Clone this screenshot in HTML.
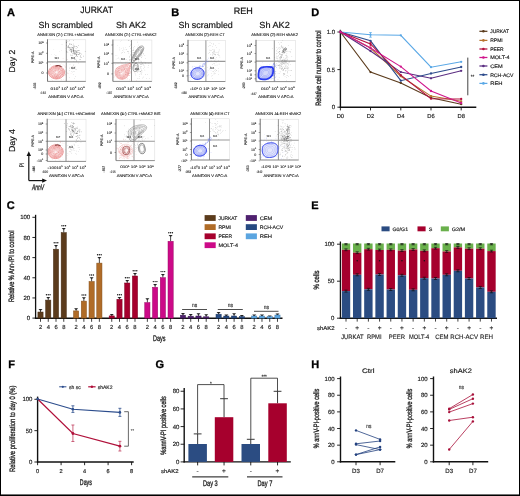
<!DOCTYPE html>
<html><head><meta charset="utf-8"><style>
html,body{margin:0;padding:0;background:#fff;}
svg{display:block;font-family:"Liberation Sans",sans-serif;will-change:transform;text-rendering:geometricPrecision;}
</style></head><body>
<svg width="520" height="496" viewBox="0 0 520 496">
<rect x="0" y="0" width="520" height="496" fill="#fff"/>
<text x="7.10" y="15.60" font-size="11" text-anchor="start" font-weight="bold" fill="#000" stroke="#000" stroke-width="0.3">A</text>
<text x="171.20" y="15.80" font-size="11" text-anchor="start" font-weight="bold" fill="#000" stroke="#000" stroke-width="0.3">B</text>
<text x="6.70" y="208.80" font-size="11" text-anchor="start" font-weight="bold" fill="#000" stroke="#000" stroke-width="0.3">C</text>
<text x="311.20" y="16.10" font-size="11" text-anchor="start" font-weight="bold" fill="#000" stroke="#000" stroke-width="0.3">D</text>
<text x="311.30" y="209.20" font-size="11" text-anchor="start" font-weight="bold" fill="#000" stroke="#000" stroke-width="0.3">E</text>
<text x="8.30" y="367.80" font-size="11" text-anchor="start" font-weight="bold" fill="#000" stroke="#000" stroke-width="0.3">F</text>
<text x="155.50" y="367.80" font-size="11" text-anchor="start" font-weight="bold" fill="#000" stroke="#000" stroke-width="0.3">G</text>
<text x="311.20" y="367.80" font-size="11" text-anchor="start" font-weight="bold" fill="#000" stroke="#000" stroke-width="0.3">H</text>
<text x="80.20" y="13.40" font-size="9.2" text-anchor="start" font-weight="normal" fill="#111" textLength="32.70" lengthAdjust="spacingAndGlyphs" stroke="#111" stroke-width="0.184">JURKAT</text>
<text x="233.80" y="13.60" font-size="9.2" text-anchor="start" font-weight="normal" fill="#111" textLength="19.00" lengthAdjust="spacingAndGlyphs" stroke="#111" stroke-width="0.184">REH</text>
<text x="38.50" y="27.60" font-size="8.8" text-anchor="start" font-weight="normal" fill="#111" textLength="54.30" lengthAdjust="spacingAndGlyphs" stroke="#111" stroke-width="0.176">Sh scrambled</text>
<text x="115.90" y="27.60" font-size="8.8" text-anchor="start" font-weight="normal" fill="#111" textLength="30.00" lengthAdjust="spacingAndGlyphs" stroke="#111" stroke-width="0.176">Sh AK2</text>
<text x="178.50" y="27.60" font-size="8.8" text-anchor="start" font-weight="normal" fill="#111" textLength="54.30" lengthAdjust="spacingAndGlyphs" stroke="#111" stroke-width="0.176">Sh scrambled</text>
<text x="259.30" y="27.60" font-size="8.8" text-anchor="start" font-weight="normal" fill="#111" textLength="30.50" lengthAdjust="spacingAndGlyphs" stroke="#111" stroke-width="0.176">Sh AK2</text>
<text transform="translate(15.20,61.10) rotate(-90)" font-size="8.7" text-anchor="middle" font-weight="normal" fill="#111" textLength="22.60" lengthAdjust="spacingAndGlyphs" stroke="#111" stroke-width="0.174">Day 2</text>
<text transform="translate(15.20,140.50) rotate(-90)" font-size="8.7" text-anchor="middle" font-weight="normal" fill="#111" textLength="23.00" lengthAdjust="spacingAndGlyphs" stroke="#111" stroke-width="0.174">Day 4</text>
<text transform="translate(24.30,165.00) rotate(-90)" font-size="6.6" text-anchor="middle" font-weight="normal" fill="#111" textLength="5.00" lengthAdjust="spacingAndGlyphs" stroke="#111" stroke-width="0.132">PI</text>
<line x1="28.80" y1="154.00" x2="28.80" y2="180.60" stroke="#111" stroke-width="1.2"/>
<polygon points="28.8,151.2 26.6,156 31.0,156" fill="#111"/>
<line x1="28.80" y1="180.60" x2="44.00" y2="180.60" stroke="#111" stroke-width="1.2"/>
<polygon points="47,180.6 42.2,178.4 42.2,182.8" fill="#111"/>
<text x="31.90" y="189.80" font-size="8.2" text-anchor="start" font-weight="normal" fill="#111" textLength="12.20" lengthAdjust="spacingAndGlyphs" font-style="italic" stroke="#111" stroke-width="0.25">AnnV</text>
<text x="37.20" y="35.90" font-size="4.0" text-anchor="start" font-weight="normal" fill="#1a1a1a" textLength="56.80" lengthAdjust="spacingAndGlyphs" stroke="#1a1a1a" stroke-width="0.1">ANNEXIN (2-) CTRL+shControl</text>
<rect x="47.50" y="39.80" width="38.30" height="41.60" fill="#fff" stroke="#d8d8d8" stroke-width="0.5"/>
<line x1="66.30" y1="39.80" x2="66.30" y2="81.40" stroke="#888" stroke-width="0.9"/>
<line x1="47.50" y1="61.90" x2="85.80" y2="61.90" stroke="#999" stroke-width="1.1"/>
<circle cx="54.96" cy="74.56" r="0.3" fill="#e07070" opacity="0.45"/>
<circle cx="55.14" cy="70.42" r="0.3" fill="#e07070" opacity="0.45"/>
<circle cx="50.92" cy="70.93" r="0.3" fill="#e07070" opacity="0.45"/>
<circle cx="63.17" cy="74.12" r="0.3" fill="#e07070" opacity="0.45"/>
<circle cx="62.72" cy="73.24" r="0.3" fill="#e07070" opacity="0.45"/>
<circle cx="58.87" cy="72.93" r="0.3" fill="#e07070" opacity="0.45"/>
<circle cx="59.54" cy="74.49" r="0.3" fill="#e07070" opacity="0.45"/>
<circle cx="51.16" cy="69.66" r="0.3" fill="#e07070" opacity="0.45"/>
<circle cx="58.33" cy="71.77" r="0.3" fill="#e07070" opacity="0.45"/>
<circle cx="59.63" cy="68.79" r="0.3" fill="#e07070" opacity="0.45"/>
<circle cx="58.35" cy="73.97" r="0.3" fill="#e07070" opacity="0.45"/>
<circle cx="52.53" cy="80.59" r="0.3" fill="#e07070" opacity="0.45"/>
<circle cx="59.84" cy="77.99" r="0.3" fill="#e07070" opacity="0.45"/>
<circle cx="52.78" cy="68.30" r="0.3" fill="#e07070" opacity="0.45"/>
<circle cx="54.44" cy="71.47" r="0.3" fill="#e07070" opacity="0.45"/>
<circle cx="60.29" cy="73.24" r="0.3" fill="#e07070" opacity="0.45"/>
<circle cx="53.82" cy="67.22" r="0.3" fill="#e07070" opacity="0.45"/>
<circle cx="53.38" cy="78.10" r="0.3" fill="#e07070" opacity="0.45"/>
<circle cx="51.65" cy="73.22" r="0.3" fill="#e07070" opacity="0.45"/>
<circle cx="59.06" cy="64.55" r="0.3" fill="#e07070" opacity="0.45"/>
<circle cx="56.79" cy="78.53" r="0.3" fill="#e07070" opacity="0.45"/>
<circle cx="55.86" cy="67.91" r="0.3" fill="#e07070" opacity="0.45"/>
<circle cx="59.48" cy="71.69" r="0.3" fill="#e07070" opacity="0.45"/>
<circle cx="47.71" cy="76.14" r="0.3" fill="#e07070" opacity="0.45"/>
<circle cx="60.52" cy="76.73" r="0.3" fill="#e07070" opacity="0.45"/>
<circle cx="65.14" cy="73.81" r="0.3" fill="#e07070" opacity="0.45"/>
<circle cx="57.22" cy="65.50" r="0.3" fill="#e07070" opacity="0.45"/>
<circle cx="60.19" cy="68.94" r="0.3" fill="#e07070" opacity="0.45"/>
<circle cx="53.78" cy="65.68" r="0.3" fill="#e07070" opacity="0.45"/>
<circle cx="50.69" cy="69.34" r="0.3" fill="#e07070" opacity="0.45"/>
<circle cx="64.23" cy="61.84" r="0.3" fill="#e07070" opacity="0.45"/>
<circle cx="47.75" cy="73.20" r="0.3" fill="#e07070" opacity="0.45"/>
<circle cx="65.16" cy="74.89" r="0.3" fill="#e07070" opacity="0.45"/>
<circle cx="58.64" cy="68.32" r="0.3" fill="#e07070" opacity="0.45"/>
<circle cx="49.78" cy="76.89" r="0.3" fill="#e07070" opacity="0.45"/>
<circle cx="63.11" cy="72.79" r="0.3" fill="#e07070" opacity="0.45"/>
<circle cx="57.97" cy="74.17" r="0.3" fill="#e07070" opacity="0.45"/>
<circle cx="66.06" cy="75.10" r="0.3" fill="#e07070" opacity="0.45"/>
<circle cx="59.61" cy="74.74" r="0.3" fill="#e07070" opacity="0.45"/>
<circle cx="62.23" cy="74.65" r="0.3" fill="#e07070" opacity="0.45"/>
<circle cx="61.55" cy="62.94" r="0.3" fill="#e07070" opacity="0.45"/>
<circle cx="55.40" cy="77.10" r="0.3" fill="#e07070" opacity="0.45"/>
<circle cx="48.63" cy="80.05" r="0.3" fill="#e07070" opacity="0.45"/>
<circle cx="59.81" cy="71.25" r="0.3" fill="#e07070" opacity="0.45"/>
<circle cx="58.45" cy="75.25" r="0.3" fill="#e07070" opacity="0.45"/>
<circle cx="57.22" cy="77.73" r="0.3" fill="#e07070" opacity="0.45"/>
<circle cx="52.53" cy="69.93" r="0.3" fill="#e07070" opacity="0.45"/>
<circle cx="62.75" cy="72.13" r="0.3" fill="#e07070" opacity="0.45"/>
<circle cx="51.22" cy="76.73" r="0.3" fill="#e07070" opacity="0.45"/>
<circle cx="65.29" cy="69.78" r="0.3" fill="#e07070" opacity="0.45"/>
<circle cx="48.22" cy="71.33" r="0.3" fill="#e07070" opacity="0.45"/>
<circle cx="55.61" cy="70.51" r="0.3" fill="#e07070" opacity="0.45"/>
<circle cx="64.93" cy="66.87" r="0.3" fill="#e07070" opacity="0.45"/>
<circle cx="64.06" cy="65.66" r="0.3" fill="#e07070" opacity="0.45"/>
<circle cx="51.78" cy="75.16" r="0.3" fill="#e07070" opacity="0.45"/>
<circle cx="63.27" cy="76.30" r="0.3" fill="#e07070" opacity="0.45"/>
<circle cx="58.57" cy="72.71" r="0.3" fill="#e07070" opacity="0.45"/>
<circle cx="57.41" cy="74.88" r="0.3" fill="#e07070" opacity="0.45"/>
<circle cx="55.44" cy="73.39" r="0.3" fill="#e07070" opacity="0.45"/>
<circle cx="59.94" cy="72.00" r="0.3" fill="#e07070" opacity="0.45"/>
<circle cx="61.08" cy="74.83" r="0.3" fill="#e07070" opacity="0.45"/>
<circle cx="68.56" cy="73.62" r="0.3" fill="#e07070" opacity="0.45"/>
<circle cx="53.93" cy="70.14" r="0.3" fill="#e07070" opacity="0.45"/>
<circle cx="56.42" cy="76.62" r="0.3" fill="#e07070" opacity="0.45"/>
<circle cx="54.48" cy="73.93" r="0.3" fill="#e07070" opacity="0.45"/>
<circle cx="67.52" cy="59.18" r="0.3" fill="#e07070" opacity="0.45"/>
<circle cx="49.76" cy="73.22" r="0.3" fill="#e07070" opacity="0.45"/>
<circle cx="58.89" cy="73.19" r="0.3" fill="#e07070" opacity="0.45"/>
<circle cx="53.91" cy="75.28" r="0.3" fill="#e07070" opacity="0.45"/>
<circle cx="58.19" cy="69.39" r="0.3" fill="#e07070" opacity="0.45"/>
<circle cx="71.08" cy="73.78" r="0.3" fill="#e07070" opacity="0.45"/>
<circle cx="53.17" cy="71.50" r="0.3" fill="#e07070" opacity="0.45"/>
<circle cx="55.15" cy="71.69" r="0.3" fill="#e07070" opacity="0.45"/>
<circle cx="62.55" cy="66.16" r="0.3" fill="#e07070" opacity="0.45"/>
<circle cx="56.10" cy="76.77" r="0.3" fill="#e07070" opacity="0.45"/>
<circle cx="61.64" cy="79.46" r="0.3" fill="#e07070" opacity="0.45"/>
<circle cx="54.45" cy="75.12" r="0.3" fill="#e07070" opacity="0.45"/>
<circle cx="63.05" cy="58.59" r="0.3" fill="#e07070" opacity="0.45"/>
<circle cx="63.03" cy="64.76" r="0.3" fill="#e07070" opacity="0.45"/>
<circle cx="60.60" cy="64.54" r="0.3" fill="#e07070" opacity="0.45"/>
<circle cx="57.56" cy="77.97" r="0.3" fill="#e07070" opacity="0.45"/>
<circle cx="55.60" cy="72.96" r="0.3" fill="#e07070" opacity="0.45"/>
<circle cx="61.28" cy="72.71" r="0.3" fill="#e07070" opacity="0.45"/>
<circle cx="55.97" cy="79.67" r="0.3" fill="#e07070" opacity="0.45"/>
<circle cx="62.79" cy="70.53" r="0.3" fill="#e07070" opacity="0.45"/>
<circle cx="72.97" cy="66.27" r="0.3" fill="#e07070" opacity="0.45"/>
<circle cx="61.99" cy="70.67" r="0.3" fill="#e07070" opacity="0.45"/>
<circle cx="57.29" cy="75.53" r="0.3" fill="#e07070" opacity="0.45"/>
<circle cx="57.83" cy="75.19" r="0.3" fill="#e07070" opacity="0.45"/>
<circle cx="60.19" cy="67.18" r="0.3" fill="#e07070" opacity="0.45"/>
<circle cx="50.34" cy="64.65" r="0.3" fill="#e07070" opacity="0.45"/>
<circle cx="64.10" cy="75.73" r="0.3" fill="#e07070" opacity="0.45"/>
<circle cx="65.34" cy="67.31" r="0.3" fill="#e07070" opacity="0.45"/>
<circle cx="56.51" cy="66.30" r="0.3" fill="#e07070" opacity="0.45"/>
<circle cx="61.10" cy="79.95" r="0.3" fill="#e07070" opacity="0.45"/>
<circle cx="51.16" cy="79.80" r="0.3" fill="#e07070" opacity="0.45"/>
<circle cx="62.43" cy="71.11" r="0.3" fill="#e07070" opacity="0.45"/>
<circle cx="55.92" cy="68.99" r="0.3" fill="#e07070" opacity="0.45"/>
<circle cx="58.90" cy="74.05" r="0.3" fill="#e07070" opacity="0.45"/>
<circle cx="65.49" cy="66.90" r="0.3" fill="#e07070" opacity="0.45"/>
<circle cx="63.32" cy="79.44" r="0.3" fill="#e07070" opacity="0.45"/>
<circle cx="65.21" cy="71.10" r="0.3" fill="#e07070" opacity="0.45"/>
<circle cx="52.04" cy="77.09" r="0.3" fill="#e07070" opacity="0.45"/>
<circle cx="57.19" cy="72.62" r="0.3" fill="#e07070" opacity="0.45"/>
<circle cx="65.05" cy="70.68" r="0.3" fill="#e07070" opacity="0.45"/>
<circle cx="58.40" cy="68.94" r="0.3" fill="#e07070" opacity="0.45"/>
<circle cx="56.44" cy="76.16" r="0.3" fill="#e07070" opacity="0.45"/>
<circle cx="56.97" cy="78.63" r="0.3" fill="#e07070" opacity="0.45"/>
<circle cx="56.13" cy="77.20" r="0.3" fill="#e07070" opacity="0.45"/>
<circle cx="65.45" cy="80.05" r="0.3" fill="#e07070" opacity="0.45"/>
<circle cx="52.47" cy="76.40" r="0.3" fill="#e07070" opacity="0.45"/>
<circle cx="49.11" cy="71.94" r="0.3" fill="#e07070" opacity="0.45"/>
<circle cx="55.35" cy="71.86" r="0.3" fill="#e07070" opacity="0.45"/>
<circle cx="52.95" cy="73.17" r="0.3" fill="#e07070" opacity="0.45"/>
<circle cx="67.25" cy="72.22" r="0.3" fill="#e07070" opacity="0.45"/>
<circle cx="59.69" cy="77.00" r="0.3" fill="#e07070" opacity="0.45"/>
<circle cx="55.31" cy="65.70" r="0.3" fill="#e07070" opacity="0.45"/>
<circle cx="53.17" cy="77.37" r="0.3" fill="#e07070" opacity="0.45"/>
<circle cx="62.54" cy="75.96" r="0.3" fill="#e07070" opacity="0.45"/>
<circle cx="56.55" cy="76.03" r="0.3" fill="#e07070" opacity="0.45"/>
<circle cx="57.50" cy="66.11" r="0.3" fill="#e07070" opacity="0.45"/>
<circle cx="62.04" cy="69.17" r="0.3" fill="#e07070" opacity="0.45"/>
<circle cx="51.09" cy="68.15" r="0.3" fill="#e07070" opacity="0.45"/>
<circle cx="49.42" cy="73.82" r="0.3" fill="#e07070" opacity="0.45"/>
<circle cx="52.65" cy="62.29" r="0.3" fill="#e07070" opacity="0.45"/>
<circle cx="60.85" cy="70.62" r="0.3" fill="#e07070" opacity="0.45"/>
<circle cx="58.25" cy="69.71" r="0.3" fill="#e07070" opacity="0.45"/>
<circle cx="61.18" cy="75.74" r="0.3" fill="#e07070" opacity="0.45"/>
<circle cx="60.50" cy="73.63" r="0.3" fill="#e07070" opacity="0.45"/>
<circle cx="64.50" cy="75.30" r="0.3" fill="#e07070" opacity="0.45"/>
<circle cx="59.21" cy="61.58" r="0.3" fill="#e07070" opacity="0.45"/>
<path d="M64.50,72.30 C64.50,73.40 64.09,74.65 63.43,75.60 C62.76,76.55 61.65,77.47 60.50,78.02 C59.35,78.57 57.83,78.90 56.50,78.90 C55.17,78.90 53.65,78.57 52.50,78.02 C51.35,77.47 50.24,76.55 49.57,75.60 C48.91,74.65 48.50,73.40 48.50,72.30 C48.50,71.20 48.91,69.95 49.57,69.00 C50.24,68.05 51.35,67.13 52.50,66.58 C53.65,66.03 55.17,65.70 56.50,65.70 C57.83,65.70 59.35,66.03 60.50,66.58 C61.65,67.13 62.76,68.05 63.43,69.00 C64.09,69.95 64.50,71.20 64.50,72.30Z" fill="#f2a8a8" fill-opacity="0.12"/>
<path d="M64.50,72.30 C64.50,73.40 64.09,74.65 63.43,75.60 C62.76,76.55 61.65,77.47 60.50,78.02 C59.35,78.57 57.83,78.90 56.50,78.90 C55.17,78.90 53.65,78.57 52.50,78.02 C51.35,77.47 50.24,76.55 49.57,75.60 C48.91,74.65 48.50,73.40 48.50,72.30 C48.50,71.20 48.91,69.95 49.57,69.00 C50.24,68.05 51.35,67.13 52.50,66.58 C53.65,66.03 55.17,65.70 56.50,65.70 C57.83,65.70 59.35,66.03 60.50,66.58 C61.65,67.13 62.76,68.05 63.43,69.00 C64.09,69.95 64.50,71.20 64.50,72.30Z" fill="none" stroke="#dd3c3c" stroke-width="0.5" stroke-opacity="0.95"/>
<path d="M63.30,72.30 C63.30,73.23 62.96,74.30 62.39,75.10 C61.82,75.91 60.88,76.69 59.90,77.16 C58.92,77.63 57.63,77.91 56.50,77.91 C55.37,77.91 54.08,77.63 53.10,77.16 C52.12,76.69 51.18,75.91 50.61,75.10 C50.04,74.30 49.70,73.23 49.70,72.30 C49.70,71.36 50.04,70.30 50.61,69.50 C51.18,68.69 52.12,67.91 53.10,67.44 C54.08,66.97 55.37,66.69 56.50,66.69 C57.63,66.69 58.92,66.97 59.90,67.44 C60.88,67.91 61.82,68.69 62.39,69.50 C62.96,70.30 63.30,71.36 63.30,72.30Z" fill="none" stroke="#dd3c3c" stroke-width="0.5" stroke-opacity="0.85"/>
<path d="M62.10,72.30 C62.10,73.07 61.82,73.94 61.35,74.61 C60.88,75.28 60.11,75.92 59.30,76.30 C58.49,76.69 57.43,76.92 56.50,76.92 C55.57,76.92 54.51,76.69 53.70,76.30 C52.89,75.92 52.12,75.28 51.65,74.61 C51.18,73.94 50.90,73.07 50.90,72.30 C50.90,71.53 51.18,70.66 51.65,69.99 C52.12,69.32 52.89,68.68 53.70,68.30 C54.51,67.91 55.57,67.68 56.50,67.68 C57.43,67.68 58.49,67.91 59.30,68.30 C60.11,68.68 60.88,69.32 61.35,69.99 C61.82,70.66 62.10,71.53 62.10,72.30Z" fill="none" stroke="#dd3c3c" stroke-width="0.5" stroke-opacity="0.75"/>
<path d="M60.90,72.30 C60.90,72.91 60.68,73.59 60.31,74.11 C59.94,74.64 59.34,75.14 58.70,75.44 C58.06,75.75 57.23,75.93 56.50,75.93 C55.77,75.93 54.94,75.75 54.30,75.44 C53.66,75.14 53.06,74.64 52.69,74.11 C52.32,73.59 52.10,72.91 52.10,72.30 C52.10,71.69 52.32,71.01 52.69,70.48 C53.06,69.96 53.66,69.46 54.30,69.16 C54.94,68.85 55.77,68.67 56.50,68.67 C57.23,68.67 58.06,68.85 58.70,69.16 C59.34,69.46 59.94,69.96 60.31,70.48 C60.68,71.01 60.90,71.69 60.90,72.30Z" fill="none" stroke="#dd3c3c" stroke-width="0.5" stroke-opacity="0.65"/>
<path d="M59.70,72.30 C59.70,72.74 59.54,73.24 59.27,73.62 C59.00,74.00 58.56,74.37 58.10,74.59 C57.64,74.81 57.03,74.94 56.50,74.94 C55.97,74.94 55.36,74.81 54.90,74.59 C54.44,74.37 54.00,74.00 53.73,73.62 C53.46,73.24 53.30,72.74 53.30,72.30 C53.30,71.86 53.46,71.36 53.73,70.98 C54.00,70.60 54.44,70.23 54.90,70.01 C55.36,69.79 55.97,69.66 56.50,69.66 C57.03,69.66 57.64,69.79 58.10,70.01 C58.56,70.23 59.00,70.60 59.27,70.98 C59.54,71.36 59.70,71.86 59.70,72.30Z" fill="none" stroke="#dd3c3c" stroke-width="0.5" stroke-opacity="0.55"/>
<path d="M58.50,72.30 C58.50,72.58 58.40,72.89 58.23,73.12 C58.07,73.36 57.79,73.59 57.50,73.73 C57.21,73.87 56.83,73.95 56.50,73.95 C56.17,73.95 55.79,73.87 55.50,73.73 C55.21,73.59 54.93,73.36 54.77,73.12 C54.60,72.89 54.50,72.58 54.50,72.30 C54.50,72.02 54.60,71.71 54.77,71.47 C54.93,71.24 55.21,71.01 55.50,70.87 C55.79,70.73 56.17,70.65 56.50,70.65 C56.83,70.65 57.21,70.73 57.50,70.87 C57.79,71.01 58.07,71.24 58.23,71.47 C58.40,71.71 58.50,72.02 58.50,72.30Z" fill="none" stroke="#dd3c3c" stroke-width="0.5" stroke-opacity="0.45"/>
<path d="M55.5,66 q3,-1.2 6,0.5" stroke="#5a0d0d" stroke-width="0.9" fill="none"/>
<circle cx="76.27" cy="52.33" r="0.3" fill="#333" opacity="0.8"/>
<circle cx="73.07" cy="45.27" r="0.3" fill="#333" opacity="0.8"/>
<circle cx="81.31" cy="57.79" r="0.3" fill="#333" opacity="0.8"/>
<circle cx="78.37" cy="50.78" r="0.3" fill="#333" opacity="0.8"/>
<circle cx="73.26" cy="43.95" r="0.3" fill="#333" opacity="0.8"/>
<circle cx="77.12" cy="56.47" r="0.3" fill="#333" opacity="0.8"/>
<circle cx="66.41" cy="45.69" r="0.3" fill="#333" opacity="0.8"/>
<circle cx="76.52" cy="46.36" r="0.3" fill="#333" opacity="0.8"/>
<circle cx="66.70" cy="42.24" r="0.3" fill="#333" opacity="0.8"/>
<circle cx="71.48" cy="44.25" r="0.3" fill="#333" opacity="0.8"/>
<circle cx="74.13" cy="51.98" r="0.3" fill="#333" opacity="0.8"/>
<circle cx="76.54" cy="55.24" r="0.3" fill="#333" opacity="0.8"/>
<circle cx="80.01" cy="59.25" r="0.3" fill="#333" opacity="0.8"/>
<circle cx="68.75" cy="45.64" r="0.3" fill="#333" opacity="0.8"/>
<circle cx="69.76" cy="44.26" r="0.3" fill="#333" opacity="0.8"/>
<circle cx="73.67" cy="50.80" r="0.3" fill="#333" opacity="0.8"/>
<circle cx="75.96" cy="46.61" r="0.3" fill="#333" opacity="0.8"/>
<circle cx="69.05" cy="47.58" r="0.3" fill="#333" opacity="0.8"/>
<circle cx="73.20" cy="49.34" r="0.3" fill="#333" opacity="0.8"/>
<circle cx="73.75" cy="48.09" r="0.3" fill="#333" opacity="0.8"/>
<circle cx="76.81" cy="54.17" r="0.3" fill="#333" opacity="0.8"/>
<circle cx="73.65" cy="48.34" r="0.3" fill="#333" opacity="0.8"/>
<circle cx="73.30" cy="40.73" r="0.3" fill="#333" opacity="0.8"/>
<circle cx="70.07" cy="48.48" r="0.3" fill="#333" opacity="0.8"/>
<circle cx="67.98" cy="47.66" r="0.3" fill="#333" opacity="0.8"/>
<circle cx="74.59" cy="46.44" r="0.3" fill="#333" opacity="0.8"/>
<circle cx="73.00" cy="49.19" r="0.3" fill="#333" opacity="0.8"/>
<circle cx="75.84" cy="54.44" r="0.3" fill="#333" opacity="0.8"/>
<circle cx="73.85" cy="47.84" r="0.3" fill="#333" opacity="0.8"/>
<circle cx="73.42" cy="50.37" r="0.3" fill="#333" opacity="0.8"/>
<circle cx="76.94" cy="54.04" r="0.3" fill="#333" opacity="0.8"/>
<circle cx="71.11" cy="44.17" r="0.3" fill="#333" opacity="0.8"/>
<circle cx="72.51" cy="47.33" r="0.3" fill="#333" opacity="0.8"/>
<circle cx="69.55" cy="47.58" r="0.3" fill="#333" opacity="0.8"/>
<circle cx="72.04" cy="50.05" r="0.3" fill="#333" opacity="0.8"/>
<circle cx="76.09" cy="50.93" r="0.3" fill="#333" opacity="0.8"/>
<circle cx="83.30" cy="56.12" r="0.3" fill="#333" opacity="0.8"/>
<circle cx="78.41" cy="54.41" r="0.3" fill="#333" opacity="0.8"/>
<circle cx="78.46" cy="45.46" r="0.3" fill="#333" opacity="0.8"/>
<circle cx="70.99" cy="49.86" r="0.3" fill="#333" opacity="0.8"/>
<circle cx="76.41" cy="61.04" r="0.3" fill="#333" opacity="0.8"/>
<circle cx="75.29" cy="56.48" r="0.3" fill="#333" opacity="0.8"/>
<circle cx="77.07" cy="56.48" r="0.3" fill="#333" opacity="0.8"/>
<circle cx="76.04" cy="51.82" r="0.3" fill="#333" opacity="0.8"/>
<circle cx="76.04" cy="48.49" r="0.3" fill="#333" opacity="0.8"/>
<circle cx="78.73" cy="50.53" r="0.3" fill="#333" opacity="0.8"/>
<circle cx="75.00" cy="59.31" r="0.3" fill="#333" opacity="0.8"/>
<circle cx="73.11" cy="50.47" r="0.3" fill="#333" opacity="0.8"/>
<circle cx="78.65" cy="54.23" r="0.3" fill="#333" opacity="0.8"/>
<circle cx="70.77" cy="49.75" r="0.3" fill="#333" opacity="0.8"/>
<circle cx="76.33" cy="55.13" r="0.3" fill="#333" opacity="0.8"/>
<circle cx="70.91" cy="55.22" r="0.3" fill="#333" opacity="0.8"/>
<circle cx="80.67" cy="55.57" r="0.3" fill="#333" opacity="0.8"/>
<circle cx="75.07" cy="50.18" r="0.3" fill="#333" opacity="0.8"/>
<circle cx="79.66" cy="52.28" r="0.3" fill="#333" opacity="0.8"/>
<circle cx="76.70" cy="51.09" r="0.3" fill="#333" opacity="0.8"/>
<circle cx="71.22" cy="51.71" r="0.3" fill="#333" opacity="0.8"/>
<circle cx="79.34" cy="54.56" r="0.3" fill="#333" opacity="0.8"/>
<circle cx="71.29" cy="52.09" r="0.3" fill="#333" opacity="0.8"/>
<circle cx="73.80" cy="51.98" r="0.3" fill="#333" opacity="0.8"/>
<circle cx="80.09" cy="59.19" r="0.3" fill="#333" opacity="0.8"/>
<circle cx="71.92" cy="57.82" r="0.3" fill="#333" opacity="0.8"/>
<circle cx="74.01" cy="53.84" r="0.3" fill="#333" opacity="0.8"/>
<circle cx="71.41" cy="49.09" r="0.3" fill="#333" opacity="0.8"/>
<circle cx="67.00" cy="52.71" r="0.3" fill="#333" opacity="0.8"/>
<circle cx="79.46" cy="50.31" r="0.3" fill="#333" opacity="0.8"/>
<circle cx="67.98" cy="41.10" r="0.3" fill="#333" opacity="0.8"/>
<circle cx="78.70" cy="52.52" r="0.3" fill="#333" opacity="0.8"/>
<circle cx="73.76" cy="49.71" r="0.3" fill="#333" opacity="0.8"/>
<circle cx="73.52" cy="46.76" r="0.3" fill="#333" opacity="0.8"/>
<circle cx="74.10" cy="45.89" r="0.3" fill="#333" opacity="0.8"/>
<circle cx="73.71" cy="51.92" r="0.3" fill="#333" opacity="0.8"/>
<circle cx="75.87" cy="51.43" r="0.3" fill="#333" opacity="0.8"/>
<circle cx="70.39" cy="49.13" r="0.3" fill="#333" opacity="0.8"/>
<circle cx="72.06" cy="55.33" r="0.3" fill="#333" opacity="0.8"/>
<circle cx="77.07" cy="52.66" r="0.3" fill="#333" opacity="0.8"/>
<circle cx="72.12" cy="47.20" r="0.3" fill="#333" opacity="0.8"/>
<circle cx="70.25" cy="47.20" r="0.3" fill="#333" opacity="0.8"/>
<circle cx="75.18" cy="53.65" r="0.3" fill="#333" opacity="0.8"/>
<circle cx="76.28" cy="60.09" r="0.3" fill="#333" opacity="0.8"/>
<circle cx="71.18" cy="49.14" r="0.3" fill="#333" opacity="0.8"/>
<circle cx="85.18" cy="51.82" r="0.3" fill="#333" opacity="0.8"/>
<circle cx="71.91" cy="50.20" r="0.3" fill="#333" opacity="0.8"/>
<circle cx="74.62" cy="52.89" r="0.3" fill="#333" opacity="0.8"/>
<circle cx="73.05" cy="51.67" r="0.3" fill="#333" opacity="0.8"/>
<circle cx="74.21" cy="53.92" r="0.3" fill="#333" opacity="0.8"/>
<circle cx="66.43" cy="42.70" r="0.3" fill="#333" opacity="0.8"/>
<circle cx="73.99" cy="47.28" r="0.3" fill="#333" opacity="0.8"/>
<circle cx="69.82" cy="50.44" r="0.3" fill="#333" opacity="0.8"/>
<circle cx="71.40" cy="51.53" r="0.3" fill="#333" opacity="0.8"/>
<circle cx="76.98" cy="54.12" r="0.3" fill="#333" opacity="0.8"/>
<circle cx="76.03" cy="52.00" r="0.3" fill="#333" opacity="0.8"/>
<circle cx="68.36" cy="47.09" r="0.3" fill="#333" opacity="0.8"/>
<circle cx="75.82" cy="50.32" r="0.3" fill="#333" opacity="0.8"/>
<circle cx="73.60" cy="53.43" r="0.3" fill="#333" opacity="0.8"/>
<circle cx="70.49" cy="50.93" r="0.3" fill="#333" opacity="0.8"/>
<circle cx="81.45" cy="54.03" r="0.3" fill="#333" opacity="0.8"/>
<circle cx="74.59" cy="50.85" r="0.3" fill="#333" opacity="0.8"/>
<circle cx="80.16" cy="56.30" r="0.3" fill="#333" opacity="0.8"/>
<circle cx="77.59" cy="50.94" r="0.3" fill="#333" opacity="0.8"/>
<circle cx="73.94" cy="50.92" r="0.3" fill="#333" opacity="0.8"/>
<circle cx="66.90" cy="51.39" r="0.3" fill="#333" opacity="0.8"/>
<circle cx="77.60" cy="47.13" r="0.3" fill="#333" opacity="0.8"/>
<circle cx="76.98" cy="52.54" r="0.3" fill="#333" opacity="0.8"/>
<circle cx="75.79" cy="53.53" r="0.3" fill="#333" opacity="0.8"/>
<circle cx="68.00" cy="46.19" r="0.3" fill="#333" opacity="0.8"/>
<circle cx="79.97" cy="52.96" r="0.3" fill="#333" opacity="0.8"/>
<circle cx="69.91" cy="43.34" r="0.3" fill="#333" opacity="0.8"/>
<circle cx="69.12" cy="48.91" r="0.3" fill="#333" opacity="0.8"/>
<circle cx="80.77" cy="57.12" r="0.3" fill="#333" opacity="0.8"/>
<circle cx="74.98" cy="59.70" r="0.3" fill="#333" opacity="0.8"/>
<circle cx="71.92" cy="47.17" r="0.3" fill="#333" opacity="0.8"/>
<circle cx="76.11" cy="54.40" r="0.3" fill="#333" opacity="0.8"/>
<circle cx="69.94" cy="44.05" r="0.3" fill="#333" opacity="0.8"/>
<circle cx="75.16" cy="52.68" r="0.3" fill="#333" opacity="0.8"/>
<circle cx="68.77" cy="46.74" r="0.3" fill="#333" opacity="0.8"/>
<circle cx="71.83" cy="51.19" r="0.3" fill="#333" opacity="0.8"/>
<circle cx="73.53" cy="50.38" r="0.3" fill="#333" opacity="0.8"/>
<circle cx="72.59" cy="53.84" r="0.3" fill="#333" opacity="0.8"/>
<circle cx="79.56" cy="53.43" r="0.3" fill="#333" opacity="0.8"/>
<circle cx="77.38" cy="50.56" r="0.3" fill="#333" opacity="0.8"/>
<circle cx="74.29" cy="53.89" r="0.3" fill="#333" opacity="0.8"/>
<circle cx="80.06" cy="53.71" r="0.3" fill="#333" opacity="0.8"/>
<circle cx="73.70" cy="51.51" r="0.3" fill="#333" opacity="0.8"/>
<circle cx="68.01" cy="47.01" r="0.3" fill="#333" opacity="0.8"/>
<circle cx="71.30" cy="50.51" r="0.3" fill="#333" opacity="0.8"/>
<circle cx="69.48" cy="40.83" r="0.3" fill="#333" opacity="0.8"/>
<circle cx="74.15" cy="52.04" r="0.3" fill="#333" opacity="0.8"/>
<circle cx="71.80" cy="52.72" r="0.3" fill="#333" opacity="0.8"/>
<circle cx="72.91" cy="48.08" r="0.3" fill="#333" opacity="0.8"/>
<circle cx="73.91" cy="61.73" r="0.27" fill="#666" opacity="0.6"/>
<circle cx="69.29" cy="67.92" r="0.27" fill="#666" opacity="0.6"/>
<circle cx="75.40" cy="67.35" r="0.27" fill="#666" opacity="0.6"/>
<circle cx="73.23" cy="65.38" r="0.27" fill="#666" opacity="0.6"/>
<circle cx="73.21" cy="74.65" r="0.27" fill="#666" opacity="0.6"/>
<circle cx="69.25" cy="77.46" r="0.27" fill="#666" opacity="0.6"/>
<circle cx="69.42" cy="68.07" r="0.27" fill="#666" opacity="0.6"/>
<circle cx="72.69" cy="72.10" r="0.27" fill="#666" opacity="0.6"/>
<circle cx="67.05" cy="59.60" r="0.27" fill="#666" opacity="0.6"/>
<circle cx="74.42" cy="71.18" r="0.27" fill="#666" opacity="0.6"/>
<circle cx="74.49" cy="78.52" r="0.27" fill="#666" opacity="0.6"/>
<circle cx="72.82" cy="69.02" r="0.27" fill="#666" opacity="0.6"/>
<circle cx="75.72" cy="69.48" r="0.27" fill="#666" opacity="0.6"/>
<circle cx="78.65" cy="63.05" r="0.27" fill="#666" opacity="0.6"/>
<circle cx="70.50" cy="54.22" r="0.27" fill="#666" opacity="0.6"/>
<circle cx="75.25" cy="66.51" r="0.27" fill="#666" opacity="0.6"/>
<circle cx="75.70" cy="76.62" r="0.27" fill="#666" opacity="0.6"/>
<circle cx="71.98" cy="66.98" r="0.27" fill="#666" opacity="0.6"/>
<circle cx="70.00" cy="64.65" r="0.27" fill="#666" opacity="0.6"/>
<circle cx="69.48" cy="70.56" r="0.27" fill="#666" opacity="0.6"/>
<circle cx="72.15" cy="68.27" r="0.27" fill="#666" opacity="0.6"/>
<circle cx="71.31" cy="71.66" r="0.27" fill="#666" opacity="0.6"/>
<circle cx="73.98" cy="67.43" r="0.27" fill="#666" opacity="0.6"/>
<circle cx="74.66" cy="67.39" r="0.27" fill="#666" opacity="0.6"/>
<circle cx="67.39" cy="73.82" r="0.27" fill="#666" opacity="0.6"/>
<circle cx="73.86" cy="64.17" r="0.27" fill="#666" opacity="0.6"/>
<circle cx="76.32" cy="69.38" r="0.27" fill="#666" opacity="0.6"/>
<circle cx="65.74" cy="74.44" r="0.27" fill="#666" opacity="0.6"/>
<circle cx="73.33" cy="71.57" r="0.27" fill="#666" opacity="0.6"/>
<circle cx="72.79" cy="67.40" r="0.27" fill="#666" opacity="0.6"/>
<circle cx="65.81" cy="71.89" r="0.27" fill="#666" opacity="0.6"/>
<circle cx="72.12" cy="66.85" r="0.27" fill="#666" opacity="0.6"/>
<circle cx="73.40" cy="68.31" r="0.27" fill="#666" opacity="0.6"/>
<circle cx="74.70" cy="66.52" r="0.27" fill="#666" opacity="0.6"/>
<circle cx="71.85" cy="59.44" r="0.27" fill="#666" opacity="0.6"/>
<circle cx="55.46" cy="55.38" r="0.25" fill="#888" opacity="0.5"/>
<circle cx="66.02" cy="50.18" r="0.25" fill="#888" opacity="0.5"/>
<circle cx="57.27" cy="59.92" r="0.25" fill="#888" opacity="0.5"/>
<circle cx="56.05" cy="55.67" r="0.25" fill="#888" opacity="0.5"/>
<circle cx="68.07" cy="52.20" r="0.25" fill="#888" opacity="0.5"/>
<circle cx="65.36" cy="48.45" r="0.25" fill="#888" opacity="0.5"/>
<circle cx="59.25" cy="51.61" r="0.25" fill="#888" opacity="0.5"/>
<circle cx="58.69" cy="57.65" r="0.25" fill="#888" opacity="0.5"/>
<circle cx="72.34" cy="48.67" r="0.25" fill="#888" opacity="0.5"/>
<circle cx="54.55" cy="54.49" r="0.25" fill="#888" opacity="0.5"/>
<circle cx="51.67" cy="54.49" r="0.25" fill="#888" opacity="0.5"/>
<circle cx="61.43" cy="50.61" r="0.25" fill="#888" opacity="0.5"/>
<circle cx="61.19" cy="44.25" r="0.25" fill="#888" opacity="0.5"/>
<circle cx="62.56" cy="44.28" r="0.25" fill="#888" opacity="0.5"/>
<circle cx="53.82" cy="49.22" r="0.25" fill="#888" opacity="0.5"/>
<text x="54.50" y="58.60" font-size="2.8" text-anchor="start" font-weight="normal" fill="#222" textLength="4.20" lengthAdjust="spacingAndGlyphs" stroke="#222" stroke-width="0.1">10.1</text>
<text x="71.00" y="58.60" font-size="2.8" text-anchor="start" font-weight="normal" fill="#222" textLength="4.20" lengthAdjust="spacingAndGlyphs" stroke="#222" stroke-width="0.1">10.1</text>
<text x="71.00" y="68.80" font-size="2.8" text-anchor="start" font-weight="normal" fill="#222" textLength="4.20" lengthAdjust="spacingAndGlyphs" stroke="#222" stroke-width="0.1">10.1</text>
<line x1="47.50" y1="39.30" x2="47.50" y2="81.40" stroke="#555" stroke-width="0.8"/>
<line x1="47.50" y1="81.40" x2="85.80" y2="81.40" stroke="#777" stroke-width="0.8"/>
<line x1="46.00" y1="43.00" x2="47.50" y2="43.00" stroke="#444" stroke-width="0.5"/>
<text x="43.50" y="44.30" font-size="3.6" text-anchor="end" font-weight="normal" fill="#222" stroke="#222" stroke-width="0.1">10<tspan dy="-1.44" font-size="2.16">3</tspan><tspan dy="1.44"></tspan></text>
<line x1="46.00" y1="53.30" x2="47.50" y2="53.30" stroke="#444" stroke-width="0.5"/>
<text x="43.50" y="54.60" font-size="3.6" text-anchor="end" font-weight="normal" fill="#222" stroke="#222" stroke-width="0.1">10<tspan dy="-1.44" font-size="2.16">2</tspan><tspan dy="1.44"></tspan></text>
<line x1="46.00" y1="63.00" x2="47.50" y2="63.00" stroke="#444" stroke-width="0.5"/>
<text x="43.50" y="64.30" font-size="3.6" text-anchor="end" font-weight="normal" fill="#222" stroke="#222" stroke-width="0.1">10<tspan dy="-1.44" font-size="2.16">1</tspan><tspan dy="1.44"></tspan></text>
<line x1="46.00" y1="73.00" x2="47.50" y2="73.00" stroke="#444" stroke-width="0.5"/>
<text x="43.50" y="74.30" font-size="3.6" text-anchor="end" font-weight="normal" fill="#222" stroke="#222" stroke-width="0.1">0</text>
<text x="50.50" y="89.80" font-size="3.7" text-anchor="start" font-weight="normal" fill="#222" textLength="34.00" lengthAdjust="spacingAndGlyphs" stroke="#222" stroke-width="0.1">010<tspan dy="-1.48" font-size="2.22">1</tspan><tspan dy="1.48"> 10</tspan><tspan dy="-1.48" font-size="2.22">1</tspan><tspan dy="1.48"> 10</tspan><tspan dy="-1.48" font-size="2.22">2</tspan><tspan dy="1.48"> 10</tspan><tspan dy="-1.48" font-size="2.22">3</tspan><tspan dy="1.48"></tspan></text>
<text transform="translate(33.90,57.50) rotate(-90)" font-size="3.6" text-anchor="middle" font-weight="normal" fill="#222" textLength="11.50" lengthAdjust="spacingAndGlyphs" stroke="#222" stroke-width="0.1">PIPE-A</text>
<text transform="translate(35.90,86.00) rotate(-90)" font-size="3.6" text-anchor="middle" font-weight="normal" fill="#222" textLength="6.60" lengthAdjust="spacingAndGlyphs" stroke="#222" stroke-width="0.1">-503</text>
<text x="40.10" y="94.10" font-size="3.6" text-anchor="start" font-weight="normal" fill="#222" textLength="6.00" lengthAdjust="spacingAndGlyphs" stroke="#222" stroke-width="0.1">-162</text>
<text x="48.20" y="97.90" font-size="3.8" text-anchor="start" font-weight="normal" fill="#1a1a1a" textLength="35.20" lengthAdjust="spacingAndGlyphs" stroke="#1a1a1a" stroke-width="0.1">ANNEXIN V APC-A</text>
<text x="105.00" y="35.70" font-size="4.0" text-anchor="start" font-weight="normal" fill="#1a1a1a" textLength="51.50" lengthAdjust="spacingAndGlyphs" stroke="#1a1a1a" stroke-width="0.1">ANNEXIN (2-) CTRL+shAK2</text>
<rect x="112.90" y="40.00" width="39.00" height="41.40" fill="#fff" stroke="#d8d8d8" stroke-width="0.5"/>
<line x1="131.50" y1="40.00" x2="131.50" y2="81.40" stroke="#888" stroke-width="0.9"/>
<line x1="112.90" y1="62.90" x2="151.90" y2="62.90" stroke="#999" stroke-width="1.1"/>
<circle cx="120.79" cy="75.86" r="0.3" fill="#e07070" opacity="0.5"/>
<circle cx="123.45" cy="70.21" r="0.3" fill="#e07070" opacity="0.5"/>
<circle cx="125.99" cy="79.12" r="0.3" fill="#e07070" opacity="0.5"/>
<circle cx="123.03" cy="73.65" r="0.3" fill="#e07070" opacity="0.5"/>
<circle cx="129.82" cy="73.21" r="0.3" fill="#e07070" opacity="0.5"/>
<circle cx="135.15" cy="63.07" r="0.3" fill="#e07070" opacity="0.5"/>
<circle cx="122.78" cy="73.88" r="0.3" fill="#e07070" opacity="0.5"/>
<circle cx="128.31" cy="75.01" r="0.3" fill="#e07070" opacity="0.5"/>
<circle cx="121.50" cy="67.26" r="0.3" fill="#e07070" opacity="0.5"/>
<circle cx="123.57" cy="76.65" r="0.3" fill="#e07070" opacity="0.5"/>
<circle cx="117.01" cy="67.38" r="0.3" fill="#e07070" opacity="0.5"/>
<circle cx="122.86" cy="63.28" r="0.3" fill="#e07070" opacity="0.5"/>
<circle cx="121.57" cy="70.04" r="0.3" fill="#e07070" opacity="0.5"/>
<circle cx="125.48" cy="68.84" r="0.3" fill="#e07070" opacity="0.5"/>
<circle cx="118.15" cy="70.23" r="0.3" fill="#e07070" opacity="0.5"/>
<circle cx="122.73" cy="69.01" r="0.3" fill="#e07070" opacity="0.5"/>
<circle cx="123.07" cy="75.38" r="0.3" fill="#e07070" opacity="0.5"/>
<circle cx="129.52" cy="79.67" r="0.3" fill="#e07070" opacity="0.5"/>
<circle cx="118.69" cy="70.11" r="0.3" fill="#e07070" opacity="0.5"/>
<circle cx="119.01" cy="71.85" r="0.3" fill="#e07070" opacity="0.5"/>
<circle cx="125.87" cy="65.89" r="0.3" fill="#e07070" opacity="0.5"/>
<circle cx="125.55" cy="71.88" r="0.3" fill="#e07070" opacity="0.5"/>
<circle cx="112.96" cy="73.31" r="0.3" fill="#e07070" opacity="0.5"/>
<circle cx="129.57" cy="63.59" r="0.3" fill="#e07070" opacity="0.5"/>
<circle cx="127.44" cy="72.94" r="0.3" fill="#e07070" opacity="0.5"/>
<circle cx="125.61" cy="73.99" r="0.3" fill="#e07070" opacity="0.5"/>
<circle cx="130.17" cy="70.99" r="0.3" fill="#e07070" opacity="0.5"/>
<circle cx="127.80" cy="70.16" r="0.3" fill="#e07070" opacity="0.5"/>
<circle cx="127.00" cy="68.34" r="0.3" fill="#e07070" opacity="0.5"/>
<circle cx="122.40" cy="79.79" r="0.3" fill="#e07070" opacity="0.5"/>
<circle cx="125.45" cy="71.29" r="0.3" fill="#e07070" opacity="0.5"/>
<circle cx="116.70" cy="68.44" r="0.3" fill="#e07070" opacity="0.5"/>
<circle cx="124.07" cy="76.23" r="0.3" fill="#e07070" opacity="0.5"/>
<circle cx="125.34" cy="74.36" r="0.3" fill="#e07070" opacity="0.5"/>
<circle cx="122.77" cy="78.08" r="0.3" fill="#e07070" opacity="0.5"/>
<circle cx="120.85" cy="69.53" r="0.3" fill="#e07070" opacity="0.5"/>
<circle cx="127.88" cy="72.29" r="0.3" fill="#e07070" opacity="0.5"/>
<circle cx="121.47" cy="69.41" r="0.3" fill="#e07070" opacity="0.5"/>
<circle cx="121.59" cy="74.81" r="0.3" fill="#e07070" opacity="0.5"/>
<circle cx="124.95" cy="66.56" r="0.3" fill="#e07070" opacity="0.5"/>
<circle cx="125.34" cy="72.81" r="0.3" fill="#e07070" opacity="0.5"/>
<circle cx="117.50" cy="75.48" r="0.3" fill="#e07070" opacity="0.5"/>
<circle cx="121.46" cy="70.49" r="0.3" fill="#e07070" opacity="0.5"/>
<circle cx="127.38" cy="77.94" r="0.3" fill="#e07070" opacity="0.5"/>
<circle cx="119.21" cy="73.97" r="0.3" fill="#e07070" opacity="0.5"/>
<circle cx="120.28" cy="77.38" r="0.3" fill="#e07070" opacity="0.5"/>
<circle cx="119.44" cy="75.65" r="0.3" fill="#e07070" opacity="0.5"/>
<circle cx="135.20" cy="60.57" r="0.3" fill="#e07070" opacity="0.5"/>
<circle cx="120.61" cy="74.25" r="0.3" fill="#e07070" opacity="0.5"/>
<circle cx="122.49" cy="68.99" r="0.3" fill="#e07070" opacity="0.5"/>
<circle cx="134.84" cy="72.36" r="0.3" fill="#e07070" opacity="0.5"/>
<circle cx="113.96" cy="75.84" r="0.3" fill="#e07070" opacity="0.5"/>
<circle cx="113.53" cy="77.18" r="0.3" fill="#e07070" opacity="0.5"/>
<circle cx="119.82" cy="72.65" r="0.3" fill="#e07070" opacity="0.5"/>
<circle cx="129.94" cy="72.53" r="0.3" fill="#e07070" opacity="0.5"/>
<circle cx="115.35" cy="64.37" r="0.3" fill="#e07070" opacity="0.5"/>
<circle cx="129.50" cy="75.33" r="0.3" fill="#e07070" opacity="0.5"/>
<circle cx="118.51" cy="75.87" r="0.3" fill="#e07070" opacity="0.5"/>
<circle cx="125.73" cy="74.91" r="0.3" fill="#e07070" opacity="0.5"/>
<circle cx="127.95" cy="75.30" r="0.3" fill="#e07070" opacity="0.5"/>
<circle cx="127.85" cy="60.94" r="0.3" fill="#e07070" opacity="0.5"/>
<circle cx="123.93" cy="74.21" r="0.3" fill="#e07070" opacity="0.5"/>
<circle cx="137.04" cy="67.71" r="0.3" fill="#e07070" opacity="0.5"/>
<circle cx="121.19" cy="72.16" r="0.3" fill="#e07070" opacity="0.5"/>
<circle cx="127.87" cy="70.01" r="0.3" fill="#e07070" opacity="0.5"/>
<circle cx="129.31" cy="68.45" r="0.3" fill="#e07070" opacity="0.5"/>
<circle cx="124.47" cy="69.63" r="0.3" fill="#e07070" opacity="0.5"/>
<circle cx="123.87" cy="68.89" r="0.3" fill="#e07070" opacity="0.5"/>
<circle cx="114.21" cy="76.92" r="0.3" fill="#e07070" opacity="0.5"/>
<circle cx="124.67" cy="69.49" r="0.3" fill="#e07070" opacity="0.5"/>
<circle cx="124.11" cy="76.46" r="0.3" fill="#e07070" opacity="0.5"/>
<circle cx="117.62" cy="71.50" r="0.3" fill="#e07070" opacity="0.5"/>
<circle cx="125.97" cy="74.37" r="0.3" fill="#e07070" opacity="0.5"/>
<circle cx="121.16" cy="62.52" r="0.3" fill="#e07070" opacity="0.5"/>
<circle cx="129.84" cy="73.48" r="0.3" fill="#e07070" opacity="0.5"/>
<circle cx="123.07" cy="70.75" r="0.3" fill="#e07070" opacity="0.5"/>
<circle cx="124.45" cy="70.08" r="0.3" fill="#e07070" opacity="0.5"/>
<circle cx="117.36" cy="68.67" r="0.3" fill="#e07070" opacity="0.5"/>
<circle cx="119.72" cy="69.24" r="0.3" fill="#e07070" opacity="0.5"/>
<circle cx="116.63" cy="74.86" r="0.3" fill="#e07070" opacity="0.5"/>
<circle cx="115.80" cy="74.97" r="0.3" fill="#e07070" opacity="0.5"/>
<circle cx="117.42" cy="73.59" r="0.3" fill="#e07070" opacity="0.5"/>
<circle cx="130.56" cy="72.91" r="0.3" fill="#e07070" opacity="0.5"/>
<circle cx="118.98" cy="72.22" r="0.3" fill="#e07070" opacity="0.5"/>
<circle cx="123.81" cy="64.20" r="0.3" fill="#e07070" opacity="0.5"/>
<circle cx="119.66" cy="72.73" r="0.3" fill="#e07070" opacity="0.5"/>
<circle cx="120.42" cy="72.36" r="0.3" fill="#e07070" opacity="0.5"/>
<circle cx="127.04" cy="75.45" r="0.3" fill="#e07070" opacity="0.5"/>
<circle cx="127.98" cy="74.65" r="0.3" fill="#e07070" opacity="0.5"/>
<circle cx="121.42" cy="71.92" r="0.3" fill="#e07070" opacity="0.5"/>
<circle cx="121.51" cy="70.59" r="0.3" fill="#e07070" opacity="0.5"/>
<circle cx="122.01" cy="64.24" r="0.3" fill="#e07070" opacity="0.5"/>
<circle cx="121.17" cy="71.89" r="0.3" fill="#e07070" opacity="0.5"/>
<circle cx="117.64" cy="71.89" r="0.3" fill="#e07070" opacity="0.5"/>
<circle cx="125.84" cy="71.26" r="0.3" fill="#e07070" opacity="0.5"/>
<circle cx="134.42" cy="60.27" r="0.3" fill="#e07070" opacity="0.5"/>
<circle cx="121.87" cy="63.79" r="0.3" fill="#e07070" opacity="0.5"/>
<circle cx="125.85" cy="70.64" r="0.3" fill="#e07070" opacity="0.5"/>
<circle cx="126.03" cy="61.91" r="0.3" fill="#e07070" opacity="0.5"/>
<circle cx="127.69" cy="73.67" r="0.3" fill="#e07070" opacity="0.5"/>
<circle cx="123.13" cy="69.36" r="0.3" fill="#e07070" opacity="0.5"/>
<circle cx="126.51" cy="69.82" r="0.3" fill="#e07070" opacity="0.5"/>
<circle cx="124.23" cy="69.70" r="0.3" fill="#e07070" opacity="0.5"/>
<circle cx="124.11" cy="75.39" r="0.3" fill="#e07070" opacity="0.5"/>
<circle cx="118.18" cy="71.85" r="0.3" fill="#e07070" opacity="0.5"/>
<circle cx="126.39" cy="72.65" r="0.3" fill="#e07070" opacity="0.5"/>
<circle cx="129.83" cy="80.96" r="0.3" fill="#e07070" opacity="0.5"/>
<circle cx="118.00" cy="63.36" r="0.3" fill="#e07070" opacity="0.5"/>
<circle cx="127.71" cy="78.88" r="0.3" fill="#e07070" opacity="0.5"/>
<circle cx="128.07" cy="75.66" r="0.3" fill="#e07070" opacity="0.5"/>
<circle cx="119.60" cy="68.79" r="0.3" fill="#e07070" opacity="0.5"/>
<circle cx="127.89" cy="67.90" r="0.3" fill="#e07070" opacity="0.5"/>
<circle cx="113.03" cy="67.51" r="0.3" fill="#e07070" opacity="0.5"/>
<circle cx="136.71" cy="80.66" r="0.3" fill="#e07070" opacity="0.5"/>
<circle cx="119.22" cy="68.72" r="0.3" fill="#e07070" opacity="0.5"/>
<circle cx="124.27" cy="68.63" r="0.3" fill="#e07070" opacity="0.5"/>
<circle cx="130.21" cy="71.65" r="0.3" fill="#e07070" opacity="0.5"/>
<circle cx="117.03" cy="77.89" r="0.3" fill="#e07070" opacity="0.5"/>
<circle cx="119.79" cy="73.00" r="0.3" fill="#e07070" opacity="0.5"/>
<circle cx="122.93" cy="70.59" r="0.3" fill="#e07070" opacity="0.5"/>
<circle cx="124.79" cy="68.88" r="0.3" fill="#e07070" opacity="0.5"/>
<circle cx="116.03" cy="68.59" r="0.3" fill="#e07070" opacity="0.5"/>
<circle cx="122.87" cy="72.25" r="0.3" fill="#e07070" opacity="0.5"/>
<circle cx="126.06" cy="72.54" r="0.3" fill="#e07070" opacity="0.5"/>
<circle cx="118.64" cy="68.81" r="0.3" fill="#e07070" opacity="0.5"/>
<circle cx="125.67" cy="74.38" r="0.3" fill="#e07070" opacity="0.5"/>
<circle cx="122.33" cy="71.22" r="0.3" fill="#e07070" opacity="0.5"/>
<circle cx="128.15" cy="72.07" r="0.3" fill="#e07070" opacity="0.5"/>
<circle cx="127.06" cy="74.62" r="0.3" fill="#e07070" opacity="0.5"/>
<circle cx="124.17" cy="77.88" r="0.3" fill="#e07070" opacity="0.5"/>
<circle cx="119.85" cy="70.39" r="0.3" fill="#e07070" opacity="0.5"/>
<circle cx="118.56" cy="68.41" r="0.3" fill="#e07070" opacity="0.5"/>
<circle cx="131.56" cy="79.92" r="0.3" fill="#e07070" opacity="0.5"/>
<circle cx="123.13" cy="74.56" r="0.3" fill="#e07070" opacity="0.5"/>
<circle cx="129.46" cy="75.63" r="0.3" fill="#e07070" opacity="0.5"/>
<circle cx="129.63" cy="66.32" r="0.3" fill="#e07070" opacity="0.5"/>
<circle cx="119.48" cy="74.04" r="0.3" fill="#e07070" opacity="0.5"/>
<circle cx="130.89" cy="72.47" r="0.3" fill="#e07070" opacity="0.5"/>
<circle cx="118.28" cy="70.40" r="0.3" fill="#e07070" opacity="0.5"/>
<circle cx="119.37" cy="68.14" r="0.3" fill="#e07070" opacity="0.5"/>
<circle cx="131.26" cy="69.18" r="0.3" fill="#e07070" opacity="0.5"/>
<path d="M130.60,63.60 C131.30,64.17 130.30,66.43 130.00,68.00 C129.70,69.57 129.33,71.45 128.80,73.00 C128.27,74.55 127.93,76.25 126.80,77.30 C125.67,78.35 123.60,79.25 122.00,79.30 C120.40,79.35 118.33,78.62 117.20,77.60 C116.07,76.58 115.33,74.70 115.20,73.20 C115.07,71.70 115.50,69.80 116.40,68.60 C117.30,67.40 119.03,66.67 120.60,66.00 C122.17,65.33 124.13,65.00 125.80,64.60 C127.47,64.20 129.90,63.03 130.60,63.60Z" fill="#f2b0b0" fill-opacity="0.1"/>
<path d="M130.60,63.60 C131.30,64.17 130.30,66.43 130.00,68.00 C129.70,69.57 129.33,71.45 128.80,73.00 C128.27,74.55 127.93,76.25 126.80,77.30 C125.67,78.35 123.60,79.25 122.00,79.30 C120.40,79.35 118.33,78.62 117.20,77.60 C116.07,76.58 115.33,74.70 115.20,73.20 C115.07,71.70 115.50,69.80 116.40,68.60 C117.30,67.40 119.03,66.67 120.60,66.00 C122.17,65.33 124.13,65.00 125.80,64.60 C127.47,64.20 129.90,63.03 130.60,63.60Z" fill="none" stroke="#dd4848" stroke-width="0.45" stroke-opacity="0.90"/>
<path d="M129.31,65.13 C129.91,65.61 129.06,67.54 128.80,68.87 C128.55,70.20 128.23,71.80 127.78,73.12 C127.33,74.44 127.04,75.88 126.08,76.77 C125.12,77.67 123.36,78.43 122.00,78.47 C120.64,78.52 118.88,77.89 117.92,77.03 C116.96,76.17 116.33,74.57 116.22,73.29 C116.11,72.02 116.48,70.40 117.24,69.38 C118.01,68.36 119.48,67.74 120.81,67.17 C122.14,66.60 123.81,66.32 125.23,65.98 C126.65,65.64 128.72,64.65 129.31,65.13Z" fill="none" stroke="#dd4848" stroke-width="0.45" stroke-opacity="0.80"/>
<path d="M128.02,66.66 C128.51,67.06 127.81,68.64 127.60,69.74 C127.39,70.84 127.13,72.16 126.76,73.24 C126.39,74.32 126.15,75.52 125.36,76.25 C124.57,76.98 123.12,77.61 122.00,77.65 C120.88,77.68 119.43,77.17 118.64,76.46 C117.85,75.75 117.33,74.43 117.24,73.38 C117.15,72.33 117.45,71.00 118.08,70.16 C118.71,69.32 119.92,68.81 121.02,68.34 C122.12,67.87 123.49,67.64 124.66,67.36 C125.83,67.08 127.53,66.26 128.02,66.66Z" fill="none" stroke="#dd4848" stroke-width="0.45" stroke-opacity="0.70"/>
<path d="M126.73,68.19 C127.11,68.50 126.56,69.75 126.40,70.61 C126.24,71.47 126.03,72.51 125.74,73.36 C125.45,74.21 125.26,75.15 124.64,75.72 C124.02,76.30 122.88,76.80 122.00,76.83 C121.12,76.85 119.98,76.45 119.36,75.89 C118.74,75.33 118.33,74.30 118.26,73.47 C118.19,72.64 118.42,71.60 118.92,70.94 C119.42,70.28 120.37,69.88 121.23,69.51 C122.09,69.14 123.17,68.96 124.09,68.74 C125.01,68.52 126.34,67.88 126.73,68.19Z" fill="none" stroke="#dd4848" stroke-width="0.45" stroke-opacity="0.60"/>
<path d="M125.44,69.72 C125.72,69.95 125.32,70.85 125.20,71.48 C125.08,72.11 124.93,72.86 124.72,73.48 C124.51,74.10 124.37,74.78 123.92,75.20 C123.47,75.62 122.64,75.98 122.00,76.00 C121.36,76.02 120.53,75.73 120.08,75.32 C119.63,74.91 119.33,74.16 119.28,73.56 C119.23,72.96 119.40,72.20 119.76,71.72 C120.12,71.24 120.81,70.95 121.44,70.68 C122.07,70.41 122.85,70.28 123.52,70.12 C124.19,69.96 125.16,69.49 125.44,69.72Z" fill="none" stroke="#dd4848" stroke-width="0.45" stroke-opacity="0.50"/>
<path d="M124.15,71.25 C124.32,71.39 124.08,71.96 124.00,72.35 C123.92,72.74 123.83,73.21 123.70,73.60 C123.57,73.99 123.48,74.41 123.20,74.67 C122.92,74.94 122.40,75.16 122.00,75.17 C121.60,75.19 121.08,75.00 120.80,74.75 C120.52,74.50 120.33,74.03 120.30,73.65 C120.27,73.28 120.38,72.80 120.60,72.50 C120.83,72.20 121.26,72.02 121.65,71.85 C122.04,71.68 122.53,71.60 122.95,71.50 C123.37,71.40 123.97,71.11 124.15,71.25Z" fill="none" stroke="#dd4848" stroke-width="0.45" stroke-opacity="0.40"/>
<path d="M131.40,61.20 C131.57,60.02 132.40,57.33 133.20,55.50 C134.00,53.67 135.10,51.68 136.20,50.20 C137.30,48.72 138.67,47.25 139.80,46.60 C140.93,45.95 142.37,45.87 143.00,46.30 C143.63,46.73 143.90,47.88 143.60,49.20 C143.30,50.52 142.27,52.63 141.20,54.20 C140.13,55.77 138.37,57.37 137.20,58.60 C136.03,59.83 135.03,60.93 134.20,61.60 C133.37,62.27 132.67,62.67 132.20,62.60 C131.73,62.53 131.23,62.38 131.40,61.20Z" fill="none" stroke="#444" stroke-width="0.5" stroke-opacity="0.95"/>
<path d="M132.82,59.56 C132.95,58.61 133.62,56.47 134.26,55.00 C134.90,53.53 135.78,51.95 136.66,50.76 C137.54,49.57 138.63,48.40 139.54,47.88 C140.45,47.36 141.59,47.29 142.10,47.64 C142.61,47.99 142.82,48.91 142.58,49.96 C142.34,51.01 141.51,52.71 140.66,53.96 C139.81,55.21 138.39,56.49 137.46,57.48 C136.53,58.47 135.73,59.35 135.06,59.88 C134.39,60.41 133.83,60.73 133.46,60.68 C133.09,60.63 132.69,60.51 132.82,59.56Z" fill="none" stroke="#444" stroke-width="0.5" stroke-opacity="0.83"/>
<path d="M134.24,57.92 C134.34,57.21 134.84,55.60 135.32,54.50 C135.80,53.40 136.46,52.21 137.12,51.32 C137.78,50.43 138.60,49.55 139.28,49.16 C139.96,48.77 140.82,48.72 141.20,48.98 C141.58,49.24 141.74,49.93 141.56,50.72 C141.38,51.51 140.76,52.78 140.12,53.72 C139.48,54.66 138.42,55.62 137.72,56.36 C137.02,57.10 136.42,57.76 135.92,58.16 C135.42,58.56 135.00,58.80 134.72,58.76 C134.44,58.72 134.14,58.63 134.24,57.92Z" fill="none" stroke="#444" stroke-width="0.5" stroke-opacity="0.72"/>
<path d="M135.66,56.28 C135.73,55.81 136.06,54.73 136.38,54.00 C136.70,53.27 137.14,52.47 137.58,51.88 C138.02,51.29 138.57,50.70 139.02,50.44 C139.47,50.18 140.05,50.15 140.30,50.32 C140.55,50.49 140.66,50.95 140.54,51.48 C140.42,52.01 140.01,52.85 139.58,53.48 C139.15,54.11 138.45,54.75 137.98,55.24 C137.51,55.73 137.11,56.17 136.78,56.44 C136.45,56.71 136.17,56.87 135.98,56.84 C135.79,56.81 135.59,56.75 135.66,56.28Z" fill="none" stroke="#444" stroke-width="0.5" stroke-opacity="0.60"/>
<path d="M138.16,67.85 C138.04,68.54 137.77,69.30 137.45,69.86 C137.13,70.42 136.68,70.93 136.25,71.21 C135.82,71.49 135.30,71.61 134.87,71.54 C134.44,71.46 134.00,71.17 133.69,70.76 C133.38,70.35 133.13,69.71 133.02,69.08 C132.91,68.44 132.92,67.64 133.04,66.95 C133.16,66.26 133.43,65.50 133.75,64.94 C134.07,64.38 134.52,63.87 134.95,63.59 C135.38,63.31 135.90,63.19 136.33,63.26 C136.76,63.34 137.20,63.63 137.51,64.04 C137.82,64.45 138.07,65.09 138.18,65.72 C138.29,66.36 138.28,67.16 138.16,67.85Z" fill="none" stroke="#444" stroke-width="0.5" stroke-opacity="0.95"/>
<path d="M137.14,67.67 C137.06,68.08 136.90,68.54 136.71,68.88 C136.52,69.21 136.25,69.52 135.99,69.68 C135.73,69.85 135.42,69.93 135.16,69.88 C134.91,69.84 134.64,69.66 134.45,69.41 C134.27,69.17 134.12,68.79 134.05,68.41 C133.99,68.03 133.99,67.54 134.06,67.13 C134.14,66.72 134.30,66.26 134.49,65.92 C134.68,65.59 134.95,65.28 135.21,65.12 C135.47,64.95 135.78,64.87 136.04,64.92 C136.29,64.96 136.56,65.14 136.75,65.39 C136.93,65.63 137.08,66.01 137.15,66.39 C137.21,66.77 137.21,67.26 137.14,67.67Z" fill="none" stroke="#444" stroke-width="0.5" stroke-opacity="0.45"/>
<circle cx="140.26" cy="64.64" r="0.27" fill="#555" opacity="0.65"/>
<circle cx="137.60" cy="46.95" r="0.27" fill="#555" opacity="0.65"/>
<circle cx="133.40" cy="52.54" r="0.27" fill="#555" opacity="0.65"/>
<circle cx="131.11" cy="59.54" r="0.27" fill="#555" opacity="0.65"/>
<circle cx="132.29" cy="50.80" r="0.27" fill="#555" opacity="0.65"/>
<circle cx="138.98" cy="69.58" r="0.27" fill="#555" opacity="0.65"/>
<circle cx="136.87" cy="50.97" r="0.27" fill="#555" opacity="0.65"/>
<circle cx="122.47" cy="52.83" r="0.27" fill="#555" opacity="0.65"/>
<circle cx="142.08" cy="63.19" r="0.27" fill="#555" opacity="0.65"/>
<circle cx="140.64" cy="71.51" r="0.27" fill="#555" opacity="0.65"/>
<circle cx="141.63" cy="57.34" r="0.27" fill="#555" opacity="0.65"/>
<circle cx="141.26" cy="66.45" r="0.27" fill="#555" opacity="0.65"/>
<circle cx="128.31" cy="51.22" r="0.27" fill="#555" opacity="0.65"/>
<circle cx="128.88" cy="53.75" r="0.27" fill="#555" opacity="0.65"/>
<circle cx="138.89" cy="51.24" r="0.27" fill="#555" opacity="0.65"/>
<circle cx="125.72" cy="62.97" r="0.27" fill="#555" opacity="0.65"/>
<circle cx="137.88" cy="70.13" r="0.27" fill="#555" opacity="0.65"/>
<circle cx="129.38" cy="62.92" r="0.27" fill="#555" opacity="0.65"/>
<circle cx="146.37" cy="78.29" r="0.27" fill="#555" opacity="0.65"/>
<circle cx="134.95" cy="59.55" r="0.27" fill="#555" opacity="0.65"/>
<circle cx="135.23" cy="65.25" r="0.27" fill="#555" opacity="0.65"/>
<circle cx="141.19" cy="61.15" r="0.27" fill="#555" opacity="0.65"/>
<circle cx="129.20" cy="60.39" r="0.27" fill="#555" opacity="0.65"/>
<circle cx="133.65" cy="61.67" r="0.27" fill="#555" opacity="0.65"/>
<circle cx="137.32" cy="71.02" r="0.27" fill="#555" opacity="0.65"/>
<circle cx="141.69" cy="57.29" r="0.27" fill="#555" opacity="0.65"/>
<circle cx="137.75" cy="72.30" r="0.27" fill="#555" opacity="0.65"/>
<circle cx="133.31" cy="60.02" r="0.27" fill="#555" opacity="0.65"/>
<circle cx="141.95" cy="70.45" r="0.27" fill="#555" opacity="0.65"/>
<circle cx="138.59" cy="49.17" r="0.27" fill="#555" opacity="0.65"/>
<circle cx="129.70" cy="56.86" r="0.27" fill="#555" opacity="0.65"/>
<circle cx="137.94" cy="78.37" r="0.27" fill="#555" opacity="0.65"/>
<circle cx="131.69" cy="64.62" r="0.27" fill="#555" opacity="0.65"/>
<circle cx="139.85" cy="47.09" r="0.27" fill="#555" opacity="0.65"/>
<circle cx="131.91" cy="57.30" r="0.27" fill="#555" opacity="0.65"/>
<circle cx="133.53" cy="55.64" r="0.27" fill="#555" opacity="0.65"/>
<circle cx="138.35" cy="52.95" r="0.27" fill="#555" opacity="0.65"/>
<circle cx="138.33" cy="54.26" r="0.27" fill="#555" opacity="0.65"/>
<circle cx="133.28" cy="60.79" r="0.27" fill="#555" opacity="0.65"/>
<circle cx="133.13" cy="58.82" r="0.27" fill="#555" opacity="0.65"/>
<circle cx="144.00" cy="62.05" r="0.27" fill="#555" opacity="0.65"/>
<circle cx="135.27" cy="63.26" r="0.27" fill="#555" opacity="0.65"/>
<circle cx="134.17" cy="65.39" r="0.27" fill="#555" opacity="0.65"/>
<circle cx="129.59" cy="59.64" r="0.27" fill="#555" opacity="0.65"/>
<circle cx="133.44" cy="50.68" r="0.27" fill="#555" opacity="0.65"/>
<circle cx="144.85" cy="55.76" r="0.27" fill="#555" opacity="0.65"/>
<circle cx="144.78" cy="67.24" r="0.27" fill="#555" opacity="0.65"/>
<circle cx="143.27" cy="54.03" r="0.27" fill="#555" opacity="0.65"/>
<circle cx="141.99" cy="71.99" r="0.27" fill="#555" opacity="0.65"/>
<circle cx="135.42" cy="56.74" r="0.27" fill="#555" opacity="0.65"/>
<circle cx="148.28" cy="65.25" r="0.27" fill="#555" opacity="0.65"/>
<circle cx="133.89" cy="52.18" r="0.27" fill="#555" opacity="0.65"/>
<circle cx="138.23" cy="61.59" r="0.27" fill="#555" opacity="0.65"/>
<circle cx="136.89" cy="71.56" r="0.27" fill="#555" opacity="0.65"/>
<circle cx="134.36" cy="60.82" r="0.27" fill="#555" opacity="0.65"/>
<circle cx="143.30" cy="53.84" r="0.27" fill="#555" opacity="0.65"/>
<circle cx="141.19" cy="74.47" r="0.27" fill="#555" opacity="0.65"/>
<circle cx="129.23" cy="46.37" r="0.27" fill="#555" opacity="0.65"/>
<circle cx="130.81" cy="41.42" r="0.27" fill="#555" opacity="0.65"/>
<circle cx="138.26" cy="44.92" r="0.27" fill="#555" opacity="0.65"/>
<circle cx="138.49" cy="70.29" r="0.27" fill="#555" opacity="0.65"/>
<circle cx="127.92" cy="51.71" r="0.27" fill="#555" opacity="0.65"/>
<circle cx="126.41" cy="59.34" r="0.27" fill="#555" opacity="0.65"/>
<circle cx="132.31" cy="54.20" r="0.27" fill="#555" opacity="0.65"/>
<circle cx="136.27" cy="62.29" r="0.27" fill="#555" opacity="0.65"/>
<circle cx="134.27" cy="57.28" r="0.27" fill="#555" opacity="0.65"/>
<circle cx="133.27" cy="57.56" r="0.27" fill="#555" opacity="0.65"/>
<circle cx="130.14" cy="55.67" r="0.27" fill="#555" opacity="0.65"/>
<circle cx="126.34" cy="49.62" r="0.27" fill="#555" opacity="0.65"/>
<circle cx="145.58" cy="63.20" r="0.27" fill="#555" opacity="0.65"/>
<circle cx="129.70" cy="56.94" r="0.27" fill="#555" opacity="0.65"/>
<circle cx="131.14" cy="43.06" r="0.27" fill="#555" opacity="0.65"/>
<circle cx="132.32" cy="61.86" r="0.27" fill="#555" opacity="0.65"/>
<circle cx="137.92" cy="58.18" r="0.27" fill="#555" opacity="0.65"/>
<circle cx="131.37" cy="47.55" r="0.27" fill="#555" opacity="0.65"/>
<circle cx="142.75" cy="63.11" r="0.27" fill="#555" opacity="0.65"/>
<circle cx="129.15" cy="73.60" r="0.27" fill="#555" opacity="0.65"/>
<circle cx="130.26" cy="54.66" r="0.27" fill="#555" opacity="0.65"/>
<circle cx="137.05" cy="57.30" r="0.27" fill="#555" opacity="0.65"/>
<circle cx="134.61" cy="46.85" r="0.27" fill="#555" opacity="0.65"/>
<circle cx="130.74" cy="68.36" r="0.27" fill="#555" opacity="0.65"/>
<circle cx="132.22" cy="62.64" r="0.27" fill="#555" opacity="0.65"/>
<circle cx="127.53" cy="51.84" r="0.27" fill="#555" opacity="0.65"/>
<circle cx="137.31" cy="66.54" r="0.27" fill="#555" opacity="0.65"/>
<circle cx="130.39" cy="59.85" r="0.27" fill="#555" opacity="0.65"/>
<circle cx="137.93" cy="53.30" r="0.27" fill="#555" opacity="0.65"/>
<circle cx="138.39" cy="52.29" r="0.27" fill="#555" opacity="0.65"/>
<circle cx="132.02" cy="55.95" r="0.27" fill="#555" opacity="0.65"/>
<circle cx="122.43" cy="50.65" r="0.27" fill="#555" opacity="0.65"/>
<circle cx="131.00" cy="44.44" r="0.27" fill="#555" opacity="0.65"/>
<circle cx="133.87" cy="62.80" r="0.27" fill="#555" opacity="0.65"/>
<circle cx="133.98" cy="66.69" r="0.27" fill="#555" opacity="0.65"/>
<circle cx="130.20" cy="45.20" r="0.27" fill="#555" opacity="0.65"/>
<circle cx="143.76" cy="64.77" r="0.27" fill="#555" opacity="0.65"/>
<circle cx="140.73" cy="53.96" r="0.27" fill="#555" opacity="0.65"/>
<circle cx="140.02" cy="61.91" r="0.27" fill="#555" opacity="0.65"/>
<circle cx="139.24" cy="59.75" r="0.27" fill="#555" opacity="0.65"/>
<circle cx="142.03" cy="55.94" r="0.27" fill="#555" opacity="0.65"/>
<circle cx="131.18" cy="44.41" r="0.27" fill="#555" opacity="0.65"/>
<circle cx="141.80" cy="55.15" r="0.27" fill="#555" opacity="0.65"/>
<circle cx="130.78" cy="48.32" r="0.27" fill="#555" opacity="0.65"/>
<circle cx="133.77" cy="47.23" r="0.27" fill="#555" opacity="0.65"/>
<circle cx="134.55" cy="52.52" r="0.27" fill="#555" opacity="0.65"/>
<circle cx="133.24" cy="49.35" r="0.27" fill="#555" opacity="0.65"/>
<circle cx="136.18" cy="54.57" r="0.27" fill="#555" opacity="0.65"/>
<circle cx="136.57" cy="60.18" r="0.27" fill="#555" opacity="0.65"/>
<circle cx="137.70" cy="42.11" r="0.27" fill="#555" opacity="0.65"/>
<circle cx="133.32" cy="50.64" r="0.27" fill="#555" opacity="0.65"/>
<circle cx="139.87" cy="47.82" r="0.27" fill="#555" opacity="0.65"/>
<circle cx="132.43" cy="54.04" r="0.27" fill="#555" opacity="0.65"/>
<circle cx="134.32" cy="64.76" r="0.27" fill="#555" opacity="0.65"/>
<circle cx="133.79" cy="64.30" r="0.27" fill="#555" opacity="0.65"/>
<circle cx="128.67" cy="40.65" r="0.27" fill="#555" opacity="0.65"/>
<circle cx="142.10" cy="64.25" r="0.27" fill="#555" opacity="0.65"/>
<circle cx="138.44" cy="60.11" r="0.27" fill="#555" opacity="0.65"/>
<circle cx="138.42" cy="49.88" r="0.27" fill="#555" opacity="0.65"/>
<circle cx="140.74" cy="56.22" r="0.27" fill="#555" opacity="0.65"/>
<circle cx="140.93" cy="61.04" r="0.27" fill="#555" opacity="0.65"/>
<circle cx="130.77" cy="51.18" r="0.25" fill="#777" opacity="0.55"/>
<circle cx="121.63" cy="53.46" r="0.25" fill="#777" opacity="0.55"/>
<circle cx="121.45" cy="48.73" r="0.25" fill="#777" opacity="0.55"/>
<circle cx="124.61" cy="52.87" r="0.25" fill="#777" opacity="0.55"/>
<circle cx="133.10" cy="52.27" r="0.25" fill="#777" opacity="0.55"/>
<circle cx="135.28" cy="62.82" r="0.25" fill="#777" opacity="0.55"/>
<circle cx="134.30" cy="58.37" r="0.25" fill="#777" opacity="0.55"/>
<circle cx="124.78" cy="52.82" r="0.25" fill="#777" opacity="0.55"/>
<circle cx="123.14" cy="47.61" r="0.25" fill="#777" opacity="0.55"/>
<circle cx="123.60" cy="48.16" r="0.25" fill="#777" opacity="0.55"/>
<circle cx="133.84" cy="55.21" r="0.25" fill="#777" opacity="0.55"/>
<circle cx="121.32" cy="40.51" r="0.25" fill="#777" opacity="0.55"/>
<circle cx="123.68" cy="49.50" r="0.25" fill="#777" opacity="0.55"/>
<circle cx="117.49" cy="45.18" r="0.25" fill="#777" opacity="0.55"/>
<circle cx="123.61" cy="67.49" r="0.25" fill="#777" opacity="0.55"/>
<circle cx="123.81" cy="51.11" r="0.25" fill="#777" opacity="0.55"/>
<circle cx="132.67" cy="52.80" r="0.25" fill="#777" opacity="0.55"/>
<circle cx="125.00" cy="49.77" r="0.25" fill="#777" opacity="0.55"/>
<circle cx="120.37" cy="61.00" r="0.25" fill="#777" opacity="0.55"/>
<circle cx="130.00" cy="62.30" r="0.25" fill="#777" opacity="0.55"/>
<circle cx="121.90" cy="52.18" r="0.25" fill="#777" opacity="0.55"/>
<circle cx="118.72" cy="57.80" r="0.25" fill="#777" opacity="0.55"/>
<circle cx="115.64" cy="55.39" r="0.25" fill="#777" opacity="0.55"/>
<circle cx="130.58" cy="60.47" r="0.25" fill="#777" opacity="0.55"/>
<circle cx="118.36" cy="58.54" r="0.25" fill="#777" opacity="0.55"/>
<circle cx="119.72" cy="47.46" r="0.25" fill="#777" opacity="0.55"/>
<circle cx="116.06" cy="58.93" r="0.25" fill="#777" opacity="0.55"/>
<circle cx="133.89" cy="48.43" r="0.25" fill="#777" opacity="0.55"/>
<circle cx="119.44" cy="49.97" r="0.25" fill="#777" opacity="0.55"/>
<circle cx="139.04" cy="58.03" r="0.25" fill="#777" opacity="0.55"/>
<circle cx="120.74" cy="41.23" r="0.25" fill="#777" opacity="0.55"/>
<circle cx="119.96" cy="59.12" r="0.25" fill="#777" opacity="0.55"/>
<circle cx="135.21" cy="50.40" r="0.25" fill="#777" opacity="0.55"/>
<circle cx="119.85" cy="48.94" r="0.25" fill="#777" opacity="0.55"/>
<circle cx="117.49" cy="58.38" r="0.25" fill="#777" opacity="0.55"/>
<circle cx="113.75" cy="44.38" r="0.25" fill="#777" opacity="0.55"/>
<circle cx="125.73" cy="47.42" r="0.25" fill="#777" opacity="0.55"/>
<circle cx="128.69" cy="52.05" r="0.25" fill="#777" opacity="0.55"/>
<circle cx="116.95" cy="55.73" r="0.25" fill="#777" opacity="0.55"/>
<circle cx="129.05" cy="40.52" r="0.25" fill="#777" opacity="0.55"/>
<circle cx="134.96" cy="54.98" r="0.25" fill="#777" opacity="0.55"/>
<circle cx="128.56" cy="40.84" r="0.25" fill="#777" opacity="0.55"/>
<circle cx="136.40" cy="68.25" r="0.27" fill="#555" opacity="0.6"/>
<circle cx="145.39" cy="62.70" r="0.27" fill="#555" opacity="0.6"/>
<circle cx="135.58" cy="59.85" r="0.27" fill="#555" opacity="0.6"/>
<circle cx="138.79" cy="71.73" r="0.27" fill="#555" opacity="0.6"/>
<circle cx="131.57" cy="67.04" r="0.27" fill="#555" opacity="0.6"/>
<circle cx="142.55" cy="77.93" r="0.27" fill="#555" opacity="0.6"/>
<circle cx="143.32" cy="68.48" r="0.27" fill="#555" opacity="0.6"/>
<circle cx="134.11" cy="65.32" r="0.27" fill="#555" opacity="0.6"/>
<circle cx="136.68" cy="70.74" r="0.27" fill="#555" opacity="0.6"/>
<circle cx="139.75" cy="78.34" r="0.27" fill="#555" opacity="0.6"/>
<circle cx="141.44" cy="64.64" r="0.27" fill="#555" opacity="0.6"/>
<circle cx="147.72" cy="74.75" r="0.27" fill="#555" opacity="0.6"/>
<circle cx="140.51" cy="66.39" r="0.27" fill="#555" opacity="0.6"/>
<circle cx="130.65" cy="64.89" r="0.27" fill="#555" opacity="0.6"/>
<circle cx="144.56" cy="65.99" r="0.27" fill="#555" opacity="0.6"/>
<circle cx="133.40" cy="70.98" r="0.27" fill="#555" opacity="0.6"/>
<circle cx="141.22" cy="73.03" r="0.27" fill="#555" opacity="0.6"/>
<circle cx="143.28" cy="77.05" r="0.27" fill="#555" opacity="0.6"/>
<circle cx="135.80" cy="74.89" r="0.27" fill="#555" opacity="0.6"/>
<circle cx="135.06" cy="73.47" r="0.27" fill="#555" opacity="0.6"/>
<circle cx="140.90" cy="71.22" r="0.27" fill="#555" opacity="0.6"/>
<circle cx="144.84" cy="69.91" r="0.27" fill="#555" opacity="0.6"/>
<circle cx="145.56" cy="74.38" r="0.27" fill="#555" opacity="0.6"/>
<circle cx="140.68" cy="67.17" r="0.27" fill="#555" opacity="0.6"/>
<circle cx="136.23" cy="67.36" r="0.27" fill="#555" opacity="0.6"/>
<circle cx="138.99" cy="69.88" r="0.27" fill="#555" opacity="0.6"/>
<circle cx="143.85" cy="65.70" r="0.27" fill="#555" opacity="0.6"/>
<circle cx="136.45" cy="68.40" r="0.27" fill="#555" opacity="0.6"/>
<circle cx="140.96" cy="64.82" r="0.27" fill="#555" opacity="0.6"/>
<circle cx="148.06" cy="67.18" r="0.27" fill="#555" opacity="0.6"/>
<circle cx="145.39" cy="58.32" r="0.27" fill="#555" opacity="0.6"/>
<circle cx="139.97" cy="71.39" r="0.27" fill="#555" opacity="0.6"/>
<circle cx="140.96" cy="73.01" r="0.27" fill="#555" opacity="0.6"/>
<circle cx="141.40" cy="70.81" r="0.27" fill="#555" opacity="0.6"/>
<circle cx="130.54" cy="66.43" r="0.27" fill="#555" opacity="0.6"/>
<circle cx="128.29" cy="73.14" r="0.27" fill="#555" opacity="0.6"/>
<circle cx="141.54" cy="69.02" r="0.27" fill="#555" opacity="0.6"/>
<circle cx="135.89" cy="67.09" r="0.27" fill="#555" opacity="0.6"/>
<circle cx="149.23" cy="78.66" r="0.27" fill="#555" opacity="0.6"/>
<circle cx="139.71" cy="76.44" r="0.27" fill="#555" opacity="0.6"/>
<circle cx="132.06" cy="60.32" r="0.27" fill="#555" opacity="0.6"/>
<circle cx="137.58" cy="65.63" r="0.27" fill="#555" opacity="0.6"/>
<circle cx="137.20" cy="70.94" r="0.27" fill="#555" opacity="0.6"/>
<circle cx="140.25" cy="71.38" r="0.27" fill="#555" opacity="0.6"/>
<circle cx="139.83" cy="74.65" r="0.27" fill="#555" opacity="0.6"/>
<circle cx="148.88" cy="63.78" r="0.27" fill="#555" opacity="0.6"/>
<circle cx="140.81" cy="68.68" r="0.27" fill="#555" opacity="0.6"/>
<circle cx="141.78" cy="62.34" r="0.27" fill="#555" opacity="0.6"/>
<text x="121.00" y="59.50" font-size="2.8" text-anchor="start" font-weight="normal" fill="#222" textLength="4.20" lengthAdjust="spacingAndGlyphs" stroke="#222" stroke-width="0.1">10.1</text>
<text x="135.00" y="59.50" font-size="2.8" text-anchor="start" font-weight="normal" fill="#222" textLength="4.20" lengthAdjust="spacingAndGlyphs" stroke="#222" stroke-width="0.1">10.1</text>
<text x="135.00" y="70.00" font-size="2.8" text-anchor="start" font-weight="normal" fill="#222" textLength="4.20" lengthAdjust="spacingAndGlyphs" stroke="#222" stroke-width="0.1">10.1</text>
<line x1="112.90" y1="39.50" x2="112.90" y2="81.40" stroke="#555" stroke-width="0.8"/>
<line x1="112.90" y1="81.40" x2="151.90" y2="81.40" stroke="#777" stroke-width="0.8"/>
<line x1="111.40" y1="45.00" x2="112.90" y2="45.00" stroke="#444" stroke-width="0.5"/>
<text x="108.90" y="46.30" font-size="3.6" text-anchor="end" font-weight="normal" fill="#222" stroke="#222" stroke-width="0.1">10<tspan dy="-1.44" font-size="2.16">3</tspan><tspan dy="1.44"></tspan></text>
<line x1="111.40" y1="53.90" x2="112.90" y2="53.90" stroke="#444" stroke-width="0.5"/>
<text x="108.90" y="55.20" font-size="3.6" text-anchor="end" font-weight="normal" fill="#222" stroke="#222" stroke-width="0.1">10<tspan dy="-1.44" font-size="2.16">2</tspan><tspan dy="1.44"></tspan></text>
<line x1="111.40" y1="63.30" x2="112.90" y2="63.30" stroke="#444" stroke-width="0.5"/>
<text x="108.90" y="64.60" font-size="3.6" text-anchor="end" font-weight="normal" fill="#222" stroke="#222" stroke-width="0.1">10<tspan dy="-1.44" font-size="2.16">1</tspan><tspan dy="1.44"></tspan></text>
<line x1="111.40" y1="73.90" x2="112.90" y2="73.90" stroke="#444" stroke-width="0.5"/>
<text x="108.90" y="75.20" font-size="3.6" text-anchor="end" font-weight="normal" fill="#222" stroke="#222" stroke-width="0.1">0</text>
<text x="116.20" y="89.80" font-size="3.7" text-anchor="start" font-weight="normal" fill="#222" textLength="34.60" lengthAdjust="spacingAndGlyphs" stroke="#222" stroke-width="0.1">010<tspan dy="-1.48" font-size="2.22">1</tspan><tspan dy="1.48"> 10</tspan><tspan dy="-1.48" font-size="2.22">1</tspan><tspan dy="1.48"> 10</tspan><tspan dy="-1.48" font-size="2.22">2</tspan><tspan dy="1.48"> 10</tspan><tspan dy="-1.48" font-size="2.22">3</tspan><tspan dy="1.48"></tspan></text>
<text transform="translate(100.00,62.50) rotate(-90)" font-size="3.6" text-anchor="middle" font-weight="normal" fill="#222" textLength="11.50" lengthAdjust="spacingAndGlyphs" stroke="#222" stroke-width="0.1">PIPE-A</text>
<text transform="translate(100.60,85.60) rotate(-90)" font-size="3.6" text-anchor="middle" font-weight="normal" fill="#222" textLength="6.60" lengthAdjust="spacingAndGlyphs" stroke="#222" stroke-width="0.1">-892</text>
<text x="106.30" y="94.10" font-size="3.6" text-anchor="start" font-weight="normal" fill="#222" textLength="6.00" lengthAdjust="spacingAndGlyphs" stroke="#222" stroke-width="0.1">-137</text>
<text x="113.60" y="97.90" font-size="3.8" text-anchor="start" font-weight="normal" fill="#1a1a1a" textLength="35.20" lengthAdjust="spacingAndGlyphs" stroke="#1a1a1a" stroke-width="0.1">ANNEXIN V APC-A</text>
<text x="37.50" y="115.10" font-size="4.0" text-anchor="start" font-weight="normal" fill="#1a1a1a" textLength="57.50" lengthAdjust="spacingAndGlyphs" stroke="#1a1a1a" stroke-width="0.1">ANNEXIN (4-) CTRL+shControl</text>
<rect x="47.20" y="119.20" width="38.80" height="42.20" fill="#fff" stroke="#d8d8d8" stroke-width="0.5"/>
<line x1="66.00" y1="119.20" x2="66.00" y2="161.40" stroke="#888" stroke-width="0.9"/>
<line x1="47.20" y1="141.20" x2="86.00" y2="141.20" stroke="#999" stroke-width="1.1"/>
<circle cx="58.75" cy="152.46" r="0.3" fill="#e07070" opacity="0.45"/>
<circle cx="56.04" cy="139.67" r="0.3" fill="#e07070" opacity="0.45"/>
<circle cx="53.36" cy="147.72" r="0.3" fill="#e07070" opacity="0.45"/>
<circle cx="59.79" cy="154.22" r="0.3" fill="#e07070" opacity="0.45"/>
<circle cx="55.46" cy="154.07" r="0.3" fill="#e07070" opacity="0.45"/>
<circle cx="51.98" cy="151.86" r="0.3" fill="#e07070" opacity="0.45"/>
<circle cx="55.84" cy="154.27" r="0.3" fill="#e07070" opacity="0.45"/>
<circle cx="55.18" cy="150.78" r="0.3" fill="#e07070" opacity="0.45"/>
<circle cx="54.79" cy="148.28" r="0.3" fill="#e07070" opacity="0.45"/>
<circle cx="69.00" cy="154.07" r="0.3" fill="#e07070" opacity="0.45"/>
<circle cx="64.02" cy="143.72" r="0.3" fill="#e07070" opacity="0.45"/>
<circle cx="59.77" cy="155.69" r="0.3" fill="#e07070" opacity="0.45"/>
<circle cx="66.91" cy="158.08" r="0.3" fill="#e07070" opacity="0.45"/>
<circle cx="60.22" cy="145.61" r="0.3" fill="#e07070" opacity="0.45"/>
<circle cx="50.38" cy="152.84" r="0.3" fill="#e07070" opacity="0.45"/>
<circle cx="58.63" cy="146.39" r="0.3" fill="#e07070" opacity="0.45"/>
<circle cx="53.29" cy="149.50" r="0.3" fill="#e07070" opacity="0.45"/>
<circle cx="55.96" cy="153.18" r="0.3" fill="#e07070" opacity="0.45"/>
<circle cx="53.88" cy="145.32" r="0.3" fill="#e07070" opacity="0.45"/>
<circle cx="63.06" cy="159.48" r="0.3" fill="#e07070" opacity="0.45"/>
<circle cx="54.96" cy="156.62" r="0.3" fill="#e07070" opacity="0.45"/>
<circle cx="58.27" cy="154.80" r="0.3" fill="#e07070" opacity="0.45"/>
<circle cx="58.49" cy="147.68" r="0.3" fill="#e07070" opacity="0.45"/>
<circle cx="59.04" cy="156.55" r="0.3" fill="#e07070" opacity="0.45"/>
<circle cx="50.22" cy="161.33" r="0.3" fill="#e07070" opacity="0.45"/>
<circle cx="68.14" cy="160.62" r="0.3" fill="#e07070" opacity="0.45"/>
<circle cx="67.54" cy="155.21" r="0.3" fill="#e07070" opacity="0.45"/>
<circle cx="53.57" cy="148.50" r="0.3" fill="#e07070" opacity="0.45"/>
<circle cx="50.72" cy="152.08" r="0.3" fill="#e07070" opacity="0.45"/>
<circle cx="55.40" cy="154.85" r="0.3" fill="#e07070" opacity="0.45"/>
<circle cx="69.26" cy="151.36" r="0.3" fill="#e07070" opacity="0.45"/>
<circle cx="59.66" cy="153.88" r="0.3" fill="#e07070" opacity="0.45"/>
<circle cx="57.24" cy="150.46" r="0.3" fill="#e07070" opacity="0.45"/>
<circle cx="54.86" cy="147.38" r="0.3" fill="#e07070" opacity="0.45"/>
<circle cx="56.67" cy="151.38" r="0.3" fill="#e07070" opacity="0.45"/>
<circle cx="57.52" cy="147.22" r="0.3" fill="#e07070" opacity="0.45"/>
<circle cx="55.84" cy="151.74" r="0.3" fill="#e07070" opacity="0.45"/>
<circle cx="59.23" cy="146.18" r="0.3" fill="#e07070" opacity="0.45"/>
<circle cx="58.12" cy="156.42" r="0.3" fill="#e07070" opacity="0.45"/>
<circle cx="59.18" cy="149.66" r="0.3" fill="#e07070" opacity="0.45"/>
<circle cx="52.65" cy="150.32" r="0.3" fill="#e07070" opacity="0.45"/>
<circle cx="59.98" cy="159.26" r="0.3" fill="#e07070" opacity="0.45"/>
<circle cx="54.65" cy="148.29" r="0.3" fill="#e07070" opacity="0.45"/>
<circle cx="57.85" cy="152.52" r="0.3" fill="#e07070" opacity="0.45"/>
<circle cx="50.15" cy="147.81" r="0.3" fill="#e07070" opacity="0.45"/>
<circle cx="54.99" cy="154.86" r="0.3" fill="#e07070" opacity="0.45"/>
<circle cx="48.44" cy="146.41" r="0.3" fill="#e07070" opacity="0.45"/>
<circle cx="58.59" cy="145.38" r="0.3" fill="#e07070" opacity="0.45"/>
<circle cx="56.25" cy="153.26" r="0.3" fill="#e07070" opacity="0.45"/>
<circle cx="54.93" cy="146.41" r="0.3" fill="#e07070" opacity="0.45"/>
<circle cx="55.24" cy="149.84" r="0.3" fill="#e07070" opacity="0.45"/>
<circle cx="57.62" cy="147.31" r="0.3" fill="#e07070" opacity="0.45"/>
<circle cx="62.15" cy="143.12" r="0.3" fill="#e07070" opacity="0.45"/>
<circle cx="54.54" cy="151.54" r="0.3" fill="#e07070" opacity="0.45"/>
<circle cx="61.37" cy="148.46" r="0.3" fill="#e07070" opacity="0.45"/>
<circle cx="58.88" cy="148.67" r="0.3" fill="#e07070" opacity="0.45"/>
<circle cx="60.03" cy="160.19" r="0.3" fill="#e07070" opacity="0.45"/>
<circle cx="53.19" cy="153.71" r="0.3" fill="#e07070" opacity="0.45"/>
<circle cx="50.04" cy="156.37" r="0.3" fill="#e07070" opacity="0.45"/>
<circle cx="62.86" cy="151.68" r="0.3" fill="#e07070" opacity="0.45"/>
<circle cx="48.79" cy="153.51" r="0.3" fill="#e07070" opacity="0.45"/>
<circle cx="62.49" cy="156.95" r="0.3" fill="#e07070" opacity="0.45"/>
<circle cx="60.48" cy="142.35" r="0.3" fill="#e07070" opacity="0.45"/>
<circle cx="51.52" cy="158.61" r="0.3" fill="#e07070" opacity="0.45"/>
<circle cx="48.24" cy="157.16" r="0.3" fill="#e07070" opacity="0.45"/>
<circle cx="66.89" cy="155.31" r="0.3" fill="#e07070" opacity="0.45"/>
<circle cx="62.32" cy="149.84" r="0.3" fill="#e07070" opacity="0.45"/>
<circle cx="48.25" cy="150.99" r="0.3" fill="#e07070" opacity="0.45"/>
<circle cx="54.41" cy="151.26" r="0.3" fill="#e07070" opacity="0.45"/>
<circle cx="59.78" cy="150.78" r="0.3" fill="#e07070" opacity="0.45"/>
<circle cx="56.75" cy="153.62" r="0.3" fill="#e07070" opacity="0.45"/>
<circle cx="55.57" cy="160.72" r="0.3" fill="#e07070" opacity="0.45"/>
<circle cx="58.25" cy="151.92" r="0.3" fill="#e07070" opacity="0.45"/>
<circle cx="54.35" cy="148.37" r="0.3" fill="#e07070" opacity="0.45"/>
<circle cx="63.67" cy="152.25" r="0.3" fill="#e07070" opacity="0.45"/>
<circle cx="49.13" cy="148.69" r="0.3" fill="#e07070" opacity="0.45"/>
<circle cx="54.78" cy="149.27" r="0.3" fill="#e07070" opacity="0.45"/>
<circle cx="62.11" cy="145.69" r="0.3" fill="#e07070" opacity="0.45"/>
<circle cx="58.55" cy="152.22" r="0.3" fill="#e07070" opacity="0.45"/>
<circle cx="48.53" cy="151.74" r="0.3" fill="#e07070" opacity="0.45"/>
<circle cx="55.03" cy="154.01" r="0.3" fill="#e07070" opacity="0.45"/>
<circle cx="52.90" cy="153.02" r="0.3" fill="#e07070" opacity="0.45"/>
<circle cx="60.31" cy="156.71" r="0.3" fill="#e07070" opacity="0.45"/>
<circle cx="55.52" cy="148.50" r="0.3" fill="#e07070" opacity="0.45"/>
<circle cx="62.10" cy="141.04" r="0.3" fill="#e07070" opacity="0.45"/>
<circle cx="50.80" cy="154.86" r="0.3" fill="#e07070" opacity="0.45"/>
<circle cx="59.52" cy="146.34" r="0.3" fill="#e07070" opacity="0.45"/>
<circle cx="56.52" cy="147.02" r="0.3" fill="#e07070" opacity="0.45"/>
<circle cx="55.93" cy="156.01" r="0.3" fill="#e07070" opacity="0.45"/>
<circle cx="60.04" cy="141.09" r="0.3" fill="#e07070" opacity="0.45"/>
<circle cx="60.23" cy="142.60" r="0.3" fill="#e07070" opacity="0.45"/>
<circle cx="62.44" cy="153.49" r="0.3" fill="#e07070" opacity="0.45"/>
<circle cx="69.11" cy="148.45" r="0.3" fill="#e07070" opacity="0.45"/>
<circle cx="55.63" cy="156.74" r="0.3" fill="#e07070" opacity="0.45"/>
<circle cx="51.76" cy="147.98" r="0.3" fill="#e07070" opacity="0.45"/>
<circle cx="53.37" cy="151.14" r="0.3" fill="#e07070" opacity="0.45"/>
<circle cx="49.11" cy="153.92" r="0.3" fill="#e07070" opacity="0.45"/>
<circle cx="58.86" cy="151.86" r="0.3" fill="#e07070" opacity="0.45"/>
<circle cx="65.80" cy="149.86" r="0.3" fill="#e07070" opacity="0.45"/>
<circle cx="63.44" cy="148.77" r="0.3" fill="#e07070" opacity="0.45"/>
<circle cx="60.13" cy="141.83" r="0.3" fill="#e07070" opacity="0.45"/>
<circle cx="56.79" cy="150.62" r="0.3" fill="#e07070" opacity="0.45"/>
<circle cx="52.63" cy="148.45" r="0.3" fill="#e07070" opacity="0.45"/>
<circle cx="53.52" cy="147.90" r="0.3" fill="#e07070" opacity="0.45"/>
<circle cx="52.30" cy="148.88" r="0.3" fill="#e07070" opacity="0.45"/>
<circle cx="49.25" cy="150.82" r="0.3" fill="#e07070" opacity="0.45"/>
<circle cx="60.31" cy="150.25" r="0.3" fill="#e07070" opacity="0.45"/>
<circle cx="52.64" cy="158.29" r="0.3" fill="#e07070" opacity="0.45"/>
<circle cx="61.46" cy="156.11" r="0.3" fill="#e07070" opacity="0.45"/>
<circle cx="62.53" cy="149.86" r="0.3" fill="#e07070" opacity="0.45"/>
<circle cx="54.82" cy="157.07" r="0.3" fill="#e07070" opacity="0.45"/>
<circle cx="52.28" cy="150.90" r="0.3" fill="#e07070" opacity="0.45"/>
<circle cx="57.87" cy="153.36" r="0.3" fill="#e07070" opacity="0.45"/>
<circle cx="53.94" cy="156.42" r="0.3" fill="#e07070" opacity="0.45"/>
<circle cx="54.53" cy="155.13" r="0.3" fill="#e07070" opacity="0.45"/>
<circle cx="62.02" cy="154.80" r="0.3" fill="#e07070" opacity="0.45"/>
<circle cx="60.00" cy="145.70" r="0.3" fill="#e07070" opacity="0.45"/>
<circle cx="47.73" cy="148.41" r="0.3" fill="#e07070" opacity="0.45"/>
<circle cx="58.45" cy="159.00" r="0.3" fill="#e07070" opacity="0.45"/>
<circle cx="48.27" cy="153.03" r="0.3" fill="#e07070" opacity="0.45"/>
<circle cx="50.48" cy="147.84" r="0.3" fill="#e07070" opacity="0.45"/>
<circle cx="53.94" cy="154.96" r="0.3" fill="#e07070" opacity="0.45"/>
<circle cx="56.88" cy="157.40" r="0.3" fill="#e07070" opacity="0.45"/>
<circle cx="49.69" cy="155.95" r="0.3" fill="#e07070" opacity="0.45"/>
<circle cx="61.18" cy="151.85" r="0.3" fill="#e07070" opacity="0.45"/>
<circle cx="58.46" cy="148.68" r="0.3" fill="#e07070" opacity="0.45"/>
<circle cx="49.06" cy="149.47" r="0.3" fill="#e07070" opacity="0.45"/>
<circle cx="52.69" cy="159.75" r="0.3" fill="#e07070" opacity="0.45"/>
<circle cx="56.81" cy="153.06" r="0.3" fill="#e07070" opacity="0.45"/>
<circle cx="60.06" cy="147.60" r="0.3" fill="#e07070" opacity="0.45"/>
<circle cx="61.10" cy="153.38" r="0.3" fill="#e07070" opacity="0.45"/>
<circle cx="58.92" cy="153.76" r="0.3" fill="#e07070" opacity="0.45"/>
<circle cx="65.11" cy="149.43" r="0.3" fill="#e07070" opacity="0.45"/>
<circle cx="58.67" cy="155.24" r="0.3" fill="#e07070" opacity="0.45"/>
<circle cx="50.20" cy="157.50" r="0.3" fill="#e07070" opacity="0.45"/>
<circle cx="58.73" cy="146.06" r="0.3" fill="#e07070" opacity="0.45"/>
<circle cx="54.90" cy="143.28" r="0.3" fill="#e07070" opacity="0.45"/>
<circle cx="56.01" cy="145.83" r="0.3" fill="#e07070" opacity="0.45"/>
<circle cx="57.65" cy="143.84" r="0.3" fill="#e07070" opacity="0.45"/>
<path d="M63.20,151.70 C63.20,152.85 62.82,154.15 62.18,155.15 C61.55,156.15 60.50,157.10 59.40,157.68 C58.30,158.25 56.87,158.60 55.60,158.60 C54.33,158.60 52.90,158.25 51.80,157.68 C50.70,157.10 49.65,156.15 49.02,155.15 C48.38,154.15 48.00,152.85 48.00,151.70 C48.00,150.55 48.38,149.25 49.02,148.25 C49.65,147.25 50.70,146.30 51.80,145.72 C52.90,145.15 54.33,144.80 55.60,144.80 C56.87,144.80 58.30,145.15 59.40,145.72 C60.50,146.30 61.55,147.25 62.18,148.25 C62.82,149.25 63.20,150.55 63.20,151.70Z" fill="#f2a8a8" fill-opacity="0.12"/>
<path d="M63.20,151.70 C63.20,152.85 62.82,154.15 62.18,155.15 C61.55,156.15 60.50,157.10 59.40,157.68 C58.30,158.25 56.87,158.60 55.60,158.60 C54.33,158.60 52.90,158.25 51.80,157.68 C50.70,157.10 49.65,156.15 49.02,155.15 C48.38,154.15 48.00,152.85 48.00,151.70 C48.00,150.55 48.38,149.25 49.02,148.25 C49.65,147.25 50.70,146.30 51.80,145.72 C52.90,145.15 54.33,144.80 55.60,144.80 C56.87,144.80 58.30,145.15 59.40,145.72 C60.50,146.30 61.55,147.25 62.18,148.25 C62.82,149.25 63.20,150.55 63.20,151.70Z" fill="none" stroke="#dd3c3c" stroke-width="0.5" stroke-opacity="0.95"/>
<path d="M62.06,151.70 C62.06,152.68 61.73,153.79 61.19,154.63 C60.66,155.48 59.76,156.29 58.83,156.78 C57.90,157.27 56.68,157.56 55.60,157.56 C54.52,157.56 53.30,157.27 52.37,156.78 C51.44,156.29 50.54,155.48 50.01,154.63 C49.47,153.79 49.14,152.68 49.14,151.70 C49.14,150.72 49.47,149.61 50.01,148.77 C50.54,147.92 51.44,147.11 52.37,146.62 C53.30,146.13 54.52,145.83 55.60,145.83 C56.68,145.83 57.90,146.13 58.83,146.62 C59.76,147.11 60.66,147.92 61.19,148.77 C61.73,149.61 62.06,150.72 62.06,151.70Z" fill="none" stroke="#dd3c3c" stroke-width="0.5" stroke-opacity="0.85"/>
<path d="M60.92,151.70 C60.92,152.50 60.65,153.42 60.21,154.11 C59.76,154.81 59.03,155.48 58.26,155.88 C57.49,156.29 56.49,156.53 55.60,156.53 C54.71,156.53 53.71,156.29 52.94,155.88 C52.17,155.48 51.44,154.81 50.99,154.11 C50.55,153.42 50.28,152.50 50.28,151.70 C50.28,150.89 50.55,149.98 50.99,149.28 C51.44,148.59 52.17,147.92 52.94,147.52 C53.71,147.11 54.71,146.87 55.60,146.87 C56.49,146.87 57.49,147.11 58.26,147.52 C59.03,147.92 59.76,148.59 60.21,149.28 C60.65,149.98 60.92,150.89 60.92,151.70Z" fill="none" stroke="#dd3c3c" stroke-width="0.5" stroke-opacity="0.75"/>
<path d="M59.78,151.70 C59.78,152.33 59.57,153.05 59.22,153.60 C58.87,154.15 58.29,154.67 57.69,154.99 C57.09,155.30 56.30,155.50 55.60,155.50 C54.90,155.50 54.11,155.30 53.51,154.99 C52.91,154.67 52.33,154.15 51.98,153.60 C51.63,153.05 51.42,152.33 51.42,151.70 C51.42,151.07 51.63,150.35 51.98,149.80 C52.33,149.25 52.91,148.73 53.51,148.41 C54.11,148.10 54.90,147.90 55.60,147.90 C56.30,147.90 57.09,148.10 57.69,148.41 C58.29,148.73 58.87,149.25 59.22,149.80 C59.57,150.35 59.78,151.07 59.78,151.70Z" fill="none" stroke="#dd3c3c" stroke-width="0.5" stroke-opacity="0.65"/>
<path d="M58.64,151.70 C58.64,152.16 58.49,152.68 58.23,153.08 C57.98,153.48 57.56,153.86 57.12,154.09 C56.68,154.32 56.11,154.46 55.60,154.46 C55.09,154.46 54.52,154.32 54.08,154.09 C53.64,153.86 53.22,153.48 52.97,153.08 C52.71,152.68 52.56,152.16 52.56,151.70 C52.56,151.24 52.71,150.72 52.97,150.32 C53.22,149.92 53.64,149.54 54.08,149.31 C54.52,149.08 55.09,148.94 55.60,148.94 C56.11,148.94 56.68,149.08 57.12,149.31 C57.56,149.54 57.98,149.92 58.23,150.32 C58.49,150.72 58.64,151.24 58.64,151.70Z" fill="none" stroke="#dd3c3c" stroke-width="0.5" stroke-opacity="0.55"/>
<path d="M57.50,151.70 C57.50,151.99 57.40,152.31 57.25,152.56 C57.09,152.81 56.82,153.05 56.55,153.19 C56.28,153.34 55.92,153.42 55.60,153.42 C55.28,153.42 54.92,153.34 54.65,153.19 C54.38,153.05 54.11,152.81 53.95,152.56 C53.80,152.31 53.70,151.99 53.70,151.70 C53.70,151.41 53.80,151.09 53.95,150.84 C54.11,150.59 54.38,150.35 54.65,150.21 C54.92,150.06 55.28,149.97 55.60,149.97 C55.92,149.97 56.28,150.06 56.55,150.21 C56.82,150.35 57.09,150.59 57.25,150.84 C57.40,151.09 57.50,151.41 57.50,151.70Z" fill="none" stroke="#dd3c3c" stroke-width="0.5" stroke-opacity="0.45"/>
<path d="M55.0,145.2 q3,-0.9 5.5,0.4" stroke="#5a0d0d" stroke-width="0.8" fill="none"/>
<circle cx="74.01" cy="131.08" r="0.3" fill="#333" opacity="0.75"/>
<circle cx="81.13" cy="131.83" r="0.3" fill="#333" opacity="0.75"/>
<circle cx="70.61" cy="134.79" r="0.3" fill="#333" opacity="0.75"/>
<circle cx="75.37" cy="128.12" r="0.3" fill="#333" opacity="0.75"/>
<circle cx="64.22" cy="123.65" r="0.3" fill="#333" opacity="0.75"/>
<circle cx="74.18" cy="133.69" r="0.3" fill="#333" opacity="0.75"/>
<circle cx="73.44" cy="127.13" r="0.3" fill="#333" opacity="0.75"/>
<circle cx="71.04" cy="134.84" r="0.3" fill="#333" opacity="0.75"/>
<circle cx="66.94" cy="125.86" r="0.3" fill="#333" opacity="0.75"/>
<circle cx="74.10" cy="132.29" r="0.3" fill="#333" opacity="0.75"/>
<circle cx="72.38" cy="130.70" r="0.3" fill="#333" opacity="0.75"/>
<circle cx="77.26" cy="131.67" r="0.3" fill="#333" opacity="0.75"/>
<circle cx="72.17" cy="128.09" r="0.3" fill="#333" opacity="0.75"/>
<circle cx="70.14" cy="126.65" r="0.3" fill="#333" opacity="0.75"/>
<circle cx="72.79" cy="129.94" r="0.3" fill="#333" opacity="0.75"/>
<circle cx="79.34" cy="138.32" r="0.3" fill="#333" opacity="0.75"/>
<circle cx="72.22" cy="130.97" r="0.3" fill="#333" opacity="0.75"/>
<circle cx="75.18" cy="133.54" r="0.3" fill="#333" opacity="0.75"/>
<circle cx="74.09" cy="131.01" r="0.3" fill="#333" opacity="0.75"/>
<circle cx="72.12" cy="125.91" r="0.3" fill="#333" opacity="0.75"/>
<circle cx="77.49" cy="137.03" r="0.3" fill="#333" opacity="0.75"/>
<circle cx="76.65" cy="133.36" r="0.3" fill="#333" opacity="0.75"/>
<circle cx="75.06" cy="129.10" r="0.3" fill="#333" opacity="0.75"/>
<circle cx="66.87" cy="127.57" r="0.3" fill="#333" opacity="0.75"/>
<circle cx="74.80" cy="128.54" r="0.3" fill="#333" opacity="0.75"/>
<circle cx="70.14" cy="132.00" r="0.3" fill="#333" opacity="0.75"/>
<circle cx="66.78" cy="131.47" r="0.3" fill="#333" opacity="0.75"/>
<circle cx="76.56" cy="140.26" r="0.3" fill="#333" opacity="0.75"/>
<circle cx="71.13" cy="127.98" r="0.3" fill="#333" opacity="0.75"/>
<circle cx="71.97" cy="129.19" r="0.3" fill="#333" opacity="0.75"/>
<circle cx="73.16" cy="126.74" r="0.3" fill="#333" opacity="0.75"/>
<circle cx="78.30" cy="130.08" r="0.3" fill="#333" opacity="0.75"/>
<circle cx="71.97" cy="130.63" r="0.3" fill="#333" opacity="0.75"/>
<circle cx="71.85" cy="126.98" r="0.3" fill="#333" opacity="0.75"/>
<circle cx="75.42" cy="129.64" r="0.3" fill="#333" opacity="0.75"/>
<circle cx="69.01" cy="126.27" r="0.3" fill="#333" opacity="0.75"/>
<circle cx="73.12" cy="135.54" r="0.3" fill="#333" opacity="0.75"/>
<circle cx="69.61" cy="130.53" r="0.3" fill="#333" opacity="0.75"/>
<circle cx="70.86" cy="126.60" r="0.3" fill="#333" opacity="0.75"/>
<circle cx="72.69" cy="130.09" r="0.3" fill="#333" opacity="0.75"/>
<circle cx="77.45" cy="138.63" r="0.3" fill="#333" opacity="0.75"/>
<circle cx="71.45" cy="133.07" r="0.3" fill="#333" opacity="0.75"/>
<circle cx="77.98" cy="135.61" r="0.3" fill="#333" opacity="0.75"/>
<circle cx="70.96" cy="131.19" r="0.3" fill="#333" opacity="0.75"/>
<circle cx="73.57" cy="130.98" r="0.3" fill="#333" opacity="0.75"/>
<circle cx="72.92" cy="131.66" r="0.3" fill="#333" opacity="0.75"/>
<circle cx="78.46" cy="137.08" r="0.3" fill="#333" opacity="0.75"/>
<circle cx="73.18" cy="133.03" r="0.3" fill="#333" opacity="0.75"/>
<circle cx="79.81" cy="130.55" r="0.3" fill="#333" opacity="0.75"/>
<circle cx="79.89" cy="129.17" r="0.3" fill="#333" opacity="0.75"/>
<circle cx="76.17" cy="133.60" r="0.3" fill="#333" opacity="0.75"/>
<circle cx="79.93" cy="135.01" r="0.3" fill="#333" opacity="0.75"/>
<circle cx="72.08" cy="125.83" r="0.3" fill="#333" opacity="0.75"/>
<circle cx="69.00" cy="129.38" r="0.3" fill="#333" opacity="0.75"/>
<circle cx="73.05" cy="126.78" r="0.3" fill="#333" opacity="0.75"/>
<circle cx="76.13" cy="128.68" r="0.3" fill="#333" opacity="0.75"/>
<circle cx="72.25" cy="127.17" r="0.3" fill="#333" opacity="0.75"/>
<circle cx="80.62" cy="139.73" r="0.3" fill="#333" opacity="0.75"/>
<circle cx="73.37" cy="123.92" r="0.3" fill="#333" opacity="0.75"/>
<circle cx="75.11" cy="131.01" r="0.3" fill="#333" opacity="0.75"/>
<circle cx="75.40" cy="132.98" r="0.3" fill="#333" opacity="0.75"/>
<circle cx="72.72" cy="132.47" r="0.3" fill="#333" opacity="0.75"/>
<circle cx="77.35" cy="133.02" r="0.3" fill="#333" opacity="0.75"/>
<circle cx="72.37" cy="127.17" r="0.3" fill="#333" opacity="0.75"/>
<circle cx="76.77" cy="127.91" r="0.3" fill="#333" opacity="0.75"/>
<circle cx="73.36" cy="126.87" r="0.3" fill="#333" opacity="0.75"/>
<circle cx="68.43" cy="128.41" r="0.3" fill="#333" opacity="0.75"/>
<circle cx="73.90" cy="130.06" r="0.3" fill="#333" opacity="0.75"/>
<circle cx="77.50" cy="126.98" r="0.3" fill="#333" opacity="0.75"/>
<circle cx="73.73" cy="130.86" r="0.3" fill="#333" opacity="0.75"/>
<circle cx="77.33" cy="128.34" r="0.3" fill="#333" opacity="0.75"/>
<circle cx="76.86" cy="132.72" r="0.3" fill="#333" opacity="0.75"/>
<circle cx="79.42" cy="137.76" r="0.3" fill="#333" opacity="0.75"/>
<circle cx="76.20" cy="139.22" r="0.3" fill="#333" opacity="0.75"/>
<circle cx="73.99" cy="128.47" r="0.3" fill="#333" opacity="0.75"/>
<circle cx="72.64" cy="125.69" r="0.3" fill="#333" opacity="0.75"/>
<circle cx="73.88" cy="123.16" r="0.3" fill="#333" opacity="0.75"/>
<circle cx="73.66" cy="131.30" r="0.3" fill="#333" opacity="0.75"/>
<circle cx="77.97" cy="131.43" r="0.3" fill="#333" opacity="0.75"/>
<circle cx="79.56" cy="131.41" r="0.3" fill="#333" opacity="0.75"/>
<circle cx="73.46" cy="122.88" r="0.3" fill="#333" opacity="0.75"/>
<circle cx="70.96" cy="125.10" r="0.3" fill="#333" opacity="0.75"/>
<circle cx="79.84" cy="135.80" r="0.3" fill="#333" opacity="0.75"/>
<circle cx="69.69" cy="128.96" r="0.3" fill="#333" opacity="0.75"/>
<circle cx="75.88" cy="130.45" r="0.3" fill="#333" opacity="0.75"/>
<circle cx="74.09" cy="128.99" r="0.3" fill="#333" opacity="0.75"/>
<circle cx="71.88" cy="122.34" r="0.3" fill="#333" opacity="0.75"/>
<circle cx="73.65" cy="134.28" r="0.3" fill="#333" opacity="0.75"/>
<circle cx="79.59" cy="132.80" r="0.3" fill="#333" opacity="0.75"/>
<circle cx="71.08" cy="127.29" r="0.3" fill="#333" opacity="0.75"/>
<circle cx="77.51" cy="133.60" r="0.3" fill="#333" opacity="0.75"/>
<circle cx="71.72" cy="129.73" r="0.3" fill="#333" opacity="0.75"/>
<circle cx="73.20" cy="131.27" r="0.3" fill="#333" opacity="0.75"/>
<circle cx="72.41" cy="123.76" r="0.3" fill="#333" opacity="0.75"/>
<circle cx="74.23" cy="132.82" r="0.3" fill="#333" opacity="0.75"/>
<circle cx="69.68" cy="126.71" r="0.3" fill="#333" opacity="0.75"/>
<circle cx="77.42" cy="131.00" r="0.3" fill="#333" opacity="0.75"/>
<circle cx="71.46" cy="135.41" r="0.3" fill="#333" opacity="0.75"/>
<circle cx="77.23" cy="135.79" r="0.3" fill="#333" opacity="0.75"/>
<circle cx="70.31" cy="133.24" r="0.3" fill="#333" opacity="0.75"/>
<circle cx="67.55" cy="123.83" r="0.3" fill="#333" opacity="0.75"/>
<circle cx="76.88" cy="136.61" r="0.3" fill="#333" opacity="0.75"/>
<circle cx="70.38" cy="125.23" r="0.3" fill="#333" opacity="0.75"/>
<circle cx="74.76" cy="123.76" r="0.3" fill="#333" opacity="0.75"/>
<circle cx="76.49" cy="133.64" r="0.3" fill="#333" opacity="0.75"/>
<circle cx="72.26" cy="130.71" r="0.3" fill="#333" opacity="0.75"/>
<circle cx="77.02" cy="133.12" r="0.3" fill="#333" opacity="0.75"/>
<circle cx="76.03" cy="136.66" r="0.3" fill="#333" opacity="0.75"/>
<circle cx="72.14" cy="129.31" r="0.3" fill="#333" opacity="0.75"/>
<circle cx="70.97" cy="152.01" r="0.27" fill="#666" opacity="0.6"/>
<circle cx="71.42" cy="149.84" r="0.27" fill="#666" opacity="0.6"/>
<circle cx="73.53" cy="148.26" r="0.27" fill="#666" opacity="0.6"/>
<circle cx="79.66" cy="147.67" r="0.27" fill="#666" opacity="0.6"/>
<circle cx="78.49" cy="151.20" r="0.27" fill="#666" opacity="0.6"/>
<circle cx="78.11" cy="147.36" r="0.27" fill="#666" opacity="0.6"/>
<circle cx="76.59" cy="150.93" r="0.27" fill="#666" opacity="0.6"/>
<circle cx="70.62" cy="149.04" r="0.27" fill="#666" opacity="0.6"/>
<circle cx="72.50" cy="147.86" r="0.27" fill="#666" opacity="0.6"/>
<circle cx="78.03" cy="145.21" r="0.27" fill="#666" opacity="0.6"/>
<circle cx="66.50" cy="141.27" r="0.27" fill="#666" opacity="0.6"/>
<circle cx="71.25" cy="145.51" r="0.27" fill="#666" opacity="0.6"/>
<circle cx="73.06" cy="150.18" r="0.27" fill="#666" opacity="0.6"/>
<circle cx="79.80" cy="149.19" r="0.27" fill="#666" opacity="0.6"/>
<circle cx="74.79" cy="145.16" r="0.27" fill="#666" opacity="0.6"/>
<circle cx="75.24" cy="153.24" r="0.27" fill="#666" opacity="0.6"/>
<circle cx="78.17" cy="140.46" r="0.27" fill="#666" opacity="0.6"/>
<circle cx="76.44" cy="154.11" r="0.27" fill="#666" opacity="0.6"/>
<circle cx="76.19" cy="142.24" r="0.27" fill="#666" opacity="0.6"/>
<circle cx="71.82" cy="150.26" r="0.27" fill="#666" opacity="0.6"/>
<circle cx="74.60" cy="144.87" r="0.27" fill="#666" opacity="0.6"/>
<circle cx="69.57" cy="151.72" r="0.27" fill="#666" opacity="0.6"/>
<circle cx="67.86" cy="153.53" r="0.27" fill="#666" opacity="0.6"/>
<circle cx="73.08" cy="149.16" r="0.27" fill="#666" opacity="0.6"/>
<circle cx="67.86" cy="145.70" r="0.27" fill="#666" opacity="0.6"/>
<circle cx="75.65" cy="142.34" r="0.27" fill="#666" opacity="0.6"/>
<circle cx="80.97" cy="142.60" r="0.27" fill="#666" opacity="0.6"/>
<circle cx="68.30" cy="148.17" r="0.27" fill="#666" opacity="0.6"/>
<circle cx="74.85" cy="150.82" r="0.27" fill="#666" opacity="0.6"/>
<circle cx="71.57" cy="147.20" r="0.27" fill="#666" opacity="0.6"/>
<circle cx="72.09" cy="145.79" r="0.27" fill="#666" opacity="0.6"/>
<circle cx="63.08" cy="151.70" r="0.27" fill="#666" opacity="0.6"/>
<circle cx="73.97" cy="148.61" r="0.27" fill="#666" opacity="0.6"/>
<circle cx="70.58" cy="148.97" r="0.27" fill="#666" opacity="0.6"/>
<circle cx="72.95" cy="147.70" r="0.27" fill="#666" opacity="0.6"/>
<circle cx="77.25" cy="141.38" r="0.27" fill="#666" opacity="0.6"/>
<circle cx="73.97" cy="143.90" r="0.27" fill="#666" opacity="0.6"/>
<circle cx="71.78" cy="153.76" r="0.27" fill="#666" opacity="0.6"/>
<circle cx="68.83" cy="147.62" r="0.27" fill="#666" opacity="0.6"/>
<circle cx="70.73" cy="151.65" r="0.27" fill="#666" opacity="0.6"/>
<text x="56.00" y="137.80" font-size="2.8" text-anchor="start" font-weight="normal" fill="#222" textLength="4.20" lengthAdjust="spacingAndGlyphs" stroke="#222" stroke-width="0.1">10.7</text>
<text x="69.00" y="137.80" font-size="2.8" text-anchor="start" font-weight="normal" fill="#222" textLength="4.20" lengthAdjust="spacingAndGlyphs" stroke="#222" stroke-width="0.1">10.1</text>
<text x="69.00" y="148.00" font-size="2.8" text-anchor="start" font-weight="normal" fill="#222" textLength="4.20" lengthAdjust="spacingAndGlyphs" stroke="#222" stroke-width="0.1">10.1</text>
<line x1="47.20" y1="118.70" x2="47.20" y2="161.40" stroke="#555" stroke-width="0.8"/>
<line x1="47.20" y1="161.40" x2="86.00" y2="161.40" stroke="#777" stroke-width="0.8"/>
<line x1="45.70" y1="124.00" x2="47.20" y2="124.00" stroke="#444" stroke-width="0.5"/>
<text x="43.20" y="125.30" font-size="3.6" text-anchor="end" font-weight="normal" fill="#222" stroke="#222" stroke-width="0.1">10<tspan dy="-1.44" font-size="2.16">3</tspan><tspan dy="1.44"></tspan></text>
<line x1="45.70" y1="133.00" x2="47.20" y2="133.00" stroke="#444" stroke-width="0.5"/>
<text x="43.20" y="134.30" font-size="3.6" text-anchor="end" font-weight="normal" fill="#222" stroke="#222" stroke-width="0.1">10<tspan dy="-1.44" font-size="2.16">2</tspan><tspan dy="1.44"></tspan></text>
<line x1="45.70" y1="141.30" x2="47.20" y2="141.30" stroke="#444" stroke-width="0.5"/>
<text x="43.20" y="142.60" font-size="3.6" text-anchor="end" font-weight="normal" fill="#222" stroke="#222" stroke-width="0.1">10<tspan dy="-1.44" font-size="2.16">1</tspan><tspan dy="1.44"></tspan></text>
<line x1="45.70" y1="150.00" x2="47.20" y2="150.00" stroke="#444" stroke-width="0.5"/>
<text x="43.20" y="151.30" font-size="3.6" text-anchor="end" font-weight="normal" fill="#222" stroke="#222" stroke-width="0.1">10<tspan dy="-1.44" font-size="2.16">1</tspan><tspan dy="1.44"></tspan></text>
<line x1="45.70" y1="154.00" x2="47.20" y2="154.00" stroke="#444" stroke-width="0.5"/>
<text x="43.20" y="155.30" font-size="3.6" text-anchor="end" font-weight="normal" fill="#222" stroke="#222" stroke-width="0.1">0</text>
<line x1="45.70" y1="160.50" x2="47.20" y2="160.50" stroke="#444" stroke-width="0.5"/>
<text x="43.20" y="161.80" font-size="3.6" text-anchor="end" font-weight="normal" fill="#222" stroke="#222" stroke-width="0.1">-10<tspan dy="-1.44" font-size="2.16">1</tspan><tspan dy="1.44"></tspan></text>
<text x="47.50" y="168.50" font-size="3.7" text-anchor="start" font-weight="normal" fill="#222" textLength="38.40" lengthAdjust="spacingAndGlyphs" stroke="#222" stroke-width="0.1">-10010<tspan dy="-1.48" font-size="2.22">1</tspan><tspan dy="1.48"> 10</tspan><tspan dy="-1.48" font-size="2.22">1</tspan><tspan dy="1.48"> 10</tspan><tspan dy="-1.48" font-size="2.22">2</tspan><tspan dy="1.48"> 10</tspan><tspan dy="-1.48" font-size="2.22">3</tspan><tspan dy="1.48"></tspan></text>
<text transform="translate(34.00,141.00) rotate(-90)" font-size="3.6" text-anchor="middle" font-weight="normal" fill="#222" textLength="11.50" lengthAdjust="spacingAndGlyphs" stroke="#222" stroke-width="0.1">PIPE-A</text>
<text transform="translate(35.30,169.10) rotate(-90)" font-size="3.6" text-anchor="middle" font-weight="normal" fill="#222" textLength="6.60" lengthAdjust="spacingAndGlyphs" stroke="#222" stroke-width="0.1">-440</text>
<text x="42.10" y="173.10" font-size="3.6" text-anchor="start" font-weight="normal" fill="#222" textLength="6.00" lengthAdjust="spacingAndGlyphs" stroke="#222" stroke-width="0.1">-320</text>
<text x="48.90" y="176.90" font-size="3.8" text-anchor="start" font-weight="normal" fill="#1a1a1a" textLength="35.20" lengthAdjust="spacingAndGlyphs" stroke="#1a1a1a" stroke-width="0.1">ANNEXIN V APC-A</text>
<text x="101.00" y="115.10" font-size="4.0" text-anchor="start" font-weight="normal" fill="#1a1a1a" textLength="59.50" lengthAdjust="spacingAndGlyphs" stroke="#1a1a1a" stroke-width="0.1">ANNEXIN (4-) CTRL+shAK2 BIS</text>
<rect x="116.00" y="119.40" width="38.80" height="41.20" fill="#fff" stroke="#d8d8d8" stroke-width="0.5"/>
<line x1="134.00" y1="119.40" x2="134.00" y2="160.60" stroke="#888" stroke-width="0.9"/>
<line x1="116.00" y1="141.20" x2="154.80" y2="141.20" stroke="#999" stroke-width="1.1"/>
<circle cx="120.30" cy="143.73" r="0.3" fill="#e07070" opacity="0.55"/>
<circle cx="127.47" cy="149.47" r="0.3" fill="#e07070" opacity="0.55"/>
<circle cx="123.47" cy="155.67" r="0.3" fill="#e07070" opacity="0.55"/>
<circle cx="120.74" cy="149.39" r="0.3" fill="#e07070" opacity="0.55"/>
<circle cx="125.71" cy="152.79" r="0.3" fill="#e07070" opacity="0.55"/>
<circle cx="122.52" cy="155.47" r="0.3" fill="#e07070" opacity="0.55"/>
<circle cx="135.76" cy="149.23" r="0.3" fill="#e07070" opacity="0.55"/>
<circle cx="133.98" cy="141.88" r="0.3" fill="#e07070" opacity="0.55"/>
<circle cx="131.76" cy="149.51" r="0.3" fill="#e07070" opacity="0.55"/>
<circle cx="125.66" cy="149.53" r="0.3" fill="#e07070" opacity="0.55"/>
<circle cx="121.94" cy="145.48" r="0.3" fill="#e07070" opacity="0.55"/>
<circle cx="123.10" cy="156.60" r="0.3" fill="#e07070" opacity="0.55"/>
<circle cx="130.47" cy="149.49" r="0.3" fill="#e07070" opacity="0.55"/>
<circle cx="122.46" cy="147.97" r="0.3" fill="#e07070" opacity="0.55"/>
<circle cx="119.24" cy="158.79" r="0.3" fill="#e07070" opacity="0.55"/>
<circle cx="128.19" cy="151.51" r="0.3" fill="#e07070" opacity="0.55"/>
<circle cx="122.64" cy="146.58" r="0.3" fill="#e07070" opacity="0.55"/>
<circle cx="131.32" cy="154.37" r="0.3" fill="#e07070" opacity="0.55"/>
<circle cx="120.43" cy="155.27" r="0.3" fill="#e07070" opacity="0.55"/>
<circle cx="119.68" cy="153.77" r="0.3" fill="#e07070" opacity="0.55"/>
<circle cx="120.39" cy="149.21" r="0.3" fill="#e07070" opacity="0.55"/>
<circle cx="127.38" cy="152.87" r="0.3" fill="#e07070" opacity="0.55"/>
<circle cx="129.86" cy="147.38" r="0.3" fill="#e07070" opacity="0.55"/>
<circle cx="132.58" cy="156.81" r="0.3" fill="#e07070" opacity="0.55"/>
<circle cx="124.95" cy="153.01" r="0.3" fill="#e07070" opacity="0.55"/>
<circle cx="121.26" cy="150.34" r="0.3" fill="#e07070" opacity="0.55"/>
<circle cx="118.66" cy="151.38" r="0.3" fill="#e07070" opacity="0.55"/>
<circle cx="125.96" cy="156.80" r="0.3" fill="#e07070" opacity="0.55"/>
<circle cx="129.55" cy="154.52" r="0.3" fill="#e07070" opacity="0.55"/>
<circle cx="123.26" cy="150.03" r="0.3" fill="#e07070" opacity="0.55"/>
<circle cx="123.36" cy="151.96" r="0.3" fill="#e07070" opacity="0.55"/>
<circle cx="117.48" cy="148.77" r="0.3" fill="#e07070" opacity="0.55"/>
<circle cx="125.11" cy="148.78" r="0.3" fill="#e07070" opacity="0.55"/>
<circle cx="132.98" cy="150.58" r="0.3" fill="#e07070" opacity="0.55"/>
<circle cx="132.54" cy="156.07" r="0.3" fill="#e07070" opacity="0.55"/>
<circle cx="122.61" cy="152.73" r="0.3" fill="#e07070" opacity="0.55"/>
<circle cx="131.23" cy="149.56" r="0.3" fill="#e07070" opacity="0.55"/>
<circle cx="125.42" cy="148.59" r="0.3" fill="#e07070" opacity="0.55"/>
<circle cx="125.28" cy="149.47" r="0.3" fill="#e07070" opacity="0.55"/>
<circle cx="125.40" cy="155.33" r="0.3" fill="#e07070" opacity="0.55"/>
<circle cx="131.69" cy="151.58" r="0.3" fill="#e07070" opacity="0.55"/>
<circle cx="125.97" cy="154.70" r="0.3" fill="#e07070" opacity="0.55"/>
<circle cx="123.61" cy="146.43" r="0.3" fill="#e07070" opacity="0.55"/>
<circle cx="130.33" cy="146.96" r="0.3" fill="#e07070" opacity="0.55"/>
<circle cx="129.47" cy="146.83" r="0.3" fill="#e07070" opacity="0.55"/>
<circle cx="133.79" cy="146.49" r="0.3" fill="#e07070" opacity="0.55"/>
<circle cx="129.08" cy="157.48" r="0.3" fill="#e07070" opacity="0.55"/>
<circle cx="120.39" cy="157.42" r="0.3" fill="#e07070" opacity="0.55"/>
<circle cx="121.05" cy="143.38" r="0.3" fill="#e07070" opacity="0.55"/>
<circle cx="128.46" cy="154.03" r="0.3" fill="#e07070" opacity="0.55"/>
<circle cx="124.03" cy="140.09" r="0.3" fill="#e07070" opacity="0.55"/>
<circle cx="124.74" cy="149.68" r="0.3" fill="#e07070" opacity="0.55"/>
<circle cx="123.18" cy="149.75" r="0.3" fill="#e07070" opacity="0.55"/>
<circle cx="116.41" cy="148.55" r="0.3" fill="#e07070" opacity="0.55"/>
<circle cx="133.64" cy="157.68" r="0.3" fill="#e07070" opacity="0.55"/>
<circle cx="123.26" cy="147.92" r="0.3" fill="#e07070" opacity="0.55"/>
<circle cx="126.90" cy="155.59" r="0.3" fill="#e07070" opacity="0.55"/>
<circle cx="128.47" cy="145.95" r="0.3" fill="#e07070" opacity="0.55"/>
<circle cx="125.78" cy="151.61" r="0.3" fill="#e07070" opacity="0.55"/>
<circle cx="131.90" cy="156.17" r="0.3" fill="#e07070" opacity="0.55"/>
<circle cx="127.51" cy="156.25" r="0.3" fill="#e07070" opacity="0.55"/>
<circle cx="123.10" cy="157.64" r="0.3" fill="#e07070" opacity="0.55"/>
<circle cx="122.96" cy="152.71" r="0.3" fill="#e07070" opacity="0.55"/>
<circle cx="129.41" cy="147.05" r="0.3" fill="#e07070" opacity="0.55"/>
<circle cx="121.63" cy="143.41" r="0.3" fill="#e07070" opacity="0.55"/>
<circle cx="125.79" cy="150.76" r="0.3" fill="#e07070" opacity="0.55"/>
<circle cx="123.43" cy="153.15" r="0.3" fill="#e07070" opacity="0.55"/>
<circle cx="125.42" cy="149.85" r="0.3" fill="#e07070" opacity="0.55"/>
<circle cx="128.81" cy="158.57" r="0.3" fill="#e07070" opacity="0.55"/>
<circle cx="122.86" cy="146.94" r="0.3" fill="#e07070" opacity="0.55"/>
<circle cx="122.10" cy="151.40" r="0.3" fill="#e07070" opacity="0.55"/>
<circle cx="127.81" cy="147.28" r="0.3" fill="#e07070" opacity="0.55"/>
<circle cx="129.80" cy="146.57" r="0.3" fill="#e07070" opacity="0.55"/>
<circle cx="128.97" cy="152.85" r="0.3" fill="#e07070" opacity="0.55"/>
<circle cx="127.23" cy="160.32" r="0.3" fill="#e07070" opacity="0.55"/>
<circle cx="123.73" cy="150.29" r="0.3" fill="#e07070" opacity="0.55"/>
<circle cx="127.29" cy="154.73" r="0.3" fill="#e07070" opacity="0.55"/>
<circle cx="118.57" cy="152.19" r="0.3" fill="#e07070" opacity="0.55"/>
<circle cx="121.44" cy="153.72" r="0.3" fill="#e07070" opacity="0.55"/>
<circle cx="131.57" cy="151.22" r="0.3" fill="#e07070" opacity="0.55"/>
<circle cx="124.49" cy="151.79" r="0.3" fill="#e07070" opacity="0.55"/>
<circle cx="127.69" cy="151.71" r="0.3" fill="#e07070" opacity="0.55"/>
<circle cx="123.10" cy="147.84" r="0.3" fill="#e07070" opacity="0.55"/>
<circle cx="124.14" cy="156.24" r="0.3" fill="#e07070" opacity="0.55"/>
<circle cx="124.51" cy="156.82" r="0.3" fill="#e07070" opacity="0.55"/>
<circle cx="126.32" cy="150.94" r="0.3" fill="#e07070" opacity="0.55"/>
<circle cx="117.03" cy="148.13" r="0.3" fill="#e07070" opacity="0.55"/>
<circle cx="131.00" cy="145.42" r="0.3" fill="#e07070" opacity="0.55"/>
<circle cx="120.24" cy="146.26" r="0.3" fill="#e07070" opacity="0.55"/>
<circle cx="122.35" cy="153.78" r="0.3" fill="#e07070" opacity="0.55"/>
<circle cx="127.85" cy="142.23" r="0.3" fill="#e07070" opacity="0.55"/>
<circle cx="132.01" cy="148.44" r="0.3" fill="#e07070" opacity="0.55"/>
<circle cx="122.18" cy="158.20" r="0.3" fill="#e07070" opacity="0.55"/>
<circle cx="124.61" cy="145.64" r="0.3" fill="#e07070" opacity="0.55"/>
<circle cx="121.93" cy="147.86" r="0.3" fill="#e07070" opacity="0.55"/>
<circle cx="120.15" cy="149.56" r="0.3" fill="#e07070" opacity="0.55"/>
<circle cx="129.21" cy="152.51" r="0.3" fill="#e07070" opacity="0.55"/>
<circle cx="120.25" cy="151.50" r="0.3" fill="#e07070" opacity="0.55"/>
<circle cx="125.15" cy="154.29" r="0.3" fill="#e07070" opacity="0.55"/>
<circle cx="123.42" cy="152.97" r="0.3" fill="#e07070" opacity="0.55"/>
<circle cx="135.11" cy="151.41" r="0.3" fill="#e07070" opacity="0.55"/>
<circle cx="119.80" cy="152.42" r="0.3" fill="#e07070" opacity="0.55"/>
<circle cx="121.15" cy="149.40" r="0.3" fill="#e07070" opacity="0.55"/>
<circle cx="125.90" cy="152.46" r="0.3" fill="#e07070" opacity="0.55"/>
<circle cx="123.63" cy="154.66" r="0.3" fill="#e07070" opacity="0.55"/>
<circle cx="124.07" cy="145.36" r="0.3" fill="#e07070" opacity="0.55"/>
<circle cx="129.21" cy="149.43" r="0.3" fill="#e07070" opacity="0.55"/>
<circle cx="130.82" cy="148.17" r="0.3" fill="#e07070" opacity="0.55"/>
<circle cx="127.75" cy="152.36" r="0.3" fill="#e07070" opacity="0.55"/>
<circle cx="119.63" cy="157.08" r="0.3" fill="#e07070" opacity="0.55"/>
<circle cx="130.24" cy="153.14" r="0.3" fill="#e07070" opacity="0.55"/>
<circle cx="128.24" cy="148.86" r="0.3" fill="#e07070" opacity="0.55"/>
<circle cx="124.95" cy="151.97" r="0.3" fill="#e07070" opacity="0.55"/>
<circle cx="127.02" cy="154.05" r="0.3" fill="#e07070" opacity="0.55"/>
<circle cx="124.01" cy="147.97" r="0.3" fill="#e07070" opacity="0.55"/>
<circle cx="122.30" cy="152.78" r="0.3" fill="#e07070" opacity="0.55"/>
<circle cx="117.03" cy="145.58" r="0.3" fill="#e07070" opacity="0.55"/>
<circle cx="123.02" cy="148.61" r="0.3" fill="#e07070" opacity="0.55"/>
<circle cx="123.70" cy="139.50" r="0.3" fill="#e07070" opacity="0.55"/>
<circle cx="123.36" cy="149.92" r="0.3" fill="#e07070" opacity="0.55"/>
<circle cx="128.73" cy="142.45" r="0.3" fill="#e07070" opacity="0.55"/>
<circle cx="123.53" cy="153.05" r="0.3" fill="#e07070" opacity="0.55"/>
<circle cx="127.35" cy="156.17" r="0.3" fill="#e07070" opacity="0.55"/>
<circle cx="130.07" cy="146.46" r="0.3" fill="#e07070" opacity="0.55"/>
<circle cx="128.06" cy="149.55" r="0.3" fill="#e07070" opacity="0.55"/>
<circle cx="121.14" cy="157.63" r="0.3" fill="#e07070" opacity="0.55"/>
<circle cx="121.98" cy="147.31" r="0.3" fill="#e07070" opacity="0.55"/>
<circle cx="123.04" cy="147.31" r="0.3" fill="#e07070" opacity="0.55"/>
<circle cx="129.84" cy="152.64" r="0.3" fill="#e07070" opacity="0.55"/>
<circle cx="131.73" cy="152.78" r="0.3" fill="#e07070" opacity="0.55"/>
<circle cx="122.04" cy="155.53" r="0.3" fill="#e07070" opacity="0.55"/>
<circle cx="121.85" cy="149.00" r="0.3" fill="#e07070" opacity="0.55"/>
<circle cx="124.19" cy="151.17" r="0.3" fill="#e07070" opacity="0.55"/>
<path d="M123.50,147.50 C124.28,146.63 126.48,146.13 127.50,146.30 C128.52,146.47 129.32,147.42 129.60,148.50 C129.88,149.58 129.50,151.78 129.20,152.80 C128.90,153.82 128.63,154.37 127.80,154.60 C126.97,154.83 125.03,154.72 124.20,154.20 C123.37,153.68 122.92,152.62 122.80,151.50 C122.68,150.38 122.72,148.37 123.50,147.50Z" fill="none" stroke="#7a1515" stroke-width="0.65" stroke-opacity="0.95"/>
<path d="M124.51,148.65 C125.01,148.08 126.44,147.76 127.11,147.87 C127.77,147.97 128.29,148.59 128.47,149.29 C128.65,150.00 128.41,151.43 128.21,152.09 C128.02,152.75 127.84,153.11 127.30,153.26 C126.76,153.41 125.50,153.34 124.96,153.00 C124.42,152.66 124.13,151.97 124.05,151.25 C123.97,150.52 124.00,149.21 124.51,148.65Z" fill="none" stroke="#7a1515" stroke-width="0.65" stroke-opacity="0.70"/>
<path d="M132.11,148.32 C132.58,149.53 132.77,151.71 132.47,152.70 C132.16,153.69 131.05,153.50 130.30,154.26 C129.55,155.02 128.84,156.78 127.95,157.26 C127.06,157.74 125.91,157.43 124.94,157.15 C123.97,156.87 123.00,156.33 122.14,155.59 C121.29,154.84 120.44,153.70 119.82,152.67 C119.20,151.64 118.39,150.37 118.42,149.42 C118.45,148.47 119.13,147.78 120.01,146.96 C120.89,146.13 122.40,144.90 123.70,144.48 C125.00,144.05 126.81,144.25 127.80,144.41 C128.80,144.58 128.96,144.81 129.68,145.46 C130.40,146.11 131.65,147.11 132.11,148.32Z" fill="none" stroke="#e06060" stroke-width="0.4" stroke-opacity="0.55"/>
<path d="M131.29,149.81 C131.52,150.38 130.72,150.37 130.56,151.04 C130.40,151.71 130.69,153.03 130.32,153.82 C129.94,154.62 129.21,155.47 128.32,155.81 C127.43,156.15 125.91,155.99 124.98,155.85 C124.05,155.70 123.49,155.34 122.73,154.95 C121.97,154.56 120.88,154.24 120.41,153.51 C119.93,152.78 119.77,151.50 119.87,150.58 C119.97,149.66 120.36,148.63 121.03,148.00 C121.70,147.36 123.04,147.10 123.89,146.77 C124.74,146.44 125.25,145.86 126.14,146.01 C127.02,146.15 128.35,147.02 129.21,147.65 C130.07,148.29 131.07,149.25 131.29,149.81Z" fill="none" stroke="#e06060" stroke-width="0.4" stroke-opacity="0.45"/>
<path d="M130.35,149.81 C130.50,150.24 129.65,150.61 129.34,151.20 C129.02,151.78 128.92,152.83 128.47,153.32 C128.03,153.81 127.19,153.85 126.68,154.13 C126.18,154.42 126.08,154.94 125.44,155.05 C124.79,155.16 123.47,155.23 122.81,154.80 C122.16,154.38 121.77,153.14 121.51,152.51 C121.26,151.87 120.97,151.70 121.27,150.99 C121.58,150.27 122.73,148.71 123.34,148.20 C123.94,147.69 124.41,148.12 124.89,147.91 C125.37,147.69 125.64,146.79 126.23,146.91 C126.82,147.03 127.75,148.13 128.44,148.61 C129.13,149.10 130.20,149.38 130.35,149.81Z" fill="none" stroke="#e06060" stroke-width="0.4" stroke-opacity="0.35"/>
<circle cx="127.20" cy="158.15" r="0.3" fill="#e06a6a" opacity="0.5"/>
<circle cx="120.41" cy="150.47" r="0.3" fill="#e06a6a" opacity="0.5"/>
<circle cx="116.72" cy="149.04" r="0.3" fill="#e06a6a" opacity="0.5"/>
<circle cx="119.55" cy="158.35" r="0.3" fill="#e06a6a" opacity="0.5"/>
<circle cx="125.66" cy="151.08" r="0.3" fill="#e06a6a" opacity="0.5"/>
<circle cx="132.52" cy="143.21" r="0.3" fill="#e06a6a" opacity="0.5"/>
<circle cx="123.74" cy="153.85" r="0.3" fill="#e06a6a" opacity="0.5"/>
<circle cx="132.27" cy="159.98" r="0.3" fill="#e06a6a" opacity="0.5"/>
<circle cx="132.80" cy="153.52" r="0.3" fill="#e06a6a" opacity="0.5"/>
<circle cx="127.81" cy="158.30" r="0.3" fill="#e06a6a" opacity="0.5"/>
<circle cx="125.99" cy="154.40" r="0.3" fill="#e06a6a" opacity="0.5"/>
<circle cx="123.29" cy="151.41" r="0.3" fill="#e06a6a" opacity="0.5"/>
<circle cx="119.22" cy="160.58" r="0.3" fill="#e06a6a" opacity="0.5"/>
<circle cx="122.27" cy="144.92" r="0.3" fill="#e06a6a" opacity="0.5"/>
<circle cx="125.03" cy="152.87" r="0.3" fill="#e06a6a" opacity="0.5"/>
<circle cx="124.68" cy="160.06" r="0.3" fill="#e06a6a" opacity="0.5"/>
<circle cx="123.59" cy="151.97" r="0.3" fill="#e06a6a" opacity="0.5"/>
<circle cx="121.10" cy="152.91" r="0.3" fill="#e06a6a" opacity="0.5"/>
<circle cx="122.29" cy="153.80" r="0.3" fill="#e06a6a" opacity="0.5"/>
<circle cx="136.15" cy="154.53" r="0.3" fill="#e06a6a" opacity="0.5"/>
<circle cx="120.67" cy="160.51" r="0.3" fill="#e06a6a" opacity="0.5"/>
<circle cx="127.36" cy="156.18" r="0.3" fill="#e06a6a" opacity="0.5"/>
<circle cx="126.78" cy="156.19" r="0.3" fill="#e06a6a" opacity="0.5"/>
<circle cx="126.63" cy="158.49" r="0.3" fill="#e06a6a" opacity="0.5"/>
<circle cx="127.92" cy="158.25" r="0.3" fill="#e06a6a" opacity="0.5"/>
<circle cx="122.05" cy="152.99" r="0.3" fill="#e06a6a" opacity="0.5"/>
<circle cx="121.16" cy="156.73" r="0.3" fill="#e06a6a" opacity="0.5"/>
<circle cx="127.24" cy="151.19" r="0.3" fill="#e06a6a" opacity="0.5"/>
<circle cx="128.81" cy="148.65" r="0.3" fill="#e06a6a" opacity="0.5"/>
<circle cx="123.64" cy="155.47" r="0.3" fill="#e06a6a" opacity="0.5"/>
<circle cx="123.86" cy="154.51" r="0.3" fill="#e06a6a" opacity="0.5"/>
<circle cx="128.59" cy="154.28" r="0.3" fill="#e06a6a" opacity="0.5"/>
<circle cx="119.73" cy="155.78" r="0.3" fill="#e06a6a" opacity="0.5"/>
<circle cx="123.62" cy="153.44" r="0.3" fill="#e06a6a" opacity="0.5"/>
<circle cx="121.79" cy="147.61" r="0.3" fill="#e06a6a" opacity="0.5"/>
<circle cx="119.14" cy="151.62" r="0.3" fill="#e06a6a" opacity="0.5"/>
<circle cx="119.83" cy="142.42" r="0.3" fill="#e06a6a" opacity="0.5"/>
<circle cx="128.47" cy="148.48" r="0.3" fill="#e06a6a" opacity="0.5"/>
<circle cx="121.18" cy="155.07" r="0.3" fill="#e06a6a" opacity="0.5"/>
<circle cx="121.01" cy="155.57" r="0.3" fill="#e06a6a" opacity="0.5"/>
<circle cx="122.12" cy="154.19" r="0.3" fill="#e06a6a" opacity="0.5"/>
<circle cx="124.41" cy="153.00" r="0.3" fill="#e06a6a" opacity="0.5"/>
<circle cx="116.88" cy="147.27" r="0.3" fill="#e06a6a" opacity="0.5"/>
<circle cx="123.84" cy="158.49" r="0.3" fill="#e06a6a" opacity="0.5"/>
<circle cx="121.87" cy="155.07" r="0.3" fill="#e06a6a" opacity="0.5"/>
<circle cx="124.63" cy="154.88" r="0.3" fill="#e06a6a" opacity="0.5"/>
<circle cx="127.86" cy="147.16" r="0.3" fill="#e06a6a" opacity="0.5"/>
<circle cx="125.07" cy="152.31" r="0.3" fill="#e06a6a" opacity="0.5"/>
<circle cx="122.78" cy="149.67" r="0.3" fill="#e06a6a" opacity="0.5"/>
<circle cx="120.94" cy="148.99" r="0.3" fill="#e06a6a" opacity="0.5"/>
<circle cx="130.62" cy="153.04" r="0.3" fill="#e06a6a" opacity="0.5"/>
<circle cx="126.89" cy="149.20" r="0.3" fill="#e06a6a" opacity="0.5"/>
<circle cx="124.55" cy="158.61" r="0.3" fill="#e06a6a" opacity="0.5"/>
<circle cx="123.84" cy="149.10" r="0.3" fill="#e06a6a" opacity="0.5"/>
<circle cx="123.06" cy="149.11" r="0.3" fill="#e06a6a" opacity="0.5"/>
<path d="M130.00,129.00 C130.92,128.08 132.50,127.17 134.00,126.50 C135.50,125.83 137.33,125.28 139.00,125.00 C140.67,124.72 142.70,124.55 144.00,124.80 C145.30,125.05 146.55,125.63 146.80,126.50 C147.05,127.37 146.47,128.67 145.50,130.00 C144.53,131.33 142.42,133.00 141.00,134.50 C139.58,136.00 138.33,137.87 137.00,139.00 C135.67,140.13 134.17,141.13 133.00,141.30 C131.83,141.47 130.75,140.88 130.00,140.00 C129.25,139.12 128.75,137.33 128.50,136.00 C128.25,134.67 128.25,133.17 128.50,132.00 C128.75,130.83 129.08,129.92 130.00,129.00Z" fill="#ccc" fill-opacity="0.1"/>
<path d="M130.02,129.10 C131.02,128.11 132.64,127.02 134.16,126.34 C135.67,125.66 137.52,125.28 139.12,125.04 C140.71,124.80 142.51,124.60 143.75,124.90 C145.00,125.21 146.30,125.98 146.59,126.87 C146.88,127.75 146.40,128.93 145.48,130.20 C144.55,131.47 142.47,133.07 141.02,134.48 C139.57,135.89 138.02,137.54 136.75,138.68 C135.48,139.82 134.51,141.10 133.38,141.33 C132.26,141.55 130.79,140.95 130.02,140.02 C129.25,139.10 129.08,137.05 128.78,135.76 C128.48,134.48 128.00,133.40 128.21,132.29 C128.41,131.18 129.03,130.09 130.02,129.10Z" fill="none" stroke="#555" stroke-width="0.45" stroke-opacity="0.85"/>
<path d="M131.31,129.76 C132.12,129.02 133.63,128.57 134.92,127.93 C136.22,127.30 137.76,126.18 139.06,125.94 C140.36,125.70 141.66,126.27 142.72,126.48 C143.78,126.70 145.24,126.62 145.41,127.24 C145.58,127.86 144.65,129.10 143.75,130.23 C142.85,131.35 141.08,132.74 140.01,134.01 C138.95,135.28 138.40,136.96 137.36,137.85 C136.32,138.74 134.79,139.14 133.77,139.35 C132.75,139.55 131.83,139.77 131.26,139.10 C130.68,138.43 130.49,136.45 130.30,135.32 C130.10,134.20 129.93,133.29 130.10,132.36 C130.27,131.43 130.51,130.49 131.31,129.76Z" fill="none" stroke="#555" stroke-width="0.45" stroke-opacity="0.74"/>
<path d="M132.93,129.94 C133.59,129.35 134.50,128.95 135.42,128.54 C136.35,128.13 137.46,127.65 138.48,127.46 C139.50,127.28 140.73,127.30 141.54,127.43 C142.35,127.56 143.21,127.64 143.35,128.23 C143.48,128.82 143.02,130.09 142.35,130.96 C141.68,131.84 140.17,132.57 139.34,133.49 C138.51,134.41 138.19,135.72 137.38,136.46 C136.56,137.19 135.19,137.82 134.46,137.90 C133.73,137.98 133.43,137.40 133.00,136.93 C132.57,136.46 132.12,135.87 131.86,135.06 C131.61,134.26 131.29,132.96 131.47,132.11 C131.65,131.26 132.27,130.54 132.93,129.94Z" fill="none" stroke="#555" stroke-width="0.45" stroke-opacity="0.62"/>
<path d="M134.31,131.00 C134.68,130.52 135.14,129.67 135.77,129.33 C136.41,128.99 137.32,129.02 138.14,128.93 C138.96,128.84 140.09,128.62 140.68,128.77 C141.27,128.93 141.57,129.47 141.70,129.87 C141.82,130.28 141.91,130.61 141.46,131.22 C141.01,131.82 139.64,132.82 139.01,133.49 C138.37,134.16 138.18,134.67 137.65,135.21 C137.13,135.75 136.47,136.59 135.85,136.74 C135.23,136.89 134.38,136.60 133.94,136.10 C133.49,135.60 133.26,134.38 133.21,133.72 C133.15,133.07 133.41,132.62 133.59,132.16 C133.77,131.71 133.95,131.47 134.31,131.00Z" fill="none" stroke="#555" stroke-width="0.45" stroke-opacity="0.51"/>
<path d="M135.42,131.52 C135.70,131.26 136.54,131.22 136.88,131.05 C137.23,130.88 137.09,130.61 137.49,130.48 C137.89,130.36 138.80,130.27 139.29,130.31 C139.77,130.35 140.34,130.44 140.41,130.74 C140.48,131.05 140.05,131.77 139.72,132.15 C139.39,132.54 138.82,132.64 138.43,133.05 C138.03,133.46 137.71,134.26 137.37,134.61 C137.03,134.97 136.74,135.25 136.39,135.18 C136.05,135.11 135.52,134.46 135.31,134.19 C135.10,133.91 135.16,133.79 135.14,133.53 C135.13,133.26 135.18,132.94 135.22,132.60 C135.27,132.27 135.15,131.78 135.42,131.52Z" fill="none" stroke="#555" stroke-width="0.45" stroke-opacity="0.40"/>
<path d="M140.00,144.00 C140.72,143.42 142.25,143.17 143.00,143.50 C143.75,143.83 144.12,144.92 144.50,146.00 C144.88,147.08 145.38,148.80 145.30,150.00 C145.22,151.20 144.72,152.62 144.00,153.20 C143.28,153.78 141.83,153.87 141.00,153.50 C140.17,153.13 139.38,152.08 139.00,151.00 C138.62,149.92 138.53,148.17 138.70,147.00 C138.87,145.83 139.28,144.58 140.00,144.00Z" fill="none" stroke="#333" stroke-width="0.6" stroke-opacity="0.95"/>
<path d="M140.58,145.36 C141.08,144.95 142.16,144.77 142.68,145.01 C143.21,145.24 143.46,146.00 143.73,146.76 C144.00,147.52 144.35,148.72 144.29,149.56 C144.23,150.40 143.88,151.39 143.38,151.80 C142.88,152.21 141.86,152.26 141.28,152.01 C140.70,151.75 140.15,151.02 139.88,150.26 C139.61,149.50 139.55,148.27 139.67,147.46 C139.79,146.64 140.08,145.77 140.58,145.36Z" fill="none" stroke="#333" stroke-width="0.6" stroke-opacity="0.60"/>
<circle cx="141.85" cy="136.62" r="0.27" fill="#555" opacity="0.6"/>
<circle cx="144.23" cy="126.98" r="0.27" fill="#555" opacity="0.6"/>
<circle cx="139.87" cy="131.37" r="0.27" fill="#555" opacity="0.6"/>
<circle cx="137.58" cy="136.87" r="0.27" fill="#555" opacity="0.6"/>
<circle cx="131.35" cy="133.67" r="0.27" fill="#555" opacity="0.6"/>
<circle cx="130.22" cy="136.55" r="0.27" fill="#555" opacity="0.6"/>
<circle cx="132.05" cy="132.12" r="0.27" fill="#555" opacity="0.6"/>
<circle cx="138.27" cy="131.20" r="0.27" fill="#555" opacity="0.6"/>
<circle cx="143.69" cy="131.29" r="0.27" fill="#555" opacity="0.6"/>
<circle cx="141.94" cy="136.65" r="0.27" fill="#555" opacity="0.6"/>
<circle cx="130.98" cy="133.73" r="0.27" fill="#555" opacity="0.6"/>
<circle cx="132.13" cy="132.90" r="0.27" fill="#555" opacity="0.6"/>
<circle cx="135.42" cy="145.58" r="0.27" fill="#555" opacity="0.6"/>
<circle cx="134.56" cy="144.13" r="0.27" fill="#555" opacity="0.6"/>
<circle cx="139.60" cy="127.40" r="0.27" fill="#555" opacity="0.6"/>
<circle cx="123.54" cy="138.94" r="0.27" fill="#555" opacity="0.6"/>
<circle cx="125.42" cy="139.18" r="0.27" fill="#555" opacity="0.6"/>
<circle cx="142.98" cy="137.27" r="0.27" fill="#555" opacity="0.6"/>
<circle cx="135.78" cy="133.54" r="0.27" fill="#555" opacity="0.6"/>
<circle cx="138.51" cy="133.24" r="0.27" fill="#555" opacity="0.6"/>
<circle cx="133.89" cy="132.85" r="0.27" fill="#555" opacity="0.6"/>
<circle cx="143.80" cy="131.39" r="0.27" fill="#555" opacity="0.6"/>
<circle cx="139.21" cy="128.31" r="0.27" fill="#555" opacity="0.6"/>
<circle cx="132.86" cy="127.01" r="0.27" fill="#555" opacity="0.6"/>
<circle cx="135.85" cy="138.97" r="0.27" fill="#555" opacity="0.6"/>
<circle cx="138.77" cy="132.14" r="0.27" fill="#555" opacity="0.6"/>
<circle cx="140.55" cy="132.98" r="0.27" fill="#555" opacity="0.6"/>
<circle cx="139.16" cy="136.59" r="0.27" fill="#555" opacity="0.6"/>
<circle cx="140.15" cy="120.61" r="0.27" fill="#555" opacity="0.6"/>
<circle cx="129.43" cy="139.49" r="0.27" fill="#555" opacity="0.6"/>
<circle cx="136.38" cy="148.03" r="0.27" fill="#555" opacity="0.6"/>
<circle cx="135.64" cy="131.80" r="0.27" fill="#555" opacity="0.6"/>
<circle cx="145.67" cy="138.23" r="0.27" fill="#555" opacity="0.6"/>
<circle cx="148.02" cy="137.96" r="0.27" fill="#555" opacity="0.6"/>
<circle cx="135.82" cy="139.20" r="0.27" fill="#555" opacity="0.6"/>
<circle cx="132.43" cy="132.41" r="0.27" fill="#555" opacity="0.6"/>
<circle cx="133.78" cy="133.71" r="0.27" fill="#555" opacity="0.6"/>
<circle cx="141.52" cy="132.21" r="0.27" fill="#555" opacity="0.6"/>
<circle cx="138.87" cy="132.11" r="0.27" fill="#555" opacity="0.6"/>
<circle cx="135.79" cy="135.98" r="0.27" fill="#555" opacity="0.6"/>
<circle cx="130.74" cy="140.88" r="0.27" fill="#555" opacity="0.6"/>
<circle cx="138.26" cy="142.43" r="0.27" fill="#555" opacity="0.6"/>
<circle cx="142.58" cy="138.72" r="0.27" fill="#555" opacity="0.6"/>
<circle cx="136.13" cy="128.70" r="0.27" fill="#555" opacity="0.6"/>
<circle cx="135.72" cy="132.33" r="0.27" fill="#555" opacity="0.6"/>
<circle cx="138.45" cy="132.30" r="0.27" fill="#555" opacity="0.6"/>
<circle cx="154.72" cy="125.73" r="0.27" fill="#555" opacity="0.6"/>
<circle cx="143.81" cy="132.28" r="0.27" fill="#555" opacity="0.6"/>
<circle cx="135.59" cy="140.37" r="0.27" fill="#555" opacity="0.6"/>
<circle cx="137.02" cy="127.97" r="0.27" fill="#555" opacity="0.6"/>
<circle cx="139.40" cy="133.87" r="0.27" fill="#555" opacity="0.6"/>
<circle cx="125.07" cy="136.15" r="0.27" fill="#555" opacity="0.6"/>
<circle cx="130.88" cy="130.69" r="0.27" fill="#555" opacity="0.6"/>
<circle cx="139.80" cy="136.74" r="0.27" fill="#555" opacity="0.6"/>
<circle cx="135.32" cy="147.57" r="0.27" fill="#555" opacity="0.6"/>
<circle cx="139.43" cy="131.44" r="0.27" fill="#555" opacity="0.6"/>
<circle cx="138.37" cy="134.30" r="0.27" fill="#555" opacity="0.6"/>
<circle cx="124.23" cy="125.87" r="0.27" fill="#555" opacity="0.6"/>
<circle cx="128.95" cy="146.97" r="0.27" fill="#555" opacity="0.6"/>
<circle cx="135.93" cy="133.40" r="0.27" fill="#555" opacity="0.6"/>
<circle cx="133.73" cy="140.68" r="0.27" fill="#555" opacity="0.6"/>
<circle cx="137.16" cy="144.88" r="0.27" fill="#555" opacity="0.6"/>
<circle cx="141.57" cy="144.53" r="0.27" fill="#555" opacity="0.6"/>
<circle cx="136.32" cy="137.17" r="0.27" fill="#555" opacity="0.6"/>
<circle cx="134.49" cy="134.02" r="0.27" fill="#555" opacity="0.6"/>
<circle cx="126.98" cy="131.64" r="0.27" fill="#555" opacity="0.6"/>
<circle cx="131.49" cy="131.23" r="0.27" fill="#555" opacity="0.6"/>
<circle cx="144.04" cy="136.51" r="0.27" fill="#555" opacity="0.6"/>
<circle cx="144.09" cy="139.97" r="0.27" fill="#555" opacity="0.6"/>
<circle cx="142.32" cy="140.81" r="0.27" fill="#555" opacity="0.6"/>
<circle cx="133.50" cy="139.64" r="0.27" fill="#555" opacity="0.6"/>
<circle cx="135.14" cy="131.93" r="0.27" fill="#555" opacity="0.6"/>
<circle cx="143.91" cy="147.52" r="0.27" fill="#555" opacity="0.6"/>
<circle cx="131.34" cy="145.05" r="0.27" fill="#555" opacity="0.6"/>
<circle cx="141.81" cy="130.10" r="0.27" fill="#555" opacity="0.6"/>
<circle cx="138.58" cy="137.15" r="0.27" fill="#555" opacity="0.6"/>
<circle cx="139.17" cy="132.94" r="0.27" fill="#555" opacity="0.6"/>
<circle cx="129.57" cy="135.18" r="0.27" fill="#555" opacity="0.6"/>
<circle cx="141.98" cy="139.54" r="0.27" fill="#555" opacity="0.6"/>
<circle cx="140.82" cy="141.37" r="0.27" fill="#555" opacity="0.6"/>
<circle cx="131.27" cy="134.76" r="0.27" fill="#555" opacity="0.6"/>
<circle cx="138.97" cy="140.78" r="0.27" fill="#555" opacity="0.6"/>
<circle cx="137.90" cy="138.00" r="0.27" fill="#555" opacity="0.6"/>
<circle cx="137.77" cy="147.13" r="0.27" fill="#555" opacity="0.6"/>
<circle cx="124.38" cy="134.86" r="0.27" fill="#555" opacity="0.6"/>
<circle cx="151.31" cy="136.36" r="0.27" fill="#555" opacity="0.6"/>
<circle cx="126.41" cy="135.77" r="0.27" fill="#555" opacity="0.6"/>
<circle cx="128.71" cy="131.07" r="0.27" fill="#555" opacity="0.6"/>
<circle cx="138.30" cy="144.91" r="0.27" fill="#555" opacity="0.6"/>
<circle cx="139.67" cy="138.86" r="0.27" fill="#555" opacity="0.6"/>
<circle cx="142.89" cy="136.16" r="0.27" fill="#555" opacity="0.6"/>
<circle cx="132.05" cy="134.43" r="0.27" fill="#555" opacity="0.6"/>
<circle cx="138.95" cy="133.40" r="0.27" fill="#555" opacity="0.6"/>
<circle cx="133.14" cy="132.93" r="0.27" fill="#555" opacity="0.6"/>
<circle cx="128.32" cy="129.08" r="0.27" fill="#555" opacity="0.6"/>
<circle cx="136.48" cy="132.92" r="0.27" fill="#555" opacity="0.6"/>
<circle cx="137.22" cy="143.11" r="0.27" fill="#555" opacity="0.6"/>
<circle cx="138.73" cy="134.81" r="0.27" fill="#555" opacity="0.6"/>
<circle cx="130.22" cy="128.77" r="0.27" fill="#555" opacity="0.6"/>
<circle cx="139.17" cy="129.96" r="0.27" fill="#555" opacity="0.6"/>
<circle cx="139.48" cy="128.80" r="0.27" fill="#555" opacity="0.6"/>
<circle cx="137.78" cy="134.58" r="0.27" fill="#555" opacity="0.6"/>
<circle cx="142.75" cy="132.73" r="0.27" fill="#555" opacity="0.6"/>
<circle cx="134.85" cy="136.42" r="0.27" fill="#555" opacity="0.6"/>
<circle cx="137.32" cy="144.76" r="0.27" fill="#555" opacity="0.6"/>
<circle cx="135.51" cy="131.90" r="0.27" fill="#555" opacity="0.6"/>
<circle cx="135.16" cy="137.74" r="0.27" fill="#555" opacity="0.6"/>
<circle cx="138.35" cy="139.00" r="0.27" fill="#555" opacity="0.6"/>
<circle cx="129.01" cy="149.31" r="0.27" fill="#555" opacity="0.6"/>
<text x="126.50" y="138.00" font-size="2.8" text-anchor="start" font-weight="normal" fill="#222" textLength="4.20" lengthAdjust="spacingAndGlyphs" stroke="#222" stroke-width="0.1">10.1</text>
<text x="138.00" y="138.00" font-size="2.8" text-anchor="start" font-weight="normal" fill="#222" textLength="4.20" lengthAdjust="spacingAndGlyphs" stroke="#222" stroke-width="0.1">10.1</text>
<line x1="116.00" y1="118.90" x2="116.00" y2="160.60" stroke="#555" stroke-width="0.8"/>
<line x1="116.00" y1="160.60" x2="154.80" y2="160.60" stroke="#777" stroke-width="0.8"/>
<line x1="114.50" y1="124.00" x2="116.00" y2="124.00" stroke="#444" stroke-width="0.5"/>
<text x="112.00" y="125.30" font-size="3.6" text-anchor="end" font-weight="normal" fill="#222" stroke="#222" stroke-width="0.1">10<tspan dy="-1.44" font-size="2.16">3</tspan><tspan dy="1.44"></tspan></text>
<line x1="114.50" y1="133.00" x2="116.00" y2="133.00" stroke="#444" stroke-width="0.5"/>
<text x="112.00" y="134.30" font-size="3.6" text-anchor="end" font-weight="normal" fill="#222" stroke="#222" stroke-width="0.1">10<tspan dy="-1.44" font-size="2.16">2</tspan><tspan dy="1.44"></tspan></text>
<line x1="114.50" y1="141.30" x2="116.00" y2="141.30" stroke="#444" stroke-width="0.5"/>
<text x="112.00" y="142.60" font-size="3.6" text-anchor="end" font-weight="normal" fill="#222" stroke="#222" stroke-width="0.1">10<tspan dy="-1.44" font-size="2.16">1</tspan><tspan dy="1.44"></tspan></text>
<line x1="114.50" y1="152.50" x2="116.00" y2="152.50" stroke="#444" stroke-width="0.5"/>
<text x="112.00" y="153.80" font-size="3.6" text-anchor="end" font-weight="normal" fill="#222" stroke="#222" stroke-width="0.1">0</text>
<text x="120.20" y="168.40" font-size="3.7" text-anchor="start" font-weight="normal" fill="#222" textLength="33.50" lengthAdjust="spacingAndGlyphs" stroke="#222" stroke-width="0.1">010<tspan dy="-1.48" font-size="2.22">1</tspan><tspan dy="1.48"> 10</tspan><tspan dy="-1.48" font-size="2.22">1</tspan><tspan dy="1.48"> 10</tspan><tspan dy="-1.48" font-size="2.22">2</tspan><tspan dy="1.48"> 10</tspan><tspan dy="-1.48" font-size="2.22">3</tspan><tspan dy="1.48"></tspan></text>
<text transform="translate(103.10,140.50) rotate(-90)" font-size="3.6" text-anchor="middle" font-weight="normal" fill="#222" textLength="11.50" lengthAdjust="spacingAndGlyphs" stroke="#222" stroke-width="0.1">PIPE-A</text>
<text transform="translate(104.80,169.10) rotate(-90)" font-size="3.6" text-anchor="middle" font-weight="normal" fill="#222" textLength="6.60" lengthAdjust="spacingAndGlyphs" stroke="#222" stroke-width="0.1">-697</text>
<text x="109.80" y="173.00" font-size="3.6" text-anchor="start" font-weight="normal" fill="#222" textLength="6.00" lengthAdjust="spacingAndGlyphs" stroke="#222" stroke-width="0.1">-215</text>
<text x="116.70" y="176.90" font-size="3.8" text-anchor="start" font-weight="normal" fill="#1a1a1a" textLength="35.20" lengthAdjust="spacingAndGlyphs" stroke="#1a1a1a" stroke-width="0.1">ANNEXIN V APC-A</text>
<text x="185.20" y="35.60" font-size="4.0" text-anchor="start" font-weight="normal" fill="#1a1a1a" textLength="39.70" lengthAdjust="spacingAndGlyphs" stroke="#1a1a1a" stroke-width="0.1">ANNEXIN (2)-REH CT</text>
<rect x="188.00" y="40.30" width="37.40" height="41.20" fill="#fff" stroke="#d8d8d8" stroke-width="0.5"/>
<line x1="205.90" y1="40.30" x2="205.90" y2="81.50" stroke="#888" stroke-width="0.9"/>
<line x1="188.00" y1="61.40" x2="225.40" y2="61.40" stroke="#999" stroke-width="1.1"/>
<circle cx="207.21" cy="72.87" r="0.3" fill="#6070ee" opacity="0.45"/>
<circle cx="191.95" cy="73.66" r="0.3" fill="#6070ee" opacity="0.45"/>
<circle cx="200.08" cy="63.55" r="0.3" fill="#6070ee" opacity="0.45"/>
<circle cx="198.07" cy="66.74" r="0.3" fill="#6070ee" opacity="0.45"/>
<circle cx="200.29" cy="78.85" r="0.3" fill="#6070ee" opacity="0.45"/>
<circle cx="203.17" cy="66.62" r="0.3" fill="#6070ee" opacity="0.45"/>
<circle cx="204.91" cy="76.84" r="0.3" fill="#6070ee" opacity="0.45"/>
<circle cx="196.19" cy="75.13" r="0.3" fill="#6070ee" opacity="0.45"/>
<circle cx="205.59" cy="71.60" r="0.3" fill="#6070ee" opacity="0.45"/>
<circle cx="197.92" cy="70.63" r="0.3" fill="#6070ee" opacity="0.45"/>
<circle cx="203.79" cy="63.88" r="0.3" fill="#6070ee" opacity="0.45"/>
<circle cx="205.10" cy="68.90" r="0.3" fill="#6070ee" opacity="0.45"/>
<circle cx="202.64" cy="66.12" r="0.3" fill="#6070ee" opacity="0.45"/>
<circle cx="193.31" cy="70.47" r="0.3" fill="#6070ee" opacity="0.45"/>
<circle cx="202.14" cy="66.14" r="0.3" fill="#6070ee" opacity="0.45"/>
<circle cx="201.02" cy="70.31" r="0.3" fill="#6070ee" opacity="0.45"/>
<circle cx="204.21" cy="71.68" r="0.3" fill="#6070ee" opacity="0.45"/>
<circle cx="200.43" cy="72.27" r="0.3" fill="#6070ee" opacity="0.45"/>
<circle cx="206.97" cy="71.48" r="0.3" fill="#6070ee" opacity="0.45"/>
<circle cx="197.87" cy="81.40" r="0.3" fill="#6070ee" opacity="0.45"/>
<circle cx="198.39" cy="75.90" r="0.3" fill="#6070ee" opacity="0.45"/>
<circle cx="194.31" cy="73.85" r="0.3" fill="#6070ee" opacity="0.45"/>
<circle cx="194.76" cy="66.64" r="0.3" fill="#6070ee" opacity="0.45"/>
<circle cx="190.91" cy="77.83" r="0.3" fill="#6070ee" opacity="0.45"/>
<circle cx="200.13" cy="66.58" r="0.3" fill="#6070ee" opacity="0.45"/>
<circle cx="207.08" cy="70.05" r="0.3" fill="#6070ee" opacity="0.45"/>
<circle cx="196.15" cy="74.04" r="0.3" fill="#6070ee" opacity="0.45"/>
<circle cx="192.31" cy="66.15" r="0.3" fill="#6070ee" opacity="0.45"/>
<circle cx="194.27" cy="78.00" r="0.3" fill="#6070ee" opacity="0.45"/>
<circle cx="202.76" cy="66.31" r="0.3" fill="#6070ee" opacity="0.45"/>
<circle cx="204.02" cy="73.14" r="0.3" fill="#6070ee" opacity="0.45"/>
<circle cx="200.50" cy="73.22" r="0.3" fill="#6070ee" opacity="0.45"/>
<circle cx="200.07" cy="68.76" r="0.3" fill="#6070ee" opacity="0.45"/>
<circle cx="193.45" cy="70.02" r="0.3" fill="#6070ee" opacity="0.45"/>
<circle cx="196.16" cy="75.62" r="0.3" fill="#6070ee" opacity="0.45"/>
<circle cx="191.91" cy="79.75" r="0.3" fill="#6070ee" opacity="0.45"/>
<circle cx="194.84" cy="70.51" r="0.3" fill="#6070ee" opacity="0.45"/>
<circle cx="201.52" cy="74.84" r="0.3" fill="#6070ee" opacity="0.45"/>
<circle cx="196.30" cy="68.47" r="0.3" fill="#6070ee" opacity="0.45"/>
<circle cx="193.00" cy="66.23" r="0.3" fill="#6070ee" opacity="0.45"/>
<circle cx="203.72" cy="77.59" r="0.3" fill="#6070ee" opacity="0.45"/>
<circle cx="207.35" cy="75.11" r="0.3" fill="#6070ee" opacity="0.45"/>
<circle cx="199.67" cy="76.21" r="0.3" fill="#6070ee" opacity="0.45"/>
<circle cx="202.76" cy="71.90" r="0.3" fill="#6070ee" opacity="0.45"/>
<circle cx="189.52" cy="67.05" r="0.3" fill="#6070ee" opacity="0.45"/>
<circle cx="193.18" cy="76.19" r="0.3" fill="#6070ee" opacity="0.45"/>
<circle cx="203.95" cy="71.57" r="0.3" fill="#6070ee" opacity="0.45"/>
<circle cx="201.36" cy="72.80" r="0.3" fill="#6070ee" opacity="0.45"/>
<circle cx="199.50" cy="70.71" r="0.3" fill="#6070ee" opacity="0.45"/>
<circle cx="197.86" cy="72.98" r="0.3" fill="#6070ee" opacity="0.45"/>
<circle cx="188.92" cy="75.26" r="0.3" fill="#6070ee" opacity="0.45"/>
<circle cx="197.98" cy="77.10" r="0.3" fill="#6070ee" opacity="0.45"/>
<circle cx="203.31" cy="76.31" r="0.3" fill="#6070ee" opacity="0.45"/>
<circle cx="202.05" cy="68.98" r="0.3" fill="#6070ee" opacity="0.45"/>
<circle cx="189.46" cy="80.07" r="0.3" fill="#6070ee" opacity="0.45"/>
<circle cx="204.05" cy="68.97" r="0.3" fill="#6070ee" opacity="0.45"/>
<circle cx="204.46" cy="75.83" r="0.3" fill="#6070ee" opacity="0.45"/>
<circle cx="193.06" cy="77.94" r="0.3" fill="#6070ee" opacity="0.45"/>
<circle cx="194.59" cy="69.85" r="0.3" fill="#6070ee" opacity="0.45"/>
<circle cx="190.26" cy="72.08" r="0.3" fill="#6070ee" opacity="0.45"/>
<circle cx="203.10" cy="70.15" r="0.3" fill="#6070ee" opacity="0.45"/>
<circle cx="207.24" cy="75.93" r="0.3" fill="#6070ee" opacity="0.45"/>
<circle cx="195.31" cy="67.86" r="0.3" fill="#6070ee" opacity="0.45"/>
<circle cx="189.79" cy="75.37" r="0.3" fill="#6070ee" opacity="0.45"/>
<circle cx="204.51" cy="68.51" r="0.3" fill="#6070ee" opacity="0.45"/>
<circle cx="198.00" cy="71.82" r="0.3" fill="#6070ee" opacity="0.45"/>
<circle cx="196.72" cy="75.13" r="0.3" fill="#6070ee" opacity="0.45"/>
<circle cx="208.48" cy="70.30" r="0.3" fill="#6070ee" opacity="0.45"/>
<circle cx="202.26" cy="77.62" r="0.3" fill="#6070ee" opacity="0.45"/>
<circle cx="196.58" cy="72.37" r="0.3" fill="#6070ee" opacity="0.45"/>
<circle cx="191.28" cy="77.57" r="0.3" fill="#6070ee" opacity="0.45"/>
<circle cx="195.34" cy="70.23" r="0.3" fill="#6070ee" opacity="0.45"/>
<circle cx="198.34" cy="69.36" r="0.3" fill="#6070ee" opacity="0.45"/>
<circle cx="192.78" cy="71.74" r="0.3" fill="#6070ee" opacity="0.45"/>
<circle cx="205.45" cy="72.13" r="0.3" fill="#6070ee" opacity="0.45"/>
<circle cx="200.64" cy="66.78" r="0.3" fill="#6070ee" opacity="0.45"/>
<circle cx="188.24" cy="80.71" r="0.3" fill="#6070ee" opacity="0.45"/>
<circle cx="196.00" cy="66.47" r="0.3" fill="#6070ee" opacity="0.45"/>
<circle cx="197.47" cy="75.58" r="0.3" fill="#6070ee" opacity="0.45"/>
<circle cx="189.34" cy="69.26" r="0.3" fill="#6070ee" opacity="0.45"/>
<circle cx="199.30" cy="69.09" r="0.3" fill="#6070ee" opacity="0.45"/>
<circle cx="202.00" cy="77.08" r="0.3" fill="#6070ee" opacity="0.45"/>
<circle cx="200.22" cy="71.18" r="0.3" fill="#6070ee" opacity="0.45"/>
<circle cx="197.77" cy="70.32" r="0.3" fill="#6070ee" opacity="0.45"/>
<circle cx="197.35" cy="74.35" r="0.3" fill="#6070ee" opacity="0.45"/>
<circle cx="196.49" cy="77.13" r="0.3" fill="#6070ee" opacity="0.45"/>
<circle cx="211.02" cy="70.68" r="0.3" fill="#6070ee" opacity="0.45"/>
<circle cx="199.72" cy="76.49" r="0.3" fill="#6070ee" opacity="0.45"/>
<circle cx="201.23" cy="71.99" r="0.3" fill="#6070ee" opacity="0.45"/>
<circle cx="195.59" cy="77.26" r="0.3" fill="#6070ee" opacity="0.45"/>
<circle cx="201.14" cy="75.15" r="0.3" fill="#6070ee" opacity="0.45"/>
<circle cx="193.97" cy="75.68" r="0.3" fill="#6070ee" opacity="0.45"/>
<circle cx="201.99" cy="72.21" r="0.3" fill="#6070ee" opacity="0.45"/>
<circle cx="188.57" cy="75.58" r="0.3" fill="#6070ee" opacity="0.45"/>
<circle cx="192.12" cy="67.20" r="0.3" fill="#6070ee" opacity="0.45"/>
<circle cx="196.82" cy="75.32" r="0.3" fill="#6070ee" opacity="0.45"/>
<circle cx="198.26" cy="68.05" r="0.3" fill="#6070ee" opacity="0.45"/>
<circle cx="190.77" cy="70.63" r="0.3" fill="#6070ee" opacity="0.45"/>
<circle cx="198.07" cy="69.47" r="0.3" fill="#6070ee" opacity="0.45"/>
<circle cx="190.44" cy="80.46" r="0.3" fill="#6070ee" opacity="0.45"/>
<circle cx="193.78" cy="72.33" r="0.3" fill="#6070ee" opacity="0.45"/>
<circle cx="195.24" cy="70.51" r="0.3" fill="#6070ee" opacity="0.45"/>
<circle cx="198.20" cy="71.73" r="0.3" fill="#6070ee" opacity="0.45"/>
<circle cx="201.11" cy="67.96" r="0.3" fill="#6070ee" opacity="0.45"/>
<circle cx="190.52" cy="81.30" r="0.3" fill="#6070ee" opacity="0.45"/>
<circle cx="197.62" cy="76.27" r="0.3" fill="#6070ee" opacity="0.45"/>
<circle cx="203.94" cy="75.36" r="0.3" fill="#6070ee" opacity="0.45"/>
<circle cx="198.18" cy="66.38" r="0.3" fill="#6070ee" opacity="0.45"/>
<circle cx="189.94" cy="77.17" r="0.3" fill="#6070ee" opacity="0.45"/>
<circle cx="201.41" cy="75.42" r="0.3" fill="#6070ee" opacity="0.45"/>
<circle cx="189.65" cy="63.92" r="0.3" fill="#6070ee" opacity="0.45"/>
<circle cx="192.68" cy="67.97" r="0.3" fill="#6070ee" opacity="0.45"/>
<circle cx="198.80" cy="68.65" r="0.3" fill="#6070ee" opacity="0.45"/>
<circle cx="205.97" cy="70.35" r="0.3" fill="#6070ee" opacity="0.45"/>
<circle cx="201.60" cy="66.17" r="0.35" fill="#7a88ee" opacity="0.75"/>
<circle cx="203.43" cy="66.69" r="0.35" fill="#7a88ee" opacity="0.75"/>
<circle cx="203.07" cy="63.59" r="0.35" fill="#7a88ee" opacity="0.75"/>
<circle cx="207.70" cy="61.33" r="0.35" fill="#7a88ee" opacity="0.75"/>
<circle cx="199.72" cy="67.96" r="0.35" fill="#7a88ee" opacity="0.75"/>
<circle cx="206.30" cy="60.27" r="0.35" fill="#7a88ee" opacity="0.75"/>
<circle cx="202.66" cy="64.48" r="0.35" fill="#7a88ee" opacity="0.75"/>
<circle cx="207.12" cy="59.76" r="0.35" fill="#7a88ee" opacity="0.75"/>
<circle cx="200.58" cy="65.61" r="0.35" fill="#7a88ee" opacity="0.75"/>
<circle cx="205.38" cy="62.97" r="0.35" fill="#7a88ee" opacity="0.75"/>
<circle cx="206.44" cy="61.01" r="0.35" fill="#7a88ee" opacity="0.75"/>
<circle cx="207.88" cy="61.89" r="0.35" fill="#7a88ee" opacity="0.75"/>
<circle cx="205.14" cy="61.95" r="0.35" fill="#7a88ee" opacity="0.75"/>
<circle cx="199.35" cy="66.56" r="0.35" fill="#7a88ee" opacity="0.75"/>
<circle cx="202.32" cy="66.37" r="0.35" fill="#7a88ee" opacity="0.75"/>
<circle cx="199.78" cy="65.31" r="0.35" fill="#7a88ee" opacity="0.75"/>
<circle cx="205.63" cy="62.54" r="0.35" fill="#7a88ee" opacity="0.75"/>
<circle cx="200.95" cy="66.82" r="0.35" fill="#7a88ee" opacity="0.75"/>
<circle cx="199.73" cy="67.66" r="0.35" fill="#7a88ee" opacity="0.75"/>
<circle cx="203.01" cy="66.11" r="0.35" fill="#7a88ee" opacity="0.75"/>
<circle cx="204.52" cy="63.35" r="0.35" fill="#7a88ee" opacity="0.75"/>
<circle cx="207.06" cy="61.75" r="0.35" fill="#7a88ee" opacity="0.75"/>
<circle cx="204.65" cy="63.57" r="0.35" fill="#7a88ee" opacity="0.75"/>
<circle cx="204.83" cy="64.84" r="0.35" fill="#7a88ee" opacity="0.75"/>
<circle cx="202.45" cy="65.10" r="0.35" fill="#7a88ee" opacity="0.75"/>
<circle cx="205.66" cy="63.97" r="0.35" fill="#7a88ee" opacity="0.75"/>
<circle cx="199.39" cy="67.75" r="0.35" fill="#7a88ee" opacity="0.75"/>
<circle cx="199.63" cy="66.56" r="0.35" fill="#7a88ee" opacity="0.75"/>
<circle cx="203.90" cy="63.88" r="0.35" fill="#7a88ee" opacity="0.75"/>
<circle cx="204.95" cy="64.88" r="0.35" fill="#7a88ee" opacity="0.75"/>
<circle cx="208.65" cy="58.11" r="0.35" fill="#7a88ee" opacity="0.75"/>
<circle cx="202.94" cy="65.34" r="0.35" fill="#7a88ee" opacity="0.75"/>
<circle cx="204.41" cy="64.83" r="0.35" fill="#7a88ee" opacity="0.75"/>
<circle cx="205.23" cy="61.69" r="0.35" fill="#7a88ee" opacity="0.75"/>
<circle cx="203.03" cy="66.02" r="0.35" fill="#7a88ee" opacity="0.75"/>
<circle cx="202.71" cy="66.97" r="0.35" fill="#7a88ee" opacity="0.75"/>
<circle cx="203.64" cy="64.07" r="0.35" fill="#7a88ee" opacity="0.75"/>
<circle cx="205.84" cy="62.96" r="0.35" fill="#7a88ee" opacity="0.75"/>
<circle cx="203.83" cy="61.47" r="0.35" fill="#7a88ee" opacity="0.75"/>
<circle cx="207.69" cy="61.45" r="0.35" fill="#7a88ee" opacity="0.75"/>
<path d="M204.00,72.45 C204.17,73.41 204.03,74.54 203.63,75.46 C203.24,76.38 202.48,77.33 201.62,77.97 C200.77,78.62 199.59,79.12 198.51,79.31 C197.42,79.50 196.14,79.43 195.12,79.12 C194.10,78.81 193.06,78.18 192.37,77.45 C191.69,76.72 191.17,75.70 191.00,74.75 C190.83,73.79 190.97,72.66 191.37,71.74 C191.76,70.82 192.52,69.87 193.38,69.23 C194.23,68.58 195.41,68.08 196.49,67.89 C197.58,67.70 198.86,67.77 199.88,68.08 C200.90,68.39 201.94,69.02 202.63,69.75 C203.31,70.48 203.83,71.50 204.00,72.45Z" fill="#e2e5fc" stroke="#2a3ae6" stroke-width="0.9"/>
<path d="M204.00,72.45 C204.17,73.41 204.03,74.54 203.63,75.46 C203.24,76.38 202.48,77.33 201.62,77.97 C200.77,78.62 199.59,79.12 198.51,79.31 C197.42,79.50 196.14,79.43 195.12,79.12 C194.10,78.81 193.06,78.18 192.37,77.45 C191.69,76.72 191.17,75.70 191.00,74.75 C190.83,73.79 190.97,72.66 191.37,71.74 C191.76,70.82 192.52,69.87 193.38,69.23 C194.23,68.58 195.41,68.08 196.49,67.89 C197.58,67.70 198.86,67.77 199.88,68.08 C200.90,68.39 201.94,69.02 202.63,69.75 C203.31,70.48 203.83,71.50 204.00,72.45Z" fill="none" stroke="#3a4aee" stroke-width="0.45" stroke-opacity="0.90"/>
<path d="M202.76,72.72 C202.89,73.48 202.78,74.39 202.47,75.13 C202.15,75.87 201.54,76.63 200.86,77.14 C200.17,77.65 199.23,78.06 198.37,78.21 C197.50,78.36 196.48,78.30 195.66,78.06 C194.84,77.81 194.01,77.30 193.46,76.72 C192.91,76.14 192.49,75.32 192.36,74.56 C192.23,73.80 192.34,72.89 192.65,72.15 C192.97,71.41 193.58,70.65 194.26,70.14 C194.95,69.63 195.89,69.22 196.75,69.07 C197.62,68.92 198.64,68.98 199.46,69.22 C200.28,69.47 201.11,69.98 201.66,70.56 C202.21,71.14 202.63,71.96 202.76,72.72Z" fill="none" stroke="#3a4aee" stroke-width="0.45" stroke-opacity="0.77"/>
<path d="M201.52,72.99 C201.62,73.56 201.54,74.25 201.30,74.80 C201.06,75.35 200.61,75.92 200.09,76.30 C199.58,76.69 198.87,76.99 198.22,77.11 C197.57,77.22 196.81,77.18 196.19,76.99 C195.58,76.81 194.96,76.43 194.54,75.99 C194.13,75.55 193.82,74.94 193.72,74.37 C193.62,73.80 193.70,73.11 193.94,72.56 C194.18,72.01 194.63,71.44 195.15,71.06 C195.66,70.67 196.37,70.37 197.02,70.25 C197.67,70.14 198.43,70.18 199.05,70.37 C199.66,70.55 200.28,70.93 200.70,71.37 C201.11,71.81 201.42,72.42 201.52,72.99Z" fill="none" stroke="#3a4aee" stroke-width="0.45" stroke-opacity="0.63"/>
<path d="M200.28,73.26 C200.35,73.64 200.29,74.10 200.13,74.47 C199.97,74.83 199.67,75.21 199.33,75.47 C198.99,75.73 198.52,75.93 198.08,76.00 C197.65,76.08 197.14,76.05 196.73,75.93 C196.32,75.80 195.90,75.55 195.63,75.26 C195.36,74.97 195.15,74.56 195.08,74.18 C195.01,73.80 195.07,73.34 195.23,72.97 C195.39,72.61 195.69,72.23 196.03,71.97 C196.37,71.71 196.84,71.51 197.28,71.44 C197.71,71.36 198.22,71.39 198.63,71.51 C199.04,71.64 199.46,71.89 199.73,72.18 C200.00,72.47 200.21,72.88 200.28,73.26Z" fill="none" stroke="#3a4aee" stroke-width="0.45" stroke-opacity="0.50"/>
<circle cx="215.32" cy="45.59" r="0.28" fill="#555" opacity="0.6"/>
<circle cx="210.71" cy="45.19" r="0.28" fill="#555" opacity="0.6"/>
<circle cx="215.29" cy="54.35" r="0.28" fill="#555" opacity="0.6"/>
<circle cx="219.34" cy="55.33" r="0.28" fill="#555" opacity="0.6"/>
<circle cx="214.92" cy="53.96" r="0.28" fill="#555" opacity="0.6"/>
<circle cx="214.42" cy="63.85" r="0.28" fill="#555" opacity="0.6"/>
<circle cx="214.85" cy="60.28" r="0.28" fill="#555" opacity="0.6"/>
<circle cx="217.88" cy="52.81" r="0.28" fill="#555" opacity="0.6"/>
<circle cx="216.05" cy="52.63" r="0.28" fill="#555" opacity="0.6"/>
<circle cx="214.33" cy="53.94" r="0.28" fill="#555" opacity="0.6"/>
<circle cx="214.06" cy="50.90" r="0.28" fill="#555" opacity="0.6"/>
<circle cx="218.65" cy="54.89" r="0.28" fill="#555" opacity="0.6"/>
<circle cx="216.10" cy="62.07" r="0.28" fill="#555" opacity="0.6"/>
<circle cx="215.87" cy="58.93" r="0.28" fill="#555" opacity="0.6"/>
<circle cx="218.15" cy="60.74" r="0.28" fill="#555" opacity="0.6"/>
<circle cx="219.14" cy="49.90" r="0.28" fill="#555" opacity="0.6"/>
<circle cx="219.86" cy="57.03" r="0.28" fill="#555" opacity="0.6"/>
<circle cx="208.77" cy="46.59" r="0.28" fill="#555" opacity="0.6"/>
<circle cx="209.83" cy="50.12" r="0.28" fill="#555" opacity="0.6"/>
<circle cx="209.54" cy="45.43" r="0.28" fill="#555" opacity="0.6"/>
<circle cx="214.89" cy="54.31" r="0.28" fill="#555" opacity="0.6"/>
<circle cx="211.61" cy="50.34" r="0.28" fill="#555" opacity="0.6"/>
<circle cx="213.70" cy="53.14" r="0.28" fill="#555" opacity="0.6"/>
<circle cx="213.98" cy="51.97" r="0.28" fill="#555" opacity="0.6"/>
<circle cx="216.63" cy="47.41" r="0.28" fill="#555" opacity="0.6"/>
<circle cx="212.52" cy="52.62" r="0.28" fill="#555" opacity="0.6"/>
<circle cx="212.80" cy="49.67" r="0.28" fill="#555" opacity="0.6"/>
<circle cx="212.69" cy="53.08" r="0.28" fill="#555" opacity="0.6"/>
<circle cx="217.73" cy="54.64" r="0.28" fill="#555" opacity="0.6"/>
<circle cx="213.20" cy="54.09" r="0.28" fill="#555" opacity="0.6"/>
<circle cx="213.27" cy="43.66" r="0.28" fill="#555" opacity="0.6"/>
<circle cx="214.80" cy="51.81" r="0.28" fill="#555" opacity="0.6"/>
<circle cx="212.28" cy="54.73" r="0.28" fill="#555" opacity="0.6"/>
<circle cx="214.13" cy="50.50" r="0.28" fill="#555" opacity="0.6"/>
<circle cx="207.47" cy="40.77" r="0.28" fill="#555" opacity="0.6"/>
<circle cx="214.04" cy="52.49" r="0.28" fill="#555" opacity="0.6"/>
<circle cx="215.31" cy="54.90" r="0.28" fill="#555" opacity="0.6"/>
<circle cx="212.57" cy="46.25" r="0.28" fill="#555" opacity="0.6"/>
<circle cx="210.72" cy="50.17" r="0.28" fill="#555" opacity="0.6"/>
<circle cx="210.56" cy="54.16" r="0.28" fill="#555" opacity="0.6"/>
<circle cx="210.02" cy="42.14" r="0.28" fill="#555" opacity="0.6"/>
<circle cx="213.42" cy="44.48" r="0.28" fill="#555" opacity="0.6"/>
<circle cx="218.88" cy="51.71" r="0.28" fill="#555" opacity="0.6"/>
<circle cx="213.84" cy="51.78" r="0.28" fill="#555" opacity="0.6"/>
<circle cx="211.54" cy="43.26" r="0.28" fill="#555" opacity="0.6"/>
<circle cx="208.42" cy="53.24" r="0.28" fill="#555" opacity="0.6"/>
<circle cx="217.06" cy="64.95" r="0.28" fill="#555" opacity="0.6"/>
<circle cx="209.61" cy="52.64" r="0.28" fill="#555" opacity="0.6"/>
<circle cx="213.96" cy="56.85" r="0.28" fill="#555" opacity="0.6"/>
<circle cx="212.46" cy="55.28" r="0.28" fill="#555" opacity="0.6"/>
<circle cx="216.69" cy="57.57" r="0.28" fill="#555" opacity="0.6"/>
<circle cx="218.34" cy="55.09" r="0.28" fill="#555" opacity="0.6"/>
<circle cx="218.63" cy="52.88" r="0.28" fill="#555" opacity="0.6"/>
<circle cx="219.00" cy="43.75" r="0.28" fill="#555" opacity="0.6"/>
<circle cx="214.04" cy="49.36" r="0.28" fill="#555" opacity="0.6"/>
<circle cx="214.00" cy="74.12" r="0.28" fill="#666" opacity="0.6"/>
<circle cx="216.15" cy="70.38" r="0.28" fill="#666" opacity="0.6"/>
<circle cx="219.10" cy="64.10" r="0.28" fill="#666" opacity="0.6"/>
<circle cx="211.56" cy="76.04" r="0.28" fill="#666" opacity="0.6"/>
<circle cx="214.98" cy="61.70" r="0.28" fill="#666" opacity="0.6"/>
<circle cx="215.02" cy="65.26" r="0.28" fill="#666" opacity="0.6"/>
<circle cx="218.43" cy="74.58" r="0.28" fill="#666" opacity="0.6"/>
<circle cx="212.36" cy="75.17" r="0.28" fill="#666" opacity="0.6"/>
<circle cx="211.50" cy="73.68" r="0.28" fill="#666" opacity="0.6"/>
<circle cx="215.74" cy="69.49" r="0.28" fill="#666" opacity="0.6"/>
<circle cx="209.74" cy="68.88" r="0.28" fill="#666" opacity="0.6"/>
<circle cx="207.13" cy="67.75" r="0.28" fill="#666" opacity="0.6"/>
<circle cx="208.45" cy="74.86" r="0.28" fill="#666" opacity="0.6"/>
<circle cx="211.10" cy="60.27" r="0.28" fill="#666" opacity="0.6"/>
<circle cx="215.75" cy="71.48" r="0.28" fill="#666" opacity="0.6"/>
<circle cx="212.48" cy="78.47" r="0.28" fill="#666" opacity="0.6"/>
<circle cx="216.32" cy="70.27" r="0.28" fill="#666" opacity="0.6"/>
<circle cx="212.07" cy="58.18" r="0.28" fill="#666" opacity="0.6"/>
<circle cx="215.44" cy="73.84" r="0.28" fill="#666" opacity="0.6"/>
<circle cx="212.22" cy="64.35" r="0.28" fill="#666" opacity="0.6"/>
<circle cx="213.87" cy="63.31" r="0.28" fill="#666" opacity="0.6"/>
<circle cx="214.02" cy="73.08" r="0.28" fill="#666" opacity="0.6"/>
<circle cx="218.53" cy="71.06" r="0.28" fill="#666" opacity="0.6"/>
<circle cx="214.59" cy="73.00" r="0.28" fill="#666" opacity="0.6"/>
<circle cx="218.20" cy="68.72" r="0.28" fill="#666" opacity="0.6"/>
<circle cx="210.32" cy="66.83" r="0.28" fill="#666" opacity="0.6"/>
<circle cx="210.22" cy="66.44" r="0.28" fill="#666" opacity="0.6"/>
<circle cx="213.64" cy="71.37" r="0.28" fill="#666" opacity="0.6"/>
<circle cx="214.47" cy="70.28" r="0.28" fill="#666" opacity="0.6"/>
<circle cx="212.93" cy="71.69" r="0.28" fill="#666" opacity="0.6"/>
<text x="197.00" y="58.50" font-size="2.8" text-anchor="start" font-weight="normal" fill="#222" textLength="4.20" lengthAdjust="spacingAndGlyphs" stroke="#222" stroke-width="0.1">10.1</text>
<text x="210.00" y="58.50" font-size="2.8" text-anchor="start" font-weight="normal" fill="#222" textLength="4.20" lengthAdjust="spacingAndGlyphs" stroke="#222" stroke-width="0.1">10.1</text>
<text x="210.00" y="68.80" font-size="2.8" text-anchor="start" font-weight="normal" fill="#222" textLength="4.20" lengthAdjust="spacingAndGlyphs" stroke="#222" stroke-width="0.1">10.1</text>
<line x1="188.00" y1="39.80" x2="188.00" y2="81.50" stroke="#555" stroke-width="0.8"/>
<line x1="188.00" y1="81.50" x2="225.40" y2="81.50" stroke="#777" stroke-width="0.8"/>
<line x1="186.50" y1="45.40" x2="188.00" y2="45.40" stroke="#444" stroke-width="0.5"/>
<text x="184.00" y="46.70" font-size="3.6" text-anchor="end" font-weight="normal" fill="#222" stroke="#222" stroke-width="0.1">10<tspan dy="-1.44" font-size="2.16">3</tspan><tspan dy="1.44"></tspan></text>
<line x1="186.50" y1="54.10" x2="188.00" y2="54.10" stroke="#444" stroke-width="0.5"/>
<text x="184.00" y="55.40" font-size="3.6" text-anchor="end" font-weight="normal" fill="#222" stroke="#222" stroke-width="0.1">10<tspan dy="-1.44" font-size="2.16">2</tspan><tspan dy="1.44"></tspan></text>
<line x1="186.50" y1="62.80" x2="188.00" y2="62.80" stroke="#444" stroke-width="0.5"/>
<text x="184.00" y="64.10" font-size="3.6" text-anchor="end" font-weight="normal" fill="#222" stroke="#222" stroke-width="0.1">10<tspan dy="-1.44" font-size="2.16">1</tspan><tspan dy="1.44"></tspan></text>
<line x1="186.50" y1="70.80" x2="188.00" y2="70.80" stroke="#444" stroke-width="0.5"/>
<text x="184.00" y="72.10" font-size="3.6" text-anchor="end" font-weight="normal" fill="#222" stroke="#222" stroke-width="0.1">10<tspan dy="-1.44" font-size="2.16">1</tspan><tspan dy="1.44"></tspan></text>
<line x1="186.50" y1="75.90" x2="188.00" y2="75.90" stroke="#444" stroke-width="0.5"/>
<text x="184.00" y="77.20" font-size="3.6" text-anchor="end" font-weight="normal" fill="#222" stroke="#222" stroke-width="0.1">0</text>
<text x="190.10" y="90.10" font-size="3.7" text-anchor="start" font-weight="normal" fill="#222" textLength="35.10" lengthAdjust="spacingAndGlyphs" stroke="#222" stroke-width="0.1">-10<tspan dy="-1.48" font-size="2.22">2</tspan><tspan dy="1.48"> 0 10</tspan><tspan dy="-1.48" font-size="2.22">1</tspan><tspan dy="1.48"> 10</tspan><tspan dy="-1.48" font-size="2.22">1</tspan><tspan dy="1.48"> 10</tspan><tspan dy="-1.48" font-size="2.22">3</tspan><tspan dy="1.48"></tspan></text>
<text transform="translate(174.90,62.90) rotate(-90)" font-size="3.6" text-anchor="middle" font-weight="normal" fill="#222" textLength="11.50" lengthAdjust="spacingAndGlyphs" stroke="#222" stroke-width="0.1">PIPE-A</text>
<text transform="translate(177.10,85.80) rotate(-90)" font-size="3.6" text-anchor="middle" font-weight="normal" fill="#222" textLength="6.60" lengthAdjust="spacingAndGlyphs" stroke="#222" stroke-width="0.1">-142</text>
<text x="181.00" y="94.40" font-size="3.6" text-anchor="start" font-weight="normal" fill="#222" textLength="6.00" lengthAdjust="spacingAndGlyphs" stroke="#222" stroke-width="0.1">-430</text>
<text x="188.50" y="98.20" font-size="3.8" text-anchor="start" font-weight="normal" fill="#1a1a1a" textLength="35.20" lengthAdjust="spacingAndGlyphs" stroke="#1a1a1a" stroke-width="0.1">ANNEXIN V APC-A</text>
<text x="251.20" y="35.70" font-size="4.0" text-anchor="start" font-weight="normal" fill="#1a1a1a" textLength="46.80" lengthAdjust="spacingAndGlyphs" stroke="#1a1a1a" stroke-width="0.1">ANNEXIN (2)-REH shAK2</text>
<rect x="256.00" y="40.30" width="39.60" height="41.30" fill="#fff" stroke="#d8d8d8" stroke-width="0.5"/>
<line x1="274.30" y1="40.30" x2="274.30" y2="81.60" stroke="#888" stroke-width="0.9"/>
<line x1="256.00" y1="61.10" x2="295.60" y2="61.10" stroke="#999" stroke-width="1.1"/>
<circle cx="270.43" cy="76.19" r="0.3" fill="#5a6aee" opacity="0.5"/>
<circle cx="273.49" cy="71.78" r="0.3" fill="#5a6aee" opacity="0.5"/>
<circle cx="264.74" cy="80.12" r="0.3" fill="#5a6aee" opacity="0.5"/>
<circle cx="267.01" cy="74.73" r="0.3" fill="#5a6aee" opacity="0.5"/>
<circle cx="264.32" cy="77.07" r="0.3" fill="#5a6aee" opacity="0.5"/>
<circle cx="263.99" cy="68.77" r="0.3" fill="#5a6aee" opacity="0.5"/>
<circle cx="265.70" cy="71.14" r="0.3" fill="#5a6aee" opacity="0.5"/>
<circle cx="270.17" cy="71.41" r="0.3" fill="#5a6aee" opacity="0.5"/>
<circle cx="266.62" cy="72.09" r="0.3" fill="#5a6aee" opacity="0.5"/>
<circle cx="267.70" cy="70.35" r="0.3" fill="#5a6aee" opacity="0.5"/>
<circle cx="271.52" cy="67.02" r="0.3" fill="#5a6aee" opacity="0.5"/>
<circle cx="264.07" cy="70.02" r="0.3" fill="#5a6aee" opacity="0.5"/>
<circle cx="269.24" cy="73.17" r="0.3" fill="#5a6aee" opacity="0.5"/>
<circle cx="268.42" cy="71.61" r="0.3" fill="#5a6aee" opacity="0.5"/>
<circle cx="262.41" cy="68.30" r="0.3" fill="#5a6aee" opacity="0.5"/>
<circle cx="264.33" cy="70.75" r="0.3" fill="#5a6aee" opacity="0.5"/>
<circle cx="267.40" cy="74.49" r="0.3" fill="#5a6aee" opacity="0.5"/>
<circle cx="270.88" cy="72.55" r="0.3" fill="#5a6aee" opacity="0.5"/>
<circle cx="262.26" cy="68.54" r="0.3" fill="#5a6aee" opacity="0.5"/>
<circle cx="266.31" cy="74.52" r="0.3" fill="#5a6aee" opacity="0.5"/>
<circle cx="275.74" cy="73.76" r="0.3" fill="#5a6aee" opacity="0.5"/>
<circle cx="274.79" cy="80.87" r="0.3" fill="#5a6aee" opacity="0.5"/>
<circle cx="260.76" cy="78.08" r="0.3" fill="#5a6aee" opacity="0.5"/>
<circle cx="271.68" cy="78.65" r="0.3" fill="#5a6aee" opacity="0.5"/>
<circle cx="265.95" cy="77.01" r="0.3" fill="#5a6aee" opacity="0.5"/>
<circle cx="263.59" cy="72.71" r="0.3" fill="#5a6aee" opacity="0.5"/>
<circle cx="266.10" cy="80.49" r="0.3" fill="#5a6aee" opacity="0.5"/>
<circle cx="264.92" cy="77.01" r="0.3" fill="#5a6aee" opacity="0.5"/>
<circle cx="266.33" cy="70.02" r="0.3" fill="#5a6aee" opacity="0.5"/>
<circle cx="267.21" cy="75.77" r="0.3" fill="#5a6aee" opacity="0.5"/>
<circle cx="262.44" cy="75.66" r="0.3" fill="#5a6aee" opacity="0.5"/>
<circle cx="262.44" cy="69.32" r="0.3" fill="#5a6aee" opacity="0.5"/>
<circle cx="267.10" cy="72.01" r="0.3" fill="#5a6aee" opacity="0.5"/>
<circle cx="261.09" cy="66.16" r="0.3" fill="#5a6aee" opacity="0.5"/>
<circle cx="266.12" cy="74.02" r="0.3" fill="#5a6aee" opacity="0.5"/>
<circle cx="263.70" cy="73.79" r="0.3" fill="#5a6aee" opacity="0.5"/>
<circle cx="258.36" cy="74.65" r="0.3" fill="#5a6aee" opacity="0.5"/>
<circle cx="268.08" cy="74.17" r="0.3" fill="#5a6aee" opacity="0.5"/>
<circle cx="262.94" cy="73.33" r="0.3" fill="#5a6aee" opacity="0.5"/>
<circle cx="266.65" cy="77.49" r="0.3" fill="#5a6aee" opacity="0.5"/>
<circle cx="267.38" cy="74.07" r="0.3" fill="#5a6aee" opacity="0.5"/>
<circle cx="262.38" cy="76.62" r="0.3" fill="#5a6aee" opacity="0.5"/>
<circle cx="271.86" cy="70.93" r="0.3" fill="#5a6aee" opacity="0.5"/>
<circle cx="269.19" cy="74.29" r="0.3" fill="#5a6aee" opacity="0.5"/>
<circle cx="265.77" cy="67.60" r="0.3" fill="#5a6aee" opacity="0.5"/>
<circle cx="274.78" cy="65.17" r="0.3" fill="#5a6aee" opacity="0.5"/>
<circle cx="267.51" cy="71.42" r="0.3" fill="#5a6aee" opacity="0.5"/>
<circle cx="271.72" cy="71.22" r="0.3" fill="#5a6aee" opacity="0.5"/>
<circle cx="266.20" cy="75.56" r="0.3" fill="#5a6aee" opacity="0.5"/>
<circle cx="268.28" cy="70.82" r="0.3" fill="#5a6aee" opacity="0.5"/>
<circle cx="269.40" cy="74.64" r="0.3" fill="#5a6aee" opacity="0.5"/>
<circle cx="270.94" cy="70.86" r="0.3" fill="#5a6aee" opacity="0.5"/>
<circle cx="265.77" cy="71.36" r="0.3" fill="#5a6aee" opacity="0.5"/>
<circle cx="261.82" cy="74.07" r="0.3" fill="#5a6aee" opacity="0.5"/>
<circle cx="268.04" cy="78.95" r="0.3" fill="#5a6aee" opacity="0.5"/>
<circle cx="264.38" cy="74.62" r="0.3" fill="#5a6aee" opacity="0.5"/>
<circle cx="271.70" cy="72.52" r="0.3" fill="#5a6aee" opacity="0.5"/>
<circle cx="266.32" cy="73.56" r="0.3" fill="#5a6aee" opacity="0.5"/>
<circle cx="262.56" cy="68.86" r="0.3" fill="#5a6aee" opacity="0.5"/>
<circle cx="271.57" cy="73.73" r="0.3" fill="#5a6aee" opacity="0.5"/>
<circle cx="265.63" cy="67.80" r="0.3" fill="#5a6aee" opacity="0.5"/>
<circle cx="266.59" cy="77.91" r="0.3" fill="#5a6aee" opacity="0.5"/>
<circle cx="260.26" cy="69.27" r="0.3" fill="#5a6aee" opacity="0.5"/>
<circle cx="271.53" cy="78.99" r="0.3" fill="#5a6aee" opacity="0.5"/>
<circle cx="273.74" cy="70.69" r="0.3" fill="#5a6aee" opacity="0.5"/>
<circle cx="268.99" cy="69.86" r="0.3" fill="#5a6aee" opacity="0.5"/>
<circle cx="268.59" cy="71.47" r="0.3" fill="#5a6aee" opacity="0.5"/>
<circle cx="266.98" cy="78.61" r="0.3" fill="#5a6aee" opacity="0.5"/>
<circle cx="267.68" cy="71.99" r="0.3" fill="#5a6aee" opacity="0.5"/>
<circle cx="266.28" cy="74.11" r="0.3" fill="#5a6aee" opacity="0.5"/>
<circle cx="263.45" cy="73.86" r="0.3" fill="#5a6aee" opacity="0.5"/>
<circle cx="268.99" cy="79.52" r="0.3" fill="#5a6aee" opacity="0.5"/>
<circle cx="259.85" cy="76.66" r="0.3" fill="#5a6aee" opacity="0.5"/>
<circle cx="278.14" cy="73.81" r="0.3" fill="#5a6aee" opacity="0.5"/>
<circle cx="266.60" cy="77.76" r="0.3" fill="#5a6aee" opacity="0.5"/>
<circle cx="263.47" cy="70.98" r="0.3" fill="#5a6aee" opacity="0.5"/>
<circle cx="267.69" cy="70.56" r="0.3" fill="#5a6aee" opacity="0.5"/>
<circle cx="271.52" cy="72.99" r="0.3" fill="#5a6aee" opacity="0.5"/>
<circle cx="263.77" cy="76.86" r="0.3" fill="#5a6aee" opacity="0.5"/>
<circle cx="261.89" cy="78.20" r="0.3" fill="#5a6aee" opacity="0.5"/>
<circle cx="270.79" cy="73.58" r="0.3" fill="#5a6aee" opacity="0.5"/>
<circle cx="270.92" cy="79.71" r="0.3" fill="#5a6aee" opacity="0.5"/>
<circle cx="272.84" cy="73.01" r="0.3" fill="#5a6aee" opacity="0.5"/>
<circle cx="265.73" cy="77.62" r="0.3" fill="#5a6aee" opacity="0.5"/>
<circle cx="258.70" cy="70.49" r="0.3" fill="#5a6aee" opacity="0.5"/>
<circle cx="268.40" cy="75.37" r="0.3" fill="#5a6aee" opacity="0.5"/>
<circle cx="275.23" cy="80.33" r="0.3" fill="#5a6aee" opacity="0.5"/>
<circle cx="267.61" cy="74.84" r="0.3" fill="#5a6aee" opacity="0.5"/>
<circle cx="259.47" cy="72.23" r="0.3" fill="#5a6aee" opacity="0.5"/>
<circle cx="267.29" cy="72.06" r="0.3" fill="#5a6aee" opacity="0.5"/>
<circle cx="266.30" cy="75.53" r="0.3" fill="#5a6aee" opacity="0.5"/>
<circle cx="261.29" cy="70.64" r="0.3" fill="#5a6aee" opacity="0.5"/>
<circle cx="257.20" cy="77.76" r="0.3" fill="#5a6aee" opacity="0.5"/>
<circle cx="260.78" cy="65.92" r="0.3" fill="#5a6aee" opacity="0.5"/>
<circle cx="269.81" cy="72.11" r="0.3" fill="#5a6aee" opacity="0.5"/>
<circle cx="270.78" cy="71.47" r="0.3" fill="#5a6aee" opacity="0.5"/>
<circle cx="276.52" cy="75.97" r="0.3" fill="#5a6aee" opacity="0.5"/>
<circle cx="266.75" cy="73.48" r="0.3" fill="#5a6aee" opacity="0.5"/>
<circle cx="264.98" cy="76.36" r="0.3" fill="#5a6aee" opacity="0.5"/>
<circle cx="275.89" cy="71.25" r="0.3" fill="#5a6aee" opacity="0.5"/>
<circle cx="260.62" cy="75.48" r="0.3" fill="#5a6aee" opacity="0.5"/>
<circle cx="271.28" cy="66.80" r="0.3" fill="#5a6aee" opacity="0.5"/>
<circle cx="262.58" cy="68.86" r="0.3" fill="#5a6aee" opacity="0.5"/>
<circle cx="268.78" cy="75.10" r="0.3" fill="#5a6aee" opacity="0.5"/>
<circle cx="262.37" cy="68.32" r="0.3" fill="#5a6aee" opacity="0.5"/>
<circle cx="269.37" cy="64.47" r="0.3" fill="#5a6aee" opacity="0.5"/>
<circle cx="269.18" cy="72.36" r="0.3" fill="#5a6aee" opacity="0.5"/>
<circle cx="275.48" cy="77.12" r="0.3" fill="#5a6aee" opacity="0.5"/>
<circle cx="263.14" cy="71.86" r="0.3" fill="#5a6aee" opacity="0.5"/>
<circle cx="264.63" cy="69.98" r="0.3" fill="#5a6aee" opacity="0.5"/>
<circle cx="266.40" cy="77.00" r="0.3" fill="#5a6aee" opacity="0.5"/>
<circle cx="258.56" cy="72.06" r="0.3" fill="#5a6aee" opacity="0.5"/>
<circle cx="273.36" cy="76.07" r="0.3" fill="#5a6aee" opacity="0.5"/>
<circle cx="261.99" cy="69.66" r="0.3" fill="#5a6aee" opacity="0.5"/>
<circle cx="261.79" cy="66.35" r="0.3" fill="#5a6aee" opacity="0.5"/>
<circle cx="271.67" cy="73.29" r="0.3" fill="#5a6aee" opacity="0.5"/>
<circle cx="262.56" cy="67.06" r="0.3" fill="#5a6aee" opacity="0.5"/>
<circle cx="264.11" cy="70.88" r="0.3" fill="#5a6aee" opacity="0.5"/>
<circle cx="274.48" cy="71.10" r="0.3" fill="#5a6aee" opacity="0.5"/>
<circle cx="266.57" cy="77.43" r="0.3" fill="#5a6aee" opacity="0.5"/>
<circle cx="269.29" cy="72.25" r="0.3" fill="#5a6aee" opacity="0.5"/>
<circle cx="268.94" cy="71.21" r="0.3" fill="#5a6aee" opacity="0.5"/>
<circle cx="265.56" cy="69.05" r="0.3" fill="#5a6aee" opacity="0.5"/>
<circle cx="261.58" cy="66.87" r="0.3" fill="#5a6aee" opacity="0.5"/>
<circle cx="268.47" cy="75.14" r="0.3" fill="#5a6aee" opacity="0.5"/>
<circle cx="266.86" cy="76.22" r="0.3" fill="#5a6aee" opacity="0.5"/>
<circle cx="268.64" cy="73.50" r="0.3" fill="#5a6aee" opacity="0.5"/>
<circle cx="261.66" cy="75.44" r="0.3" fill="#5a6aee" opacity="0.5"/>
<circle cx="271.83" cy="75.61" r="0.3" fill="#5a6aee" opacity="0.5"/>
<circle cx="272.13" cy="71.05" r="0.3" fill="#5a6aee" opacity="0.5"/>
<circle cx="261.19" cy="78.16" r="0.3" fill="#5a6aee" opacity="0.5"/>
<circle cx="263.13" cy="74.00" r="0.3" fill="#5a6aee" opacity="0.5"/>
<circle cx="265.06" cy="73.09" r="0.3" fill="#5a6aee" opacity="0.5"/>
<circle cx="264.67" cy="70.78" r="0.3" fill="#5a6aee" opacity="0.5"/>
<circle cx="257.25" cy="80.86" r="0.3" fill="#5a6aee" opacity="0.5"/>
<circle cx="267.00" cy="65.06" r="0.3" fill="#5a6aee" opacity="0.5"/>
<circle cx="261.55" cy="68.36" r="0.3" fill="#5a6aee" opacity="0.5"/>
<circle cx="262.36" cy="62.50" r="0.3" fill="#5a6aee" opacity="0.5"/>
<circle cx="268.82" cy="79.76" r="0.3" fill="#5a6aee" opacity="0.5"/>
<circle cx="264.79" cy="76.06" r="0.3" fill="#5a6aee" opacity="0.5"/>
<circle cx="268.95" cy="67.87" r="0.3" fill="#5a6aee" opacity="0.5"/>
<circle cx="271.98" cy="66.06" r="0.3" fill="#5a6aee" opacity="0.5"/>
<circle cx="263.18" cy="71.52" r="0.3" fill="#5a6aee" opacity="0.5"/>
<circle cx="272.16" cy="73.49" r="0.3" fill="#5a6aee" opacity="0.5"/>
<circle cx="265.39" cy="69.69" r="0.3" fill="#5a6aee" opacity="0.5"/>
<circle cx="266.44" cy="73.17" r="0.3" fill="#5a6aee" opacity="0.5"/>
<circle cx="269.58" cy="78.74" r="0.3" fill="#5a6aee" opacity="0.5"/>
<circle cx="269.61" cy="73.08" r="0.3" fill="#5a6aee" opacity="0.5"/>
<circle cx="265.25" cy="79.59" r="0.3" fill="#5a6aee" opacity="0.5"/>
<circle cx="266.98" cy="72.93" r="0.3" fill="#5a6aee" opacity="0.5"/>
<circle cx="274.80" cy="79.45" r="0.3" fill="#5a6aee" opacity="0.5"/>
<circle cx="268.79" cy="72.55" r="0.3" fill="#5a6aee" opacity="0.5"/>
<circle cx="262.89" cy="77.39" r="0.3" fill="#5a6aee" opacity="0.5"/>
<circle cx="263.78" cy="76.95" r="0.3" fill="#5a6aee" opacity="0.5"/>
<circle cx="262.17" cy="73.43" r="0.3" fill="#5a6aee" opacity="0.5"/>
<circle cx="267.97" cy="73.60" r="0.3" fill="#5a6aee" opacity="0.5"/>
<circle cx="267.14" cy="74.57" r="0.3" fill="#5a6aee" opacity="0.5"/>
<circle cx="260.51" cy="68.44" r="0.3" fill="#5a6aee" opacity="0.5"/>
<circle cx="265.28" cy="80.42" r="0.3" fill="#5a6aee" opacity="0.5"/>
<circle cx="265.39" cy="69.19" r="0.3" fill="#5a6aee" opacity="0.5"/>
<circle cx="262.77" cy="73.14" r="0.3" fill="#5a6aee" opacity="0.5"/>
<circle cx="271.78" cy="70.68" r="0.3" fill="#5a6aee" opacity="0.5"/>
<circle cx="268.74" cy="73.77" r="0.3" fill="#5a6aee" opacity="0.5"/>
<circle cx="264.26" cy="69.12" r="0.3" fill="#5a6aee" opacity="0.5"/>
<circle cx="265.26" cy="70.03" r="0.3" fill="#5a6aee" opacity="0.5"/>
<circle cx="273.94" cy="75.75" r="0.35" fill="#6a7aee" opacity="0.75"/>
<circle cx="273.38" cy="72.38" r="0.35" fill="#6a7aee" opacity="0.75"/>
<circle cx="273.33" cy="66.06" r="0.35" fill="#6a7aee" opacity="0.75"/>
<circle cx="272.06" cy="75.66" r="0.35" fill="#6a7aee" opacity="0.75"/>
<circle cx="275.03" cy="66.70" r="0.35" fill="#6a7aee" opacity="0.75"/>
<circle cx="274.62" cy="72.04" r="0.35" fill="#6a7aee" opacity="0.75"/>
<circle cx="274.27" cy="65.21" r="0.35" fill="#6a7aee" opacity="0.75"/>
<circle cx="275.04" cy="64.73" r="0.35" fill="#6a7aee" opacity="0.75"/>
<circle cx="273.84" cy="73.14" r="0.35" fill="#6a7aee" opacity="0.75"/>
<circle cx="274.57" cy="69.78" r="0.35" fill="#6a7aee" opacity="0.75"/>
<circle cx="273.76" cy="71.53" r="0.35" fill="#6a7aee" opacity="0.75"/>
<circle cx="273.55" cy="74.59" r="0.35" fill="#6a7aee" opacity="0.75"/>
<circle cx="273.44" cy="66.54" r="0.35" fill="#6a7aee" opacity="0.75"/>
<circle cx="275.18" cy="74.06" r="0.35" fill="#6a7aee" opacity="0.75"/>
<circle cx="274.35" cy="72.84" r="0.35" fill="#6a7aee" opacity="0.75"/>
<circle cx="273.41" cy="67.98" r="0.35" fill="#6a7aee" opacity="0.75"/>
<circle cx="273.76" cy="73.60" r="0.35" fill="#6a7aee" opacity="0.75"/>
<circle cx="274.38" cy="66.62" r="0.35" fill="#6a7aee" opacity="0.75"/>
<circle cx="274.54" cy="75.34" r="0.35" fill="#6a7aee" opacity="0.75"/>
<circle cx="272.39" cy="78.34" r="0.35" fill="#6a7aee" opacity="0.75"/>
<circle cx="273.48" cy="75.71" r="0.35" fill="#6a7aee" opacity="0.75"/>
<circle cx="274.61" cy="74.54" r="0.35" fill="#6a7aee" opacity="0.75"/>
<circle cx="273.47" cy="63.89" r="0.35" fill="#6a7aee" opacity="0.75"/>
<circle cx="273.53" cy="63.79" r="0.35" fill="#6a7aee" opacity="0.75"/>
<circle cx="275.15" cy="71.22" r="0.35" fill="#6a7aee" opacity="0.75"/>
<circle cx="275.68" cy="77.04" r="0.35" fill="#6a7aee" opacity="0.75"/>
<circle cx="273.96" cy="70.39" r="0.35" fill="#6a7aee" opacity="0.75"/>
<circle cx="274.28" cy="71.11" r="0.35" fill="#6a7aee" opacity="0.75"/>
<circle cx="272.77" cy="71.34" r="0.35" fill="#6a7aee" opacity="0.75"/>
<circle cx="275.00" cy="71.47" r="0.35" fill="#6a7aee" opacity="0.75"/>
<circle cx="274.10" cy="75.41" r="0.35" fill="#6a7aee" opacity="0.75"/>
<circle cx="274.04" cy="69.19" r="0.35" fill="#6a7aee" opacity="0.75"/>
<circle cx="273.78" cy="70.74" r="0.35" fill="#6a7aee" opacity="0.75"/>
<circle cx="275.29" cy="66.55" r="0.35" fill="#6a7aee" opacity="0.75"/>
<circle cx="272.24" cy="68.09" r="0.35" fill="#6a7aee" opacity="0.75"/>
<circle cx="274.03" cy="75.33" r="0.35" fill="#6a7aee" opacity="0.75"/>
<circle cx="271.64" cy="68.95" r="0.35" fill="#6a7aee" opacity="0.75"/>
<circle cx="274.55" cy="77.94" r="0.35" fill="#6a7aee" opacity="0.75"/>
<circle cx="274.67" cy="72.90" r="0.35" fill="#6a7aee" opacity="0.75"/>
<circle cx="274.48" cy="73.19" r="0.35" fill="#6a7aee" opacity="0.75"/>
<circle cx="276.54" cy="67.46" r="0.35" fill="#6a7aee" opacity="0.75"/>
<circle cx="274.46" cy="77.55" r="0.35" fill="#6a7aee" opacity="0.75"/>
<circle cx="272.44" cy="65.06" r="0.35" fill="#6a7aee" opacity="0.75"/>
<circle cx="274.10" cy="67.80" r="0.35" fill="#6a7aee" opacity="0.75"/>
<circle cx="273.81" cy="64.10" r="0.35" fill="#6a7aee" opacity="0.75"/>
<circle cx="272.08" cy="70.00" r="0.35" fill="#6a7aee" opacity="0.75"/>
<circle cx="273.45" cy="64.37" r="0.35" fill="#6a7aee" opacity="0.75"/>
<circle cx="274.07" cy="78.42" r="0.35" fill="#6a7aee" opacity="0.75"/>
<circle cx="273.40" cy="63.82" r="0.35" fill="#6a7aee" opacity="0.75"/>
<circle cx="275.46" cy="65.16" r="0.35" fill="#6a7aee" opacity="0.75"/>
<circle cx="274.34" cy="64.70" r="0.35" fill="#6a7aee" opacity="0.75"/>
<circle cx="274.06" cy="71.51" r="0.35" fill="#6a7aee" opacity="0.75"/>
<circle cx="274.10" cy="76.33" r="0.35" fill="#6a7aee" opacity="0.75"/>
<circle cx="274.34" cy="75.24" r="0.35" fill="#6a7aee" opacity="0.75"/>
<circle cx="273.53" cy="69.81" r="0.35" fill="#6a7aee" opacity="0.75"/>
<path d="M260.00,68.50 C260.92,67.42 262.58,67.28 264.00,67.00 C265.42,66.72 267.08,66.72 268.50,66.80 C269.92,66.88 271.72,66.80 272.50,67.50 C273.28,68.20 273.28,69.67 273.20,71.00 C273.12,72.33 272.87,74.20 272.00,75.50 C271.13,76.80 269.50,78.15 268.00,78.80 C266.50,79.45 264.50,79.53 263.00,79.40 C261.50,79.27 259.75,78.98 259.00,78.00 C258.25,77.02 258.33,75.08 258.50,73.50 C258.67,71.92 259.08,69.58 260.00,68.50Z" fill="#d4d8fb" stroke="#1a2cf0" stroke-width="1.7"/>
<path d="M260.00,68.50 C260.92,67.42 262.58,67.28 264.00,67.00 C265.42,66.72 267.08,66.72 268.50,66.80 C269.92,66.88 271.72,66.80 272.50,67.50 C273.28,68.20 273.28,69.67 273.20,71.00 C273.12,72.33 272.87,74.20 272.00,75.50 C271.13,76.80 269.50,78.15 268.00,78.80 C266.50,79.45 264.50,79.53 263.00,79.40 C261.50,79.27 259.75,78.98 259.00,78.00 C258.25,77.02 258.33,75.08 258.50,73.50 C258.67,71.92 259.08,69.58 260.00,68.50Z" fill="none" stroke="#5060f0" stroke-width="0.45" stroke-opacity="0.90"/>
<path d="M261.10,69.40 C261.83,68.53 263.17,68.43 264.30,68.20 C265.43,67.97 266.77,67.97 267.90,68.04 C269.03,68.11 270.47,68.04 271.10,68.60 C271.73,69.16 271.73,70.33 271.66,71.40 C271.59,72.47 271.39,73.96 270.70,75.00 C270.01,76.04 268.70,77.12 267.50,77.64 C266.30,78.16 264.70,78.23 263.50,78.12 C262.30,78.01 260.90,77.79 260.30,77.00 C259.70,76.21 259.77,74.67 259.90,73.40 C260.03,72.13 260.37,70.27 261.10,69.40Z" fill="none" stroke="#5060f0" stroke-width="0.45" stroke-opacity="0.77"/>
<path d="M262.20,70.30 C262.75,69.65 263.75,69.57 264.60,69.40 C265.45,69.23 266.45,69.23 267.30,69.28 C268.15,69.33 269.23,69.28 269.70,69.70 C270.17,70.12 270.17,71.00 270.12,71.80 C270.07,72.60 269.92,73.72 269.40,74.50 C268.88,75.28 267.90,76.09 267.00,76.48 C266.10,76.87 264.90,76.92 264.00,76.84 C263.10,76.76 262.05,76.59 261.60,76.00 C261.15,75.41 261.20,74.25 261.30,73.30 C261.40,72.35 261.65,70.95 262.20,70.30Z" fill="none" stroke="#5060f0" stroke-width="0.45" stroke-opacity="0.63"/>
<path d="M263.30,71.20 C263.67,70.77 264.33,70.71 264.90,70.60 C265.47,70.49 266.13,70.49 266.70,70.52 C267.27,70.55 267.99,70.52 268.30,70.80 C268.61,71.08 268.61,71.67 268.58,72.20 C268.55,72.73 268.45,73.48 268.10,74.00 C267.75,74.52 267.10,75.06 266.50,75.32 C265.90,75.58 265.10,75.61 264.50,75.56 C263.90,75.51 263.20,75.39 262.90,75.00 C262.60,74.61 262.63,73.83 262.70,73.20 C262.77,72.57 262.93,71.63 263.30,71.20Z" fill="none" stroke="#5060f0" stroke-width="0.45" stroke-opacity="0.50"/>
<circle cx="284.66" cy="68.65" r="0.28" fill="#444" opacity="0.55"/>
<circle cx="279.51" cy="49.73" r="0.28" fill="#444" opacity="0.55"/>
<circle cx="283.95" cy="63.81" r="0.28" fill="#444" opacity="0.55"/>
<circle cx="276.51" cy="58.62" r="0.28" fill="#444" opacity="0.55"/>
<circle cx="281.08" cy="54.97" r="0.28" fill="#444" opacity="0.55"/>
<circle cx="285.43" cy="68.07" r="0.28" fill="#444" opacity="0.55"/>
<circle cx="285.00" cy="76.50" r="0.28" fill="#444" opacity="0.55"/>
<circle cx="284.10" cy="61.38" r="0.28" fill="#444" opacity="0.55"/>
<circle cx="284.44" cy="73.82" r="0.28" fill="#444" opacity="0.55"/>
<circle cx="285.58" cy="65.12" r="0.28" fill="#444" opacity="0.55"/>
<circle cx="287.01" cy="50.94" r="0.28" fill="#444" opacity="0.55"/>
<circle cx="286.96" cy="70.24" r="0.28" fill="#444" opacity="0.55"/>
<circle cx="282.07" cy="47.17" r="0.28" fill="#444" opacity="0.55"/>
<circle cx="284.50" cy="60.50" r="0.28" fill="#444" opacity="0.55"/>
<circle cx="279.73" cy="65.02" r="0.28" fill="#444" opacity="0.55"/>
<circle cx="279.47" cy="65.90" r="0.28" fill="#444" opacity="0.55"/>
<circle cx="286.12" cy="67.45" r="0.28" fill="#444" opacity="0.55"/>
<circle cx="278.96" cy="47.95" r="0.28" fill="#444" opacity="0.55"/>
<circle cx="283.40" cy="69.45" r="0.28" fill="#444" opacity="0.55"/>
<circle cx="279.16" cy="58.91" r="0.28" fill="#444" opacity="0.55"/>
<circle cx="286.48" cy="48.98" r="0.28" fill="#444" opacity="0.55"/>
<circle cx="290.26" cy="64.57" r="0.28" fill="#444" opacity="0.55"/>
<circle cx="281.15" cy="60.40" r="0.28" fill="#444" opacity="0.55"/>
<circle cx="282.48" cy="52.02" r="0.28" fill="#444" opacity="0.55"/>
<circle cx="280.81" cy="56.38" r="0.28" fill="#444" opacity="0.55"/>
<circle cx="279.06" cy="65.32" r="0.28" fill="#444" opacity="0.55"/>
<circle cx="285.54" cy="68.47" r="0.28" fill="#444" opacity="0.55"/>
<circle cx="276.94" cy="51.27" r="0.28" fill="#444" opacity="0.55"/>
<circle cx="285.11" cy="61.26" r="0.28" fill="#444" opacity="0.55"/>
<circle cx="276.17" cy="57.72" r="0.28" fill="#444" opacity="0.55"/>
<circle cx="290.72" cy="75.38" r="0.28" fill="#444" opacity="0.55"/>
<circle cx="282.81" cy="50.14" r="0.28" fill="#444" opacity="0.55"/>
<circle cx="287.08" cy="68.50" r="0.28" fill="#444" opacity="0.55"/>
<circle cx="281.91" cy="56.69" r="0.28" fill="#444" opacity="0.55"/>
<circle cx="286.22" cy="62.06" r="0.28" fill="#444" opacity="0.55"/>
<circle cx="280.57" cy="48.48" r="0.28" fill="#444" opacity="0.55"/>
<circle cx="281.70" cy="56.62" r="0.28" fill="#444" opacity="0.55"/>
<circle cx="278.40" cy="42.27" r="0.28" fill="#444" opacity="0.55"/>
<circle cx="280.47" cy="65.43" r="0.28" fill="#444" opacity="0.55"/>
<circle cx="290.62" cy="52.82" r="0.28" fill="#444" opacity="0.55"/>
<circle cx="280.96" cy="63.73" r="0.28" fill="#444" opacity="0.55"/>
<circle cx="280.35" cy="62.91" r="0.28" fill="#444" opacity="0.55"/>
<circle cx="281.81" cy="68.87" r="0.28" fill="#444" opacity="0.55"/>
<circle cx="283.66" cy="75.11" r="0.28" fill="#444" opacity="0.55"/>
<circle cx="278.15" cy="65.66" r="0.28" fill="#444" opacity="0.55"/>
<circle cx="281.73" cy="68.80" r="0.28" fill="#444" opacity="0.55"/>
<circle cx="281.00" cy="65.72" r="0.28" fill="#444" opacity="0.55"/>
<circle cx="287.21" cy="66.41" r="0.28" fill="#444" opacity="0.55"/>
<circle cx="279.23" cy="51.65" r="0.28" fill="#444" opacity="0.55"/>
<circle cx="281.24" cy="57.11" r="0.28" fill="#444" opacity="0.55"/>
<circle cx="286.92" cy="53.80" r="0.28" fill="#444" opacity="0.55"/>
<circle cx="282.65" cy="60.46" r="0.28" fill="#444" opacity="0.55"/>
<circle cx="283.22" cy="52.99" r="0.28" fill="#444" opacity="0.55"/>
<circle cx="288.09" cy="64.16" r="0.28" fill="#444" opacity="0.55"/>
<circle cx="280.20" cy="57.32" r="0.28" fill="#444" opacity="0.55"/>
<circle cx="287.58" cy="68.97" r="0.28" fill="#444" opacity="0.55"/>
<circle cx="287.61" cy="68.49" r="0.28" fill="#444" opacity="0.55"/>
<circle cx="281.55" cy="47.23" r="0.28" fill="#444" opacity="0.55"/>
<circle cx="279.89" cy="57.36" r="0.28" fill="#444" opacity="0.55"/>
<circle cx="277.00" cy="53.38" r="0.28" fill="#444" opacity="0.55"/>
<circle cx="280.06" cy="67.68" r="0.28" fill="#444" opacity="0.55"/>
<circle cx="275.65" cy="73.06" r="0.28" fill="#444" opacity="0.55"/>
<circle cx="285.96" cy="59.10" r="0.28" fill="#444" opacity="0.55"/>
<circle cx="283.57" cy="74.11" r="0.28" fill="#444" opacity="0.55"/>
<circle cx="285.87" cy="60.33" r="0.28" fill="#444" opacity="0.55"/>
<circle cx="281.11" cy="46.78" r="0.28" fill="#444" opacity="0.55"/>
<circle cx="284.35" cy="68.75" r="0.28" fill="#444" opacity="0.55"/>
<circle cx="282.95" cy="60.61" r="0.28" fill="#444" opacity="0.55"/>
<circle cx="280.17" cy="59.23" r="0.28" fill="#444" opacity="0.55"/>
<circle cx="285.14" cy="51.89" r="0.28" fill="#444" opacity="0.55"/>
<circle cx="285.82" cy="60.70" r="0.28" fill="#444" opacity="0.55"/>
<circle cx="285.13" cy="62.47" r="0.28" fill="#444" opacity="0.55"/>
<circle cx="284.57" cy="63.87" r="0.28" fill="#444" opacity="0.55"/>
<circle cx="286.10" cy="57.20" r="0.28" fill="#444" opacity="0.55"/>
<circle cx="282.93" cy="50.94" r="0.28" fill="#444" opacity="0.55"/>
<circle cx="283.52" cy="70.02" r="0.28" fill="#444" opacity="0.55"/>
<circle cx="282.26" cy="68.34" r="0.28" fill="#444" opacity="0.55"/>
<circle cx="281.54" cy="62.42" r="0.28" fill="#444" opacity="0.55"/>
<circle cx="287.82" cy="67.15" r="0.28" fill="#444" opacity="0.55"/>
<circle cx="284.83" cy="73.25" r="0.28" fill="#444" opacity="0.55"/>
<circle cx="285.63" cy="70.56" r="0.28" fill="#444" opacity="0.55"/>
<circle cx="282.20" cy="53.94" r="0.28" fill="#444" opacity="0.55"/>
<circle cx="286.17" cy="54.91" r="0.28" fill="#444" opacity="0.55"/>
<circle cx="287.67" cy="60.10" r="0.28" fill="#444" opacity="0.55"/>
<circle cx="284.37" cy="68.37" r="0.28" fill="#444" opacity="0.55"/>
<circle cx="279.27" cy="73.30" r="0.28" fill="#444" opacity="0.55"/>
<circle cx="283.30" cy="59.18" r="0.28" fill="#444" opacity="0.55"/>
<circle cx="279.48" cy="44.10" r="0.28" fill="#444" opacity="0.55"/>
<circle cx="276.77" cy="47.52" r="0.28" fill="#444" opacity="0.55"/>
<circle cx="285.34" cy="58.75" r="0.28" fill="#444" opacity="0.55"/>
<circle cx="287.61" cy="56.66" r="0.28" fill="#444" opacity="0.55"/>
<circle cx="277.71" cy="60.11" r="0.28" fill="#444" opacity="0.55"/>
<circle cx="282.33" cy="48.49" r="0.28" fill="#444" opacity="0.55"/>
<circle cx="288.54" cy="67.46" r="0.28" fill="#444" opacity="0.55"/>
<circle cx="278.09" cy="52.54" r="0.28" fill="#444" opacity="0.55"/>
<circle cx="279.89" cy="67.44" r="0.28" fill="#444" opacity="0.55"/>
<circle cx="281.37" cy="54.27" r="0.28" fill="#444" opacity="0.55"/>
<circle cx="284.39" cy="74.62" r="0.28" fill="#444" opacity="0.55"/>
<circle cx="288.38" cy="65.07" r="0.28" fill="#444" opacity="0.55"/>
<circle cx="282.16" cy="55.03" r="0.28" fill="#444" opacity="0.55"/>
<circle cx="286.89" cy="55.22" r="0.28" fill="#444" opacity="0.55"/>
<circle cx="283.10" cy="66.27" r="0.28" fill="#444" opacity="0.55"/>
<circle cx="281.25" cy="52.40" r="0.28" fill="#444" opacity="0.55"/>
<circle cx="279.68" cy="53.11" r="0.28" fill="#444" opacity="0.55"/>
<circle cx="286.26" cy="51.25" r="0.28" fill="#444" opacity="0.55"/>
<circle cx="278.77" cy="55.96" r="0.28" fill="#444" opacity="0.55"/>
<circle cx="286.65" cy="56.93" r="0.28" fill="#444" opacity="0.55"/>
<circle cx="285.34" cy="70.90" r="0.28" fill="#444" opacity="0.55"/>
<circle cx="280.54" cy="56.74" r="0.28" fill="#444" opacity="0.55"/>
<circle cx="286.37" cy="64.96" r="0.28" fill="#444" opacity="0.55"/>
<circle cx="280.98" cy="57.67" r="0.28" fill="#444" opacity="0.55"/>
<circle cx="282.26" cy="60.42" r="0.28" fill="#444" opacity="0.55"/>
<circle cx="284.25" cy="62.66" r="0.28" fill="#444" opacity="0.55"/>
<circle cx="280.99" cy="58.73" r="0.28" fill="#444" opacity="0.55"/>
<circle cx="284.30" cy="59.88" r="0.28" fill="#444" opacity="0.55"/>
<circle cx="289.16" cy="61.65" r="0.28" fill="#444" opacity="0.55"/>
<circle cx="274.80" cy="63.28" r="0.28" fill="#444" opacity="0.55"/>
<circle cx="281.43" cy="61.92" r="0.28" fill="#444" opacity="0.55"/>
<circle cx="282.22" cy="67.37" r="0.28" fill="#444" opacity="0.55"/>
<circle cx="281.16" cy="63.39" r="0.28" fill="#444" opacity="0.55"/>
<circle cx="288.91" cy="70.15" r="0.28" fill="#444" opacity="0.55"/>
<circle cx="280.09" cy="71.86" r="0.28" fill="#444" opacity="0.55"/>
<circle cx="287.26" cy="63.79" r="0.28" fill="#444" opacity="0.55"/>
<circle cx="277.88" cy="58.08" r="0.28" fill="#444" opacity="0.55"/>
<circle cx="282.85" cy="63.95" r="0.28" fill="#444" opacity="0.55"/>
<circle cx="283.67" cy="73.67" r="0.28" fill="#444" opacity="0.55"/>
<circle cx="283.81" cy="57.86" r="0.28" fill="#444" opacity="0.55"/>
<circle cx="281.65" cy="61.67" r="0.28" fill="#444" opacity="0.55"/>
<circle cx="285.04" cy="51.95" r="0.28" fill="#444" opacity="0.55"/>
<circle cx="279.40" cy="64.85" r="0.28" fill="#444" opacity="0.55"/>
<circle cx="282.32" cy="68.36" r="0.28" fill="#444" opacity="0.55"/>
<circle cx="282.47" cy="54.57" r="0.28" fill="#444" opacity="0.55"/>
<circle cx="284.84" cy="64.01" r="0.28" fill="#444" opacity="0.55"/>
<circle cx="282.81" cy="62.25" r="0.28" fill="#444" opacity="0.55"/>
<circle cx="285.13" cy="66.29" r="0.28" fill="#444" opacity="0.55"/>
<circle cx="285.89" cy="62.16" r="0.28" fill="#444" opacity="0.55"/>
<circle cx="281.68" cy="46.40" r="0.28" fill="#444" opacity="0.55"/>
<circle cx="281.92" cy="67.97" r="0.28" fill="#444" opacity="0.55"/>
<circle cx="283.86" cy="63.52" r="0.28" fill="#444" opacity="0.55"/>
<circle cx="285.35" cy="55.79" r="0.28" fill="#444" opacity="0.55"/>
<circle cx="280.96" cy="42.27" r="0.28" fill="#444" opacity="0.55"/>
<circle cx="288.54" cy="76.47" r="0.28" fill="#444" opacity="0.55"/>
<circle cx="276.48" cy="50.26" r="0.28" fill="#444" opacity="0.55"/>
<circle cx="282.21" cy="63.11" r="0.28" fill="#444" opacity="0.55"/>
<circle cx="286.33" cy="62.47" r="0.28" fill="#444" opacity="0.55"/>
<circle cx="282.66" cy="64.47" r="0.28" fill="#444" opacity="0.55"/>
<circle cx="276.68" cy="53.87" r="0.28" fill="#444" opacity="0.55"/>
<circle cx="282.96" cy="62.56" r="0.28" fill="#444" opacity="0.55"/>
<circle cx="279.25" cy="51.57" r="0.28" fill="#444" opacity="0.55"/>
<circle cx="278.68" cy="55.25" r="0.28" fill="#444" opacity="0.55"/>
<circle cx="279.14" cy="77.17" r="0.28" fill="#444" opacity="0.55"/>
<circle cx="280.64" cy="68.55" r="0.28" fill="#444" opacity="0.55"/>
<circle cx="280.73" cy="54.80" r="0.28" fill="#444" opacity="0.55"/>
<circle cx="286.38" cy="60.63" r="0.28" fill="#444" opacity="0.55"/>
<circle cx="291.16" cy="70.66" r="0.28" fill="#444" opacity="0.55"/>
<circle cx="276.54" cy="65.82" r="0.28" fill="#444" opacity="0.55"/>
<circle cx="272.51" cy="48.50" r="0.28" fill="#444" opacity="0.55"/>
<circle cx="279.92" cy="57.76" r="0.28" fill="#444" opacity="0.55"/>
<circle cx="280.04" cy="53.75" r="0.28" fill="#444" opacity="0.55"/>
<circle cx="281.57" cy="64.93" r="0.28" fill="#444" opacity="0.55"/>
<circle cx="279.57" cy="54.16" r="0.28" fill="#444" opacity="0.55"/>
<circle cx="287.37" cy="63.83" r="0.28" fill="#444" opacity="0.55"/>
<circle cx="280.84" cy="58.98" r="0.28" fill="#444" opacity="0.55"/>
<circle cx="278.05" cy="65.25" r="0.28" fill="#444" opacity="0.55"/>
<circle cx="286.90" cy="75.70" r="0.28" fill="#444" opacity="0.55"/>
<circle cx="286.43" cy="68.26" r="0.28" fill="#444" opacity="0.55"/>
<circle cx="284.84" cy="74.42" r="0.28" fill="#444" opacity="0.55"/>
<circle cx="288.04" cy="51.50" r="0.28" fill="#444" opacity="0.55"/>
<circle cx="285.19" cy="61.25" r="0.28" fill="#444" opacity="0.55"/>
<circle cx="289.15" cy="62.83" r="0.28" fill="#444" opacity="0.55"/>
<circle cx="281.61" cy="45.38" r="0.28" fill="#444" opacity="0.55"/>
<circle cx="283.23" cy="62.91" r="0.28" fill="#444" opacity="0.55"/>
<circle cx="288.40" cy="63.06" r="0.28" fill="#444" opacity="0.55"/>
<circle cx="286.60" cy="80.67" r="0.28" fill="#444" opacity="0.55"/>
<circle cx="278.61" cy="65.26" r="0.28" fill="#444" opacity="0.55"/>
<circle cx="282.95" cy="46.16" r="0.28" fill="#444" opacity="0.55"/>
<circle cx="279.99" cy="58.00" r="0.28" fill="#444" opacity="0.55"/>
<circle cx="278.81" cy="62.12" r="0.28" fill="#444" opacity="0.55"/>
<circle cx="280.09" cy="66.66" r="0.28" fill="#444" opacity="0.55"/>
<circle cx="281.67" cy="69.20" r="0.28" fill="#444" opacity="0.55"/>
<circle cx="287.29" cy="71.35" r="0.28" fill="#444" opacity="0.55"/>
<circle cx="286.74" cy="49.71" r="0.28" fill="#444" opacity="0.55"/>
<circle cx="281.41" cy="66.83" r="0.28" fill="#444" opacity="0.55"/>
<circle cx="286.97" cy="58.74" r="0.28" fill="#444" opacity="0.55"/>
<circle cx="285.01" cy="62.54" r="0.28" fill="#444" opacity="0.55"/>
<circle cx="282.09" cy="55.69" r="0.28" fill="#444" opacity="0.55"/>
<circle cx="283.22" cy="70.79" r="0.28" fill="#444" opacity="0.55"/>
<circle cx="276.54" cy="63.85" r="0.28" fill="#444" opacity="0.55"/>
<circle cx="283.91" cy="47.58" r="0.28" fill="#444" opacity="0.55"/>
<circle cx="284.17" cy="59.96" r="0.28" fill="#444" opacity="0.55"/>
<circle cx="279.55" cy="62.06" r="0.28" fill="#444" opacity="0.55"/>
<circle cx="282.00" cy="69.29" r="0.28" fill="#444" opacity="0.55"/>
<circle cx="288.28" cy="68.32" r="0.28" fill="#444" opacity="0.55"/>
<circle cx="284.67" cy="53.75" r="0.28" fill="#444" opacity="0.55"/>
<circle cx="283.00" cy="70.02" r="0.28" fill="#444" opacity="0.55"/>
<circle cx="290.51" cy="51.62" r="0.28" fill="#444" opacity="0.55"/>
<circle cx="284.09" cy="60.88" r="0.28" fill="#444" opacity="0.55"/>
<circle cx="291.39" cy="70.26" r="0.28" fill="#444" opacity="0.55"/>
<circle cx="291.14" cy="49.71" r="0.28" fill="#444" opacity="0.55"/>
<circle cx="276.41" cy="56.12" r="0.28" fill="#444" opacity="0.55"/>
<circle cx="281.47" cy="55.13" r="0.28" fill="#444" opacity="0.55"/>
<circle cx="283.60" cy="73.57" r="0.28" fill="#444" opacity="0.55"/>
<circle cx="279.45" cy="51.29" r="0.28" fill="#444" opacity="0.55"/>
<circle cx="277.28" cy="56.32" r="0.28" fill="#444" opacity="0.55"/>
<circle cx="287.21" cy="73.03" r="0.28" fill="#444" opacity="0.55"/>
<circle cx="274.28" cy="57.19" r="0.28" fill="#444" opacity="0.55"/>
<circle cx="281.96" cy="54.81" r="0.28" fill="#444" opacity="0.55"/>
<circle cx="278.58" cy="52.11" r="0.28" fill="#444" opacity="0.55"/>
<circle cx="284.29" cy="67.26" r="0.28" fill="#444" opacity="0.55"/>
<circle cx="286.25" cy="56.04" r="0.28" fill="#444" opacity="0.55"/>
<circle cx="283.13" cy="52.89" r="0.28" fill="#444" opacity="0.55"/>
<circle cx="286.57" cy="63.80" r="0.28" fill="#444" opacity="0.55"/>
<circle cx="277.94" cy="65.03" r="0.28" fill="#444" opacity="0.55"/>
<circle cx="289.74" cy="51.19" r="0.28" fill="#444" opacity="0.55"/>
<circle cx="290.12" cy="70.51" r="0.28" fill="#444" opacity="0.55"/>
<circle cx="282.76" cy="40.67" r="0.28" fill="#444" opacity="0.55"/>
<circle cx="278.10" cy="47.97" r="0.28" fill="#444" opacity="0.55"/>
<circle cx="286.16" cy="61.83" r="0.28" fill="#444" opacity="0.55"/>
<circle cx="283.84" cy="61.92" r="0.28" fill="#444" opacity="0.55"/>
<circle cx="284.88" cy="59.02" r="0.28" fill="#444" opacity="0.55"/>
<circle cx="288.23" cy="45.41" r="0.28" fill="#444" opacity="0.55"/>
<circle cx="279.43" cy="53.89" r="0.28" fill="#444" opacity="0.55"/>
<circle cx="279.69" cy="68.61" r="0.28" fill="#444" opacity="0.55"/>
<circle cx="281.32" cy="42.42" r="0.28" fill="#444" opacity="0.55"/>
<circle cx="280.97" cy="54.47" r="0.28" fill="#444" opacity="0.55"/>
<circle cx="279.85" cy="51.76" r="0.28" fill="#444" opacity="0.55"/>
<circle cx="281.03" cy="64.56" r="0.28" fill="#444" opacity="0.55"/>
<circle cx="282.45" cy="62.58" r="0.28" fill="#444" opacity="0.55"/>
<circle cx="282.76" cy="70.49" r="0.28" fill="#444" opacity="0.55"/>
<circle cx="283.30" cy="63.00" r="0.28" fill="#444" opacity="0.55"/>
<circle cx="287.35" cy="75.43" r="0.28" fill="#444" opacity="0.55"/>
<circle cx="287.89" cy="57.82" r="0.28" fill="#444" opacity="0.55"/>
<circle cx="277.96" cy="79.33" r="0.28" fill="#444" opacity="0.55"/>
<circle cx="277.74" cy="49.83" r="0.28" fill="#444" opacity="0.55"/>
<circle cx="277.59" cy="58.20" r="0.28" fill="#444" opacity="0.55"/>
<circle cx="287.46" cy="59.48" r="0.28" fill="#444" opacity="0.55"/>
<circle cx="287.55" cy="72.50" r="0.28" fill="#444" opacity="0.55"/>
<circle cx="283.22" cy="69.39" r="0.28" fill="#444" opacity="0.55"/>
<circle cx="280.08" cy="58.20" r="0.28" fill="#444" opacity="0.55"/>
<circle cx="282.45" cy="61.09" r="0.28" fill="#444" opacity="0.55"/>
<circle cx="285.28" cy="63.82" r="0.28" fill="#444" opacity="0.55"/>
<circle cx="281.47" cy="64.79" r="0.28" fill="#444" opacity="0.55"/>
<circle cx="281.76" cy="66.39" r="0.28" fill="#444" opacity="0.55"/>
<circle cx="279.88" cy="47.63" r="0.28" fill="#444" opacity="0.55"/>
<circle cx="291.86" cy="56.56" r="0.28" fill="#444" opacity="0.55"/>
<circle cx="286.30" cy="77.22" r="0.28" fill="#444" opacity="0.55"/>
<circle cx="285.94" cy="66.49" r="0.28" fill="#444" opacity="0.55"/>
<circle cx="282.78" cy="59.66" r="0.28" fill="#444" opacity="0.55"/>
<circle cx="279.98" cy="62.30" r="0.28" fill="#444" opacity="0.55"/>
<circle cx="285.90" cy="51.41" r="0.28" fill="#444" opacity="0.55"/>
<circle cx="281.26" cy="57.35" r="0.3" fill="#222" opacity="0.8"/>
<circle cx="283.84" cy="48.99" r="0.3" fill="#222" opacity="0.8"/>
<circle cx="282.68" cy="52.75" r="0.3" fill="#222" opacity="0.8"/>
<circle cx="285.77" cy="47.88" r="0.3" fill="#222" opacity="0.8"/>
<circle cx="283.61" cy="51.74" r="0.3" fill="#222" opacity="0.8"/>
<circle cx="283.41" cy="51.48" r="0.3" fill="#222" opacity="0.8"/>
<circle cx="284.59" cy="51.32" r="0.3" fill="#222" opacity="0.8"/>
<circle cx="285.40" cy="49.82" r="0.3" fill="#222" opacity="0.8"/>
<circle cx="283.27" cy="48.97" r="0.3" fill="#222" opacity="0.8"/>
<circle cx="283.97" cy="49.03" r="0.3" fill="#222" opacity="0.8"/>
<circle cx="283.50" cy="50.58" r="0.3" fill="#222" opacity="0.8"/>
<circle cx="283.94" cy="52.07" r="0.3" fill="#222" opacity="0.8"/>
<circle cx="284.49" cy="50.38" r="0.3" fill="#222" opacity="0.8"/>
<circle cx="286.18" cy="49.14" r="0.3" fill="#222" opacity="0.8"/>
<circle cx="286.42" cy="48.86" r="0.3" fill="#222" opacity="0.8"/>
<circle cx="284.57" cy="48.58" r="0.3" fill="#222" opacity="0.8"/>
<circle cx="284.18" cy="49.02" r="0.3" fill="#222" opacity="0.8"/>
<circle cx="285.90" cy="49.59" r="0.3" fill="#222" opacity="0.8"/>
<circle cx="285.91" cy="50.05" r="0.3" fill="#222" opacity="0.8"/>
<circle cx="282.77" cy="47.82" r="0.3" fill="#222" opacity="0.8"/>
<circle cx="283.94" cy="49.76" r="0.3" fill="#222" opacity="0.8"/>
<circle cx="283.50" cy="51.43" r="0.3" fill="#222" opacity="0.8"/>
<circle cx="284.23" cy="50.01" r="0.3" fill="#222" opacity="0.8"/>
<circle cx="284.49" cy="49.19" r="0.3" fill="#222" opacity="0.8"/>
<circle cx="282.90" cy="50.59" r="0.3" fill="#222" opacity="0.8"/>
<circle cx="285.45" cy="50.57" r="0.3" fill="#222" opacity="0.8"/>
<circle cx="283.62" cy="51.51" r="0.3" fill="#222" opacity="0.8"/>
<circle cx="284.92" cy="48.33" r="0.3" fill="#222" opacity="0.8"/>
<circle cx="286.55" cy="48.29" r="0.3" fill="#222" opacity="0.8"/>
<circle cx="282.68" cy="51.66" r="0.3" fill="#222" opacity="0.8"/>
<circle cx="284.34" cy="52.44" r="0.3" fill="#222" opacity="0.8"/>
<circle cx="285.75" cy="48.74" r="0.3" fill="#222" opacity="0.8"/>
<circle cx="283.39" cy="50.54" r="0.3" fill="#222" opacity="0.8"/>
<circle cx="283.68" cy="49.31" r="0.3" fill="#222" opacity="0.8"/>
<circle cx="283.95" cy="52.59" r="0.3" fill="#222" opacity="0.8"/>
<circle cx="285.29" cy="49.22" r="0.3" fill="#222" opacity="0.8"/>
<circle cx="282.48" cy="52.69" r="0.3" fill="#222" opacity="0.8"/>
<circle cx="285.68" cy="47.24" r="0.3" fill="#222" opacity="0.8"/>
<circle cx="284.78" cy="52.79" r="0.3" fill="#222" opacity="0.8"/>
<circle cx="285.52" cy="50.55" r="0.3" fill="#222" opacity="0.8"/>
<text x="266.00" y="58.50" font-size="2.8" text-anchor="start" font-weight="normal" fill="#222" textLength="4.20" lengthAdjust="spacingAndGlyphs" stroke="#222" stroke-width="0.1">10.1</text>
<line x1="256.00" y1="39.80" x2="256.00" y2="81.60" stroke="#555" stroke-width="0.8"/>
<line x1="256.00" y1="81.60" x2="295.60" y2="81.60" stroke="#777" stroke-width="0.8"/>
<line x1="254.50" y1="45.50" x2="256.00" y2="45.50" stroke="#444" stroke-width="0.5"/>
<text x="252.00" y="46.80" font-size="3.6" text-anchor="end" font-weight="normal" fill="#222" stroke="#222" stroke-width="0.1">10<tspan dy="-1.44" font-size="2.16">3</tspan><tspan dy="1.44"></tspan></text>
<line x1="254.50" y1="53.50" x2="256.00" y2="53.50" stroke="#444" stroke-width="0.5"/>
<text x="252.00" y="54.80" font-size="3.6" text-anchor="end" font-weight="normal" fill="#222" stroke="#222" stroke-width="0.1">10<tspan dy="-1.44" font-size="2.16">2</tspan><tspan dy="1.44"></tspan></text>
<line x1="254.50" y1="62.10" x2="256.00" y2="62.10" stroke="#444" stroke-width="0.5"/>
<text x="252.00" y="63.40" font-size="3.6" text-anchor="end" font-weight="normal" fill="#222" stroke="#222" stroke-width="0.1">10<tspan dy="-1.44" font-size="2.16">1</tspan><tspan dy="1.44"></tspan></text>
<line x1="254.50" y1="70.80" x2="256.00" y2="70.80" stroke="#444" stroke-width="0.5"/>
<text x="252.00" y="72.10" font-size="3.6" text-anchor="end" font-weight="normal" fill="#222" stroke="#222" stroke-width="0.1">10<tspan dy="-1.44" font-size="2.16">1</tspan><tspan dy="1.44"></tspan></text>
<line x1="254.50" y1="74.80" x2="256.00" y2="74.80" stroke="#444" stroke-width="0.5"/>
<text x="252.00" y="76.10" font-size="3.6" text-anchor="end" font-weight="normal" fill="#222" stroke="#222" stroke-width="0.1">0</text>
<line x1="254.50" y1="78.80" x2="256.00" y2="78.80" stroke="#444" stroke-width="0.5"/>
<text x="252.00" y="80.10" font-size="3.6" text-anchor="end" font-weight="normal" fill="#222" stroke="#222" stroke-width="0.1">-10<tspan dy="-1.44" font-size="2.16">1</tspan><tspan dy="1.44"></tspan></text>
<text x="260.90" y="89.90" font-size="3.7" text-anchor="start" font-weight="normal" fill="#222" textLength="33.80" lengthAdjust="spacingAndGlyphs" stroke="#222" stroke-width="0.1">010<tspan dy="-1.48" font-size="2.22">1</tspan><tspan dy="1.48"> 10</tspan><tspan dy="-1.48" font-size="2.22">1</tspan><tspan dy="1.48"> 10</tspan><tspan dy="-1.48" font-size="2.22">2</tspan><tspan dy="1.48"> 10</tspan><tspan dy="-1.48" font-size="2.22">3</tspan><tspan dy="1.48"></tspan></text>
<text transform="translate(243.00,63.00) rotate(-90)" font-size="3.6" text-anchor="middle" font-weight="normal" fill="#222" textLength="11.50" lengthAdjust="spacingAndGlyphs" stroke="#222" stroke-width="0.1">PIPE-A</text>
<text transform="translate(245.00,85.70) rotate(-90)" font-size="3.6" text-anchor="middle" font-weight="normal" fill="#222" textLength="6.60" lengthAdjust="spacingAndGlyphs" stroke="#222" stroke-width="0.1">-260</text>
<text x="250.80" y="94.60" font-size="3.6" text-anchor="start" font-weight="normal" fill="#222" textLength="6.00" lengthAdjust="spacingAndGlyphs" stroke="#222" stroke-width="0.1">-447</text>
<text x="258.20" y="98.10" font-size="3.8" text-anchor="start" font-weight="normal" fill="#1a1a1a" textLength="35.20" lengthAdjust="spacingAndGlyphs" stroke="#1a1a1a" stroke-width="0.1">ANNEXIN V APC-A</text>
<text x="190.20" y="115.10" font-size="4.0" text-anchor="start" font-weight="normal" fill="#1a1a1a" textLength="39.40" lengthAdjust="spacingAndGlyphs" stroke="#1a1a1a" stroke-width="0.1">ANNEXIN (4)-REH CT</text>
<rect x="191.40" y="118.80" width="38.30" height="41.20" fill="#fff" stroke="#d8d8d8" stroke-width="0.5"/>
<line x1="209.50" y1="118.80" x2="209.50" y2="160.00" stroke="#888" stroke-width="0.9"/>
<line x1="191.40" y1="140.00" x2="229.70" y2="140.00" stroke="#999" stroke-width="1.1"/>
<circle cx="200.08" cy="148.15" r="0.3" fill="#6070ee" opacity="0.45"/>
<circle cx="202.06" cy="156.21" r="0.3" fill="#6070ee" opacity="0.45"/>
<circle cx="204.16" cy="154.47" r="0.3" fill="#6070ee" opacity="0.45"/>
<circle cx="199.82" cy="149.83" r="0.3" fill="#6070ee" opacity="0.45"/>
<circle cx="207.71" cy="151.26" r="0.3" fill="#6070ee" opacity="0.45"/>
<circle cx="205.18" cy="148.74" r="0.3" fill="#6070ee" opacity="0.45"/>
<circle cx="194.89" cy="151.44" r="0.3" fill="#6070ee" opacity="0.45"/>
<circle cx="201.65" cy="137.54" r="0.3" fill="#6070ee" opacity="0.45"/>
<circle cx="195.76" cy="152.27" r="0.3" fill="#6070ee" opacity="0.45"/>
<circle cx="198.85" cy="145.41" r="0.3" fill="#6070ee" opacity="0.45"/>
<circle cx="199.91" cy="152.76" r="0.3" fill="#6070ee" opacity="0.45"/>
<circle cx="207.27" cy="142.50" r="0.3" fill="#6070ee" opacity="0.45"/>
<circle cx="200.26" cy="147.83" r="0.3" fill="#6070ee" opacity="0.45"/>
<circle cx="211.70" cy="152.47" r="0.3" fill="#6070ee" opacity="0.45"/>
<circle cx="194.59" cy="153.69" r="0.3" fill="#6070ee" opacity="0.45"/>
<circle cx="204.64" cy="155.17" r="0.3" fill="#6070ee" opacity="0.45"/>
<circle cx="205.67" cy="148.63" r="0.3" fill="#6070ee" opacity="0.45"/>
<circle cx="193.54" cy="151.82" r="0.3" fill="#6070ee" opacity="0.45"/>
<circle cx="199.77" cy="148.79" r="0.3" fill="#6070ee" opacity="0.45"/>
<circle cx="202.99" cy="155.99" r="0.3" fill="#6070ee" opacity="0.45"/>
<circle cx="202.28" cy="149.81" r="0.3" fill="#6070ee" opacity="0.45"/>
<circle cx="195.26" cy="149.09" r="0.3" fill="#6070ee" opacity="0.45"/>
<circle cx="195.32" cy="149.67" r="0.3" fill="#6070ee" opacity="0.45"/>
<circle cx="195.93" cy="155.18" r="0.3" fill="#6070ee" opacity="0.45"/>
<circle cx="199.24" cy="152.43" r="0.3" fill="#6070ee" opacity="0.45"/>
<circle cx="200.05" cy="149.18" r="0.3" fill="#6070ee" opacity="0.45"/>
<circle cx="197.71" cy="155.35" r="0.3" fill="#6070ee" opacity="0.45"/>
<circle cx="194.05" cy="153.73" r="0.3" fill="#6070ee" opacity="0.45"/>
<circle cx="203.37" cy="150.32" r="0.3" fill="#6070ee" opacity="0.45"/>
<circle cx="199.61" cy="154.47" r="0.3" fill="#6070ee" opacity="0.45"/>
<circle cx="210.35" cy="152.48" r="0.3" fill="#6070ee" opacity="0.45"/>
<circle cx="192.77" cy="143.90" r="0.3" fill="#6070ee" opacity="0.45"/>
<circle cx="198.62" cy="145.48" r="0.3" fill="#6070ee" opacity="0.45"/>
<circle cx="199.30" cy="148.28" r="0.3" fill="#6070ee" opacity="0.45"/>
<circle cx="204.29" cy="144.65" r="0.3" fill="#6070ee" opacity="0.45"/>
<circle cx="199.54" cy="151.11" r="0.3" fill="#6070ee" opacity="0.45"/>
<circle cx="204.13" cy="145.29" r="0.3" fill="#6070ee" opacity="0.45"/>
<circle cx="199.89" cy="144.83" r="0.3" fill="#6070ee" opacity="0.45"/>
<circle cx="203.75" cy="152.64" r="0.3" fill="#6070ee" opacity="0.45"/>
<circle cx="205.89" cy="149.28" r="0.3" fill="#6070ee" opacity="0.45"/>
<circle cx="208.80" cy="148.30" r="0.3" fill="#6070ee" opacity="0.45"/>
<circle cx="199.57" cy="155.20" r="0.3" fill="#6070ee" opacity="0.45"/>
<circle cx="197.20" cy="147.92" r="0.3" fill="#6070ee" opacity="0.45"/>
<circle cx="203.04" cy="144.86" r="0.3" fill="#6070ee" opacity="0.45"/>
<circle cx="204.72" cy="152.61" r="0.3" fill="#6070ee" opacity="0.45"/>
<circle cx="194.58" cy="150.14" r="0.3" fill="#6070ee" opacity="0.45"/>
<circle cx="196.43" cy="146.54" r="0.3" fill="#6070ee" opacity="0.45"/>
<circle cx="201.45" cy="149.06" r="0.3" fill="#6070ee" opacity="0.45"/>
<circle cx="204.60" cy="150.71" r="0.3" fill="#6070ee" opacity="0.45"/>
<circle cx="191.55" cy="151.35" r="0.3" fill="#6070ee" opacity="0.45"/>
<circle cx="203.66" cy="151.88" r="0.3" fill="#6070ee" opacity="0.45"/>
<circle cx="192.59" cy="147.70" r="0.3" fill="#6070ee" opacity="0.45"/>
<circle cx="193.40" cy="149.28" r="0.3" fill="#6070ee" opacity="0.45"/>
<circle cx="196.11" cy="154.36" r="0.3" fill="#6070ee" opacity="0.45"/>
<circle cx="202.69" cy="144.03" r="0.3" fill="#6070ee" opacity="0.45"/>
<circle cx="198.80" cy="158.27" r="0.3" fill="#6070ee" opacity="0.45"/>
<circle cx="198.04" cy="151.02" r="0.3" fill="#6070ee" opacity="0.45"/>
<circle cx="204.67" cy="156.59" r="0.3" fill="#6070ee" opacity="0.45"/>
<circle cx="205.84" cy="150.09" r="0.3" fill="#6070ee" opacity="0.45"/>
<circle cx="194.01" cy="148.12" r="0.3" fill="#6070ee" opacity="0.45"/>
<circle cx="203.02" cy="143.58" r="0.3" fill="#6070ee" opacity="0.45"/>
<circle cx="200.66" cy="157.27" r="0.3" fill="#6070ee" opacity="0.45"/>
<circle cx="193.82" cy="153.69" r="0.3" fill="#6070ee" opacity="0.45"/>
<circle cx="195.87" cy="147.14" r="0.3" fill="#6070ee" opacity="0.45"/>
<circle cx="202.14" cy="153.26" r="0.3" fill="#6070ee" opacity="0.45"/>
<circle cx="199.47" cy="152.46" r="0.3" fill="#6070ee" opacity="0.45"/>
<circle cx="203.53" cy="158.10" r="0.3" fill="#6070ee" opacity="0.45"/>
<circle cx="195.21" cy="146.29" r="0.3" fill="#6070ee" opacity="0.45"/>
<circle cx="208.86" cy="154.09" r="0.3" fill="#6070ee" opacity="0.45"/>
<circle cx="196.52" cy="153.19" r="0.3" fill="#6070ee" opacity="0.45"/>
<circle cx="208.37" cy="148.93" r="0.3" fill="#6070ee" opacity="0.45"/>
<circle cx="201.86" cy="154.38" r="0.3" fill="#6070ee" opacity="0.45"/>
<circle cx="196.79" cy="145.77" r="0.3" fill="#6070ee" opacity="0.45"/>
<circle cx="204.20" cy="150.47" r="0.3" fill="#6070ee" opacity="0.45"/>
<circle cx="201.05" cy="147.19" r="0.3" fill="#6070ee" opacity="0.45"/>
<circle cx="203.24" cy="154.73" r="0.3" fill="#6070ee" opacity="0.45"/>
<circle cx="200.35" cy="150.78" r="0.3" fill="#6070ee" opacity="0.45"/>
<circle cx="195.33" cy="147.86" r="0.3" fill="#6070ee" opacity="0.45"/>
<circle cx="193.42" cy="150.84" r="0.3" fill="#6070ee" opacity="0.45"/>
<circle cx="200.98" cy="147.73" r="0.3" fill="#6070ee" opacity="0.45"/>
<circle cx="193.65" cy="149.70" r="0.3" fill="#6070ee" opacity="0.45"/>
<circle cx="203.34" cy="156.42" r="0.3" fill="#6070ee" opacity="0.45"/>
<circle cx="206.87" cy="147.04" r="0.3" fill="#6070ee" opacity="0.45"/>
<circle cx="197.93" cy="154.30" r="0.3" fill="#6070ee" opacity="0.45"/>
<circle cx="201.05" cy="146.82" r="0.3" fill="#6070ee" opacity="0.45"/>
<circle cx="194.44" cy="148.26" r="0.3" fill="#6070ee" opacity="0.45"/>
<circle cx="199.83" cy="151.38" r="0.3" fill="#6070ee" opacity="0.45"/>
<circle cx="204.37" cy="146.88" r="0.3" fill="#6070ee" opacity="0.45"/>
<circle cx="202.48" cy="152.29" r="0.3" fill="#6070ee" opacity="0.45"/>
<circle cx="198.51" cy="153.75" r="0.3" fill="#6070ee" opacity="0.45"/>
<circle cx="199.67" cy="152.54" r="0.3" fill="#6070ee" opacity="0.45"/>
<circle cx="196.95" cy="146.85" r="0.3" fill="#6070ee" opacity="0.45"/>
<circle cx="197.36" cy="158.13" r="0.3" fill="#6070ee" opacity="0.45"/>
<circle cx="202.19" cy="151.79" r="0.3" fill="#6070ee" opacity="0.45"/>
<circle cx="196.18" cy="151.32" r="0.3" fill="#6070ee" opacity="0.45"/>
<circle cx="194.14" cy="151.97" r="0.3" fill="#6070ee" opacity="0.45"/>
<circle cx="199.86" cy="148.19" r="0.3" fill="#6070ee" opacity="0.45"/>
<circle cx="202.55" cy="145.10" r="0.3" fill="#6070ee" opacity="0.45"/>
<circle cx="193.62" cy="153.54" r="0.3" fill="#6070ee" opacity="0.45"/>
<circle cx="194.51" cy="144.51" r="0.3" fill="#6070ee" opacity="0.45"/>
<circle cx="206.07" cy="153.20" r="0.3" fill="#6070ee" opacity="0.45"/>
<circle cx="202.47" cy="150.58" r="0.3" fill="#6070ee" opacity="0.45"/>
<circle cx="194.40" cy="152.42" r="0.3" fill="#6070ee" opacity="0.45"/>
<circle cx="199.90" cy="147.55" r="0.3" fill="#6070ee" opacity="0.45"/>
<circle cx="200.85" cy="152.45" r="0.3" fill="#6070ee" opacity="0.45"/>
<circle cx="200.03" cy="154.05" r="0.3" fill="#6070ee" opacity="0.45"/>
<circle cx="202.70" cy="145.72" r="0.3" fill="#6070ee" opacity="0.45"/>
<circle cx="202.54" cy="148.83" r="0.3" fill="#6070ee" opacity="0.45"/>
<circle cx="207.85" cy="138.11" r="0.3" fill="#6070ee" opacity="0.45"/>
<circle cx="198.51" cy="153.06" r="0.3" fill="#6070ee" opacity="0.45"/>
<circle cx="205.43" cy="146.26" r="0.3" fill="#6070ee" opacity="0.45"/>
<circle cx="209.92" cy="139.52" r="0.35" fill="#6a7aee" opacity="0.75"/>
<circle cx="207.45" cy="142.57" r="0.35" fill="#6a7aee" opacity="0.75"/>
<circle cx="208.46" cy="141.42" r="0.35" fill="#6a7aee" opacity="0.75"/>
<circle cx="210.97" cy="138.09" r="0.35" fill="#6a7aee" opacity="0.75"/>
<circle cx="208.54" cy="140.05" r="0.35" fill="#6a7aee" opacity="0.75"/>
<circle cx="205.49" cy="143.78" r="0.35" fill="#6a7aee" opacity="0.75"/>
<circle cx="205.74" cy="143.39" r="0.35" fill="#6a7aee" opacity="0.75"/>
<circle cx="206.01" cy="143.40" r="0.35" fill="#6a7aee" opacity="0.75"/>
<circle cx="209.32" cy="139.91" r="0.35" fill="#6a7aee" opacity="0.75"/>
<circle cx="205.13" cy="144.36" r="0.35" fill="#6a7aee" opacity="0.75"/>
<circle cx="208.80" cy="138.43" r="0.35" fill="#6a7aee" opacity="0.75"/>
<circle cx="204.15" cy="146.15" r="0.35" fill="#6a7aee" opacity="0.75"/>
<circle cx="210.46" cy="140.12" r="0.35" fill="#6a7aee" opacity="0.75"/>
<circle cx="205.94" cy="142.38" r="0.35" fill="#6a7aee" opacity="0.75"/>
<circle cx="208.63" cy="140.62" r="0.35" fill="#6a7aee" opacity="0.75"/>
<circle cx="207.58" cy="141.57" r="0.35" fill="#6a7aee" opacity="0.75"/>
<circle cx="205.21" cy="143.93" r="0.35" fill="#6a7aee" opacity="0.75"/>
<circle cx="207.36" cy="142.21" r="0.35" fill="#6a7aee" opacity="0.75"/>
<circle cx="208.62" cy="141.52" r="0.35" fill="#6a7aee" opacity="0.75"/>
<circle cx="208.94" cy="139.51" r="0.35" fill="#6a7aee" opacity="0.75"/>
<circle cx="208.92" cy="139.25" r="0.35" fill="#6a7aee" opacity="0.75"/>
<circle cx="206.29" cy="142.96" r="0.35" fill="#6a7aee" opacity="0.75"/>
<circle cx="208.12" cy="139.40" r="0.35" fill="#6a7aee" opacity="0.75"/>
<circle cx="211.42" cy="138.75" r="0.35" fill="#6a7aee" opacity="0.75"/>
<circle cx="202.81" cy="144.99" r="0.35" fill="#6a7aee" opacity="0.75"/>
<circle cx="210.34" cy="139.80" r="0.35" fill="#6a7aee" opacity="0.75"/>
<circle cx="204.92" cy="144.14" r="0.35" fill="#6a7aee" opacity="0.75"/>
<circle cx="209.21" cy="139.24" r="0.35" fill="#6a7aee" opacity="0.75"/>
<circle cx="210.10" cy="137.48" r="0.35" fill="#6a7aee" opacity="0.75"/>
<circle cx="209.06" cy="138.93" r="0.35" fill="#6a7aee" opacity="0.75"/>
<circle cx="204.30" cy="144.96" r="0.35" fill="#6a7aee" opacity="0.75"/>
<circle cx="202.78" cy="145.64" r="0.35" fill="#6a7aee" opacity="0.75"/>
<circle cx="203.83" cy="145.13" r="0.35" fill="#6a7aee" opacity="0.75"/>
<circle cx="203.99" cy="144.55" r="0.35" fill="#6a7aee" opacity="0.75"/>
<circle cx="210.98" cy="139.98" r="0.35" fill="#6a7aee" opacity="0.75"/>
<circle cx="210.01" cy="136.76" r="0.35" fill="#6a7aee" opacity="0.75"/>
<circle cx="205.77" cy="145.06" r="0.35" fill="#6a7aee" opacity="0.75"/>
<circle cx="208.21" cy="140.19" r="0.35" fill="#6a7aee" opacity="0.75"/>
<circle cx="210.75" cy="137.56" r="0.35" fill="#6a7aee" opacity="0.75"/>
<circle cx="209.54" cy="139.87" r="0.35" fill="#6a7aee" opacity="0.75"/>
<path d="M206.40,149.57 C206.56,150.46 206.41,151.52 206.01,152.38 C205.61,153.24 204.86,154.14 204.01,154.74 C203.17,155.35 202.00,155.83 200.94,156.02 C199.87,156.21 198.61,156.15 197.61,155.87 C196.61,155.59 195.59,155.01 194.93,154.34 C194.26,153.66 193.76,152.72 193.60,151.83 C193.44,150.94 193.59,149.88 193.99,149.02 C194.39,148.16 195.14,147.26 195.99,146.66 C196.83,146.05 198.00,145.57 199.06,145.38 C200.13,145.19 201.39,145.25 202.39,145.53 C203.39,145.81 204.41,146.39 205.07,147.06 C205.74,147.74 206.24,148.68 206.40,149.57Z" fill="#e2e5fc" stroke="#2a3ae6" stroke-width="0.9"/>
<path d="M206.40,149.57 C206.56,150.46 206.41,151.52 206.01,152.38 C205.61,153.24 204.86,154.14 204.01,154.74 C203.17,155.35 202.00,155.83 200.94,156.02 C199.87,156.21 198.61,156.15 197.61,155.87 C196.61,155.59 195.59,155.01 194.93,154.34 C194.26,153.66 193.76,152.72 193.60,151.83 C193.44,150.94 193.59,149.88 193.99,149.02 C194.39,148.16 195.14,147.26 195.99,146.66 C196.83,146.05 198.00,145.57 199.06,145.38 C200.13,145.19 201.39,145.25 202.39,145.53 C203.39,145.81 204.41,146.39 205.07,147.06 C205.74,147.74 206.24,148.68 206.40,149.57Z" fill="none" stroke="#3a4aee" stroke-width="0.45" stroke-opacity="0.90"/>
<path d="M205.18,149.84 C205.31,150.55 205.19,151.40 204.87,152.09 C204.55,152.77 203.95,153.49 203.27,153.97 C202.59,154.46 201.66,154.84 200.81,154.99 C199.96,155.14 198.95,155.10 198.15,154.88 C197.35,154.65 196.54,154.19 196.00,153.65 C195.47,153.11 195.06,152.35 194.94,151.64 C194.81,150.93 194.93,150.08 195.25,149.39 C195.57,148.71 196.17,147.99 196.85,147.51 C197.53,147.02 198.46,146.64 199.31,146.49 C200.16,146.34 201.17,146.38 201.97,146.60 C202.77,146.83 203.58,147.29 204.12,147.83 C204.65,148.37 205.06,149.13 205.18,149.84Z" fill="none" stroke="#3a4aee" stroke-width="0.45" stroke-opacity="0.77"/>
<path d="M203.96,150.10 C204.05,150.63 203.97,151.27 203.73,151.79 C203.49,152.31 203.04,152.84 202.53,153.20 C202.02,153.57 201.32,153.86 200.68,153.97 C200.04,154.08 199.29,154.05 198.69,153.88 C198.09,153.71 197.48,153.37 197.08,152.96 C196.67,152.56 196.37,151.99 196.28,151.46 C196.19,150.93 196.27,150.29 196.51,149.77 C196.75,149.25 197.20,148.72 197.71,148.36 C198.22,147.99 198.92,147.70 199.56,147.59 C200.20,147.48 200.95,147.51 201.55,147.68 C202.15,147.85 202.76,148.19 203.16,148.60 C203.57,149.00 203.87,149.57 203.96,150.10Z" fill="none" stroke="#3a4aee" stroke-width="0.45" stroke-opacity="0.63"/>
<path d="M202.74,150.37 C202.80,150.72 202.74,151.15 202.58,151.49 C202.43,151.84 202.12,152.19 201.79,152.44 C201.45,152.68 200.98,152.87 200.56,152.95 C200.13,153.02 199.63,153.00 199.22,152.89 C198.82,152.78 198.42,152.54 198.15,152.27 C197.88,152.01 197.68,151.63 197.62,151.27 C197.56,150.92 197.62,150.49 197.78,150.15 C197.93,149.80 198.24,149.45 198.57,149.20 C198.91,148.96 199.38,148.77 199.80,148.69 C200.23,148.62 200.73,148.64 201.14,148.75 C201.54,148.86 201.94,149.10 202.21,149.37 C202.48,149.63 202.68,150.01 202.74,150.37Z" fill="none" stroke="#3a4aee" stroke-width="0.45" stroke-opacity="0.50"/>
<circle cx="221.26" cy="127.07" r="0.28" fill="#555" opacity="0.6"/>
<circle cx="212.79" cy="129.90" r="0.28" fill="#555" opacity="0.6"/>
<circle cx="220.64" cy="130.85" r="0.28" fill="#555" opacity="0.6"/>
<circle cx="215.39" cy="132.99" r="0.28" fill="#555" opacity="0.6"/>
<circle cx="211.00" cy="128.86" r="0.28" fill="#555" opacity="0.6"/>
<circle cx="217.83" cy="132.49" r="0.28" fill="#555" opacity="0.6"/>
<circle cx="218.35" cy="134.32" r="0.28" fill="#555" opacity="0.6"/>
<circle cx="219.09" cy="130.19" r="0.28" fill="#555" opacity="0.6"/>
<circle cx="219.96" cy="126.40" r="0.28" fill="#555" opacity="0.6"/>
<circle cx="217.81" cy="131.22" r="0.28" fill="#555" opacity="0.6"/>
<circle cx="211.56" cy="128.35" r="0.28" fill="#555" opacity="0.6"/>
<circle cx="218.64" cy="134.02" r="0.28" fill="#555" opacity="0.6"/>
<circle cx="217.16" cy="134.60" r="0.28" fill="#555" opacity="0.6"/>
<circle cx="220.40" cy="133.81" r="0.28" fill="#555" opacity="0.6"/>
<circle cx="205.63" cy="122.82" r="0.28" fill="#555" opacity="0.6"/>
<circle cx="217.93" cy="129.73" r="0.28" fill="#555" opacity="0.6"/>
<circle cx="213.40" cy="131.09" r="0.28" fill="#555" opacity="0.6"/>
<circle cx="215.53" cy="127.48" r="0.28" fill="#555" opacity="0.6"/>
<circle cx="218.26" cy="134.92" r="0.28" fill="#555" opacity="0.6"/>
<circle cx="215.65" cy="123.65" r="0.28" fill="#555" opacity="0.6"/>
<circle cx="218.37" cy="130.79" r="0.28" fill="#555" opacity="0.6"/>
<circle cx="210.45" cy="122.42" r="0.28" fill="#555" opacity="0.6"/>
<circle cx="217.33" cy="121.16" r="0.28" fill="#555" opacity="0.6"/>
<circle cx="221.09" cy="125.70" r="0.28" fill="#555" opacity="0.6"/>
<circle cx="219.82" cy="125.87" r="0.28" fill="#555" opacity="0.6"/>
<circle cx="215.57" cy="125.12" r="0.28" fill="#555" opacity="0.6"/>
<circle cx="215.81" cy="119.74" r="0.28" fill="#555" opacity="0.6"/>
<circle cx="214.53" cy="131.44" r="0.28" fill="#555" opacity="0.6"/>
<circle cx="218.62" cy="139.20" r="0.28" fill="#555" opacity="0.6"/>
<circle cx="210.40" cy="131.64" r="0.28" fill="#555" opacity="0.6"/>
<circle cx="217.41" cy="123.28" r="0.28" fill="#555" opacity="0.6"/>
<circle cx="212.03" cy="123.78" r="0.28" fill="#555" opacity="0.6"/>
<circle cx="217.35" cy="126.95" r="0.28" fill="#555" opacity="0.6"/>
<circle cx="222.25" cy="131.58" r="0.28" fill="#555" opacity="0.6"/>
<circle cx="214.65" cy="123.47" r="0.28" fill="#555" opacity="0.6"/>
<circle cx="213.00" cy="126.19" r="0.28" fill="#555" opacity="0.6"/>
<circle cx="216.38" cy="124.86" r="0.28" fill="#555" opacity="0.6"/>
<circle cx="218.11" cy="126.23" r="0.28" fill="#555" opacity="0.6"/>
<circle cx="215.18" cy="132.69" r="0.28" fill="#555" opacity="0.6"/>
<circle cx="220.76" cy="129.28" r="0.28" fill="#555" opacity="0.6"/>
<circle cx="223.02" cy="130.47" r="0.28" fill="#555" opacity="0.6"/>
<circle cx="221.13" cy="132.17" r="0.28" fill="#555" opacity="0.6"/>
<circle cx="215.38" cy="127.87" r="0.28" fill="#555" opacity="0.6"/>
<circle cx="215.69" cy="129.21" r="0.28" fill="#555" opacity="0.6"/>
<circle cx="216.69" cy="128.11" r="0.28" fill="#555" opacity="0.6"/>
<circle cx="213.69" cy="129.07" r="0.28" fill="#555" opacity="0.6"/>
<circle cx="220.17" cy="126.07" r="0.28" fill="#555" opacity="0.6"/>
<circle cx="216.97" cy="132.99" r="0.28" fill="#555" opacity="0.6"/>
<circle cx="219.96" cy="126.98" r="0.28" fill="#555" opacity="0.6"/>
<circle cx="225.70" cy="130.34" r="0.28" fill="#555" opacity="0.6"/>
<text x="200.00" y="136.80" font-size="2.8" text-anchor="start" font-weight="normal" fill="#222" textLength="4.20" lengthAdjust="spacingAndGlyphs" stroke="#222" stroke-width="0.1">10.1</text>
<text x="213.00" y="136.80" font-size="2.8" text-anchor="start" font-weight="normal" fill="#222" textLength="4.20" lengthAdjust="spacingAndGlyphs" stroke="#222" stroke-width="0.1">10.1</text>
<text x="213.00" y="147.00" font-size="2.8" text-anchor="start" font-weight="normal" fill="#222" textLength="4.20" lengthAdjust="spacingAndGlyphs" stroke="#222" stroke-width="0.1">10.1</text>
<line x1="191.40" y1="118.30" x2="191.40" y2="160.00" stroke="#555" stroke-width="0.8"/>
<line x1="191.40" y1="160.00" x2="229.70" y2="160.00" stroke="#777" stroke-width="0.8"/>
<line x1="189.90" y1="124.00" x2="191.40" y2="124.00" stroke="#444" stroke-width="0.5"/>
<text x="187.40" y="125.30" font-size="3.6" text-anchor="end" font-weight="normal" fill="#222" stroke="#222" stroke-width="0.1">10<tspan dy="-1.44" font-size="2.16">3</tspan><tspan dy="1.44"></tspan></text>
<line x1="189.90" y1="132.50" x2="191.40" y2="132.50" stroke="#444" stroke-width="0.5"/>
<text x="187.40" y="133.80" font-size="3.6" text-anchor="end" font-weight="normal" fill="#222" stroke="#222" stroke-width="0.1">10<tspan dy="-1.44" font-size="2.16">2</tspan><tspan dy="1.44"></tspan></text>
<line x1="189.90" y1="141.00" x2="191.40" y2="141.00" stroke="#444" stroke-width="0.5"/>
<text x="187.40" y="142.30" font-size="3.6" text-anchor="end" font-weight="normal" fill="#222" stroke="#222" stroke-width="0.1">10<tspan dy="-1.44" font-size="2.16">1</tspan><tspan dy="1.44"></tspan></text>
<line x1="189.90" y1="149.50" x2="191.40" y2="149.50" stroke="#444" stroke-width="0.5"/>
<text x="187.40" y="150.80" font-size="3.6" text-anchor="end" font-weight="normal" fill="#222" stroke="#222" stroke-width="0.1">10<tspan dy="-1.44" font-size="2.16">1</tspan><tspan dy="1.44"></tspan></text>
<line x1="189.90" y1="154.50" x2="191.40" y2="154.50" stroke="#444" stroke-width="0.5"/>
<text x="187.40" y="155.80" font-size="3.6" text-anchor="end" font-weight="normal" fill="#222" stroke="#222" stroke-width="0.1">0</text>
<line x1="189.90" y1="160.80" x2="191.40" y2="160.80" stroke="#444" stroke-width="0.5"/>
<text x="187.40" y="162.10" font-size="3.6" text-anchor="end" font-weight="normal" fill="#222" stroke="#222" stroke-width="0.1">-10<tspan dy="-1.44" font-size="2.16">1</tspan><tspan dy="1.44"></tspan></text>
<text x="190.20" y="168.50" font-size="3.7" text-anchor="start" font-weight="normal" fill="#222" textLength="39.40" lengthAdjust="spacingAndGlyphs" stroke="#222" stroke-width="0.1">-10<tspan dy="-1.48" font-size="2.22">2</tspan><tspan dy="1.48">0 10</tspan><tspan dy="-1.48" font-size="2.22">1</tspan><tspan dy="1.48"> 10</tspan><tspan dy="-1.48" font-size="2.22">1</tspan><tspan dy="1.48"> 10</tspan><tspan dy="-1.48" font-size="2.22">2</tspan><tspan dy="1.48"> 10</tspan><tspan dy="-1.48" font-size="2.22">3</tspan><tspan dy="1.48"></tspan></text>
<text transform="translate(178.80,139.50) rotate(-90)" font-size="3.6" text-anchor="middle" font-weight="normal" fill="#222" textLength="11.50" lengthAdjust="spacingAndGlyphs" stroke="#222" stroke-width="0.1">PIPE-A</text>
<text transform="translate(180.50,168.50) rotate(-90)" font-size="3.6" text-anchor="middle" font-weight="normal" fill="#222" textLength="6.60" lengthAdjust="spacingAndGlyphs" stroke="#222" stroke-width="0.1">-277</text>
<text x="185.20" y="173.10" font-size="3.6" text-anchor="start" font-weight="normal" fill="#222" textLength="6.00" lengthAdjust="spacingAndGlyphs" stroke="#222" stroke-width="0.1">-353</text>
<text x="192.10" y="176.90" font-size="3.8" text-anchor="start" font-weight="normal" fill="#1a1a1a" textLength="35.20" lengthAdjust="spacingAndGlyphs" stroke="#1a1a1a" stroke-width="0.1">ANNEXIN V APC-A</text>
<text x="255.20" y="115.10" font-size="4.0" text-anchor="start" font-weight="normal" fill="#1a1a1a" textLength="46.00" lengthAdjust="spacingAndGlyphs" stroke="#1a1a1a" stroke-width="0.1">ANNEXIN J4-REH shAK2</text>
<rect x="260.20" y="119.20" width="38.50" height="40.80" fill="#fff" stroke="#d8d8d8" stroke-width="0.5"/>
<line x1="278.40" y1="119.20" x2="278.40" y2="160.00" stroke="#888" stroke-width="0.9"/>
<line x1="260.20" y1="140.30" x2="298.70" y2="140.30" stroke="#999" stroke-width="1.1"/>
<circle cx="274.30" cy="151.99" r="0.3" fill="#6a7aee" opacity="0.45"/>
<circle cx="285.65" cy="146.54" r="0.3" fill="#6a7aee" opacity="0.45"/>
<circle cx="277.79" cy="152.73" r="0.3" fill="#6a7aee" opacity="0.45"/>
<circle cx="264.79" cy="150.15" r="0.3" fill="#6a7aee" opacity="0.45"/>
<circle cx="265.15" cy="151.25" r="0.3" fill="#6a7aee" opacity="0.45"/>
<circle cx="271.12" cy="139.38" r="0.3" fill="#6a7aee" opacity="0.45"/>
<circle cx="273.85" cy="151.72" r="0.3" fill="#6a7aee" opacity="0.45"/>
<circle cx="276.19" cy="150.36" r="0.3" fill="#6a7aee" opacity="0.45"/>
<circle cx="265.19" cy="153.82" r="0.3" fill="#6a7aee" opacity="0.45"/>
<circle cx="275.95" cy="138.41" r="0.3" fill="#6a7aee" opacity="0.45"/>
<circle cx="276.40" cy="153.24" r="0.3" fill="#6a7aee" opacity="0.45"/>
<circle cx="267.34" cy="144.71" r="0.3" fill="#6a7aee" opacity="0.45"/>
<circle cx="267.68" cy="155.83" r="0.3" fill="#6a7aee" opacity="0.45"/>
<circle cx="271.37" cy="154.03" r="0.3" fill="#6a7aee" opacity="0.45"/>
<circle cx="267.42" cy="142.58" r="0.3" fill="#6a7aee" opacity="0.45"/>
<circle cx="275.26" cy="153.61" r="0.3" fill="#6a7aee" opacity="0.45"/>
<circle cx="273.22" cy="149.77" r="0.3" fill="#6a7aee" opacity="0.45"/>
<circle cx="268.84" cy="147.97" r="0.3" fill="#6a7aee" opacity="0.45"/>
<circle cx="272.20" cy="149.03" r="0.3" fill="#6a7aee" opacity="0.45"/>
<circle cx="270.18" cy="152.27" r="0.3" fill="#6a7aee" opacity="0.45"/>
<circle cx="273.46" cy="152.09" r="0.3" fill="#6a7aee" opacity="0.45"/>
<circle cx="271.28" cy="152.27" r="0.3" fill="#6a7aee" opacity="0.45"/>
<circle cx="276.81" cy="156.65" r="0.3" fill="#6a7aee" opacity="0.45"/>
<circle cx="278.44" cy="146.37" r="0.3" fill="#6a7aee" opacity="0.45"/>
<circle cx="272.28" cy="150.60" r="0.3" fill="#6a7aee" opacity="0.45"/>
<circle cx="281.46" cy="158.67" r="0.3" fill="#6a7aee" opacity="0.45"/>
<circle cx="278.30" cy="143.78" r="0.3" fill="#6a7aee" opacity="0.45"/>
<circle cx="274.41" cy="151.65" r="0.3" fill="#6a7aee" opacity="0.45"/>
<circle cx="267.91" cy="157.78" r="0.3" fill="#6a7aee" opacity="0.45"/>
<circle cx="273.61" cy="142.51" r="0.3" fill="#6a7aee" opacity="0.45"/>
<circle cx="264.99" cy="148.88" r="0.3" fill="#6a7aee" opacity="0.45"/>
<circle cx="276.93" cy="152.29" r="0.3" fill="#6a7aee" opacity="0.45"/>
<circle cx="275.93" cy="148.56" r="0.3" fill="#6a7aee" opacity="0.45"/>
<circle cx="277.81" cy="148.66" r="0.3" fill="#6a7aee" opacity="0.45"/>
<circle cx="274.58" cy="148.55" r="0.3" fill="#6a7aee" opacity="0.45"/>
<circle cx="268.02" cy="152.03" r="0.3" fill="#6a7aee" opacity="0.45"/>
<circle cx="263.34" cy="150.36" r="0.3" fill="#6a7aee" opacity="0.45"/>
<circle cx="272.94" cy="143.50" r="0.3" fill="#6a7aee" opacity="0.45"/>
<circle cx="269.61" cy="148.99" r="0.3" fill="#6a7aee" opacity="0.45"/>
<circle cx="264.30" cy="140.10" r="0.3" fill="#6a7aee" opacity="0.45"/>
<circle cx="276.64" cy="147.69" r="0.3" fill="#6a7aee" opacity="0.45"/>
<circle cx="268.39" cy="152.98" r="0.3" fill="#6a7aee" opacity="0.45"/>
<circle cx="262.41" cy="155.43" r="0.3" fill="#6a7aee" opacity="0.45"/>
<circle cx="289.92" cy="143.99" r="0.3" fill="#6a7aee" opacity="0.45"/>
<circle cx="261.25" cy="147.91" r="0.3" fill="#6a7aee" opacity="0.45"/>
<circle cx="269.13" cy="152.23" r="0.3" fill="#6a7aee" opacity="0.45"/>
<circle cx="267.18" cy="149.56" r="0.3" fill="#6a7aee" opacity="0.45"/>
<circle cx="278.29" cy="152.11" r="0.3" fill="#6a7aee" opacity="0.45"/>
<circle cx="276.28" cy="149.44" r="0.3" fill="#6a7aee" opacity="0.45"/>
<circle cx="267.37" cy="148.62" r="0.3" fill="#6a7aee" opacity="0.45"/>
<circle cx="267.61" cy="142.13" r="0.3" fill="#6a7aee" opacity="0.45"/>
<circle cx="271.32" cy="149.37" r="0.3" fill="#6a7aee" opacity="0.45"/>
<circle cx="268.35" cy="155.05" r="0.3" fill="#6a7aee" opacity="0.45"/>
<circle cx="284.20" cy="145.52" r="0.3" fill="#6a7aee" opacity="0.45"/>
<circle cx="273.99" cy="144.01" r="0.3" fill="#6a7aee" opacity="0.45"/>
<circle cx="276.57" cy="149.52" r="0.3" fill="#6a7aee" opacity="0.45"/>
<circle cx="261.32" cy="144.16" r="0.3" fill="#6a7aee" opacity="0.45"/>
<circle cx="274.49" cy="146.47" r="0.3" fill="#6a7aee" opacity="0.45"/>
<circle cx="265.15" cy="152.95" r="0.3" fill="#6a7aee" opacity="0.45"/>
<circle cx="272.46" cy="150.53" r="0.3" fill="#6a7aee" opacity="0.45"/>
<circle cx="279.87" cy="147.16" r="0.3" fill="#6a7aee" opacity="0.45"/>
<circle cx="280.49" cy="145.30" r="0.3" fill="#6a7aee" opacity="0.45"/>
<circle cx="270.80" cy="143.33" r="0.3" fill="#6a7aee" opacity="0.45"/>
<circle cx="277.90" cy="155.84" r="0.3" fill="#6a7aee" opacity="0.45"/>
<circle cx="260.33" cy="148.37" r="0.3" fill="#6a7aee" opacity="0.45"/>
<circle cx="266.79" cy="153.98" r="0.3" fill="#6a7aee" opacity="0.45"/>
<circle cx="276.45" cy="151.18" r="0.3" fill="#6a7aee" opacity="0.45"/>
<circle cx="275.28" cy="152.55" r="0.3" fill="#6a7aee" opacity="0.45"/>
<circle cx="272.09" cy="149.20" r="0.3" fill="#6a7aee" opacity="0.45"/>
<circle cx="265.82" cy="152.84" r="0.3" fill="#6a7aee" opacity="0.45"/>
<circle cx="265.62" cy="152.72" r="0.3" fill="#6a7aee" opacity="0.45"/>
<circle cx="265.86" cy="149.40" r="0.3" fill="#6a7aee" opacity="0.45"/>
<circle cx="275.98" cy="155.87" r="0.3" fill="#6a7aee" opacity="0.45"/>
<circle cx="270.49" cy="149.36" r="0.3" fill="#6a7aee" opacity="0.45"/>
<circle cx="270.66" cy="153.44" r="0.3" fill="#6a7aee" opacity="0.45"/>
<circle cx="270.04" cy="150.57" r="0.3" fill="#6a7aee" opacity="0.45"/>
<circle cx="274.54" cy="152.49" r="0.3" fill="#6a7aee" opacity="0.45"/>
<circle cx="270.42" cy="148.18" r="0.3" fill="#6a7aee" opacity="0.45"/>
<circle cx="262.33" cy="145.87" r="0.3" fill="#6a7aee" opacity="0.45"/>
<circle cx="269.89" cy="146.67" r="0.3" fill="#6a7aee" opacity="0.45"/>
<circle cx="285.47" cy="138.47" r="0.3" fill="#6a7aee" opacity="0.45"/>
<circle cx="283.02" cy="152.15" r="0.3" fill="#6a7aee" opacity="0.45"/>
<circle cx="267.98" cy="150.66" r="0.3" fill="#6a7aee" opacity="0.45"/>
<circle cx="268.99" cy="147.57" r="0.3" fill="#6a7aee" opacity="0.45"/>
<circle cx="262.86" cy="151.23" r="0.3" fill="#6a7aee" opacity="0.45"/>
<circle cx="266.79" cy="145.81" r="0.3" fill="#6a7aee" opacity="0.45"/>
<circle cx="268.83" cy="147.11" r="0.3" fill="#6a7aee" opacity="0.45"/>
<circle cx="272.31" cy="148.14" r="0.3" fill="#6a7aee" opacity="0.45"/>
<circle cx="262.44" cy="151.41" r="0.3" fill="#6a7aee" opacity="0.45"/>
<circle cx="261.70" cy="139.91" r="0.3" fill="#6a7aee" opacity="0.45"/>
<circle cx="262.09" cy="152.72" r="0.3" fill="#6a7aee" opacity="0.45"/>
<circle cx="262.83" cy="144.20" r="0.3" fill="#6a7aee" opacity="0.45"/>
<circle cx="282.21" cy="148.24" r="0.3" fill="#6a7aee" opacity="0.45"/>
<circle cx="272.02" cy="145.70" r="0.3" fill="#6a7aee" opacity="0.45"/>
<circle cx="278.14" cy="157.20" r="0.3" fill="#6a7aee" opacity="0.45"/>
<circle cx="266.38" cy="143.24" r="0.3" fill="#6a7aee" opacity="0.45"/>
<circle cx="263.58" cy="140.98" r="0.3" fill="#6a7aee" opacity="0.45"/>
<circle cx="272.41" cy="148.91" r="0.3" fill="#6a7aee" opacity="0.45"/>
<circle cx="272.64" cy="142.69" r="0.3" fill="#6a7aee" opacity="0.45"/>
<circle cx="262.54" cy="150.09" r="0.3" fill="#6a7aee" opacity="0.45"/>
<circle cx="279.10" cy="152.24" r="0.3" fill="#6a7aee" opacity="0.45"/>
<circle cx="268.04" cy="154.22" r="0.3" fill="#6a7aee" opacity="0.45"/>
<circle cx="275.27" cy="143.21" r="0.3" fill="#6a7aee" opacity="0.45"/>
<circle cx="282.65" cy="155.97" r="0.3" fill="#6a7aee" opacity="0.45"/>
<circle cx="269.87" cy="152.08" r="0.3" fill="#6a7aee" opacity="0.45"/>
<circle cx="261.83" cy="156.80" r="0.3" fill="#6a7aee" opacity="0.45"/>
<circle cx="284.21" cy="151.00" r="0.3" fill="#6a7aee" opacity="0.45"/>
<circle cx="272.12" cy="149.00" r="0.3" fill="#6a7aee" opacity="0.45"/>
<circle cx="270.33" cy="144.37" r="0.3" fill="#6a7aee" opacity="0.45"/>
<circle cx="270.75" cy="155.45" r="0.3" fill="#6a7aee" opacity="0.45"/>
<circle cx="268.25" cy="155.61" r="0.3" fill="#6a7aee" opacity="0.45"/>
<circle cx="261.55" cy="146.53" r="0.3" fill="#6a7aee" opacity="0.45"/>
<circle cx="267.72" cy="147.84" r="0.3" fill="#6a7aee" opacity="0.45"/>
<circle cx="276.57" cy="143.74" r="0.3" fill="#6a7aee" opacity="0.45"/>
<circle cx="275.29" cy="145.14" r="0.3" fill="#6a7aee" opacity="0.45"/>
<circle cx="269.82" cy="135.50" r="0.3" fill="#6a7aee" opacity="0.45"/>
<circle cx="275.19" cy="152.43" r="0.3" fill="#6a7aee" opacity="0.45"/>
<circle cx="270.20" cy="155.42" r="0.3" fill="#6a7aee" opacity="0.45"/>
<circle cx="272.15" cy="154.40" r="0.3" fill="#6a7aee" opacity="0.45"/>
<circle cx="267.58" cy="143.78" r="0.3" fill="#6a7aee" opacity="0.45"/>
<circle cx="265.94" cy="155.39" r="0.3" fill="#6a7aee" opacity="0.45"/>
<circle cx="270.46" cy="149.44" r="0.3" fill="#6a7aee" opacity="0.45"/>
<circle cx="278.33" cy="156.30" r="0.3" fill="#6a7aee" opacity="0.45"/>
<circle cx="273.00" cy="145.46" r="0.3" fill="#6a7aee" opacity="0.45"/>
<circle cx="274.92" cy="147.89" r="0.3" fill="#6a7aee" opacity="0.45"/>
<circle cx="271.57" cy="148.85" r="0.3" fill="#6a7aee" opacity="0.45"/>
<circle cx="268.28" cy="140.96" r="0.3" fill="#6a7aee" opacity="0.45"/>
<circle cx="262.92" cy="159.24" r="0.3" fill="#6a7aee" opacity="0.45"/>
<circle cx="273.49" cy="147.75" r="0.3" fill="#6a7aee" opacity="0.45"/>
<circle cx="265.84" cy="159.02" r="0.3" fill="#6a7aee" opacity="0.45"/>
<circle cx="264.60" cy="153.28" r="0.3" fill="#6a7aee" opacity="0.45"/>
<circle cx="267.23" cy="145.25" r="0.3" fill="#6a7aee" opacity="0.45"/>
<circle cx="267.28" cy="147.35" r="0.3" fill="#6a7aee" opacity="0.45"/>
<circle cx="279.73" cy="146.33" r="0.3" fill="#6a7aee" opacity="0.45"/>
<circle cx="266.40" cy="137.83" r="0.3" fill="#6a7aee" opacity="0.45"/>
<circle cx="266.32" cy="138.88" r="0.3" fill="#6a7aee" opacity="0.45"/>
<circle cx="264.60" cy="134.32" r="0.3" fill="#6a7aee" opacity="0.45"/>
<circle cx="262.46" cy="156.00" r="0.3" fill="#6a7aee" opacity="0.45"/>
<circle cx="271.21" cy="141.61" r="0.3" fill="#6a7aee" opacity="0.45"/>
<circle cx="266.88" cy="157.54" r="0.3" fill="#6a7aee" opacity="0.45"/>
<circle cx="268.36" cy="142.27" r="0.3" fill="#6a7aee" opacity="0.45"/>
<circle cx="271.17" cy="141.60" r="0.3" fill="#6a7aee" opacity="0.45"/>
<circle cx="268.05" cy="150.87" r="0.3" fill="#6a7aee" opacity="0.45"/>
<circle cx="269.67" cy="145.19" r="0.3" fill="#6a7aee" opacity="0.45"/>
<circle cx="281.09" cy="159.05" r="0.3" fill="#6a7aee" opacity="0.45"/>
<circle cx="273.88" cy="157.80" r="0.3" fill="#6a7aee" opacity="0.45"/>
<circle cx="271.67" cy="151.26" r="0.3" fill="#6a7aee" opacity="0.45"/>
<circle cx="265.79" cy="147.11" r="0.3" fill="#6a7aee" opacity="0.45"/>
<circle cx="272.92" cy="148.11" r="0.3" fill="#6a7aee" opacity="0.45"/>
<circle cx="262.93" cy="146.15" r="0.3" fill="#6a7aee" opacity="0.45"/>
<circle cx="266.72" cy="138.31" r="0.3" fill="#6a7aee" opacity="0.45"/>
<circle cx="262.27" cy="152.47" r="0.3" fill="#6a7aee" opacity="0.45"/>
<circle cx="277.23" cy="146.18" r="0.3" fill="#6a7aee" opacity="0.45"/>
<circle cx="273.64" cy="151.12" r="0.3" fill="#6a7aee" opacity="0.45"/>
<circle cx="266.49" cy="141.15" r="0.3" fill="#6a7aee" opacity="0.45"/>
<circle cx="266.28" cy="150.98" r="0.3" fill="#6a7aee" opacity="0.45"/>
<circle cx="269.54" cy="149.17" r="0.3" fill="#6a7aee" opacity="0.45"/>
<circle cx="276.93" cy="153.02" r="0.3" fill="#6a7aee" opacity="0.45"/>
<circle cx="268.61" cy="152.99" r="0.3" fill="#6a7aee" opacity="0.45"/>
<circle cx="264.92" cy="137.95" r="0.3" fill="#6a7aee" opacity="0.45"/>
<circle cx="265.93" cy="154.52" r="0.3" fill="#6a7aee" opacity="0.45"/>
<circle cx="272.11" cy="151.64" r="0.3" fill="#6a7aee" opacity="0.45"/>
<circle cx="272.67" cy="147.18" r="0.3" fill="#6a7aee" opacity="0.45"/>
<circle cx="278.80" cy="147.55" r="0.3" fill="#6a7aee" opacity="0.45"/>
<circle cx="268.52" cy="152.08" r="0.3" fill="#6a7aee" opacity="0.45"/>
<circle cx="263.23" cy="156.34" r="0.3" fill="#6a7aee" opacity="0.45"/>
<circle cx="278.71" cy="151.65" r="0.3" fill="#6a7aee" opacity="0.45"/>
<circle cx="266.21" cy="159.32" r="0.3" fill="#6a7aee" opacity="0.45"/>
<circle cx="265.94" cy="150.03" r="0.3" fill="#6a7aee" opacity="0.45"/>
<circle cx="270.27" cy="156.92" r="0.3" fill="#6a7aee" opacity="0.45"/>
<circle cx="261.69" cy="157.67" r="0.3" fill="#6a7aee" opacity="0.45"/>
<circle cx="275.89" cy="151.13" r="0.3" fill="#6a7aee" opacity="0.45"/>
<circle cx="261.59" cy="157.89" r="0.3" fill="#6a7aee" opacity="0.45"/>
<circle cx="280.04" cy="154.19" r="0.3" fill="#6a7aee" opacity="0.45"/>
<circle cx="267.52" cy="146.61" r="0.3" fill="#6a7aee" opacity="0.45"/>
<circle cx="261.67" cy="154.14" r="0.3" fill="#6a7aee" opacity="0.45"/>
<circle cx="263.69" cy="149.33" r="0.3" fill="#6a7aee" opacity="0.45"/>
<circle cx="274.51" cy="147.14" r="0.3" fill="#6a7aee" opacity="0.45"/>
<circle cx="269.14" cy="157.33" r="0.3" fill="#6a7aee" opacity="0.45"/>
<circle cx="260.28" cy="150.41" r="0.3" fill="#6a7aee" opacity="0.45"/>
<circle cx="279.26" cy="148.70" r="0.3" fill="#6a7aee" opacity="0.45"/>
<circle cx="267.29" cy="151.66" r="0.3" fill="#6a7aee" opacity="0.45"/>
<path d="M263.50,145.50 C264.43,144.57 266.33,143.62 268.00,143.20 C269.67,142.78 271.95,142.62 273.50,143.00 C275.05,143.38 276.58,144.25 277.30,145.50 C278.02,146.75 278.02,148.87 277.80,150.50 C277.58,152.13 277.13,154.15 276.00,155.30 C274.87,156.45 272.75,157.15 271.00,157.40 C269.25,157.65 266.90,157.53 265.50,156.80 C264.10,156.07 263.12,154.33 262.60,153.00 C262.08,151.67 262.25,150.05 262.40,148.80 C262.55,147.55 262.57,146.43 263.50,145.50Z" fill="#e4e7fd" stroke="#3546ee" stroke-width="1.0"/>
<path d="M263.50,145.50 C264.43,144.57 266.33,143.62 268.00,143.20 C269.67,142.78 271.95,142.62 273.50,143.00 C275.05,143.38 276.58,144.25 277.30,145.50 C278.02,146.75 278.02,148.87 277.80,150.50 C277.58,152.13 277.13,154.15 276.00,155.30 C274.87,156.45 272.75,157.15 271.00,157.40 C269.25,157.65 266.90,157.53 265.50,156.80 C264.10,156.07 263.12,154.33 262.60,153.00 C262.08,151.67 262.25,150.05 262.40,148.80 C262.55,147.55 262.57,146.43 263.50,145.50Z" fill="none" stroke="#7a86f2" stroke-width="0.45" stroke-opacity="0.90"/>
<path d="M264.89,146.56 C265.61,145.83 267.10,145.09 268.40,144.76 C269.70,144.44 271.48,144.31 272.69,144.61 C273.89,144.91 275.09,145.58 275.65,146.56 C276.21,147.53 276.21,149.18 276.04,150.46 C275.87,151.73 275.52,153.30 274.64,154.20 C273.75,155.10 272.10,155.64 270.74,155.84 C269.37,156.03 267.54,155.94 266.45,155.37 C265.35,154.80 264.59,153.45 264.18,152.41 C263.78,151.37 263.91,150.11 264.03,149.13 C264.14,148.16 264.16,147.28 264.89,146.56Z" fill="none" stroke="#7a86f2" stroke-width="0.45" stroke-opacity="0.77"/>
<path d="M266.27,147.61 C266.79,147.09 267.86,146.56 268.79,146.32 C269.73,146.09 271.00,146.00 271.87,146.21 C272.74,146.43 273.60,146.91 274.00,147.61 C274.40,148.31 274.40,149.50 274.28,150.41 C274.16,151.33 273.91,152.46 273.27,153.10 C272.64,153.74 271.45,154.14 270.47,154.28 C269.49,154.42 268.18,154.35 267.39,153.94 C266.61,153.53 266.06,152.56 265.77,151.81 C265.48,151.07 265.57,150.16 265.66,149.46 C265.74,148.76 265.75,148.13 266.27,147.61Z" fill="none" stroke="#7a86f2" stroke-width="0.45" stroke-opacity="0.63"/>
<path d="M267.66,148.67 C267.98,148.35 268.62,148.03 269.19,147.89 C269.75,147.74 270.53,147.69 271.06,147.82 C271.58,147.95 272.11,148.24 272.35,148.67 C272.59,149.09 272.59,149.81 272.52,150.37 C272.45,150.92 272.29,151.61 271.91,152.00 C271.52,152.39 270.80,152.63 270.21,152.71 C269.61,152.80 268.81,152.76 268.34,152.51 C267.86,152.26 267.53,151.67 267.35,151.22 C267.18,150.76 267.23,150.22 267.28,149.79 C267.33,149.37 267.34,148.99 267.66,148.67Z" fill="none" stroke="#7a86f2" stroke-width="0.45" stroke-opacity="0.50"/>
<circle cx="287.04" cy="144.79" r="0.28" fill="#444" opacity="0.5"/>
<circle cx="282.34" cy="140.01" r="0.28" fill="#444" opacity="0.5"/>
<circle cx="283.30" cy="138.23" r="0.28" fill="#444" opacity="0.5"/>
<circle cx="281.45" cy="131.73" r="0.28" fill="#444" opacity="0.5"/>
<circle cx="286.76" cy="145.33" r="0.28" fill="#444" opacity="0.5"/>
<circle cx="279.95" cy="154.89" r="0.28" fill="#444" opacity="0.5"/>
<circle cx="290.78" cy="146.09" r="0.28" fill="#444" opacity="0.5"/>
<circle cx="288.94" cy="133.50" r="0.28" fill="#444" opacity="0.5"/>
<circle cx="287.91" cy="157.78" r="0.28" fill="#444" opacity="0.5"/>
<circle cx="279.98" cy="129.79" r="0.28" fill="#444" opacity="0.5"/>
<circle cx="282.95" cy="140.25" r="0.28" fill="#444" opacity="0.5"/>
<circle cx="286.35" cy="129.67" r="0.28" fill="#444" opacity="0.5"/>
<circle cx="288.83" cy="136.20" r="0.28" fill="#444" opacity="0.5"/>
<circle cx="287.23" cy="137.01" r="0.28" fill="#444" opacity="0.5"/>
<circle cx="286.59" cy="151.41" r="0.28" fill="#444" opacity="0.5"/>
<circle cx="283.70" cy="129.87" r="0.28" fill="#444" opacity="0.5"/>
<circle cx="284.49" cy="139.12" r="0.28" fill="#444" opacity="0.5"/>
<circle cx="288.63" cy="133.58" r="0.28" fill="#444" opacity="0.5"/>
<circle cx="285.66" cy="150.90" r="0.28" fill="#444" opacity="0.5"/>
<circle cx="284.90" cy="140.22" r="0.28" fill="#444" opacity="0.5"/>
<circle cx="286.65" cy="145.20" r="0.28" fill="#444" opacity="0.5"/>
<circle cx="288.29" cy="146.03" r="0.28" fill="#444" opacity="0.5"/>
<circle cx="278.10" cy="134.78" r="0.28" fill="#444" opacity="0.5"/>
<circle cx="291.74" cy="135.69" r="0.28" fill="#444" opacity="0.5"/>
<circle cx="287.10" cy="138.97" r="0.28" fill="#444" opacity="0.5"/>
<circle cx="285.28" cy="151.25" r="0.28" fill="#444" opacity="0.5"/>
<circle cx="287.66" cy="138.81" r="0.28" fill="#444" opacity="0.5"/>
<circle cx="282.23" cy="150.78" r="0.28" fill="#444" opacity="0.5"/>
<circle cx="282.25" cy="136.15" r="0.28" fill="#444" opacity="0.5"/>
<circle cx="286.77" cy="129.51" r="0.28" fill="#444" opacity="0.5"/>
<circle cx="283.77" cy="138.89" r="0.28" fill="#444" opacity="0.5"/>
<circle cx="286.56" cy="138.71" r="0.28" fill="#444" opacity="0.5"/>
<circle cx="285.58" cy="139.08" r="0.28" fill="#444" opacity="0.5"/>
<circle cx="280.47" cy="133.93" r="0.28" fill="#444" opacity="0.5"/>
<circle cx="289.35" cy="143.94" r="0.28" fill="#444" opacity="0.5"/>
<circle cx="287.80" cy="148.48" r="0.28" fill="#444" opacity="0.5"/>
<circle cx="291.52" cy="132.47" r="0.28" fill="#444" opacity="0.5"/>
<circle cx="287.15" cy="132.65" r="0.28" fill="#444" opacity="0.5"/>
<circle cx="290.84" cy="134.55" r="0.28" fill="#444" opacity="0.5"/>
<circle cx="282.53" cy="128.94" r="0.28" fill="#444" opacity="0.5"/>
<circle cx="288.39" cy="150.81" r="0.28" fill="#444" opacity="0.5"/>
<circle cx="294.55" cy="143.03" r="0.28" fill="#444" opacity="0.5"/>
<circle cx="281.58" cy="134.08" r="0.28" fill="#444" opacity="0.5"/>
<circle cx="284.23" cy="135.80" r="0.28" fill="#444" opacity="0.5"/>
<circle cx="287.75" cy="142.72" r="0.28" fill="#444" opacity="0.5"/>
<circle cx="285.02" cy="123.61" r="0.28" fill="#444" opacity="0.5"/>
<circle cx="287.97" cy="144.89" r="0.28" fill="#444" opacity="0.5"/>
<circle cx="279.89" cy="133.14" r="0.28" fill="#444" opacity="0.5"/>
<circle cx="287.98" cy="140.16" r="0.28" fill="#444" opacity="0.5"/>
<circle cx="282.59" cy="136.14" r="0.28" fill="#444" opacity="0.5"/>
<circle cx="282.21" cy="137.85" r="0.28" fill="#444" opacity="0.5"/>
<circle cx="280.81" cy="145.72" r="0.28" fill="#444" opacity="0.5"/>
<circle cx="285.96" cy="150.80" r="0.28" fill="#444" opacity="0.5"/>
<circle cx="286.34" cy="129.70" r="0.28" fill="#444" opacity="0.5"/>
<circle cx="289.48" cy="141.20" r="0.28" fill="#444" opacity="0.5"/>
<circle cx="287.76" cy="144.24" r="0.28" fill="#444" opacity="0.5"/>
<circle cx="281.05" cy="136.46" r="0.28" fill="#444" opacity="0.5"/>
<circle cx="281.33" cy="150.45" r="0.28" fill="#444" opacity="0.5"/>
<circle cx="286.91" cy="143.13" r="0.28" fill="#444" opacity="0.5"/>
<circle cx="289.49" cy="150.02" r="0.28" fill="#444" opacity="0.5"/>
<circle cx="285.51" cy="132.76" r="0.28" fill="#444" opacity="0.5"/>
<circle cx="280.22" cy="129.41" r="0.28" fill="#444" opacity="0.5"/>
<circle cx="282.55" cy="136.07" r="0.28" fill="#444" opacity="0.5"/>
<circle cx="280.18" cy="138.19" r="0.28" fill="#444" opacity="0.5"/>
<circle cx="289.79" cy="132.63" r="0.28" fill="#444" opacity="0.5"/>
<circle cx="282.15" cy="139.41" r="0.28" fill="#444" opacity="0.5"/>
<circle cx="288.44" cy="140.48" r="0.28" fill="#444" opacity="0.5"/>
<circle cx="286.85" cy="133.27" r="0.28" fill="#444" opacity="0.5"/>
<circle cx="290.24" cy="139.56" r="0.28" fill="#444" opacity="0.5"/>
<circle cx="284.46" cy="138.61" r="0.28" fill="#444" opacity="0.5"/>
<circle cx="283.72" cy="138.48" r="0.28" fill="#444" opacity="0.5"/>
<circle cx="283.46" cy="143.50" r="0.28" fill="#444" opacity="0.5"/>
<circle cx="287.06" cy="134.71" r="0.28" fill="#444" opacity="0.5"/>
<circle cx="285.23" cy="154.62" r="0.28" fill="#444" opacity="0.5"/>
<circle cx="279.84" cy="132.13" r="0.28" fill="#444" opacity="0.5"/>
<circle cx="291.36" cy="141.50" r="0.28" fill="#444" opacity="0.5"/>
<circle cx="281.15" cy="135.55" r="0.28" fill="#444" opacity="0.5"/>
<circle cx="294.29" cy="149.02" r="0.28" fill="#444" opacity="0.5"/>
<circle cx="285.34" cy="136.28" r="0.28" fill="#444" opacity="0.5"/>
<circle cx="288.28" cy="145.27" r="0.28" fill="#444" opacity="0.5"/>
<circle cx="289.12" cy="144.65" r="0.28" fill="#444" opacity="0.5"/>
<circle cx="285.03" cy="143.31" r="0.28" fill="#444" opacity="0.5"/>
<circle cx="282.84" cy="155.69" r="0.28" fill="#444" opacity="0.5"/>
<circle cx="286.16" cy="139.76" r="0.28" fill="#444" opacity="0.5"/>
<circle cx="287.96" cy="148.15" r="0.28" fill="#444" opacity="0.5"/>
<circle cx="287.81" cy="145.90" r="0.28" fill="#444" opacity="0.5"/>
<circle cx="287.05" cy="141.35" r="0.28" fill="#444" opacity="0.5"/>
<circle cx="290.23" cy="137.35" r="0.28" fill="#444" opacity="0.5"/>
<circle cx="286.52" cy="126.54" r="0.28" fill="#444" opacity="0.5"/>
<circle cx="284.49" cy="137.86" r="0.28" fill="#444" opacity="0.5"/>
<circle cx="282.24" cy="150.13" r="0.28" fill="#444" opacity="0.5"/>
<circle cx="282.36" cy="128.39" r="0.28" fill="#444" opacity="0.5"/>
<circle cx="283.95" cy="136.48" r="0.28" fill="#444" opacity="0.5"/>
<circle cx="287.20" cy="150.17" r="0.28" fill="#444" opacity="0.5"/>
<circle cx="282.25" cy="152.80" r="0.28" fill="#444" opacity="0.5"/>
<circle cx="290.27" cy="145.84" r="0.28" fill="#444" opacity="0.5"/>
<circle cx="284.89" cy="137.56" r="0.28" fill="#444" opacity="0.5"/>
<circle cx="282.97" cy="122.20" r="0.28" fill="#444" opacity="0.5"/>
<circle cx="283.99" cy="132.83" r="0.28" fill="#444" opacity="0.5"/>
<circle cx="288.91" cy="140.19" r="0.28" fill="#444" opacity="0.5"/>
<circle cx="283.47" cy="132.01" r="0.28" fill="#444" opacity="0.5"/>
<circle cx="282.80" cy="143.04" r="0.28" fill="#444" opacity="0.5"/>
<circle cx="285.25" cy="139.18" r="0.28" fill="#444" opacity="0.5"/>
<circle cx="284.49" cy="138.48" r="0.28" fill="#444" opacity="0.5"/>
<circle cx="287.28" cy="147.69" r="0.28" fill="#444" opacity="0.5"/>
<circle cx="289.05" cy="149.97" r="0.28" fill="#444" opacity="0.5"/>
<circle cx="291.20" cy="154.67" r="0.28" fill="#444" opacity="0.5"/>
<circle cx="288.36" cy="145.32" r="0.28" fill="#444" opacity="0.5"/>
<circle cx="284.06" cy="141.66" r="0.28" fill="#444" opacity="0.5"/>
<circle cx="291.50" cy="126.03" r="0.28" fill="#444" opacity="0.5"/>
<circle cx="287.05" cy="136.90" r="0.28" fill="#444" opacity="0.5"/>
<circle cx="288.59" cy="150.17" r="0.28" fill="#444" opacity="0.5"/>
<circle cx="284.63" cy="156.59" r="0.28" fill="#444" opacity="0.5"/>
<circle cx="283.91" cy="141.86" r="0.28" fill="#444" opacity="0.5"/>
<circle cx="289.80" cy="147.69" r="0.28" fill="#444" opacity="0.5"/>
<circle cx="284.85" cy="147.89" r="0.28" fill="#444" opacity="0.5"/>
<circle cx="280.45" cy="135.53" r="0.28" fill="#444" opacity="0.5"/>
<circle cx="280.62" cy="152.93" r="0.28" fill="#444" opacity="0.5"/>
<circle cx="290.83" cy="156.47" r="0.28" fill="#444" opacity="0.5"/>
<circle cx="289.28" cy="142.07" r="0.28" fill="#444" opacity="0.5"/>
<circle cx="282.40" cy="133.83" r="0.28" fill="#444" opacity="0.5"/>
<circle cx="282.11" cy="137.04" r="0.28" fill="#444" opacity="0.5"/>
<circle cx="284.43" cy="146.65" r="0.28" fill="#444" opacity="0.5"/>
<circle cx="284.06" cy="141.86" r="0.28" fill="#444" opacity="0.5"/>
<circle cx="281.66" cy="139.36" r="0.28" fill="#444" opacity="0.5"/>
<circle cx="282.68" cy="135.71" r="0.28" fill="#444" opacity="0.5"/>
<circle cx="285.27" cy="136.38" r="0.28" fill="#444" opacity="0.5"/>
<circle cx="285.60" cy="148.12" r="0.28" fill="#444" opacity="0.5"/>
<circle cx="282.54" cy="148.84" r="0.28" fill="#444" opacity="0.5"/>
<circle cx="288.28" cy="140.82" r="0.28" fill="#444" opacity="0.5"/>
<circle cx="280.64" cy="154.78" r="0.28" fill="#444" opacity="0.5"/>
<circle cx="286.31" cy="130.21" r="0.28" fill="#444" opacity="0.5"/>
<circle cx="287.32" cy="144.27" r="0.28" fill="#444" opacity="0.5"/>
<circle cx="282.85" cy="156.47" r="0.28" fill="#444" opacity="0.5"/>
<circle cx="286.99" cy="140.99" r="0.28" fill="#444" opacity="0.5"/>
<circle cx="286.53" cy="158.78" r="0.28" fill="#444" opacity="0.5"/>
<circle cx="294.34" cy="147.37" r="0.28" fill="#444" opacity="0.5"/>
<circle cx="283.03" cy="148.74" r="0.28" fill="#444" opacity="0.5"/>
<circle cx="291.62" cy="139.67" r="0.28" fill="#444" opacity="0.5"/>
<circle cx="281.40" cy="142.33" r="0.28" fill="#444" opacity="0.5"/>
<circle cx="288.23" cy="143.03" r="0.28" fill="#444" opacity="0.5"/>
<circle cx="285.40" cy="137.39" r="0.28" fill="#444" opacity="0.5"/>
<circle cx="286.10" cy="144.48" r="0.28" fill="#444" opacity="0.5"/>
<circle cx="285.48" cy="155.47" r="0.28" fill="#444" opacity="0.5"/>
<circle cx="283.52" cy="137.98" r="0.28" fill="#444" opacity="0.5"/>
<circle cx="284.45" cy="135.78" r="0.28" fill="#444" opacity="0.5"/>
<circle cx="281.55" cy="131.83" r="0.28" fill="#444" opacity="0.5"/>
<circle cx="285.61" cy="124.97" r="0.28" fill="#444" opacity="0.5"/>
<circle cx="285.00" cy="151.24" r="0.28" fill="#444" opacity="0.5"/>
<circle cx="290.91" cy="138.92" r="0.28" fill="#444" opacity="0.5"/>
<circle cx="286.87" cy="141.83" r="0.28" fill="#444" opacity="0.5"/>
<circle cx="289.49" cy="136.91" r="0.28" fill="#444" opacity="0.5"/>
<circle cx="281.76" cy="144.51" r="0.28" fill="#444" opacity="0.5"/>
<circle cx="284.64" cy="139.59" r="0.28" fill="#444" opacity="0.5"/>
<circle cx="286.14" cy="137.10" r="0.28" fill="#444" opacity="0.5"/>
<circle cx="288.25" cy="148.65" r="0.28" fill="#444" opacity="0.5"/>
<circle cx="287.25" cy="124.30" r="0.28" fill="#444" opacity="0.5"/>
<circle cx="286.23" cy="136.22" r="0.28" fill="#444" opacity="0.5"/>
<circle cx="279.99" cy="135.56" r="0.28" fill="#444" opacity="0.5"/>
<circle cx="282.45" cy="136.59" r="0.28" fill="#444" opacity="0.5"/>
<circle cx="283.08" cy="127.20" r="0.28" fill="#444" opacity="0.5"/>
<circle cx="283.86" cy="139.39" r="0.28" fill="#444" opacity="0.5"/>
<circle cx="283.35" cy="129.35" r="0.28" fill="#444" opacity="0.5"/>
<circle cx="291.07" cy="152.70" r="0.28" fill="#444" opacity="0.5"/>
<circle cx="276.14" cy="136.07" r="0.28" fill="#444" opacity="0.5"/>
<circle cx="287.17" cy="152.06" r="0.28" fill="#444" opacity="0.5"/>
<circle cx="289.09" cy="142.79" r="0.28" fill="#444" opacity="0.5"/>
<circle cx="280.30" cy="137.32" r="0.28" fill="#444" opacity="0.5"/>
<circle cx="282.41" cy="129.95" r="0.28" fill="#444" opacity="0.5"/>
<circle cx="281.28" cy="127.96" r="0.28" fill="#444" opacity="0.5"/>
<circle cx="283.28" cy="138.53" r="0.28" fill="#444" opacity="0.5"/>
<circle cx="280.81" cy="142.02" r="0.28" fill="#444" opacity="0.5"/>
<circle cx="288.25" cy="134.51" r="0.28" fill="#444" opacity="0.5"/>
<circle cx="287.32" cy="134.18" r="0.28" fill="#444" opacity="0.5"/>
<circle cx="284.22" cy="131.99" r="0.28" fill="#444" opacity="0.5"/>
<circle cx="287.90" cy="126.53" r="0.28" fill="#444" opacity="0.5"/>
<circle cx="292.45" cy="147.40" r="0.28" fill="#444" opacity="0.5"/>
<circle cx="285.86" cy="138.81" r="0.28" fill="#444" opacity="0.5"/>
<circle cx="281.95" cy="126.18" r="0.28" fill="#444" opacity="0.5"/>
<circle cx="287.02" cy="137.15" r="0.28" fill="#444" opacity="0.5"/>
<circle cx="287.47" cy="158.80" r="0.28" fill="#444" opacity="0.5"/>
<circle cx="286.21" cy="147.03" r="0.28" fill="#444" opacity="0.5"/>
<circle cx="284.40" cy="131.75" r="0.28" fill="#444" opacity="0.5"/>
<circle cx="286.19" cy="157.23" r="0.28" fill="#444" opacity="0.5"/>
<circle cx="288.23" cy="145.62" r="0.28" fill="#444" opacity="0.5"/>
<circle cx="283.21" cy="137.60" r="0.28" fill="#444" opacity="0.5"/>
<circle cx="291.07" cy="147.62" r="0.28" fill="#444" opacity="0.5"/>
<circle cx="281.62" cy="131.93" r="0.28" fill="#444" opacity="0.5"/>
<circle cx="287.21" cy="146.52" r="0.28" fill="#444" opacity="0.5"/>
<circle cx="278.64" cy="136.61" r="0.28" fill="#444" opacity="0.5"/>
<circle cx="279.69" cy="132.89" r="0.28" fill="#444" opacity="0.5"/>
<circle cx="281.60" cy="138.41" r="0.28" fill="#444" opacity="0.5"/>
<circle cx="286.51" cy="140.52" r="0.28" fill="#444" opacity="0.5"/>
<circle cx="284.15" cy="143.34" r="0.28" fill="#444" opacity="0.5"/>
<circle cx="286.76" cy="151.74" r="0.28" fill="#444" opacity="0.5"/>
<circle cx="283.45" cy="147.31" r="0.28" fill="#444" opacity="0.5"/>
<circle cx="288.31" cy="136.84" r="0.28" fill="#444" opacity="0.5"/>
<circle cx="286.80" cy="153.44" r="0.28" fill="#444" opacity="0.5"/>
<circle cx="282.97" cy="142.18" r="0.28" fill="#444" opacity="0.5"/>
<circle cx="287.30" cy="135.53" r="0.28" fill="#444" opacity="0.5"/>
<circle cx="289.42" cy="139.33" r="0.28" fill="#444" opacity="0.5"/>
<circle cx="288.95" cy="145.09" r="0.28" fill="#444" opacity="0.5"/>
<circle cx="283.40" cy="136.75" r="0.28" fill="#444" opacity="0.5"/>
<circle cx="282.33" cy="156.74" r="0.28" fill="#444" opacity="0.5"/>
<circle cx="282.47" cy="131.97" r="0.28" fill="#444" opacity="0.5"/>
<circle cx="289.84" cy="150.45" r="0.28" fill="#444" opacity="0.5"/>
<circle cx="287.87" cy="133.49" r="0.28" fill="#444" opacity="0.5"/>
<circle cx="281.91" cy="135.64" r="0.28" fill="#444" opacity="0.5"/>
<circle cx="286.29" cy="148.37" r="0.28" fill="#444" opacity="0.5"/>
<circle cx="288.75" cy="146.27" r="0.28" fill="#444" opacity="0.5"/>
<circle cx="288.21" cy="129.03" r="0.28" fill="#444" opacity="0.5"/>
<circle cx="280.26" cy="128.98" r="0.28" fill="#444" opacity="0.5"/>
<circle cx="285.24" cy="133.96" r="0.28" fill="#444" opacity="0.5"/>
<circle cx="284.01" cy="139.69" r="0.28" fill="#444" opacity="0.5"/>
<circle cx="283.45" cy="137.52" r="0.28" fill="#444" opacity="0.5"/>
<circle cx="289.36" cy="147.62" r="0.28" fill="#444" opacity="0.5"/>
<circle cx="284.32" cy="140.55" r="0.28" fill="#444" opacity="0.5"/>
<circle cx="287.29" cy="143.28" r="0.28" fill="#444" opacity="0.5"/>
<circle cx="288.65" cy="131.50" r="0.28" fill="#444" opacity="0.5"/>
<circle cx="289.22" cy="135.38" r="0.28" fill="#444" opacity="0.5"/>
<circle cx="287.82" cy="130.46" r="0.28" fill="#444" opacity="0.5"/>
<circle cx="289.26" cy="150.58" r="0.28" fill="#444" opacity="0.5"/>
<circle cx="283.33" cy="143.74" r="0.28" fill="#444" opacity="0.5"/>
<circle cx="284.20" cy="149.06" r="0.28" fill="#444" opacity="0.5"/>
<circle cx="284.89" cy="136.04" r="0.28" fill="#444" opacity="0.5"/>
<circle cx="282.29" cy="136.58" r="0.28" fill="#444" opacity="0.5"/>
<circle cx="287.42" cy="147.66" r="0.28" fill="#444" opacity="0.5"/>
<circle cx="283.26" cy="135.07" r="0.28" fill="#444" opacity="0.5"/>
<circle cx="281.71" cy="131.02" r="0.28" fill="#444" opacity="0.5"/>
<circle cx="285.09" cy="143.02" r="0.28" fill="#444" opacity="0.5"/>
<circle cx="288.42" cy="138.15" r="0.28" fill="#444" opacity="0.5"/>
<circle cx="281.40" cy="149.69" r="0.28" fill="#444" opacity="0.5"/>
<circle cx="285.58" cy="137.16" r="0.28" fill="#444" opacity="0.5"/>
<circle cx="286.06" cy="140.12" r="0.28" fill="#444" opacity="0.5"/>
<circle cx="287.98" cy="146.88" r="0.28" fill="#444" opacity="0.5"/>
<circle cx="281.42" cy="133.47" r="0.28" fill="#444" opacity="0.5"/>
<circle cx="287.91" cy="140.36" r="0.28" fill="#444" opacity="0.5"/>
<circle cx="288.32" cy="133.99" r="0.28" fill="#444" opacity="0.5"/>
<circle cx="290.74" cy="147.71" r="0.28" fill="#444" opacity="0.5"/>
<circle cx="280.09" cy="144.48" r="0.28" fill="#444" opacity="0.5"/>
<circle cx="282.03" cy="138.89" r="0.28" fill="#444" opacity="0.5"/>
<circle cx="286.21" cy="143.96" r="0.28" fill="#444" opacity="0.5"/>
<circle cx="287.89" cy="126.67" r="0.28" fill="#444" opacity="0.5"/>
<circle cx="284.32" cy="131.30" r="0.28" fill="#444" opacity="0.5"/>
<circle cx="283.54" cy="139.46" r="0.28" fill="#444" opacity="0.5"/>
<circle cx="295.67" cy="149.06" r="0.28" fill="#444" opacity="0.5"/>
<circle cx="288.41" cy="141.92" r="0.28" fill="#444" opacity="0.5"/>
<circle cx="292.48" cy="155.19" r="0.28" fill="#444" opacity="0.5"/>
<circle cx="289.02" cy="132.12" r="0.28" fill="#444" opacity="0.5"/>
<circle cx="291.42" cy="144.05" r="0.28" fill="#444" opacity="0.5"/>
<circle cx="287.09" cy="146.21" r="0.28" fill="#444" opacity="0.5"/>
<circle cx="291.68" cy="157.40" r="0.28" fill="#444" opacity="0.5"/>
<circle cx="284.81" cy="136.54" r="0.28" fill="#444" opacity="0.5"/>
<circle cx="282.83" cy="137.16" r="0.28" fill="#444" opacity="0.5"/>
<circle cx="287.02" cy="143.83" r="0.28" fill="#444" opacity="0.5"/>
<circle cx="285.40" cy="133.96" r="0.28" fill="#444" opacity="0.5"/>
<circle cx="283.33" cy="141.60" r="0.28" fill="#444" opacity="0.5"/>
<circle cx="289.05" cy="148.88" r="0.28" fill="#444" opacity="0.5"/>
<circle cx="284.36" cy="145.07" r="0.28" fill="#444" opacity="0.5"/>
<circle cx="289.86" cy="138.26" r="0.28" fill="#444" opacity="0.5"/>
<circle cx="281.91" cy="144.20" r="0.28" fill="#444" opacity="0.5"/>
<circle cx="292.12" cy="149.80" r="0.28" fill="#444" opacity="0.5"/>
<circle cx="286.93" cy="141.77" r="0.28" fill="#444" opacity="0.5"/>
<circle cx="289.82" cy="133.19" r="0.28" fill="#444" opacity="0.5"/>
<circle cx="286.18" cy="138.02" r="0.28" fill="#444" opacity="0.5"/>
<circle cx="277.95" cy="130.98" r="0.28" fill="#444" opacity="0.5"/>
<circle cx="285.71" cy="140.97" r="0.28" fill="#444" opacity="0.5"/>
<circle cx="284.89" cy="137.53" r="0.28" fill="#444" opacity="0.5"/>
<circle cx="287.32" cy="129.81" r="0.28" fill="#444" opacity="0.5"/>
<circle cx="281.74" cy="141.56" r="0.28" fill="#444" opacity="0.5"/>
<circle cx="287.68" cy="149.55" r="0.28" fill="#444" opacity="0.5"/>
<circle cx="281.07" cy="146.10" r="0.28" fill="#444" opacity="0.5"/>
<circle cx="288.95" cy="145.38" r="0.28" fill="#444" opacity="0.5"/>
<circle cx="281.95" cy="143.83" r="0.28" fill="#444" opacity="0.5"/>
<circle cx="289.87" cy="141.92" r="0.28" fill="#444" opacity="0.5"/>
<circle cx="287.25" cy="145.90" r="0.28" fill="#444" opacity="0.5"/>
<circle cx="288.64" cy="148.56" r="0.28" fill="#444" opacity="0.5"/>
<circle cx="288.04" cy="132.09" r="0.28" fill="#444" opacity="0.5"/>
<circle cx="284.05" cy="126.29" r="0.28" fill="#444" opacity="0.5"/>
<circle cx="289.17" cy="149.64" r="0.28" fill="#444" opacity="0.5"/>
<circle cx="287.19" cy="156.87" r="0.28" fill="#444" opacity="0.5"/>
<circle cx="282.57" cy="150.05" r="0.28" fill="#444" opacity="0.5"/>
<circle cx="282.57" cy="122.97" r="0.28" fill="#444" opacity="0.5"/>
<circle cx="284.09" cy="134.98" r="0.28" fill="#444" opacity="0.5"/>
<circle cx="284.71" cy="139.18" r="0.28" fill="#444" opacity="0.5"/>
<circle cx="287.13" cy="146.69" r="0.28" fill="#444" opacity="0.5"/>
<circle cx="283.26" cy="129.28" r="0.28" fill="#444" opacity="0.5"/>
<circle cx="287.96" cy="152.78" r="0.28" fill="#444" opacity="0.5"/>
<circle cx="288.84" cy="147.16" r="0.28" fill="#444" opacity="0.5"/>
<circle cx="279.34" cy="140.01" r="0.28" fill="#444" opacity="0.5"/>
<circle cx="283.36" cy="146.85" r="0.28" fill="#444" opacity="0.5"/>
<circle cx="290.33" cy="141.38" r="0.28" fill="#444" opacity="0.5"/>
<circle cx="282.25" cy="134.46" r="0.28" fill="#444" opacity="0.5"/>
<circle cx="287.23" cy="146.13" r="0.28" fill="#444" opacity="0.5"/>
<circle cx="282.02" cy="139.87" r="0.28" fill="#444" opacity="0.5"/>
<circle cx="282.47" cy="132.97" r="0.28" fill="#444" opacity="0.5"/>
<circle cx="289.39" cy="142.92" r="0.28" fill="#444" opacity="0.5"/>
<circle cx="278.05" cy="125.65" r="0.28" fill="#444" opacity="0.5"/>
<circle cx="289.91" cy="130.07" r="0.28" fill="#444" opacity="0.5"/>
<circle cx="289.57" cy="144.24" r="0.28" fill="#444" opacity="0.5"/>
<circle cx="280.93" cy="131.62" r="0.28" fill="#444" opacity="0.5"/>
<circle cx="287.69" cy="153.28" r="0.28" fill="#444" opacity="0.5"/>
<circle cx="281.22" cy="135.05" r="0.28" fill="#444" opacity="0.5"/>
<circle cx="286.92" cy="148.61" r="0.28" fill="#444" opacity="0.5"/>
<circle cx="287.10" cy="130.86" r="0.28" fill="#444" opacity="0.5"/>
<circle cx="284.67" cy="130.88" r="0.28" fill="#444" opacity="0.5"/>
<circle cx="284.59" cy="135.78" r="0.28" fill="#444" opacity="0.5"/>
<circle cx="284.95" cy="142.96" r="0.28" fill="#444" opacity="0.5"/>
<circle cx="284.69" cy="147.40" r="0.28" fill="#444" opacity="0.5"/>
<circle cx="289.62" cy="133.92" r="0.28" fill="#444" opacity="0.5"/>
<circle cx="280.45" cy="128.71" r="0.28" fill="#444" opacity="0.5"/>
<circle cx="277.72" cy="134.36" r="0.28" fill="#444" opacity="0.5"/>
<circle cx="285.67" cy="141.35" r="0.28" fill="#444" opacity="0.5"/>
<circle cx="291.73" cy="151.41" r="0.28" fill="#444" opacity="0.5"/>
<circle cx="289.13" cy="143.80" r="0.28" fill="#444" opacity="0.5"/>
<circle cx="283.42" cy="120.33" r="0.28" fill="#444" opacity="0.5"/>
<circle cx="284.17" cy="138.70" r="0.28" fill="#444" opacity="0.5"/>
<circle cx="281.87" cy="130.08" r="0.28" fill="#444" opacity="0.5"/>
<circle cx="285.88" cy="154.61" r="0.28" fill="#444" opacity="0.5"/>
<circle cx="283.96" cy="135.61" r="0.28" fill="#444" opacity="0.5"/>
<circle cx="282.72" cy="136.46" r="0.28" fill="#444" opacity="0.5"/>
<circle cx="281.37" cy="138.78" r="0.28" fill="#444" opacity="0.5"/>
<circle cx="282.23" cy="146.56" r="0.28" fill="#444" opacity="0.5"/>
<circle cx="281.80" cy="126.43" r="0.28" fill="#444" opacity="0.5"/>
<circle cx="286.91" cy="144.73" r="0.28" fill="#444" opacity="0.5"/>
<circle cx="281.34" cy="137.34" r="0.28" fill="#444" opacity="0.5"/>
<circle cx="285.39" cy="150.56" r="0.28" fill="#444" opacity="0.5"/>
<circle cx="282.07" cy="120.62" r="0.28" fill="#444" opacity="0.5"/>
<circle cx="285.97" cy="144.95" r="0.28" fill="#444" opacity="0.5"/>
<circle cx="288.13" cy="138.77" r="0.28" fill="#444" opacity="0.5"/>
<circle cx="293.77" cy="145.71" r="0.28" fill="#444" opacity="0.5"/>
<circle cx="284.62" cy="141.63" r="0.28" fill="#444" opacity="0.5"/>
<circle cx="286.50" cy="134.15" r="0.28" fill="#444" opacity="0.5"/>
<circle cx="284.15" cy="138.18" r="0.28" fill="#444" opacity="0.5"/>
<circle cx="289.41" cy="159.70" r="0.28" fill="#444" opacity="0.5"/>
<circle cx="289.22" cy="148.93" r="0.28" fill="#444" opacity="0.5"/>
<circle cx="281.59" cy="129.77" r="0.28" fill="#444" opacity="0.5"/>
<circle cx="286.56" cy="134.71" r="0.28" fill="#444" opacity="0.5"/>
<circle cx="283.50" cy="159.08" r="0.28" fill="#444" opacity="0.5"/>
<circle cx="284.12" cy="136.49" r="0.28" fill="#444" opacity="0.5"/>
<circle cx="278.84" cy="138.03" r="0.28" fill="#444" opacity="0.5"/>
<circle cx="286.34" cy="138.26" r="0.28" fill="#444" opacity="0.5"/>
<circle cx="287.04" cy="119.56" r="0.28" fill="#444" opacity="0.5"/>
<circle cx="290.42" cy="155.08" r="0.28" fill="#444" opacity="0.5"/>
<circle cx="277.66" cy="134.20" r="0.28" fill="#444" opacity="0.5"/>
<circle cx="288.01" cy="148.86" r="0.28" fill="#444" opacity="0.5"/>
<circle cx="285.92" cy="150.06" r="0.28" fill="#444" opacity="0.5"/>
<circle cx="287.03" cy="137.40" r="0.28" fill="#444" opacity="0.5"/>
<circle cx="290.62" cy="133.93" r="0.28" fill="#444" opacity="0.5"/>
<circle cx="283.68" cy="134.18" r="0.28" fill="#444" opacity="0.5"/>
<circle cx="291.08" cy="139.91" r="0.28" fill="#444" opacity="0.5"/>
<circle cx="280.21" cy="126.11" r="0.28" fill="#444" opacity="0.5"/>
<circle cx="286.23" cy="140.09" r="0.28" fill="#444" opacity="0.5"/>
<circle cx="286.50" cy="129.48" r="0.28" fill="#444" opacity="0.5"/>
<circle cx="286.56" cy="147.46" r="0.28" fill="#444" opacity="0.5"/>
<circle cx="292.07" cy="157.73" r="0.28" fill="#444" opacity="0.5"/>
<circle cx="280.64" cy="139.68" r="0.28" fill="#444" opacity="0.5"/>
<circle cx="281.69" cy="139.68" r="0.28" fill="#444" opacity="0.5"/>
<circle cx="288.06" cy="140.34" r="0.28" fill="#444" opacity="0.5"/>
<circle cx="275.13" cy="131.65" r="0.28" fill="#444" opacity="0.5"/>
<circle cx="285.76" cy="135.50" r="0.28" fill="#444" opacity="0.5"/>
<circle cx="288.16" cy="138.96" r="0.28" fill="#444" opacity="0.5"/>
<circle cx="284.49" cy="143.37" r="0.28" fill="#444" opacity="0.5"/>
<circle cx="282.78" cy="143.95" r="0.28" fill="#444" opacity="0.5"/>
<circle cx="283.75" cy="136.68" r="0.28" fill="#444" opacity="0.5"/>
<circle cx="287.60" cy="152.83" r="0.28" fill="#444" opacity="0.5"/>
<circle cx="284.47" cy="140.49" r="0.28" fill="#444" opacity="0.5"/>
<circle cx="287.61" cy="126.11" r="0.3" fill="#222" opacity="0.7"/>
<circle cx="287.48" cy="132.98" r="0.3" fill="#222" opacity="0.7"/>
<circle cx="287.71" cy="130.07" r="0.3" fill="#222" opacity="0.7"/>
<circle cx="288.70" cy="130.06" r="0.3" fill="#222" opacity="0.7"/>
<circle cx="287.99" cy="129.79" r="0.3" fill="#222" opacity="0.7"/>
<circle cx="287.75" cy="132.84" r="0.3" fill="#222" opacity="0.7"/>
<circle cx="288.46" cy="127.92" r="0.3" fill="#222" opacity="0.7"/>
<circle cx="289.53" cy="125.77" r="0.3" fill="#222" opacity="0.7"/>
<circle cx="289.21" cy="131.33" r="0.3" fill="#222" opacity="0.7"/>
<circle cx="286.83" cy="130.43" r="0.3" fill="#222" opacity="0.7"/>
<circle cx="287.35" cy="129.18" r="0.3" fill="#222" opacity="0.7"/>
<circle cx="287.79" cy="125.07" r="0.3" fill="#222" opacity="0.7"/>
<circle cx="289.45" cy="127.25" r="0.3" fill="#222" opacity="0.7"/>
<circle cx="289.15" cy="126.44" r="0.3" fill="#222" opacity="0.7"/>
<circle cx="287.57" cy="128.21" r="0.3" fill="#222" opacity="0.7"/>
<circle cx="286.31" cy="133.12" r="0.3" fill="#222" opacity="0.7"/>
<circle cx="289.52" cy="129.65" r="0.3" fill="#222" opacity="0.7"/>
<circle cx="288.80" cy="127.27" r="0.3" fill="#222" opacity="0.7"/>
<circle cx="288.54" cy="133.38" r="0.3" fill="#222" opacity="0.7"/>
<circle cx="289.97" cy="127.45" r="0.3" fill="#222" opacity="0.7"/>
<circle cx="286.73" cy="130.82" r="0.3" fill="#222" opacity="0.7"/>
<circle cx="284.95" cy="132.95" r="0.3" fill="#222" opacity="0.7"/>
<circle cx="287.34" cy="128.72" r="0.3" fill="#222" opacity="0.7"/>
<circle cx="289.43" cy="130.09" r="0.3" fill="#222" opacity="0.7"/>
<circle cx="287.77" cy="127.08" r="0.3" fill="#222" opacity="0.7"/>
<circle cx="285.98" cy="128.32" r="0.3" fill="#222" opacity="0.7"/>
<circle cx="288.83" cy="128.48" r="0.3" fill="#222" opacity="0.7"/>
<circle cx="287.35" cy="129.29" r="0.3" fill="#222" opacity="0.7"/>
<circle cx="287.79" cy="126.47" r="0.3" fill="#222" opacity="0.7"/>
<circle cx="287.64" cy="131.17" r="0.3" fill="#222" opacity="0.7"/>
<circle cx="290.16" cy="125.68" r="0.3" fill="#222" opacity="0.7"/>
<circle cx="288.29" cy="126.29" r="0.3" fill="#222" opacity="0.7"/>
<circle cx="288.85" cy="127.67" r="0.3" fill="#222" opacity="0.7"/>
<circle cx="288.04" cy="130.76" r="0.3" fill="#222" opacity="0.7"/>
<circle cx="289.04" cy="128.53" r="0.3" fill="#222" opacity="0.7"/>
<circle cx="288.68" cy="129.15" r="0.3" fill="#222" opacity="0.7"/>
<circle cx="285.77" cy="131.15" r="0.3" fill="#222" opacity="0.7"/>
<circle cx="287.50" cy="131.82" r="0.3" fill="#222" opacity="0.7"/>
<circle cx="288.07" cy="127.10" r="0.3" fill="#222" opacity="0.7"/>
<circle cx="287.33" cy="130.88" r="0.3" fill="#222" opacity="0.7"/>
<circle cx="287.17" cy="138.35" r="0.3" fill="#222" opacity="0.7"/>
<circle cx="288.86" cy="138.18" r="0.3" fill="#222" opacity="0.7"/>
<circle cx="286.88" cy="140.27" r="0.3" fill="#222" opacity="0.7"/>
<circle cx="287.98" cy="138.51" r="0.3" fill="#222" opacity="0.7"/>
<circle cx="287.62" cy="134.19" r="0.3" fill="#222" opacity="0.7"/>
<circle cx="288.53" cy="136.88" r="0.3" fill="#222" opacity="0.7"/>
<circle cx="288.09" cy="136.86" r="0.3" fill="#222" opacity="0.7"/>
<circle cx="287.13" cy="136.47" r="0.3" fill="#222" opacity="0.7"/>
<circle cx="288.25" cy="136.48" r="0.3" fill="#222" opacity="0.7"/>
<circle cx="289.23" cy="137.28" r="0.3" fill="#222" opacity="0.7"/>
<circle cx="287.59" cy="136.90" r="0.3" fill="#222" opacity="0.7"/>
<circle cx="285.90" cy="139.50" r="0.3" fill="#222" opacity="0.7"/>
<circle cx="286.68" cy="138.44" r="0.3" fill="#222" opacity="0.7"/>
<circle cx="284.92" cy="138.99" r="0.3" fill="#222" opacity="0.7"/>
<circle cx="287.53" cy="136.21" r="0.3" fill="#222" opacity="0.7"/>
<circle cx="285.48" cy="137.63" r="0.3" fill="#222" opacity="0.7"/>
<circle cx="287.27" cy="137.40" r="0.3" fill="#222" opacity="0.7"/>
<circle cx="285.23" cy="138.52" r="0.3" fill="#222" opacity="0.7"/>
<circle cx="287.42" cy="136.36" r="0.3" fill="#222" opacity="0.7"/>
<circle cx="287.40" cy="141.65" r="0.3" fill="#222" opacity="0.7"/>
<circle cx="284.25" cy="138.71" r="0.3" fill="#222" opacity="0.7"/>
<circle cx="286.56" cy="138.88" r="0.3" fill="#222" opacity="0.7"/>
<circle cx="288.95" cy="137.11" r="0.3" fill="#222" opacity="0.7"/>
<circle cx="285.95" cy="136.98" r="0.3" fill="#222" opacity="0.7"/>
<circle cx="282.07" cy="138.57" r="0.3" fill="#222" opacity="0.7"/>
<circle cx="289.09" cy="135.25" r="0.3" fill="#222" opacity="0.7"/>
<circle cx="287.79" cy="138.47" r="0.3" fill="#222" opacity="0.7"/>
<circle cx="286.30" cy="136.45" r="0.3" fill="#222" opacity="0.7"/>
<circle cx="290.33" cy="137.49" r="0.3" fill="#222" opacity="0.7"/>
<circle cx="287.48" cy="135.76" r="0.3" fill="#222" opacity="0.7"/>
<circle cx="287.34" cy="135.93" r="0.3" fill="#222" opacity="0.7"/>
<circle cx="284.64" cy="139.61" r="0.3" fill="#222" opacity="0.7"/>
<circle cx="286.93" cy="138.68" r="0.3" fill="#222" opacity="0.7"/>
<circle cx="287.17" cy="137.91" r="0.3" fill="#222" opacity="0.7"/>
<circle cx="287.14" cy="136.29" r="0.3" fill="#222" opacity="0.7"/>
<circle cx="286.68" cy="139.29" r="0.3" fill="#222" opacity="0.7"/>
<circle cx="289.63" cy="133.79" r="0.3" fill="#222" opacity="0.7"/>
<circle cx="288.83" cy="136.04" r="0.3" fill="#222" opacity="0.7"/>
<circle cx="288.52" cy="136.39" r="0.3" fill="#222" opacity="0.7"/>
<circle cx="286.72" cy="138.49" r="0.3" fill="#222" opacity="0.7"/>
<text x="266.50" y="137.00" font-size="2.8" text-anchor="start" font-weight="normal" fill="#222" textLength="4.20" lengthAdjust="spacingAndGlyphs" stroke="#222" stroke-width="0.1">10.1</text>
<line x1="260.20" y1="118.70" x2="260.20" y2="160.00" stroke="#555" stroke-width="0.8"/>
<line x1="260.20" y1="160.00" x2="298.70" y2="160.00" stroke="#777" stroke-width="0.8"/>
<line x1="258.70" y1="124.00" x2="260.20" y2="124.00" stroke="#444" stroke-width="0.5"/>
<text x="256.20" y="125.30" font-size="3.6" text-anchor="end" font-weight="normal" fill="#222" stroke="#222" stroke-width="0.1">10<tspan dy="-1.44" font-size="2.16">3</tspan><tspan dy="1.44"></tspan></text>
<line x1="258.70" y1="132.50" x2="260.20" y2="132.50" stroke="#444" stroke-width="0.5"/>
<text x="256.20" y="133.80" font-size="3.6" text-anchor="end" font-weight="normal" fill="#222" stroke="#222" stroke-width="0.1">10<tspan dy="-1.44" font-size="2.16">2</tspan><tspan dy="1.44"></tspan></text>
<line x1="258.70" y1="141.00" x2="260.20" y2="141.00" stroke="#444" stroke-width="0.5"/>
<text x="256.20" y="142.30" font-size="3.6" text-anchor="end" font-weight="normal" fill="#222" stroke="#222" stroke-width="0.1">10<tspan dy="-1.44" font-size="2.16">1</tspan><tspan dy="1.44"></tspan></text>
<line x1="258.70" y1="149.50" x2="260.20" y2="149.50" stroke="#444" stroke-width="0.5"/>
<text x="256.20" y="150.80" font-size="3.6" text-anchor="end" font-weight="normal" fill="#222" stroke="#222" stroke-width="0.1">10<tspan dy="-1.44" font-size="2.16">1</tspan><tspan dy="1.44"></tspan></text>
<line x1="258.70" y1="154.50" x2="260.20" y2="154.50" stroke="#444" stroke-width="0.5"/>
<text x="256.20" y="155.80" font-size="3.6" text-anchor="end" font-weight="normal" fill="#222" stroke="#222" stroke-width="0.1">0</text>
<line x1="258.70" y1="160.80" x2="260.20" y2="160.80" stroke="#444" stroke-width="0.5"/>
<text x="256.20" y="162.10" font-size="3.6" text-anchor="end" font-weight="normal" fill="#222" stroke="#222" stroke-width="0.1">-10<tspan dy="-1.44" font-size="2.16">1</tspan><tspan dy="1.44"></tspan></text>
<text x="261.20" y="168.40" font-size="3.7" text-anchor="start" font-weight="normal" fill="#222" textLength="39.80" lengthAdjust="spacingAndGlyphs" stroke="#222" stroke-width="0.1">-10<tspan dy="-1.48" font-size="2.22">2</tspan><tspan dy="1.48">0 10</tspan><tspan dy="-1.48" font-size="2.22">1</tspan><tspan dy="1.48"> 10</tspan><tspan dy="-1.48" font-size="2.22">1</tspan><tspan dy="1.48"> 10</tspan><tspan dy="-1.48" font-size="2.22">2</tspan><tspan dy="1.48"> 10</tspan><tspan dy="-1.48" font-size="2.22">3</tspan><tspan dy="1.48"></tspan></text>
<text transform="translate(246.80,139.50) rotate(-90)" font-size="3.6" text-anchor="middle" font-weight="normal" fill="#222" textLength="11.50" lengthAdjust="spacingAndGlyphs" stroke="#222" stroke-width="0.1">PIPE-A</text>
<text transform="translate(248.60,168.80) rotate(-90)" font-size="3.6" text-anchor="middle" font-weight="normal" fill="#222" textLength="6.60" lengthAdjust="spacingAndGlyphs" stroke="#222" stroke-width="0.1">-363</text>
<text x="256.50" y="173.10" font-size="3.6" text-anchor="start" font-weight="normal" fill="#222" textLength="6.00" lengthAdjust="spacingAndGlyphs" stroke="#222" stroke-width="0.1">-342</text>
<text x="263.50" y="176.90" font-size="3.8" text-anchor="start" font-weight="normal" fill="#1a1a1a" textLength="35.20" lengthAdjust="spacingAndGlyphs" stroke="#1a1a1a" stroke-width="0.1">ANNEXIN V APC-A</text>
<line x1="340.40" y1="29.80" x2="340.40" y2="107.90" stroke="#111" stroke-width="1.4"/>
<line x1="339.70" y1="107.20" x2="476.30" y2="107.20" stroke="#111" stroke-width="1.4"/>
<line x1="337.40" y1="32.00" x2="340.40" y2="32.00" stroke="#111" stroke-width="0.9"/>
<text x="335.00" y="34.10" font-size="6.0" text-anchor="end" font-weight="normal" fill="#222" stroke="#222" stroke-width="0.16">1.0</text>
<line x1="337.40" y1="69.60" x2="340.40" y2="69.60" stroke="#111" stroke-width="0.9"/>
<text x="335.00" y="71.70" font-size="6.0" text-anchor="end" font-weight="normal" fill="#222" stroke="#222" stroke-width="0.16">0.5</text>
<line x1="337.40" y1="107.20" x2="340.40" y2="107.20" stroke="#111" stroke-width="0.9"/>
<text x="335.00" y="109.30" font-size="6.0" text-anchor="end" font-weight="normal" fill="#222" stroke="#222" stroke-width="0.16">0</text>
<line x1="340.40" y1="107.20" x2="340.40" y2="110.40" stroke="#111" stroke-width="0.9"/>
<text x="340.40" y="118.00" font-size="5.8" text-anchor="middle" font-weight="normal" fill="#222" stroke="#222" stroke-width="0.16">D0</text>
<line x1="370.50" y1="107.20" x2="370.50" y2="110.40" stroke="#111" stroke-width="0.9"/>
<text x="370.50" y="118.00" font-size="5.8" text-anchor="middle" font-weight="normal" fill="#222" stroke="#222" stroke-width="0.16">D2</text>
<line x1="400.80" y1="107.20" x2="400.80" y2="110.40" stroke="#111" stroke-width="0.9"/>
<text x="400.80" y="118.00" font-size="5.8" text-anchor="middle" font-weight="normal" fill="#222" stroke="#222" stroke-width="0.16">D4</text>
<line x1="431.00" y1="107.20" x2="431.00" y2="110.40" stroke="#111" stroke-width="0.9"/>
<text x="431.00" y="118.00" font-size="5.8" text-anchor="middle" font-weight="normal" fill="#222" stroke="#222" stroke-width="0.16">D6</text>
<line x1="461.20" y1="107.20" x2="461.20" y2="110.40" stroke="#111" stroke-width="0.9"/>
<text x="461.20" y="118.00" font-size="5.8" text-anchor="middle" font-weight="normal" fill="#222" stroke="#222" stroke-width="0.16">D8</text>
<text transform="translate(320.70,68.10) rotate(-90)" font-size="7.8" text-anchor="middle" font-weight="normal" fill="#222" textLength="75.40" lengthAdjust="spacingAndGlyphs" stroke="#222" stroke-width="0.32">Relative cell number to control</text>
<polyline points="340.40,32.00 370.50,72.10 400.80,82.90 431.00,97.80 461.20,104.20" fill="none" stroke="#5b3b1c" stroke-width="1.1"/>
<circle cx="340.40" cy="32.00" r="1.15" fill="#5b3b1c"/>
<circle cx="370.50" cy="72.10" r="1.15" fill="#5b3b1c"/>
<circle cx="400.80" cy="82.90" r="1.15" fill="#5b3b1c"/>
<circle cx="431.00" cy="97.80" r="1.15" fill="#5b3b1c"/>
<circle cx="461.20" cy="104.20" r="1.15" fill="#5b3b1c"/>
<polyline points="340.40,32.00 370.50,48.00 400.80,76.20 431.00,96.10 461.20,101.30" fill="none" stroke="#b8732e" stroke-width="1.1"/>
<circle cx="340.40" cy="32.00" r="1.15" fill="#b8732e"/>
<circle cx="370.50" cy="48.00" r="1.15" fill="#b8732e"/>
<circle cx="400.80" cy="76.20" r="1.15" fill="#b8732e"/>
<circle cx="431.00" cy="96.10" r="1.15" fill="#b8732e"/>
<circle cx="461.20" cy="101.30" r="1.15" fill="#b8732e"/>
<polyline points="340.40,32.00 370.50,51.00 400.80,72.10 431.00,78.30 461.20,70.80" fill="none" stroke="#5b2d82" stroke-width="1.1"/>
<circle cx="340.40" cy="32.00" r="1.15" fill="#5b2d82"/>
<circle cx="370.50" cy="51.00" r="1.15" fill="#5b2d82"/>
<circle cx="400.80" cy="72.10" r="1.15" fill="#5b2d82"/>
<circle cx="431.00" cy="78.30" r="1.15" fill="#5b2d82"/>
<circle cx="461.20" cy="70.80" r="1.15" fill="#5b2d82"/>
<polyline points="340.40,32.00 370.50,40.80 400.80,80.70 431.00,73.50 461.20,67.00" fill="none" stroke="#2d4b8c" stroke-width="1.1"/>
<circle cx="340.40" cy="32.00" r="1.15" fill="#2d4b8c"/>
<circle cx="370.50" cy="40.80" r="1.15" fill="#2d4b8c"/>
<circle cx="400.80" cy="80.70" r="1.15" fill="#2d4b8c"/>
<circle cx="431.00" cy="73.50" r="1.15" fill="#2d4b8c"/>
<circle cx="461.20" cy="67.00" r="1.15" fill="#2d4b8c"/>
<polyline points="340.40,32.00 370.50,34.80 400.80,35.30 431.00,67.20 461.20,61.80" fill="none" stroke="#5aa8e6" stroke-width="1.1"/>
<circle cx="340.40" cy="32.00" r="1.15" fill="#5aa8e6"/>
<circle cx="370.50" cy="34.80" r="1.15" fill="#5aa8e6"/>
<circle cx="400.80" cy="35.30" r="1.15" fill="#5aa8e6"/>
<circle cx="431.00" cy="67.20" r="1.15" fill="#5aa8e6"/>
<circle cx="461.20" cy="61.80" r="1.15" fill="#5aa8e6"/>
<polyline points="340.40,32.00 370.50,43.90 400.80,75.20 431.00,98.70 461.20,99.00" fill="none" stroke="#b3123f" stroke-width="1.1"/>
<circle cx="340.40" cy="32.00" r="1.15" fill="#b3123f"/>
<circle cx="370.50" cy="43.90" r="1.15" fill="#b3123f"/>
<circle cx="400.80" cy="75.20" r="1.15" fill="#b3123f"/>
<circle cx="431.00" cy="98.70" r="1.15" fill="#b3123f"/>
<circle cx="461.20" cy="99.00" r="1.15" fill="#b3123f"/>
<polyline points="340.40,32.00 370.50,48.10 400.80,66.60 431.00,91.00 461.20,103.00" fill="none" stroke="#d0168c" stroke-width="1.1"/>
<circle cx="340.40" cy="32.00" r="1.15" fill="#d0168c"/>
<circle cx="370.50" cy="48.10" r="1.15" fill="#d0168c"/>
<circle cx="400.80" cy="66.60" r="1.15" fill="#d0168c"/>
<circle cx="431.00" cy="91.00" r="1.15" fill="#d0168c"/>
<circle cx="461.20" cy="103.00" r="1.15" fill="#d0168c"/>
<line x1="370.50" y1="42.30" x2="370.50" y2="46.00" stroke="#b3123f" stroke-width="0.8"/>
<line x1="369.30" y1="42.30" x2="371.70" y2="42.30" stroke="#b3123f" stroke-width="0.8"/>
<line x1="369.30" y1="46.00" x2="371.70" y2="46.00" stroke="#b3123f" stroke-width="0.8"/>
<line x1="370.50" y1="32.60" x2="370.50" y2="37.20" stroke="#5aa8e6" stroke-width="0.8"/>
<line x1="369.20" y1="32.60" x2="371.80" y2="32.60" stroke="#5aa8e6" stroke-width="0.8"/>
<line x1="369.20" y1="37.20" x2="371.80" y2="37.20" stroke="#5aa8e6" stroke-width="0.8"/>
<line x1="479.40" y1="31.30" x2="487.40" y2="31.30" stroke="#5b3b1c" stroke-width="1.25"/>
<circle cx="483.4" cy="31.30" r="1.3" fill="#5b3b1c"/>
<text x="490.20" y="33.10" font-size="5.0" text-anchor="start" font-weight="normal" fill="#222" textLength="18.80" lengthAdjust="spacingAndGlyphs" stroke="#222" stroke-width="0.16">JURKAT</text>
<line x1="479.40" y1="40.40" x2="487.40" y2="40.40" stroke="#b8732e" stroke-width="1.25"/>
<circle cx="483.4" cy="40.40" r="1.3" fill="#b8732e"/>
<text x="490.20" y="42.20" font-size="5.0" text-anchor="start" font-weight="normal" fill="#222" textLength="12.50" lengthAdjust="spacingAndGlyphs" stroke="#222" stroke-width="0.16">RPMI</text>
<line x1="479.40" y1="49.00" x2="487.40" y2="49.00" stroke="#b3123f" stroke-width="1.25"/>
<circle cx="483.4" cy="49.00" r="1.3" fill="#b3123f"/>
<text x="490.20" y="50.80" font-size="5.0" text-anchor="start" font-weight="normal" fill="#222" textLength="13.50" lengthAdjust="spacingAndGlyphs" stroke="#222" stroke-width="0.16">PEER</text>
<line x1="479.40" y1="57.50" x2="487.40" y2="57.50" stroke="#d0168c" stroke-width="1.25"/>
<circle cx="483.4" cy="57.50" r="1.3" fill="#d0168c"/>
<text x="490.20" y="59.30" font-size="5.0" text-anchor="start" font-weight="normal" fill="#222" textLength="19.50" lengthAdjust="spacingAndGlyphs" stroke="#222" stroke-width="0.16">MOLT-4</text>
<line x1="479.40" y1="66.00" x2="487.40" y2="66.00" stroke="#5b2d82" stroke-width="1.25"/>
<circle cx="483.4" cy="66.00" r="1.3" fill="#5b2d82"/>
<text x="490.20" y="67.80" font-size="5.0" text-anchor="start" font-weight="normal" fill="#222" textLength="12.50" lengthAdjust="spacingAndGlyphs" stroke="#222" stroke-width="0.16">CEM</text>
<line x1="479.40" y1="74.70" x2="487.40" y2="74.70" stroke="#2d4b8c" stroke-width="1.25"/>
<circle cx="483.4" cy="74.70" r="1.3" fill="#2d4b8c"/>
<text x="490.20" y="76.50" font-size="5.0" text-anchor="start" font-weight="normal" fill="#222" textLength="23.20" lengthAdjust="spacingAndGlyphs" stroke="#222" stroke-width="0.16">RCH-ACV</text>
<line x1="479.40" y1="83.40" x2="487.40" y2="83.40" stroke="#5aa8e6" stroke-width="1.25"/>
<circle cx="483.4" cy="83.40" r="1.3" fill="#5aa8e6"/>
<text x="490.20" y="85.20" font-size="5.0" text-anchor="start" font-weight="normal" fill="#222" textLength="12.30" lengthAdjust="spacingAndGlyphs" stroke="#222" stroke-width="0.16">REH</text>
<line x1="467.80" y1="57.60" x2="467.80" y2="95.30" stroke="#444" stroke-width="1.0"/>
<text x="470.80" y="77.90" font-size="4.6" text-anchor="start" font-weight="normal" fill="#222" stroke="#222" stroke-width="0.16">**</text>
<line x1="35.60" y1="214.80" x2="35.60" y2="318.90" stroke="#111" stroke-width="1.3"/>
<line x1="34.90" y1="318.20" x2="282.50" y2="318.20" stroke="#111" stroke-width="1.4"/>
<line x1="32.40" y1="318.10" x2="35.60" y2="318.10" stroke="#111" stroke-width="0.9"/>
<text x="30.20" y="320.20" font-size="6.0" text-anchor="end" font-weight="normal" fill="#222" stroke="#222" stroke-width="0.16">0</text>
<line x1="32.40" y1="297.94" x2="35.60" y2="297.94" stroke="#111" stroke-width="0.9"/>
<text x="30.20" y="300.04" font-size="6.0" text-anchor="end" font-weight="normal" fill="#222" stroke="#222" stroke-width="0.16">20</text>
<line x1="32.40" y1="277.78" x2="35.60" y2="277.78" stroke="#111" stroke-width="0.9"/>
<text x="30.20" y="279.88" font-size="6.0" text-anchor="end" font-weight="normal" fill="#222" stroke="#222" stroke-width="0.16">40</text>
<line x1="32.40" y1="257.62" x2="35.60" y2="257.62" stroke="#111" stroke-width="0.9"/>
<text x="30.20" y="259.72" font-size="6.0" text-anchor="end" font-weight="normal" fill="#222" stroke="#222" stroke-width="0.16">60</text>
<line x1="32.40" y1="237.46" x2="35.60" y2="237.46" stroke="#111" stroke-width="0.9"/>
<text x="30.20" y="239.56" font-size="6.0" text-anchor="end" font-weight="normal" fill="#222" stroke="#222" stroke-width="0.16">80</text>
<line x1="32.40" y1="217.30" x2="35.60" y2="217.30" stroke="#111" stroke-width="0.9"/>
<text x="30.20" y="219.40" font-size="6.0" text-anchor="end" font-weight="normal" fill="#222" stroke="#222" stroke-width="0.16">100</text>
<text transform="translate(14.40,266.30) rotate(-90)" font-size="7.8" text-anchor="middle" font-weight="normal" fill="#222" textLength="71.40" lengthAdjust="spacingAndGlyphs" stroke="#222" stroke-width="0.32">Relative % Ann-/PI to control</text>
<line x1="40.50" y1="309.50" x2="40.50" y2="312.00" stroke="#333" stroke-width="0.9"/>
<path d="M38.50,309.00 L42.50,309.00 L41.10,310.50 L39.90,310.50Z" fill="#222"/>
<rect x="37.90" y="312.00" width="5.20" height="6.20" fill="#5b3b1c" stroke="#442c15" stroke-width="0.5"/>
<line x1="40.50" y1="318.20" x2="40.50" y2="321.80" stroke="#111" stroke-width="0.8"/>
<text x="40.50" y="329.20" font-size="5.8" text-anchor="middle" font-weight="normal" fill="#222" stroke="#222" stroke-width="0.16">2</text>
<line x1="48.25" y1="297.50" x2="48.25" y2="300.10" stroke="#333" stroke-width="0.9"/>
<path d="M46.25,297.00 L50.25,297.00 L48.85,298.50 L47.65,298.50Z" fill="#222"/>
<rect x="45.65" y="300.10" width="5.20" height="18.10" fill="#5b3b1c" stroke="#442c15" stroke-width="0.5"/>
<line x1="48.25" y1="318.20" x2="48.25" y2="321.80" stroke="#111" stroke-width="0.8"/>
<text x="48.25" y="329.20" font-size="5.8" text-anchor="middle" font-weight="normal" fill="#222" stroke="#222" stroke-width="0.16">4</text>
<circle cx="46.45" cy="294.70" r="0.7" fill="#111"/>
<circle cx="48.25" cy="294.70" r="0.7" fill="#111"/>
<circle cx="50.05" cy="294.70" r="0.7" fill="#111"/>
<line x1="56.00" y1="245.60" x2="56.00" y2="249.20" stroke="#333" stroke-width="0.9"/>
<path d="M54.00,245.10 L58.00,245.10 L56.60,246.60 L55.40,246.60Z" fill="#222"/>
<rect x="53.40" y="249.20" width="5.20" height="69.00" fill="#5b3b1c" stroke="#442c15" stroke-width="0.5"/>
<line x1="56.00" y1="318.20" x2="56.00" y2="321.80" stroke="#111" stroke-width="0.8"/>
<text x="56.00" y="329.20" font-size="5.8" text-anchor="middle" font-weight="normal" fill="#222" stroke="#222" stroke-width="0.16">6</text>
<circle cx="54.20" cy="242.80" r="0.7" fill="#111"/>
<circle cx="56.00" cy="242.80" r="0.7" fill="#111"/>
<circle cx="57.80" cy="242.80" r="0.7" fill="#111"/>
<line x1="63.75" y1="228.60" x2="63.75" y2="232.60" stroke="#333" stroke-width="0.9"/>
<path d="M61.75,228.10 L65.75,228.10 L64.35,229.60 L63.15,229.60Z" fill="#222"/>
<rect x="61.15" y="232.60" width="5.20" height="85.60" fill="#5b3b1c" stroke="#442c15" stroke-width="0.5"/>
<line x1="63.75" y1="318.20" x2="63.75" y2="321.80" stroke="#111" stroke-width="0.8"/>
<text x="63.75" y="329.20" font-size="5.8" text-anchor="middle" font-weight="normal" fill="#222" stroke="#222" stroke-width="0.16">8</text>
<circle cx="61.95" cy="225.80" r="0.7" fill="#111"/>
<circle cx="63.75" cy="225.80" r="0.7" fill="#111"/>
<circle cx="65.55" cy="225.80" r="0.7" fill="#111"/>
<line x1="76.12" y1="308.70" x2="76.12" y2="310.90" stroke="#333" stroke-width="0.9"/>
<path d="M74.12,308.20 L78.12,308.20 L76.72,309.70 L75.52,309.70Z" fill="#222"/>
<rect x="73.52" y="310.90" width="5.20" height="7.30" fill="#b06c28" stroke="#84511e" stroke-width="0.5"/>
<line x1="76.12" y1="318.20" x2="76.12" y2="321.80" stroke="#111" stroke-width="0.8"/>
<text x="76.12" y="329.20" font-size="5.8" text-anchor="middle" font-weight="normal" fill="#222" stroke="#222" stroke-width="0.16">2</text>
<line x1="83.87" y1="297.80" x2="83.87" y2="301.10" stroke="#333" stroke-width="0.9"/>
<path d="M81.87,297.30 L85.87,297.30 L84.47,298.80 L83.27,298.80Z" fill="#222"/>
<rect x="81.27" y="301.10" width="5.20" height="17.10" fill="#b06c28" stroke="#84511e" stroke-width="0.5"/>
<line x1="83.87" y1="318.20" x2="83.87" y2="321.80" stroke="#111" stroke-width="0.8"/>
<text x="83.87" y="329.20" font-size="5.8" text-anchor="middle" font-weight="normal" fill="#222" stroke="#222" stroke-width="0.16">4</text>
<circle cx="82.07" cy="295.00" r="0.7" fill="#111"/>
<circle cx="83.87" cy="295.00" r="0.7" fill="#111"/>
<circle cx="85.67" cy="295.00" r="0.7" fill="#111"/>
<line x1="91.62" y1="277.80" x2="91.62" y2="281.50" stroke="#333" stroke-width="0.9"/>
<path d="M89.62,277.30 L93.62,277.30 L92.22,278.80 L91.02,278.80Z" fill="#222"/>
<rect x="89.02" y="281.50" width="5.20" height="36.70" fill="#b06c28" stroke="#84511e" stroke-width="0.5"/>
<line x1="91.62" y1="318.20" x2="91.62" y2="321.80" stroke="#111" stroke-width="0.8"/>
<text x="91.62" y="329.20" font-size="5.8" text-anchor="middle" font-weight="normal" fill="#222" stroke="#222" stroke-width="0.16">6</text>
<circle cx="89.82" cy="275.00" r="0.7" fill="#111"/>
<circle cx="91.62" cy="275.00" r="0.7" fill="#111"/>
<circle cx="93.42" cy="275.00" r="0.7" fill="#111"/>
<line x1="99.37" y1="257.60" x2="99.37" y2="263.10" stroke="#333" stroke-width="0.9"/>
<path d="M97.37,257.10 L101.37,257.10 L99.97,258.60 L98.77,258.60Z" fill="#222"/>
<rect x="96.77" y="263.10" width="5.20" height="55.10" fill="#b06c28" stroke="#84511e" stroke-width="0.5"/>
<line x1="99.37" y1="318.20" x2="99.37" y2="321.80" stroke="#111" stroke-width="0.8"/>
<text x="99.37" y="329.20" font-size="5.8" text-anchor="middle" font-weight="normal" fill="#222" stroke="#222" stroke-width="0.16">8</text>
<circle cx="97.57" cy="254.80" r="0.7" fill="#111"/>
<circle cx="99.37" cy="254.80" r="0.7" fill="#111"/>
<circle cx="101.17" cy="254.80" r="0.7" fill="#111"/>
<line x1="111.74" y1="314.40" x2="111.74" y2="315.90" stroke="#333" stroke-width="0.9"/>
<path d="M109.74,313.90 L113.74,313.90 L112.34,315.40 L111.14,315.40Z" fill="#222"/>
<rect x="109.14" y="315.90" width="5.20" height="2.30" fill="#a6002d" stroke="#7c0021" stroke-width="0.5"/>
<line x1="111.74" y1="318.20" x2="111.74" y2="321.80" stroke="#111" stroke-width="0.8"/>
<text x="111.74" y="329.20" font-size="5.8" text-anchor="middle" font-weight="normal" fill="#222" stroke="#222" stroke-width="0.16">2</text>
<line x1="119.49" y1="297.50" x2="119.49" y2="299.30" stroke="#333" stroke-width="0.9"/>
<path d="M117.49,297.00 L121.49,297.00 L120.09,298.50 L118.89,298.50Z" fill="#222"/>
<rect x="116.89" y="299.30" width="5.20" height="18.90" fill="#a6002d" stroke="#7c0021" stroke-width="0.5"/>
<line x1="119.49" y1="318.20" x2="119.49" y2="321.80" stroke="#111" stroke-width="0.8"/>
<text x="119.49" y="329.20" font-size="5.8" text-anchor="middle" font-weight="normal" fill="#222" stroke="#222" stroke-width="0.16">4</text>
<circle cx="117.69" cy="294.70" r="0.7" fill="#111"/>
<circle cx="119.49" cy="294.70" r="0.7" fill="#111"/>
<circle cx="121.29" cy="294.70" r="0.7" fill="#111"/>
<line x1="127.24" y1="280.60" x2="127.24" y2="283.00" stroke="#333" stroke-width="0.9"/>
<path d="M125.24,280.10 L129.24,280.10 L127.84,281.60 L126.64,281.60Z" fill="#222"/>
<rect x="124.64" y="283.00" width="5.20" height="35.20" fill="#a6002d" stroke="#7c0021" stroke-width="0.5"/>
<line x1="127.24" y1="318.20" x2="127.24" y2="321.80" stroke="#111" stroke-width="0.8"/>
<text x="127.24" y="329.20" font-size="5.8" text-anchor="middle" font-weight="normal" fill="#222" stroke="#222" stroke-width="0.16">6</text>
<circle cx="125.44" cy="277.80" r="0.7" fill="#111"/>
<circle cx="127.24" cy="277.80" r="0.7" fill="#111"/>
<circle cx="129.04" cy="277.80" r="0.7" fill="#111"/>
<line x1="134.99" y1="273.50" x2="134.99" y2="276.00" stroke="#333" stroke-width="0.9"/>
<path d="M132.99,273.00 L136.99,273.00 L135.59,274.50 L134.39,274.50Z" fill="#222"/>
<rect x="132.39" y="276.00" width="5.20" height="42.20" fill="#a6002d" stroke="#7c0021" stroke-width="0.5"/>
<line x1="134.99" y1="318.20" x2="134.99" y2="321.80" stroke="#111" stroke-width="0.8"/>
<text x="134.99" y="329.20" font-size="5.8" text-anchor="middle" font-weight="normal" fill="#222" stroke="#222" stroke-width="0.16">8</text>
<circle cx="133.19" cy="270.70" r="0.7" fill="#111"/>
<circle cx="134.99" cy="270.70" r="0.7" fill="#111"/>
<circle cx="136.79" cy="270.70" r="0.7" fill="#111"/>
<line x1="147.36" y1="298.80" x2="147.36" y2="302.60" stroke="#333" stroke-width="0.9"/>
<path d="M145.36,298.30 L149.36,298.30 L147.96,299.80 L146.76,299.80Z" fill="#222"/>
<rect x="144.76" y="302.60" width="5.20" height="15.60" fill="#cc0a88" stroke="#990766" stroke-width="0.5"/>
<line x1="147.36" y1="318.20" x2="147.36" y2="321.80" stroke="#111" stroke-width="0.8"/>
<text x="147.36" y="329.20" font-size="5.8" text-anchor="middle" font-weight="normal" fill="#222" stroke="#222" stroke-width="0.16">2</text>
<line x1="155.11" y1="284.40" x2="155.11" y2="287.30" stroke="#333" stroke-width="0.9"/>
<path d="M153.11,283.90 L157.11,283.90 L155.71,285.40 L154.51,285.40Z" fill="#222"/>
<rect x="152.51" y="287.30" width="5.20" height="30.90" fill="#cc0a88" stroke="#990766" stroke-width="0.5"/>
<line x1="155.11" y1="318.20" x2="155.11" y2="321.80" stroke="#111" stroke-width="0.8"/>
<text x="155.11" y="329.20" font-size="5.8" text-anchor="middle" font-weight="normal" fill="#222" stroke="#222" stroke-width="0.16">4</text>
<circle cx="153.31" cy="281.60" r="0.7" fill="#111"/>
<circle cx="155.11" cy="281.60" r="0.7" fill="#111"/>
<circle cx="156.91" cy="281.60" r="0.7" fill="#111"/>
<line x1="162.86" y1="274.40" x2="162.86" y2="277.70" stroke="#333" stroke-width="0.9"/>
<path d="M160.86,273.90 L164.86,273.90 L163.46,275.40 L162.26,275.40Z" fill="#222"/>
<rect x="160.26" y="277.70" width="5.20" height="40.50" fill="#cc0a88" stroke="#990766" stroke-width="0.5"/>
<line x1="162.86" y1="318.20" x2="162.86" y2="321.80" stroke="#111" stroke-width="0.8"/>
<text x="162.86" y="329.20" font-size="5.8" text-anchor="middle" font-weight="normal" fill="#222" stroke="#222" stroke-width="0.16">6</text>
<circle cx="161.06" cy="271.60" r="0.7" fill="#111"/>
<circle cx="162.86" cy="271.60" r="0.7" fill="#111"/>
<circle cx="164.66" cy="271.60" r="0.7" fill="#111"/>
<line x1="170.61" y1="235.50" x2="170.61" y2="241.30" stroke="#333" stroke-width="0.9"/>
<path d="M168.61,235.00 L172.61,235.00 L171.21,236.50 L170.01,236.50Z" fill="#222"/>
<rect x="168.01" y="241.30" width="5.20" height="76.90" fill="#cc0a88" stroke="#990766" stroke-width="0.5"/>
<line x1="170.61" y1="318.20" x2="170.61" y2="321.80" stroke="#111" stroke-width="0.8"/>
<text x="170.61" y="329.20" font-size="5.8" text-anchor="middle" font-weight="normal" fill="#222" stroke="#222" stroke-width="0.16">8</text>
<circle cx="168.81" cy="232.70" r="0.7" fill="#111"/>
<circle cx="170.61" cy="232.70" r="0.7" fill="#111"/>
<circle cx="172.41" cy="232.70" r="0.7" fill="#111"/>
<line x1="182.98" y1="313.40" x2="182.98" y2="315.20" stroke="#333" stroke-width="0.9"/>
<path d="M180.98,312.90 L184.98,312.90 L183.58,314.40 L182.38,314.40Z" fill="#222"/>
<rect x="180.38" y="315.20" width="5.20" height="3.00" fill="#4f216f" stroke="#3b1853" stroke-width="0.5"/>
<line x1="182.98" y1="318.20" x2="182.98" y2="321.80" stroke="#111" stroke-width="0.8"/>
<text x="182.98" y="329.20" font-size="5.8" text-anchor="middle" font-weight="normal" fill="#222" stroke="#222" stroke-width="0.16">2</text>
<line x1="190.73" y1="314.60" x2="190.73" y2="316.20" stroke="#333" stroke-width="0.9"/>
<path d="M188.73,314.10 L192.73,314.10 L191.33,315.60 L190.13,315.60Z" fill="#222"/>
<rect x="188.13" y="316.20" width="5.20" height="2.00" fill="#4f216f" stroke="#3b1853" stroke-width="0.5"/>
<line x1="190.73" y1="318.20" x2="190.73" y2="321.80" stroke="#111" stroke-width="0.8"/>
<text x="190.73" y="329.20" font-size="5.8" text-anchor="middle" font-weight="normal" fill="#222" stroke="#222" stroke-width="0.16">4</text>
<line x1="198.48" y1="313.80" x2="198.48" y2="316.00" stroke="#333" stroke-width="0.9"/>
<path d="M196.48,313.30 L200.48,313.30 L199.08,314.80 L197.88,314.80Z" fill="#222"/>
<rect x="195.88" y="316.00" width="5.20" height="2.20" fill="#4f216f" stroke="#3b1853" stroke-width="0.5"/>
<line x1="198.48" y1="318.20" x2="198.48" y2="321.80" stroke="#111" stroke-width="0.8"/>
<text x="198.48" y="329.20" font-size="5.8" text-anchor="middle" font-weight="normal" fill="#222" stroke="#222" stroke-width="0.16">6</text>
<line x1="206.23" y1="314.80" x2="206.23" y2="316.80" stroke="#333" stroke-width="0.9"/>
<path d="M204.23,314.30 L208.23,314.30 L206.83,315.80 L205.63,315.80Z" fill="#222"/>
<rect x="203.63" y="316.80" width="5.20" height="1.40" fill="#4f216f" stroke="#3b1853" stroke-width="0.5"/>
<line x1="206.23" y1="318.20" x2="206.23" y2="321.80" stroke="#111" stroke-width="0.8"/>
<text x="206.23" y="329.20" font-size="5.8" text-anchor="middle" font-weight="normal" fill="#222" stroke="#222" stroke-width="0.16">8</text>
<line x1="218.60" y1="312.40" x2="218.60" y2="314.20" stroke="#333" stroke-width="0.9"/>
<path d="M216.60,311.90 L220.60,311.90 L219.20,313.40 L218.00,313.40Z" fill="#222"/>
<rect x="216.00" y="314.20" width="5.20" height="4.00" fill="#264a82" stroke="#1c3761" stroke-width="0.5"/>
<line x1="218.60" y1="318.20" x2="218.60" y2="321.80" stroke="#111" stroke-width="0.8"/>
<text x="218.60" y="329.20" font-size="5.8" text-anchor="middle" font-weight="normal" fill="#222" stroke="#222" stroke-width="0.16">2</text>
<line x1="226.35" y1="315.00" x2="226.35" y2="316.00" stroke="#333" stroke-width="0.9"/>
<path d="M224.35,314.50 L228.35,314.50 L226.95,316.00 L225.75,316.00Z" fill="#222"/>
<rect x="223.75" y="316.00" width="5.20" height="2.20" fill="#264a82" stroke="#1c3761" stroke-width="0.5"/>
<line x1="226.35" y1="318.20" x2="226.35" y2="321.80" stroke="#111" stroke-width="0.8"/>
<text x="226.35" y="329.20" font-size="5.8" text-anchor="middle" font-weight="normal" fill="#222" stroke="#222" stroke-width="0.16">4</text>
<line x1="234.10" y1="313.80" x2="234.10" y2="316.00" stroke="#333" stroke-width="0.9"/>
<path d="M232.10,313.30 L236.10,313.30 L234.70,314.80 L233.50,314.80Z" fill="#222"/>
<rect x="231.50" y="316.00" width="5.20" height="2.20" fill="#264a82" stroke="#1c3761" stroke-width="0.5"/>
<line x1="234.10" y1="318.20" x2="234.10" y2="321.80" stroke="#111" stroke-width="0.8"/>
<text x="234.10" y="329.20" font-size="5.8" text-anchor="middle" font-weight="normal" fill="#222" stroke="#222" stroke-width="0.16">6</text>
<line x1="241.85" y1="315.40" x2="241.85" y2="316.60" stroke="#333" stroke-width="0.9"/>
<path d="M239.85,314.90 L243.85,314.90 L242.45,316.40 L241.25,316.40Z" fill="#222"/>
<rect x="239.25" y="316.60" width="5.20" height="1.60" fill="#264a82" stroke="#1c3761" stroke-width="0.5"/>
<line x1="241.85" y1="318.20" x2="241.85" y2="321.80" stroke="#111" stroke-width="0.8"/>
<text x="241.85" y="329.20" font-size="5.8" text-anchor="middle" font-weight="normal" fill="#222" stroke="#222" stroke-width="0.16">8</text>
<line x1="254.22" y1="315.00" x2="254.22" y2="316.00" stroke="#333" stroke-width="0.9"/>
<path d="M252.22,314.50 L256.22,314.50 L254.82,316.00 L253.62,316.00Z" fill="#222"/>
<rect x="251.62" y="316.00" width="5.20" height="2.20" fill="#5ba5e0" stroke="#447ba8" stroke-width="0.5"/>
<line x1="254.22" y1="318.20" x2="254.22" y2="321.80" stroke="#111" stroke-width="0.8"/>
<text x="254.22" y="329.20" font-size="5.8" text-anchor="middle" font-weight="normal" fill="#222" stroke="#222" stroke-width="0.16">2</text>
<line x1="261.97" y1="315.00" x2="261.97" y2="316.00" stroke="#333" stroke-width="0.9"/>
<path d="M259.97,314.50 L263.97,314.50 L262.57,316.00 L261.37,316.00Z" fill="#222"/>
<rect x="259.37" y="316.00" width="5.20" height="2.20" fill="#5ba5e0" stroke="#447ba8" stroke-width="0.5"/>
<line x1="261.97" y1="318.20" x2="261.97" y2="321.80" stroke="#111" stroke-width="0.8"/>
<text x="261.97" y="329.20" font-size="5.8" text-anchor="middle" font-weight="normal" fill="#222" stroke="#222" stroke-width="0.16">4</text>
<line x1="269.72" y1="316.00" x2="269.72" y2="316.60" stroke="#333" stroke-width="0.9"/>
<path d="M267.72,315.50 L271.72,315.50 L270.32,317.00 L269.12,317.00Z" fill="#222"/>
<rect x="267.12" y="316.60" width="5.20" height="1.60" fill="#5ba5e0" stroke="#447ba8" stroke-width="0.5"/>
<line x1="269.72" y1="318.20" x2="269.72" y2="321.80" stroke="#111" stroke-width="0.8"/>
<text x="269.72" y="329.20" font-size="5.8" text-anchor="middle" font-weight="normal" fill="#222" stroke="#222" stroke-width="0.16">6</text>
<line x1="277.47" y1="313.90" x2="277.47" y2="315.00" stroke="#333" stroke-width="0.9"/>
<path d="M275.47,313.40 L279.47,313.40 L278.07,314.90 L276.87,314.90Z" fill="#222"/>
<rect x="274.87" y="315.00" width="5.20" height="3.20" fill="#5ba5e0" stroke="#447ba8" stroke-width="0.5"/>
<line x1="277.47" y1="318.20" x2="277.47" y2="321.80" stroke="#111" stroke-width="0.8"/>
<text x="277.47" y="329.20" font-size="5.8" text-anchor="middle" font-weight="normal" fill="#222" stroke="#222" stroke-width="0.16">8</text>
<text x="153.00" y="340.70" font-size="8.0" text-anchor="start" font-weight="normal" fill="#222" textLength="12.40" lengthAdjust="spacingAndGlyphs" stroke="#222" stroke-width="0.32">Days</text>
<line x1="182.10" y1="309.50" x2="207.00" y2="309.50" stroke="#222" stroke-width="0.8"/>
<text x="194.55" y="306.80" font-size="5.8" text-anchor="middle" font-weight="normal" fill="#333" textLength="5.20" lengthAdjust="spacingAndGlyphs" stroke="#333" stroke-width="0.16">ns</text>
<line x1="217.80" y1="309.50" x2="242.80" y2="309.50" stroke="#222" stroke-width="0.8"/>
<text x="230.30" y="306.80" font-size="5.8" text-anchor="middle" font-weight="normal" fill="#333" textLength="5.20" lengthAdjust="spacingAndGlyphs" stroke="#333" stroke-width="0.16">ns</text>
<line x1="254.00" y1="311.30" x2="278.50" y2="311.30" stroke="#222" stroke-width="0.8"/>
<text x="266.25" y="309.20" font-size="5.8" text-anchor="middle" font-weight="normal" fill="#333" textLength="5.20" lengthAdjust="spacingAndGlyphs" stroke="#333" stroke-width="0.16">ns</text>
<rect x="204.60" y="215.10" width="11.10" height="5.80" fill="#5b3b1c"/>
<text x="218.50" y="219.90" font-size="5.0" text-anchor="start" font-weight="normal" fill="#222" textLength="18.70" lengthAdjust="spacingAndGlyphs" stroke="#222" stroke-width="0.16">JURKAT</text>
<rect x="204.60" y="224.20" width="11.10" height="5.80" fill="#b06c28"/>
<text x="218.50" y="229.00" font-size="5.0" text-anchor="start" font-weight="normal" fill="#222" textLength="12.50" lengthAdjust="spacingAndGlyphs" stroke="#222" stroke-width="0.16">RPMI</text>
<rect x="204.60" y="233.40" width="11.10" height="5.80" fill="#a6002d"/>
<text x="218.50" y="238.20" font-size="5.0" text-anchor="start" font-weight="normal" fill="#222" textLength="13.50" lengthAdjust="spacingAndGlyphs" stroke="#222" stroke-width="0.16">PEER</text>
<rect x="204.60" y="242.30" width="11.10" height="5.80" fill="#cc0a88"/>
<text x="218.50" y="247.10" font-size="5.0" text-anchor="start" font-weight="normal" fill="#222" textLength="19.50" lengthAdjust="spacingAndGlyphs" stroke="#222" stroke-width="0.16">MOLT-4</text>
<rect x="245.80" y="215.10" width="11.10" height="5.80" fill="#4f216f"/>
<text x="259.70" y="219.90" font-size="5.0" text-anchor="start" font-weight="normal" fill="#222" textLength="12.50" lengthAdjust="spacingAndGlyphs" stroke="#222" stroke-width="0.16">CEM</text>
<rect x="245.80" y="224.20" width="11.10" height="5.80" fill="#264a82"/>
<text x="259.70" y="229.00" font-size="5.0" text-anchor="start" font-weight="normal" fill="#222" textLength="23.50" lengthAdjust="spacingAndGlyphs" stroke="#222" stroke-width="0.16">RCH-ACV</text>
<rect x="245.80" y="233.40" width="11.10" height="5.80" fill="#5ba5e0"/>
<text x="259.70" y="238.20" font-size="5.0" text-anchor="start" font-weight="normal" fill="#222" textLength="12.30" lengthAdjust="spacingAndGlyphs" stroke="#222" stroke-width="0.16">REH</text>
<line x1="340.40" y1="241.50" x2="340.40" y2="318.90" stroke="#111" stroke-width="1.3"/>
<line x1="339.70" y1="318.20" x2="497.00" y2="318.20" stroke="#111" stroke-width="1.4"/>
<line x1="337.00" y1="318.20" x2="340.40" y2="318.20" stroke="#111" stroke-width="0.9"/>
<text x="334.40" y="320.30" font-size="6.0" text-anchor="end" font-weight="normal" fill="#222" stroke="#222" stroke-width="0.16">0</text>
<line x1="337.00" y1="281.20" x2="340.40" y2="281.20" stroke="#111" stroke-width="0.9"/>
<text x="334.40" y="283.30" font-size="6.0" text-anchor="end" font-weight="normal" fill="#222" stroke="#222" stroke-width="0.16">50</text>
<line x1="337.00" y1="244.20" x2="340.40" y2="244.20" stroke="#111" stroke-width="0.9"/>
<text x="334.40" y="246.30" font-size="6.0" text-anchor="end" font-weight="normal" fill="#222" stroke="#222" stroke-width="0.16">100</text>
<text transform="translate(318.80,280.00) rotate(-90)" font-size="7.8" text-anchor="middle" font-weight="normal" fill="#222" textLength="19.00" lengthAdjust="spacingAndGlyphs" stroke="#222" stroke-width="0.32">% cells</text>
<rect x="341.80" y="243.50" width="8.40" height="6.30" fill="#6ab04c"/>
<rect x="341.80" y="249.80" width="8.40" height="41.30" fill="#a6002d"/>
<rect x="341.80" y="291.10" width="8.40" height="27.10" fill="#2b4c82"/>
<line x1="344.40" y1="248.90" x2="347.60" y2="248.90" stroke="#111" stroke-width="0.7"/>
<line x1="344.40" y1="250.70" x2="347.60" y2="250.70" stroke="#111" stroke-width="0.7"/>
<line x1="346.00" y1="248.90" x2="346.00" y2="250.70" stroke="#111" stroke-width="0.7"/>
<line x1="344.40" y1="290.10" x2="347.60" y2="290.10" stroke="#111" stroke-width="0.7"/>
<line x1="344.40" y1="292.10" x2="347.60" y2="292.10" stroke="#111" stroke-width="0.7"/>
<line x1="346.00" y1="290.10" x2="346.00" y2="292.10" stroke="#111" stroke-width="0.7"/>
<line x1="344.40" y1="243.60" x2="347.60" y2="243.60" stroke="#111" stroke-width="0.7"/>
<line x1="344.40" y1="244.80" x2="347.60" y2="244.80" stroke="#111" stroke-width="0.7"/>
<line x1="346.00" y1="243.60" x2="346.00" y2="244.80" stroke="#111" stroke-width="0.7"/>
<line x1="346.00" y1="318.20" x2="346.00" y2="321.60" stroke="#111" stroke-width="0.8"/>
<text x="346.00" y="330.00" font-size="6.5" text-anchor="middle" font-weight="normal" fill="#222" stroke="#222" stroke-width="0.130">-</text>
<rect x="352.99" y="243.50" width="8.40" height="9.20" fill="#6ab04c"/>
<rect x="352.99" y="252.70" width="8.40" height="22.10" fill="#a6002d"/>
<rect x="352.99" y="274.80" width="8.40" height="43.40" fill="#2b4c82"/>
<line x1="355.59" y1="251.80" x2="358.79" y2="251.80" stroke="#111" stroke-width="0.7"/>
<line x1="355.59" y1="253.60" x2="358.79" y2="253.60" stroke="#111" stroke-width="0.7"/>
<line x1="357.19" y1="251.80" x2="357.19" y2="253.60" stroke="#111" stroke-width="0.7"/>
<line x1="355.59" y1="273.80" x2="358.79" y2="273.80" stroke="#111" stroke-width="0.7"/>
<line x1="355.59" y1="275.80" x2="358.79" y2="275.80" stroke="#111" stroke-width="0.7"/>
<line x1="357.19" y1="273.80" x2="357.19" y2="275.80" stroke="#111" stroke-width="0.7"/>
<line x1="355.59" y1="243.60" x2="358.79" y2="243.60" stroke="#111" stroke-width="0.7"/>
<line x1="355.59" y1="244.80" x2="358.79" y2="244.80" stroke="#111" stroke-width="0.7"/>
<line x1="357.19" y1="243.60" x2="357.19" y2="244.80" stroke="#111" stroke-width="0.7"/>
<line x1="357.19" y1="318.20" x2="357.19" y2="321.60" stroke="#111" stroke-width="0.8"/>
<text x="357.19" y="330.00" font-size="6.5" text-anchor="middle" font-weight="normal" fill="#222" stroke="#222" stroke-width="0.130">+</text>
<circle cx="357.19" cy="260.8" r="0.75" fill="#111"/>
<rect x="364.18" y="243.50" width="8.40" height="5.70" fill="#6ab04c"/>
<rect x="364.18" y="249.20" width="8.40" height="40.10" fill="#a6002d"/>
<rect x="364.18" y="289.30" width="8.40" height="28.90" fill="#2b4c82"/>
<line x1="366.78" y1="248.30" x2="369.98" y2="248.30" stroke="#111" stroke-width="0.7"/>
<line x1="366.78" y1="250.10" x2="369.98" y2="250.10" stroke="#111" stroke-width="0.7"/>
<line x1="368.38" y1="248.30" x2="368.38" y2="250.10" stroke="#111" stroke-width="0.7"/>
<line x1="366.78" y1="288.30" x2="369.98" y2="288.30" stroke="#111" stroke-width="0.7"/>
<line x1="366.78" y1="290.30" x2="369.98" y2="290.30" stroke="#111" stroke-width="0.7"/>
<line x1="368.38" y1="288.30" x2="368.38" y2="290.30" stroke="#111" stroke-width="0.7"/>
<line x1="366.78" y1="243.60" x2="369.98" y2="243.60" stroke="#111" stroke-width="0.7"/>
<line x1="366.78" y1="244.80" x2="369.98" y2="244.80" stroke="#111" stroke-width="0.7"/>
<line x1="368.38" y1="243.60" x2="368.38" y2="244.80" stroke="#111" stroke-width="0.7"/>
<line x1="368.38" y1="318.20" x2="368.38" y2="321.60" stroke="#111" stroke-width="0.8"/>
<text x="368.38" y="330.00" font-size="6.5" text-anchor="middle" font-weight="normal" fill="#222" stroke="#222" stroke-width="0.130">-</text>
<rect x="375.37" y="243.50" width="8.40" height="6.50" fill="#6ab04c"/>
<rect x="375.37" y="250.00" width="8.40" height="24.50" fill="#a6002d"/>
<rect x="375.37" y="274.50" width="8.40" height="43.70" fill="#2b4c82"/>
<line x1="377.97" y1="249.10" x2="381.17" y2="249.10" stroke="#111" stroke-width="0.7"/>
<line x1="377.97" y1="250.90" x2="381.17" y2="250.90" stroke="#111" stroke-width="0.7"/>
<line x1="379.57" y1="249.10" x2="379.57" y2="250.90" stroke="#111" stroke-width="0.7"/>
<line x1="377.97" y1="273.50" x2="381.17" y2="273.50" stroke="#111" stroke-width="0.7"/>
<line x1="377.97" y1="275.50" x2="381.17" y2="275.50" stroke="#111" stroke-width="0.7"/>
<line x1="379.57" y1="273.50" x2="379.57" y2="275.50" stroke="#111" stroke-width="0.7"/>
<line x1="377.97" y1="243.60" x2="381.17" y2="243.60" stroke="#111" stroke-width="0.7"/>
<line x1="377.97" y1="244.80" x2="381.17" y2="244.80" stroke="#111" stroke-width="0.7"/>
<line x1="379.57" y1="243.60" x2="379.57" y2="244.80" stroke="#111" stroke-width="0.7"/>
<line x1="379.57" y1="318.20" x2="379.57" y2="321.60" stroke="#111" stroke-width="0.8"/>
<text x="379.57" y="330.00" font-size="6.5" text-anchor="middle" font-weight="normal" fill="#222" stroke="#222" stroke-width="0.130">+</text>
<circle cx="379.57" cy="260.8" r="0.75" fill="#111"/>
<rect x="386.56" y="243.50" width="8.40" height="6.30" fill="#6ab04c"/>
<rect x="386.56" y="249.80" width="8.40" height="39.70" fill="#a6002d"/>
<rect x="386.56" y="289.50" width="8.40" height="28.70" fill="#2b4c82"/>
<line x1="389.16" y1="248.90" x2="392.36" y2="248.90" stroke="#111" stroke-width="0.7"/>
<line x1="389.16" y1="250.70" x2="392.36" y2="250.70" stroke="#111" stroke-width="0.7"/>
<line x1="390.76" y1="248.90" x2="390.76" y2="250.70" stroke="#111" stroke-width="0.7"/>
<line x1="389.16" y1="288.50" x2="392.36" y2="288.50" stroke="#111" stroke-width="0.7"/>
<line x1="389.16" y1="290.50" x2="392.36" y2="290.50" stroke="#111" stroke-width="0.7"/>
<line x1="390.76" y1="288.50" x2="390.76" y2="290.50" stroke="#111" stroke-width="0.7"/>
<line x1="389.16" y1="243.60" x2="392.36" y2="243.60" stroke="#111" stroke-width="0.7"/>
<line x1="389.16" y1="244.80" x2="392.36" y2="244.80" stroke="#111" stroke-width="0.7"/>
<line x1="390.76" y1="243.60" x2="390.76" y2="244.80" stroke="#111" stroke-width="0.7"/>
<line x1="390.76" y1="318.20" x2="390.76" y2="321.60" stroke="#111" stroke-width="0.8"/>
<text x="390.76" y="330.00" font-size="6.5" text-anchor="middle" font-weight="normal" fill="#222" stroke="#222" stroke-width="0.130">-</text>
<rect x="397.75" y="243.50" width="8.40" height="7.10" fill="#6ab04c"/>
<rect x="397.75" y="250.60" width="8.40" height="24.70" fill="#a6002d"/>
<rect x="397.75" y="275.30" width="8.40" height="42.90" fill="#2b4c82"/>
<line x1="400.35" y1="249.70" x2="403.55" y2="249.70" stroke="#111" stroke-width="0.7"/>
<line x1="400.35" y1="251.50" x2="403.55" y2="251.50" stroke="#111" stroke-width="0.7"/>
<line x1="401.95" y1="249.70" x2="401.95" y2="251.50" stroke="#111" stroke-width="0.7"/>
<line x1="400.35" y1="274.30" x2="403.55" y2="274.30" stroke="#111" stroke-width="0.7"/>
<line x1="400.35" y1="276.30" x2="403.55" y2="276.30" stroke="#111" stroke-width="0.7"/>
<line x1="401.95" y1="274.30" x2="401.95" y2="276.30" stroke="#111" stroke-width="0.7"/>
<line x1="400.35" y1="243.60" x2="403.55" y2="243.60" stroke="#111" stroke-width="0.7"/>
<line x1="400.35" y1="244.80" x2="403.55" y2="244.80" stroke="#111" stroke-width="0.7"/>
<line x1="401.95" y1="243.60" x2="401.95" y2="244.80" stroke="#111" stroke-width="0.7"/>
<line x1="401.95" y1="318.20" x2="401.95" y2="321.60" stroke="#111" stroke-width="0.8"/>
<text x="401.95" y="330.00" font-size="6.5" text-anchor="middle" font-weight="normal" fill="#222" stroke="#222" stroke-width="0.130">+</text>
<circle cx="401.95" cy="260.8" r="0.75" fill="#111"/>
<rect x="408.94" y="243.50" width="8.40" height="6.00" fill="#6ab04c"/>
<rect x="408.94" y="249.50" width="8.40" height="40.30" fill="#a6002d"/>
<rect x="408.94" y="289.80" width="8.40" height="28.40" fill="#2b4c82"/>
<line x1="411.54" y1="248.60" x2="414.74" y2="248.60" stroke="#111" stroke-width="0.7"/>
<line x1="411.54" y1="250.40" x2="414.74" y2="250.40" stroke="#111" stroke-width="0.7"/>
<line x1="413.14" y1="248.60" x2="413.14" y2="250.40" stroke="#111" stroke-width="0.7"/>
<line x1="411.54" y1="288.80" x2="414.74" y2="288.80" stroke="#111" stroke-width="0.7"/>
<line x1="411.54" y1="290.80" x2="414.74" y2="290.80" stroke="#111" stroke-width="0.7"/>
<line x1="413.14" y1="288.80" x2="413.14" y2="290.80" stroke="#111" stroke-width="0.7"/>
<line x1="411.54" y1="243.60" x2="414.74" y2="243.60" stroke="#111" stroke-width="0.7"/>
<line x1="411.54" y1="244.80" x2="414.74" y2="244.80" stroke="#111" stroke-width="0.7"/>
<line x1="413.14" y1="243.60" x2="413.14" y2="244.80" stroke="#111" stroke-width="0.7"/>
<line x1="413.14" y1="318.20" x2="413.14" y2="321.60" stroke="#111" stroke-width="0.8"/>
<text x="413.14" y="330.00" font-size="6.5" text-anchor="middle" font-weight="normal" fill="#222" stroke="#222" stroke-width="0.130">-</text>
<rect x="420.13" y="243.50" width="8.40" height="7.30" fill="#6ab04c"/>
<rect x="420.13" y="250.80" width="8.40" height="27.40" fill="#a6002d"/>
<rect x="420.13" y="278.20" width="8.40" height="40.00" fill="#2b4c82"/>
<line x1="422.73" y1="249.90" x2="425.93" y2="249.90" stroke="#111" stroke-width="0.7"/>
<line x1="422.73" y1="251.70" x2="425.93" y2="251.70" stroke="#111" stroke-width="0.7"/>
<line x1="424.33" y1="249.90" x2="424.33" y2="251.70" stroke="#111" stroke-width="0.7"/>
<line x1="422.73" y1="277.20" x2="425.93" y2="277.20" stroke="#111" stroke-width="0.7"/>
<line x1="422.73" y1="279.20" x2="425.93" y2="279.20" stroke="#111" stroke-width="0.7"/>
<line x1="424.33" y1="277.20" x2="424.33" y2="279.20" stroke="#111" stroke-width="0.7"/>
<line x1="422.73" y1="243.60" x2="425.93" y2="243.60" stroke="#111" stroke-width="0.7"/>
<line x1="422.73" y1="244.80" x2="425.93" y2="244.80" stroke="#111" stroke-width="0.7"/>
<line x1="424.33" y1="243.60" x2="424.33" y2="244.80" stroke="#111" stroke-width="0.7"/>
<line x1="424.33" y1="318.20" x2="424.33" y2="321.60" stroke="#111" stroke-width="0.8"/>
<text x="424.33" y="330.00" font-size="6.5" text-anchor="middle" font-weight="normal" fill="#222" stroke="#222" stroke-width="0.130">+</text>
<circle cx="424.33" cy="260.8" r="0.75" fill="#111"/>
<rect x="431.32" y="243.50" width="8.40" height="4.70" fill="#6ab04c"/>
<rect x="431.32" y="248.20" width="8.40" height="30.30" fill="#a6002d"/>
<rect x="431.32" y="278.50" width="8.40" height="39.70" fill="#2b4c82"/>
<line x1="433.92" y1="247.30" x2="437.12" y2="247.30" stroke="#111" stroke-width="0.7"/>
<line x1="433.92" y1="249.10" x2="437.12" y2="249.10" stroke="#111" stroke-width="0.7"/>
<line x1="435.52" y1="247.30" x2="435.52" y2="249.10" stroke="#111" stroke-width="0.7"/>
<line x1="433.92" y1="277.50" x2="437.12" y2="277.50" stroke="#111" stroke-width="0.7"/>
<line x1="433.92" y1="279.50" x2="437.12" y2="279.50" stroke="#111" stroke-width="0.7"/>
<line x1="435.52" y1="277.50" x2="435.52" y2="279.50" stroke="#111" stroke-width="0.7"/>
<line x1="433.92" y1="243.60" x2="437.12" y2="243.60" stroke="#111" stroke-width="0.7"/>
<line x1="433.92" y1="244.80" x2="437.12" y2="244.80" stroke="#111" stroke-width="0.7"/>
<line x1="435.52" y1="243.60" x2="435.52" y2="244.80" stroke="#111" stroke-width="0.7"/>
<line x1="435.52" y1="318.20" x2="435.52" y2="321.60" stroke="#111" stroke-width="0.8"/>
<text x="435.52" y="330.00" font-size="6.5" text-anchor="middle" font-weight="normal" fill="#222" stroke="#222" stroke-width="0.130">-</text>
<rect x="442.51" y="243.50" width="8.40" height="8.00" fill="#6ab04c"/>
<rect x="442.51" y="251.50" width="8.40" height="23.30" fill="#a6002d"/>
<rect x="442.51" y="274.80" width="8.40" height="43.40" fill="#2b4c82"/>
<line x1="445.11" y1="250.60" x2="448.31" y2="250.60" stroke="#111" stroke-width="0.7"/>
<line x1="445.11" y1="252.40" x2="448.31" y2="252.40" stroke="#111" stroke-width="0.7"/>
<line x1="446.71" y1="250.60" x2="446.71" y2="252.40" stroke="#111" stroke-width="0.7"/>
<line x1="445.11" y1="273.80" x2="448.31" y2="273.80" stroke="#111" stroke-width="0.7"/>
<line x1="445.11" y1="275.80" x2="448.31" y2="275.80" stroke="#111" stroke-width="0.7"/>
<line x1="446.71" y1="273.80" x2="446.71" y2="275.80" stroke="#111" stroke-width="0.7"/>
<line x1="445.11" y1="243.60" x2="448.31" y2="243.60" stroke="#111" stroke-width="0.7"/>
<line x1="445.11" y1="244.80" x2="448.31" y2="244.80" stroke="#111" stroke-width="0.7"/>
<line x1="446.71" y1="243.60" x2="446.71" y2="244.80" stroke="#111" stroke-width="0.7"/>
<line x1="446.71" y1="318.20" x2="446.71" y2="321.60" stroke="#111" stroke-width="0.8"/>
<text x="446.71" y="330.00" font-size="6.5" text-anchor="middle" font-weight="normal" fill="#222" stroke="#222" stroke-width="0.130">+</text>
<rect x="453.70" y="243.50" width="8.40" height="3.90" fill="#6ab04c"/>
<rect x="453.70" y="247.40" width="8.40" height="23.40" fill="#a6002d"/>
<rect x="453.70" y="270.80" width="8.40" height="47.40" fill="#2b4c82"/>
<line x1="456.30" y1="246.50" x2="459.50" y2="246.50" stroke="#111" stroke-width="0.7"/>
<line x1="456.30" y1="248.30" x2="459.50" y2="248.30" stroke="#111" stroke-width="0.7"/>
<line x1="457.90" y1="246.50" x2="457.90" y2="248.30" stroke="#111" stroke-width="0.7"/>
<line x1="456.30" y1="269.80" x2="459.50" y2="269.80" stroke="#111" stroke-width="0.7"/>
<line x1="456.30" y1="271.80" x2="459.50" y2="271.80" stroke="#111" stroke-width="0.7"/>
<line x1="457.90" y1="269.80" x2="457.90" y2="271.80" stroke="#111" stroke-width="0.7"/>
<line x1="456.30" y1="243.60" x2="459.50" y2="243.60" stroke="#111" stroke-width="0.7"/>
<line x1="456.30" y1="244.80" x2="459.50" y2="244.80" stroke="#111" stroke-width="0.7"/>
<line x1="457.90" y1="243.60" x2="457.90" y2="244.80" stroke="#111" stroke-width="0.7"/>
<line x1="457.90" y1="318.20" x2="457.90" y2="321.60" stroke="#111" stroke-width="0.8"/>
<text x="457.90" y="330.00" font-size="6.5" text-anchor="middle" font-weight="normal" fill="#222" stroke="#222" stroke-width="0.130">-</text>
<rect x="464.89" y="243.50" width="8.40" height="5.20" fill="#6ab04c"/>
<rect x="464.89" y="248.70" width="8.40" height="29.80" fill="#a6002d"/>
<rect x="464.89" y="278.50" width="8.40" height="39.70" fill="#2b4c82"/>
<line x1="467.49" y1="247.80" x2="470.69" y2="247.80" stroke="#111" stroke-width="0.7"/>
<line x1="467.49" y1="249.60" x2="470.69" y2="249.60" stroke="#111" stroke-width="0.7"/>
<line x1="469.09" y1="247.80" x2="469.09" y2="249.60" stroke="#111" stroke-width="0.7"/>
<line x1="467.49" y1="277.50" x2="470.69" y2="277.50" stroke="#111" stroke-width="0.7"/>
<line x1="467.49" y1="279.50" x2="470.69" y2="279.50" stroke="#111" stroke-width="0.7"/>
<line x1="469.09" y1="277.50" x2="469.09" y2="279.50" stroke="#111" stroke-width="0.7"/>
<line x1="467.49" y1="243.60" x2="470.69" y2="243.60" stroke="#111" stroke-width="0.7"/>
<line x1="467.49" y1="244.80" x2="470.69" y2="244.80" stroke="#111" stroke-width="0.7"/>
<line x1="469.09" y1="243.60" x2="469.09" y2="244.80" stroke="#111" stroke-width="0.7"/>
<line x1="469.09" y1="318.20" x2="469.09" y2="321.60" stroke="#111" stroke-width="0.8"/>
<text x="469.09" y="330.00" font-size="6.5" text-anchor="middle" font-weight="normal" fill="#222" stroke="#222" stroke-width="0.130">+</text>
<rect x="476.08" y="243.50" width="8.40" height="5.20" fill="#6ab04c"/>
<rect x="476.08" y="248.70" width="8.40" height="38.70" fill="#a6002d"/>
<rect x="476.08" y="287.40" width="8.40" height="30.80" fill="#2b4c82"/>
<line x1="478.68" y1="247.80" x2="481.88" y2="247.80" stroke="#111" stroke-width="0.7"/>
<line x1="478.68" y1="249.60" x2="481.88" y2="249.60" stroke="#111" stroke-width="0.7"/>
<line x1="480.28" y1="247.80" x2="480.28" y2="249.60" stroke="#111" stroke-width="0.7"/>
<line x1="478.68" y1="286.40" x2="481.88" y2="286.40" stroke="#111" stroke-width="0.7"/>
<line x1="478.68" y1="288.40" x2="481.88" y2="288.40" stroke="#111" stroke-width="0.7"/>
<line x1="480.28" y1="286.40" x2="480.28" y2="288.40" stroke="#111" stroke-width="0.7"/>
<line x1="478.68" y1="243.60" x2="481.88" y2="243.60" stroke="#111" stroke-width="0.7"/>
<line x1="478.68" y1="244.80" x2="481.88" y2="244.80" stroke="#111" stroke-width="0.7"/>
<line x1="480.28" y1="243.60" x2="480.28" y2="244.80" stroke="#111" stroke-width="0.7"/>
<line x1="480.28" y1="318.20" x2="480.28" y2="321.60" stroke="#111" stroke-width="0.8"/>
<text x="480.28" y="330.00" font-size="6.5" text-anchor="middle" font-weight="normal" fill="#222" stroke="#222" stroke-width="0.130">-</text>
<rect x="487.27" y="243.50" width="8.40" height="7.60" fill="#6ab04c"/>
<rect x="487.27" y="251.10" width="8.40" height="40.70" fill="#a6002d"/>
<rect x="487.27" y="291.80" width="8.40" height="26.40" fill="#2b4c82"/>
<line x1="489.87" y1="250.20" x2="493.07" y2="250.20" stroke="#111" stroke-width="0.7"/>
<line x1="489.87" y1="252.00" x2="493.07" y2="252.00" stroke="#111" stroke-width="0.7"/>
<line x1="491.47" y1="250.20" x2="491.47" y2="252.00" stroke="#111" stroke-width="0.7"/>
<line x1="489.87" y1="290.80" x2="493.07" y2="290.80" stroke="#111" stroke-width="0.7"/>
<line x1="489.87" y1="292.80" x2="493.07" y2="292.80" stroke="#111" stroke-width="0.7"/>
<line x1="491.47" y1="290.80" x2="491.47" y2="292.80" stroke="#111" stroke-width="0.7"/>
<line x1="489.87" y1="243.60" x2="493.07" y2="243.60" stroke="#111" stroke-width="0.7"/>
<line x1="489.87" y1="244.80" x2="493.07" y2="244.80" stroke="#111" stroke-width="0.7"/>
<line x1="491.47" y1="243.60" x2="491.47" y2="244.80" stroke="#111" stroke-width="0.7"/>
<line x1="491.47" y1="318.20" x2="491.47" y2="321.60" stroke="#111" stroke-width="0.8"/>
<text x="491.47" y="330.00" font-size="6.5" text-anchor="middle" font-weight="normal" fill="#222" stroke="#222" stroke-width="0.130">+</text>
<text x="316.90" y="329.60" font-size="5.6" text-anchor="start" font-weight="normal" fill="#222" textLength="17.70" lengthAdjust="spacingAndGlyphs" stroke="#222" stroke-width="0.16">shAK2</text>
<text x="341.20" y="339.30" font-size="6.4" text-anchor="start" font-weight="normal" fill="#222" textLength="22.30" lengthAdjust="spacingAndGlyphs" stroke="#222" stroke-width="0.128">JURKAT</text>
<text x="367.00" y="339.30" font-size="6.4" text-anchor="start" font-weight="normal" fill="#222" textLength="14.60" lengthAdjust="spacingAndGlyphs" stroke="#222" stroke-width="0.128">RPMI</text>
<text x="388.80" y="339.30" font-size="6.4" text-anchor="start" font-weight="normal" fill="#222" textLength="16.20" lengthAdjust="spacingAndGlyphs" stroke="#222" stroke-width="0.128">PEER</text>
<text x="409.00" y="339.30" font-size="6.4" text-anchor="start" font-weight="normal" fill="#222" textLength="20.30" lengthAdjust="spacingAndGlyphs" stroke="#222" stroke-width="0.128">MOLT-4</text>
<text x="435.20" y="339.30" font-size="6.4" text-anchor="start" font-weight="normal" fill="#222" textLength="13.30" lengthAdjust="spacingAndGlyphs" stroke="#222" stroke-width="0.128">CEM</text>
<text x="450.30" y="339.30" font-size="6.4" text-anchor="start" font-weight="normal" fill="#222" textLength="27.80" lengthAdjust="spacingAndGlyphs" stroke="#222" stroke-width="0.128">RCH-ACV</text>
<text x="480.00" y="339.30" font-size="6.4" text-anchor="start" font-weight="normal" fill="#222" textLength="13.10" lengthAdjust="spacingAndGlyphs" stroke="#222" stroke-width="0.128">REH</text>
<rect x="381.50" y="226.40" width="8.10" height="4.90" fill="#2b4c82"/>
<text x="392.50" y="230.60" font-size="5.0" text-anchor="start" font-weight="normal" fill="#222" textLength="15.60" lengthAdjust="spacingAndGlyphs" stroke="#222" stroke-width="0.16">G0/G1</text>
<rect x="417.50" y="226.40" width="8.10" height="4.90" fill="#a6002d"/>
<text x="428.70" y="230.60" font-size="5.0" text-anchor="start" font-weight="normal" fill="#222" textLength="3.60" lengthAdjust="spacingAndGlyphs" stroke="#222" stroke-width="0.16">S</text>
<rect x="440.80" y="226.40" width="8.10" height="4.90" fill="#6ab04c"/>
<text x="451.70" y="230.60" font-size="5.0" text-anchor="start" font-weight="normal" fill="#222" textLength="13.50" lengthAdjust="spacingAndGlyphs" stroke="#222" stroke-width="0.16">G2/M</text>
<line x1="37.60" y1="396.60" x2="37.60" y2="462.70" stroke="#111" stroke-width="1.4"/>
<line x1="36.90" y1="462.00" x2="133.70" y2="462.00" stroke="#111" stroke-width="1.4"/>
<line x1="34.40" y1="462.00" x2="37.60" y2="462.00" stroke="#111" stroke-width="0.9"/>
<text x="32.40" y="464.10" font-size="6.0" text-anchor="end" font-weight="normal" fill="#222" stroke="#222" stroke-width="0.16">0</text>
<line x1="34.40" y1="430.65" x2="37.60" y2="430.65" stroke="#111" stroke-width="0.9"/>
<text x="32.40" y="432.75" font-size="6.0" text-anchor="end" font-weight="normal" fill="#222" stroke="#222" stroke-width="0.16">50</text>
<line x1="34.40" y1="399.30" x2="37.60" y2="399.30" stroke="#111" stroke-width="0.9"/>
<text x="32.40" y="401.40" font-size="6.0" text-anchor="end" font-weight="normal" fill="#222" stroke="#222" stroke-width="0.16">100</text>
<line x1="37.60" y1="462.00" x2="37.60" y2="465.20" stroke="#111" stroke-width="0.9"/>
<text x="37.60" y="473.00" font-size="5.6" text-anchor="middle" font-weight="normal" fill="#222" stroke="#222" stroke-width="0.16">0</text>
<line x1="61.10" y1="462.00" x2="61.10" y2="465.20" stroke="#111" stroke-width="0.9"/>
<text x="61.10" y="473.00" font-size="5.6" text-anchor="middle" font-weight="normal" fill="#222" stroke="#222" stroke-width="0.16">2</text>
<line x1="84.60" y1="462.00" x2="84.60" y2="465.20" stroke="#111" stroke-width="0.9"/>
<text x="84.60" y="473.00" font-size="5.6" text-anchor="middle" font-weight="normal" fill="#222" stroke="#222" stroke-width="0.16">4</text>
<line x1="108.10" y1="462.00" x2="108.10" y2="465.20" stroke="#111" stroke-width="0.9"/>
<text x="108.10" y="473.00" font-size="5.6" text-anchor="middle" font-weight="normal" fill="#222" stroke="#222" stroke-width="0.16">6</text>
<line x1="131.60" y1="462.00" x2="131.60" y2="465.20" stroke="#111" stroke-width="0.9"/>
<text x="131.60" y="473.00" font-size="5.6" text-anchor="middle" font-weight="normal" fill="#222" stroke="#222" stroke-width="0.16">8</text>
<text x="85.85" y="484.70" font-size="8.2" text-anchor="middle" font-weight="normal" fill="#222" textLength="12.00" lengthAdjust="spacingAndGlyphs" stroke="#222" stroke-width="0.32">Days</text>
<text transform="translate(15.00,428.80) rotate(-90)" font-size="7.8" text-anchor="middle" font-weight="normal" fill="#222" textLength="86.50" lengthAdjust="spacingAndGlyphs" stroke="#222" stroke-width="0.32">Relative proliferation to day 0 (%)</text>
<line x1="72.90" y1="405.80" x2="72.90" y2="412.40" stroke="#2b4c8c" stroke-width="0.8"/>
<line x1="71.40" y1="405.80" x2="74.40" y2="405.80" stroke="#2b4c8c" stroke-width="0.8"/>
<line x1="71.40" y1="412.40" x2="74.40" y2="412.40" stroke="#2b4c8c" stroke-width="0.8"/>
<line x1="119.90" y1="408.30" x2="119.90" y2="416.40" stroke="#2b4c8c" stroke-width="0.8"/>
<line x1="118.40" y1="408.30" x2="121.40" y2="408.30" stroke="#2b4c8c" stroke-width="0.8"/>
<line x1="118.40" y1="416.40" x2="121.40" y2="416.40" stroke="#2b4c8c" stroke-width="0.8"/>
<line x1="72.90" y1="425.00" x2="72.90" y2="441.50" stroke="#c04060" stroke-width="0.8"/>
<line x1="71.40" y1="425.00" x2="74.40" y2="425.00" stroke="#c04060" stroke-width="0.8"/>
<line x1="71.40" y1="441.50" x2="74.40" y2="441.50" stroke="#c04060" stroke-width="0.8"/>
<line x1="119.90" y1="441.30" x2="119.90" y2="451.00" stroke="#c04060" stroke-width="0.8"/>
<line x1="118.40" y1="441.30" x2="121.40" y2="441.30" stroke="#c04060" stroke-width="0.8"/>
<line x1="118.40" y1="451.00" x2="121.40" y2="451.00" stroke="#c04060" stroke-width="0.8"/>
<polyline points="37.60,399.00 72.90,409.20 119.90,412.40" fill="none" stroke="#2b4c8c" stroke-width="1.1"/>
<polyline points="37.60,399.00 72.90,433.50 119.90,446.20" fill="none" stroke="#b0103a" stroke-width="1.2"/>
<circle cx="37.6" cy="399" r="1.3" fill="#2b4c8c"/>
<circle cx="72.9" cy="409.2" r="1.3" fill="#2b4c8c"/>
<circle cx="119.9" cy="412.4" r="1.3" fill="#2b4c8c"/>
<circle cx="72.9" cy="433.5" r="1.4" fill="#b0103a"/>
<circle cx="119.9" cy="446.2" r="1.4" fill="#b0103a"/>
<polyline points="124.20,411.70 128.40,411.70 128.40,446.20 124.20,446.20" fill="none" stroke="#444" stroke-width="0.8"/>
<text x="130.80" y="431.50" font-size="4.2" text-anchor="start" font-weight="normal" fill="#333" stroke="#333" stroke-width="0.1">**</text>
<line x1="59.20" y1="386.80" x2="66.40" y2="386.80" stroke="#2b4c8c" stroke-width="1.0"/>
<circle cx="62.8" cy="386.8" r="1.1" fill="#2b4c8c"/>
<text x="69.10" y="388.60" font-size="5.0" text-anchor="start" font-weight="normal" fill="#222" textLength="11.70" lengthAdjust="spacingAndGlyphs" stroke="#222" stroke-width="0.16">sh sc</text>
<line x1="88.20" y1="386.80" x2="95.60" y2="386.80" stroke="#b0103a" stroke-width="1.2"/>
<circle cx="91.9" cy="386.8" r="1.2" fill="#b0103a"/>
<text x="97.70" y="388.60" font-size="5.0" text-anchor="start" font-weight="normal" fill="#222" textLength="14.80" lengthAdjust="spacingAndGlyphs" stroke="#222" stroke-width="0.16">shAK2</text>
<line x1="184.20" y1="388.00" x2="184.20" y2="462.60" stroke="#111" stroke-width="1.4"/>
<line x1="183.50" y1="461.90" x2="290.80" y2="461.90" stroke="#111" stroke-width="1.4"/>
<line x1="180.60" y1="461.90" x2="184.20" y2="461.90" stroke="#111" stroke-width="0.9"/>
<text x="179.40" y="464.00" font-size="6.0" text-anchor="end" font-weight="normal" fill="#222" stroke="#222" stroke-width="0.16">0</text>
<line x1="180.60" y1="444.24" x2="184.20" y2="444.24" stroke="#111" stroke-width="0.9"/>
<text x="179.40" y="446.34" font-size="6.0" text-anchor="end" font-weight="normal" fill="#222" stroke="#222" stroke-width="0.16">20</text>
<line x1="180.60" y1="426.58" x2="184.20" y2="426.58" stroke="#111" stroke-width="0.9"/>
<text x="179.40" y="428.68" font-size="6.0" text-anchor="end" font-weight="normal" fill="#222" stroke="#222" stroke-width="0.16">40</text>
<line x1="180.60" y1="408.92" x2="184.20" y2="408.92" stroke="#111" stroke-width="0.9"/>
<text x="179.40" y="411.02" font-size="6.0" text-anchor="end" font-weight="normal" fill="#222" stroke="#222" stroke-width="0.16">60</text>
<line x1="180.60" y1="391.26" x2="184.20" y2="391.26" stroke="#111" stroke-width="0.9"/>
<text x="179.40" y="393.36" font-size="6.0" text-anchor="end" font-weight="normal" fill="#222" stroke="#222" stroke-width="0.16">80</text>
<text transform="translate(165.50,425.40) rotate(-90)" font-size="7.8" text-anchor="middle" font-weight="normal" fill="#222" textLength="58.60" lengthAdjust="spacingAndGlyphs" stroke="#222" stroke-width="0.32">%annV-PI positive cells</text>
<line x1="197.65" y1="433.90" x2="197.65" y2="444.00" stroke="#222" stroke-width="0.9"/>
<line x1="193.75" y1="433.90" x2="201.55" y2="433.90" stroke="#222" stroke-width="0.9"/>
<rect x="188.40" y="444.00" width="18.50" height="17.90" fill="#2b4c82"/>
<line x1="197.65" y1="461.90" x2="197.65" y2="465.40" stroke="#111" stroke-width="0.9"/>
<line x1="224.05" y1="398.70" x2="224.05" y2="417.20" stroke="#222" stroke-width="0.9"/>
<line x1="220.15" y1="398.70" x2="227.95" y2="398.70" stroke="#222" stroke-width="0.9"/>
<rect x="214.80" y="417.20" width="18.50" height="44.70" fill="#a6002d"/>
<line x1="224.05" y1="461.90" x2="224.05" y2="465.40" stroke="#111" stroke-width="0.9"/>
<line x1="250.75" y1="439.30" x2="250.75" y2="444.00" stroke="#222" stroke-width="0.9"/>
<line x1="246.85" y1="439.30" x2="254.65" y2="439.30" stroke="#222" stroke-width="0.9"/>
<rect x="241.50" y="444.00" width="18.50" height="17.90" fill="#2b4c82"/>
<line x1="250.75" y1="461.90" x2="250.75" y2="465.40" stroke="#111" stroke-width="0.9"/>
<line x1="277.55" y1="391.30" x2="277.55" y2="403.30" stroke="#222" stroke-width="0.9"/>
<line x1="273.65" y1="391.30" x2="281.45" y2="391.30" stroke="#222" stroke-width="0.9"/>
<rect x="268.30" y="403.30" width="18.50" height="58.60" fill="#a6002d"/>
<line x1="277.55" y1="461.90" x2="277.55" y2="465.40" stroke="#111" stroke-width="0.9"/>
<polyline points="197.60,433.50 197.60,384.60 224.00,384.60 224.00,398.40" fill="none" stroke="#222" stroke-width="0.8"/>
<text x="210.80" y="384.90" font-size="4.6" text-anchor="middle" font-weight="normal" fill="#111" stroke="#111" stroke-width="0.16">*</text>
<polyline points="250.80,438.90 250.80,378.20 277.50,378.20 277.50,391.00" fill="none" stroke="#222" stroke-width="0.8"/>
<text x="264.10" y="377.80" font-size="4.6" text-anchor="middle" font-weight="normal" fill="#111" textLength="5.40" lengthAdjust="spacingAndGlyphs" stroke="#111" stroke-width="0.16">***</text>
<text x="161.00" y="473.10" font-size="5.6" text-anchor="start" font-weight="normal" fill="#222" textLength="17.60" lengthAdjust="spacingAndGlyphs" stroke="#222" stroke-width="0.16">shAK2</text>
<text x="197.60" y="473.40" font-size="6.5" text-anchor="middle" font-weight="normal" fill="#222" stroke="#222" stroke-width="0.130">-</text>
<text x="224.00" y="473.40" font-size="6.5" text-anchor="middle" font-weight="normal" fill="#222" stroke="#222" stroke-width="0.130">+</text>
<text x="250.80" y="473.40" font-size="6.5" text-anchor="middle" font-weight="normal" fill="#222" stroke="#222" stroke-width="0.130">-</text>
<text x="277.50" y="473.40" font-size="6.5" text-anchor="middle" font-weight="normal" fill="#222" stroke="#222" stroke-width="0.130">+</text>
<line x1="192.20" y1="476.90" x2="228.30" y2="476.90" stroke="#111" stroke-width="1.0"/>
<line x1="247.00" y1="476.90" x2="282.50" y2="476.90" stroke="#111" stroke-width="1.0"/>
<text x="203.00" y="485.90" font-size="8.0" text-anchor="start" font-weight="normal" fill="#222" textLength="14.70" lengthAdjust="spacingAndGlyphs" stroke="#222" stroke-width="0.32">Day 3</text>
<text x="257.50" y="485.90" font-size="8.0" text-anchor="start" font-weight="normal" fill="#222" textLength="14.80" lengthAdjust="spacingAndGlyphs" stroke="#222" stroke-width="0.32">Day 7</text>
<line x1="340.50" y1="376.50" x2="340.50" y2="462.50" stroke="#111" stroke-width="1.4"/>
<line x1="339.80" y1="461.80" x2="395.30" y2="461.80" stroke="#111" stroke-width="1.4"/>
<line x1="337.10" y1="461.80" x2="340.50" y2="461.80" stroke="#111" stroke-width="0.9"/>
<text x="334.60" y="463.90" font-size="6.0" text-anchor="end" font-weight="normal" fill="#222" stroke="#222" stroke-width="0.16">0</text>
<line x1="337.10" y1="445.16" x2="340.50" y2="445.16" stroke="#111" stroke-width="0.9"/>
<text x="334.60" y="447.26" font-size="6.0" text-anchor="end" font-weight="normal" fill="#222" stroke="#222" stroke-width="0.16">20</text>
<line x1="337.10" y1="428.52" x2="340.50" y2="428.52" stroke="#111" stroke-width="0.9"/>
<text x="334.60" y="430.62" font-size="6.0" text-anchor="end" font-weight="normal" fill="#222" stroke="#222" stroke-width="0.16">40</text>
<line x1="337.10" y1="411.88" x2="340.50" y2="411.88" stroke="#111" stroke-width="0.9"/>
<text x="334.60" y="413.98" font-size="6.0" text-anchor="end" font-weight="normal" fill="#222" stroke="#222" stroke-width="0.16">60</text>
<line x1="337.10" y1="395.24" x2="340.50" y2="395.24" stroke="#111" stroke-width="0.9"/>
<text x="334.60" y="397.34" font-size="6.0" text-anchor="end" font-weight="normal" fill="#222" stroke="#222" stroke-width="0.16">80</text>
<line x1="337.10" y1="378.60" x2="340.50" y2="378.60" stroke="#111" stroke-width="0.9"/>
<text x="334.60" y="380.70" font-size="6.0" text-anchor="end" font-weight="normal" fill="#222" stroke="#222" stroke-width="0.16">100</text>
<line x1="356.00" y1="461.80" x2="356.00" y2="465.20" stroke="#111" stroke-width="0.9"/>
<text x="356.00" y="473.20" font-size="6.1" text-anchor="middle" font-weight="normal" fill="#222" stroke="#222" stroke-width="0.16">D3</text>
<line x1="380.10" y1="461.80" x2="380.10" y2="465.20" stroke="#111" stroke-width="0.9"/>
<text x="380.10" y="473.20" font-size="6.1" text-anchor="middle" font-weight="normal" fill="#222" stroke="#222" stroke-width="0.16">D7</text>
<text x="362.00" y="373.20" font-size="6.6" text-anchor="start" font-weight="normal" fill="#111" textLength="12.50" lengthAdjust="spacingAndGlyphs" stroke="#111" stroke-width="0.132">Ctrl</text>
<text transform="translate(318.60,418.50) rotate(-90)" font-size="7.8" text-anchor="middle" font-weight="normal" fill="#222" textLength="59.70" lengthAdjust="spacingAndGlyphs" stroke="#222" stroke-width="0.32">% annV-PI-positive cells</text>
<line x1="356.00" y1="430.40" x2="380.10" y2="439.40" stroke="#23417f" stroke-width="0.8"/>
<circle cx="356.0" cy="430.4" r="1.2" fill="#23417f"/>
<circle cx="380.1" cy="439.4" r="1.2" fill="#23417f"/>
<line x1="356.00" y1="443.80" x2="380.10" y2="441.00" stroke="#23417f" stroke-width="0.8"/>
<circle cx="356.0" cy="443.8" r="1.2" fill="#23417f"/>
<circle cx="380.1" cy="441.0" r="1.2" fill="#23417f"/>
<line x1="356.00" y1="444.60" x2="380.10" y2="449.60" stroke="#23417f" stroke-width="0.8"/>
<circle cx="356.0" cy="444.6" r="1.2" fill="#23417f"/>
<circle cx="380.1" cy="449.6" r="1.2" fill="#23417f"/>
<line x1="356.00" y1="454.60" x2="380.10" y2="446.90" stroke="#23417f" stroke-width="0.8"/>
<circle cx="356.0" cy="454.6" r="1.2" fill="#23417f"/>
<circle cx="380.1" cy="446.9" r="1.2" fill="#23417f"/>
<line x1="356.00" y1="454.60" x2="380.10" y2="449.60" stroke="#23417f" stroke-width="0.8"/>
<circle cx="356.0" cy="454.6" r="1.2" fill="#23417f"/>
<circle cx="380.1" cy="449.6" r="1.2" fill="#23417f"/>
<text x="368.80" y="427.90" font-size="5.8" text-anchor="middle" font-weight="normal" fill="#333" textLength="5.00" lengthAdjust="spacingAndGlyphs" stroke="#333" stroke-width="0.16">ns</text>
<line x1="433.50" y1="376.50" x2="433.50" y2="462.50" stroke="#111" stroke-width="1.4"/>
<line x1="432.80" y1="461.80" x2="488.20" y2="461.80" stroke="#111" stroke-width="1.4"/>
<line x1="430.10" y1="461.80" x2="433.50" y2="461.80" stroke="#111" stroke-width="0.9"/>
<text x="427.60" y="463.90" font-size="6.0" text-anchor="end" font-weight="normal" fill="#222" stroke="#222" stroke-width="0.16">0</text>
<line x1="430.10" y1="445.16" x2="433.50" y2="445.16" stroke="#111" stroke-width="0.9"/>
<text x="427.60" y="447.26" font-size="6.0" text-anchor="end" font-weight="normal" fill="#222" stroke="#222" stroke-width="0.16">20</text>
<line x1="430.10" y1="428.52" x2="433.50" y2="428.52" stroke="#111" stroke-width="0.9"/>
<text x="427.60" y="430.62" font-size="6.0" text-anchor="end" font-weight="normal" fill="#222" stroke="#222" stroke-width="0.16">40</text>
<line x1="430.10" y1="411.88" x2="433.50" y2="411.88" stroke="#111" stroke-width="0.9"/>
<text x="427.60" y="413.98" font-size="6.0" text-anchor="end" font-weight="normal" fill="#222" stroke="#222" stroke-width="0.16">60</text>
<line x1="430.10" y1="395.24" x2="433.50" y2="395.24" stroke="#111" stroke-width="0.9"/>
<text x="427.60" y="397.34" font-size="6.0" text-anchor="end" font-weight="normal" fill="#222" stroke="#222" stroke-width="0.16">80</text>
<line x1="430.10" y1="378.60" x2="433.50" y2="378.60" stroke="#111" stroke-width="0.9"/>
<text x="427.60" y="380.70" font-size="6.0" text-anchor="end" font-weight="normal" fill="#222" stroke="#222" stroke-width="0.16">100</text>
<line x1="449.20" y1="461.80" x2="449.20" y2="465.20" stroke="#111" stroke-width="0.9"/>
<text x="449.20" y="473.20" font-size="6.1" text-anchor="middle" font-weight="normal" fill="#222" stroke="#222" stroke-width="0.16">D3</text>
<line x1="472.90" y1="461.80" x2="472.90" y2="465.20" stroke="#111" stroke-width="0.9"/>
<text x="472.90" y="473.20" font-size="6.1" text-anchor="middle" font-weight="normal" fill="#222" stroke="#222" stroke-width="0.16">D7</text>
<text x="449.80" y="373.20" font-size="6.6" text-anchor="start" font-weight="normal" fill="#111" textLength="22.20" lengthAdjust="spacingAndGlyphs" stroke="#111" stroke-width="0.132">shAK2</text>
<text transform="translate(411.60,418.50) rotate(-90)" font-size="7.8" text-anchor="middle" font-weight="normal" fill="#222" textLength="59.70" lengthAdjust="spacingAndGlyphs" stroke="#222" stroke-width="0.32">% annV-PI-positive cells</text>
<line x1="449.20" y1="408.70" x2="472.90" y2="394.50" stroke="#a8103a" stroke-width="0.8"/>
<circle cx="449.2" cy="408.7" r="1.2" fill="#a8103a"/>
<circle cx="472.9" cy="394.5" r="1.2" fill="#a8103a"/>
<line x1="449.20" y1="409.40" x2="472.90" y2="398.70" stroke="#a8103a" stroke-width="0.8"/>
<circle cx="449.2" cy="409.4" r="1.2" fill="#a8103a"/>
<circle cx="472.9" cy="398.7" r="1.2" fill="#a8103a"/>
<line x1="449.20" y1="412.10" x2="472.90" y2="403.60" stroke="#a8103a" stroke-width="0.8"/>
<circle cx="449.2" cy="412.1" r="1.2" fill="#a8103a"/>
<circle cx="472.9" cy="403.6" r="1.2" fill="#a8103a"/>
<line x1="449.20" y1="420.50" x2="472.90" y2="417.20" stroke="#a8103a" stroke-width="0.8"/>
<circle cx="449.2" cy="420.5" r="1.2" fill="#a8103a"/>
<circle cx="472.9" cy="417.2" r="1.2" fill="#a8103a"/>
<line x1="449.20" y1="449.50" x2="472.90" y2="421.40" stroke="#a8103a" stroke-width="0.8"/>
<circle cx="449.2" cy="449.5" r="1.2" fill="#a8103a"/>
<circle cx="472.9" cy="421.4" r="1.2" fill="#a8103a"/>
<text x="461.30" y="389.00" font-size="5.8" text-anchor="middle" font-weight="normal" fill="#333" textLength="5.00" lengthAdjust="spacingAndGlyphs" stroke="#333" stroke-width="0.16">ns</text>
<rect x="0.5" y="0.5" width="519" height="494.6" fill="none" stroke="#000" stroke-width="1"/>
<line x1="0" y1="495.35" x2="520" y2="495.35" stroke="#000" stroke-width="1.3"/>
</svg>
</body></html>
